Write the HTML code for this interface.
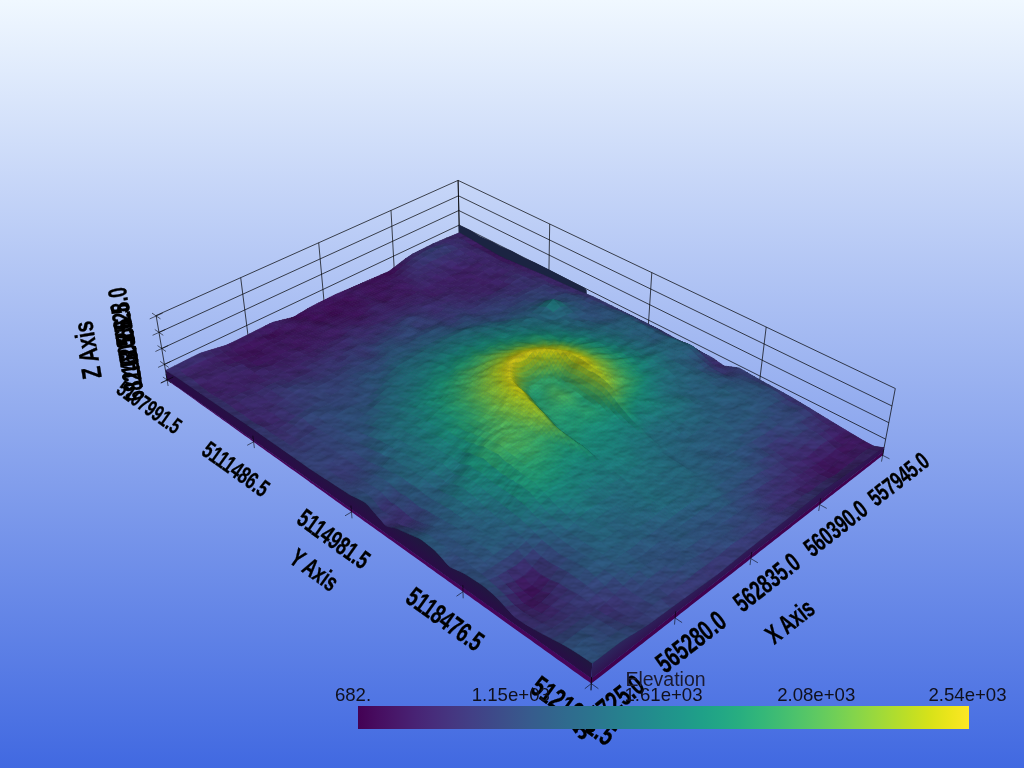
<!DOCTYPE html>
<html><head><meta charset="utf-8"><title>Elevation</title>
<style>
html,body{margin:0;padding:0;width:1024px;height:768px;overflow:hidden;background:#4169e1}
svg{display:block;position:absolute;left:0;top:0}
text{font-family:"Liberation Sans",sans-serif}
.al{font-weight:bold;text-anchor:middle;fill:#000;stroke:#000;stroke-width:.35px}
.cb{font-size:18.6px;text-anchor:middle;fill:#10101c}
.ct{font-size:19.5px;text-anchor:middle;fill:#1a1a30}
</style></head><body>
<svg width="1024" height="768" viewBox="0 0 1024 768">
<defs>
<linearGradient id="bg" x1="0" y1="0" x2="0" y2="1"><stop offset="0" stop-color="#f0f8ff"/><stop offset="1" stop-color="#4169e1"/></linearGradient>
<linearGradient id="vir" x1="0" y1="0" x2="1" y2="0"><stop offset="0.0000" stop-color="#440154"/><stop offset="0.0312" stop-color="#470d60"/><stop offset="0.0625" stop-color="#48186a"/><stop offset="0.0938" stop-color="#482374"/><stop offset="0.1250" stop-color="#472d7b"/><stop offset="0.1562" stop-color="#453781"/><stop offset="0.1875" stop-color="#424086"/><stop offset="0.2188" stop-color="#3e4989"/><stop offset="0.2500" stop-color="#3b528b"/><stop offset="0.2812" stop-color="#375b8d"/><stop offset="0.3125" stop-color="#33638d"/><stop offset="0.3438" stop-color="#2f6b8e"/><stop offset="0.3750" stop-color="#2c728e"/><stop offset="0.4062" stop-color="#297a8e"/><stop offset="0.4375" stop-color="#26828e"/><stop offset="0.4688" stop-color="#23898e"/><stop offset="0.5000" stop-color="#21918c"/><stop offset="0.5312" stop-color="#1f988b"/><stop offset="0.5625" stop-color="#1fa088"/><stop offset="0.5938" stop-color="#22a785"/><stop offset="0.6250" stop-color="#28ae80"/><stop offset="0.6562" stop-color="#32b67a"/><stop offset="0.6875" stop-color="#3fbc73"/><stop offset="0.7188" stop-color="#4ec36b"/><stop offset="0.7500" stop-color="#5ec962"/><stop offset="0.7812" stop-color="#70cf57"/><stop offset="0.8125" stop-color="#84d44b"/><stop offset="0.8438" stop-color="#98d83e"/><stop offset="0.8750" stop-color="#addc30"/><stop offset="0.9062" stop-color="#c2df23"/><stop offset="0.9375" stop-color="#d8e219"/><stop offset="0.9688" stop-color="#ece51b"/><stop offset="1.0000" stop-color="#fde725"/></linearGradient>
<linearGradient id="we" gradientUnits="userSpaceOnUse" x1="351.5" y1="512" x2="364.9" y2="493.3"><stop offset="0" stop-color="#2c0a48"/><stop offset="1" stop-color="#1b1c3d"/></linearGradient>
<linearGradient id="wn" gradientUnits="userSpaceOnUse" x1="750.8" y1="558.6" x2="737.2" y2="541.3"><stop offset="0" stop-color="#300e4e"/><stop offset="1" stop-color="#2b3063"/></linearGradient>
<filter id="tex" filterUnits="userSpaceOnUse" x="150" y="215" width="760" height="470" color-interpolation-filters="sRGB">
<feTurbulence type="fractalNoise" baseFrequency=".06 .11" numOctaves="3" seed="7" result="n"/>
<feDiffuseLighting in="n" surfaceScale="0.8" diffuseConstant="1" lighting-color="#fff" result="l"><feDistantLight azimuth="250" elevation="62"/></feDiffuseLighting>
<feComposite in="l" in2="SourceGraphic" operator="arithmetic" k1="1.13" k2="0" k3="0" k4="0" result="m"/>
<feComposite in="m" in2="SourceGraphic" operator="in"/>
</filter>
</defs>
<rect width="1024" height="768" fill="url(#bg)"/>
<path d="M167.1 380L459.5 239.4M459.5 239.4L882.6 455.3M164.4 364.4L459.2 225.1M459.2 225.1L885.7 439.2M161.8 348.5L458.8 210.5M458.8 210.5L888.8 422.7M159 332.4L458.5 195.8M458.5 195.8L892 406M156.1 315.5L458.1 180.4M458.1 180.4L895.3 388.5M459.5 239.4L458.1 180.4M394.3 270.8L391 210.4M324.3 304.5L318.7 242.7M248.7 340.8L240.7 277.7M167.1 380L156.1 315.5M459.5 239.4L458.1 180.4M548.7 284.9L549.7 224M647.7 335.5L651.8 272.6M758.3 391.9L766.2 327M882.6 455.3L895.3 388.5" stroke="#000" stroke-width=".9" fill="none" stroke-opacity=".78"/>
<polygon points="458.6,224.8 470,230 480,236.3 492,241.6 500,245.9 512,251 524,257.8 535,262.6 548,269 560,275.3 572,281.6 584,287.4 586.6,290 587,298 459,240" fill="#1b2442"/>
<polygon points="167.1,379.4 169.1,380.8 171.1,382.3 173.2,383.7 175.2,385.1 177.3,386.6 179.4,388 181.4,389.5 183.5,390.9 185.6,392.4 187.7,393.9 189.8,395.3 191.9,396.8 194,398.3 196.1,399.8 198.2,401.2 200.4,402.7 202.5,404.2 204.6,405.7 206.8,407.2 208.9,408.8 211.1,410.3 213.3,411.8 215.4,413.3 217.6,414.8 219.8,416.4 222,417.9 224.2,419.5 226.4,421 228.6,422.6 230.8,424.1 233.1,425.7 235.3,427.3 237.5,428.8 239.8,430.4 242,432 244.3,433.6 246.6,435.2 248.8,436.8 251.1,438.4 253.4,440 255.7,441.6 258,443.2 260.3,444.8 262.6,446.5 265,448.1 267.3,449.7 269.6,451.4 272,453 274.4,454.7 276.7,456.4 279.1,458 281.5,459.7 283.8,461.4 286.2,463 288.6,464.7 291,466.4 293.5,468.1 295.9,469.8 298.3,471.5 300.8,473.3 303.2,475 305.7,476.7 308.1,478.4 310.6,480.2 313.1,481.9 315.6,483.7 318.1,485.4 320.6,487.2 323.1,488.9 325.6,490.7 328.1,492.5 330.6,494.3 333.2,496.1 335.7,497.9 338.3,499.7 340.9,501.5 343.4,503.3 346,505.1 348.6,506.9 351.2,508.8 353.8,510.6 356.5,512.5 359.1,514.3 361.7,516.2 364.4,518 367,519.9 369.7,521.8 372.4,523.7 375,525.5 377.7,527.4 380.4,529.3 383.1,531.2 385.9,533.2 388.6,535.1 391.3,537 394.1,538.9 396.8,540.9 399.6,542.8 402.4,544.8 405.2,546.8 407.9,548.7 410.8,550.7 413.6,552.7 416.4,554.7 419.2,556.7 422.1,558.7 424.9,560.7 427.8,562.7 430.6,564.7 433.5,566.8 436.4,568.8 439.3,570.8 442.2,572.9 445.1,574.9 448.1,577 451,579.1 454,581.2 456.9,583.3 459.9,585.4 462.9,587.5 465.9,589.6 468.9,591.7 471.9,593.8 474.9,596 478,598.1 481,600.3 484.1,602.4 487.1,604.6 490.2,606.8 493.3,608.9 496.4,611.1 499.5,613.3 502.7,615.5 505.8,617.7 508.9,620 512.1,622.2 515.3,624.4 518.5,626.7 521.7,628.9 524.9,631.2 528.1,633.5 531.3,635.7 534.6,638 537.8,640.3 541.1,642.6 544.3,645 547.6,647.3 550.9,649.6 554.3,652 557.6,654.3 560.9,656.7 564.3,659 567.6,661.4 571,663.8 574.4,666.2 577.8,668.6 581.2,671 584.6,673.4 588.1,675.9 591.5,678.3 591.3,683.6 587.9,681.1 584.4,678.7 581,676.2 577.6,673.8 574.2,671.4 570.8,669 567.5,666.5 564.1,664.1 560.8,661.8 557.5,659.4 554.1,657 550.8,654.6 547.5,652.3 544.3,649.9 541,647.6 537.7,645.3 534.5,642.9 531.3,640.6 528,638.3 524.8,636 521.6,633.7 518.4,631.5 515.3,629.2 512.1,626.9 509,624.7 505.8,622.4 502.7,620.2 499.6,617.9 496.5,615.7 493.4,613.5 490.3,611.3 487.2,609.1 484.1,606.9 481.1,604.7 478.1,602.5 475,600.4 472,598.2 469,596.1 466,593.9 463,591.8 460,589.6 457.1,587.5 454.1,585.4 451.2,583.3 448.2,581.2 445.3,579.1 442.4,577 439.5,574.9 436.6,572.9 433.7,570.8 430.8,568.7 427.9,566.7 425.1,564.6 422.2,562.6 419.4,560.6 416.6,558.5 413.8,556.5 410.9,554.5 408.1,552.5 405.4,550.5 402.6,548.5 399.8,546.5 397,544.6 394.3,542.6 391.5,540.6 388.8,538.7 386.1,536.7 383.4,534.8 380.7,532.8 378,530.9 375.3,529 372.6,527.1 369.9,525.2 367.3,523.3 364.6,521.4 362,519.5 359.3,517.6 356.7,515.7 354.1,513.8 351.5,512 348.9,510.1 346.3,508.2 343.7,506.4 341.1,504.5 338.6,502.7 336,500.9 333.4,499 330.9,497.2 328.4,495.4 325.8,493.6 323.3,491.8 320.8,490 318.3,488.2 315.8,486.4 313.3,484.6 310.8,482.9 308.4,481.1 305.9,479.3 303.5,477.6 301,475.8 298.6,474.1 296.1,472.3 293.7,470.6 291.3,468.9 288.9,467.2 286.5,465.4 284.1,463.7 281.7,462 279.3,460.3 276.9,458.6 274.6,456.9 272.2,455.2 269.9,453.6 267.5,451.9 265.2,450.2 262.9,448.5 260.6,446.9 258.2,445.2 255.9,443.6 253.6,441.9 251.3,440.3 249.1,438.6 246.8,437 244.5,435.4 242.2,433.8 240,432.2 237.7,430.5 235.5,428.9 233.2,427.3 231,425.7 228.8,424.1 226.6,422.6 224.4,421 222.2,419.4 220,417.8 217.8,416.3 215.6,414.7 213.4,413.1 211.2,411.6 209.1,410 206.9,408.5 204.8,407 202.6,405.4 200.5,403.9 198.4,402.4 196.2,400.8 194.1,399.3 192,397.8 189.9,396.3 187.8,394.8 185.7,393.3 183.6,391.8 181.5,390.3 179.4,388.8 177.4,387.3 175.3,385.9 173.2,384.4 171.2,382.9 169.1,381.5 167.1,380" fill="#46065a"/>
<polygon points="883.3,451.4 881.3,453 879.3,454.5 877.3,456.1 875.3,457.7 873.2,459.2 871.2,460.8 869.2,462.4 867.1,464 865,465.6 863,467.2 860.9,468.8 858.8,470.4 856.8,472 854.7,473.7 852.6,475.3 850.5,476.9 848.4,478.6 846.3,480.2 844.1,481.8 842,483.5 839.9,485.1 837.7,486.8 835.6,488.5 833.4,490.1 831.3,491.8 829.1,493.5 826.9,495.2 824.8,496.9 822.6,498.6 820.4,500.3 818.2,502 816,503.7 813.8,505.4 811.6,507.1 809.3,508.9 807.1,510.6 804.9,512.3 802.6,514.1 800.4,515.8 798.1,517.6 795.8,519.4 793.6,521.1 791.3,522.9 789,524.7 786.7,526.5 784.4,528.2 782.1,530 779.8,531.8 777.5,533.6 775.1,535.5 772.8,537.3 770.4,539.1 768.1,540.9 765.7,542.8 763.4,544.6 761,546.5 758.6,548.3 756.2,550.2 753.8,552 751.4,553.9 749,555.8 746.6,557.7 744.1,559.5 741.7,561.4 739.3,563.3 736.8,565.2 734.4,567.2 731.9,569.1 729.4,571 726.9,572.9 724.4,574.9 721.9,576.8 719.4,578.8 716.9,580.7 714.4,582.7 711.9,584.7 709.3,586.6 706.8,588.6 704.2,590.6 701.6,592.6 699.1,594.6 696.5,596.6 693.9,598.6 691.3,600.7 688.7,602.7 686.1,604.7 683.4,606.8 680.8,608.8 678.1,610.9 675.5,613 672.8,615 670.2,617.1 667.5,619.2 664.8,621.3 662.1,623.4 659.4,625.5 656.7,627.6 653.9,629.7 651.2,631.9 648.5,634 645.7,636.1 642.9,638.3 640.2,640.4 637.4,642.6 634.6,644.8 631.8,647 629,649.2 626.2,651.4 623.3,653.6 620.5,655.8 617.6,658 614.8,660.2 611.9,662.5 609,664.7 606.1,666.9 603.2,669.2 600.3,671.5 597.4,673.7 594.5,676 591.5,678.3 591.3,683.6 594.2,681.3 597.2,679 600.1,676.7 603,674.5 605.9,672.2 608.8,669.9 611.6,667.7 614.5,665.4 617.3,663.2 620.2,661 623,658.8 625.8,656.5 628.7,654.3 631.5,652.1 634.3,649.9 637,647.8 639.8,645.6 642.6,643.4 645.3,641.3 648.1,639.1 650.8,637 653.6,634.8 656.3,632.7 659,630.6 661.7,628.5 664.4,626.3 667.1,624.2 669.7,622.2 672.4,620.1 675.1,618 677.7,615.9 680.3,613.8 683,611.8 685.6,609.7 688.2,607.7 690.8,605.6 693.4,603.6 696,601.6 698.6,599.6 701.1,597.5 703.7,595.5 706.3,593.5 708.8,591.5 711.3,589.6 713.9,587.6 716.4,585.6 718.9,583.6 721.4,581.7 723.9,579.7 726.4,577.8 728.9,575.8 731.3,573.9 733.8,572 736.3,570 738.7,568.1 741.2,566.2 743.6,564.3 746,562.4 748.4,560.5 750.8,558.6 753.2,556.7 755.6,554.9 758,553 760.4,551.1 762.8,549.3 765.1,547.4 767.5,545.6 769.8,543.7 772.2,541.9 774.5,540.1 776.9,538.2 779.2,536.4 781.5,534.6 783.8,532.8 786.1,531 788.4,529.2 790.7,527.4 792.9,525.6 795.2,523.8 797.5,522.1 799.7,520.3 802,518.5 804.2,516.8 806.5,515 808.7,513.3 810.9,511.5 813.1,509.8 815.3,508.1 817.5,506.4 819.7,504.6 821.9,502.9 824.1,501.2 826.3,499.5 828.5,497.8 830.6,496.1 832.8,494.4 834.9,492.7 837.1,491.1 839.2,489.4 841.3,487.7 843.5,486.1 845.6,484.4 847.7,482.7 849.8,481.1 851.9,479.4 854,477.8 856.1,476.2 858.2,474.5 860.2,472.9 862.3,471.3 864.4,469.7 866.4,468.1 868.5,466.5 870.5,464.9 872.5,463.3 874.6,461.7 876.6,460.1 878.6,458.5 880.6,456.9 882.6,455.3" fill="#40034f"/>
<polygon points="165.5,369.8 167.5,371.2 169.5,372.4 171.5,373.6 173.5,374.8 175.6,376 177.6,377.4 179.7,378.8 181.8,380.3 183.9,381.7 186,383.2 188.1,384.6 190.2,386.1 192.3,387.5 194.4,389 196.6,390.4 198.7,391.9 200.8,393.4 203,394.8 205.1,396.2 207.3,397.7 209.4,399.2 211.6,400.6 213.8,402.1 216,403.6 218.2,405 220.4,406.5 222.6,408 224.8,409.5 227,411 229.2,412.5 231.4,414 233.7,415.5 235.9,417 238.2,418.5 240.4,420 242.7,421.6 245,423.1 247.3,424.6 249.5,426.2 251.8,427.7 254.1,429.3 256.5,431 258.8,432.6 261.1,434.2 263.5,435.9 265.8,437.5 268.2,439.2 270.5,440.8 272.9,442.5 275.3,444.1 277.7,445.8 280,447.5 282.4,449.2 284.8,450.9 287.3,452.5 289.7,454.2 292.1,455.9 294.6,457.7 297,459.4 299.5,461.1 301.9,462.8 304.4,464.5 306.9,466.3 309.3,468 311.8,469.7 314.3,471.3 316.8,472.9 319.3,474.6 321.8,476.2 324.3,477.8 326.9,479.4 329.4,481.1 332,482.7 334.5,484.4 337.1,486.1 339.7,487.7 342.2,489.4 344.8,491.1 347.4,492.7 350,494.4 352.6,495.7 355.2,497 357.8,498.3 360.4,499.6 363.1,500.9 365.7,502.4 368.5,505.6 371.3,508.8 374.1,512 376.9,515.2 379.7,518.4 382.5,521.7 385.3,524.9 388,526.3 390.7,526.8 393.4,527.3 396,527.9 398.8,529 401.5,530.2 404.3,531.4 407.1,532.6 409.8,533.9 412.6,535.1 415.5,536.3 418.3,537.6 421.1,539.1 424,541.3 426.9,543.6 429.8,545.9 432.7,548.2 435.7,550.8 438.7,554.2 441.7,557.6 444.6,561 447.6,564.4 450.6,567 453.6,568.3 456.5,569.6 459.5,570.9 462.5,572.2 465.5,573.8 468.5,575.8 471.6,577.8 474.6,579.7 477.7,581.7 480.7,583.7 483.8,585.7 486.9,588.4 490,591.2 493.2,594 496.3,596.9 499.4,599.9 502.6,603.5 505.8,607.2 508.9,610.8 512.1,614.5 515.3,617.1 518.5,619.3 521.7,621.5 524.9,623.7 528.1,625.8 531.4,627.6 534.7,629.3 537.9,631.1 541.2,632.8 544.5,634.6 547.9,636.3 551.2,638.1 554.5,639.8 557.9,641.5 561.3,643.3 564.7,645.1 568.1,647.1 571.5,649.2 574.9,651.4 578.4,653.5 581.8,655.8 585.3,658.1 588.7,660.5 592.2,662.9 591.5,678.6 588.1,676.2 584.6,673.7 581.2,671.3 577.8,668.9 574.4,666.5 571,664.1 567.6,661.7 564.3,659.3 560.9,657 557.6,654.6 554.3,652.3 550.9,649.9 547.6,647.6 544.3,645.3 541.1,642.9 537.8,640.6 534.6,638.3 531.3,636 528.1,633.8 524.9,631.5 521.7,629.2 518.5,627 515.3,624.7 512.1,622.5 508.9,620.3 505.8,618 502.7,615.8 499.5,613.6 496.4,611.4 493.3,609.2 490.2,607.1 487.1,604.9 484.1,602.7 481,600.6 478,598.4 474.9,596.3 471.9,594.1 468.9,592 465.9,589.9 462.9,587.8 459.9,585.7 456.9,583.6 454,581.5 451,579.4 448.1,577.3 445.1,575.2 442.2,573.2 439.3,571.1 436.4,569.1 433.5,567.1 430.6,565 427.8,563 424.9,561 422.1,559 419.2,557 416.4,555 413.6,553 410.8,551 407.9,549 405.2,547.1 402.4,545.1 399.6,543.1 396.8,541.2 394.1,539.2 391.3,537.3 388.6,535.4 385.9,533.5 383.1,531.5 380.4,529.6 377.7,527.7 375,525.8 372.4,524 369.7,522.1 367,520.2 364.4,518.3 361.7,516.5 359.1,514.6 356.5,512.8 353.8,510.9 351.2,509.1 348.6,507.2 346,505.4 343.4,503.6 340.9,501.8 338.3,500 335.7,498.2 333.2,496.4 330.6,494.6 328.1,492.8 325.6,491 323.1,489.2 320.6,487.5 318.1,485.7 315.6,484 313.1,482.2 310.6,480.5 308.1,478.7 305.7,477 303.2,475.3 300.8,473.6 298.3,471.8 295.9,470.1 293.5,468.4 291,466.7 288.6,465 286.2,463.3 283.8,461.7 281.5,460 279.1,458.3 276.7,456.7 274.4,455 272,453.3 269.6,451.7 267.3,450 265,448.4 262.6,446.8 260.3,445.1 258,443.5 255.7,441.9 253.4,440.3 251.1,438.7 248.8,437.1 246.6,435.5 244.3,433.9 242,432.3 239.8,430.7 237.5,429.1 235.3,427.6 233.1,426 230.8,424.4 228.6,422.9 226.4,421.3 224.2,419.8 222,418.2 219.8,416.7 217.6,415.1 215.4,413.6 213.3,412.1 211.1,410.6 208.9,409.1 206.8,407.5 204.6,406 202.5,404.5 200.4,403 198.2,401.5 196.1,400.1 194,398.6 191.9,397.1 189.8,395.6 187.7,394.2 185.6,392.7 183.5,391.2 181.4,389.8 179.4,388.3 177.3,386.9 175.2,385.4 173.2,384 171.1,382.6 169.1,381.1 167.1,379.7" fill="url(#we)"/>
<polygon points="884.1,447.1 882.2,448.3 880.2,449.5 878.3,450.8 876.3,452 874.3,453.5 872.2,454.9 870.2,456.4 868.2,457.9 866.1,459.4 864.1,460.9 862,462.4 860,463.9 857.9,465.4 855.8,466.9 853.7,468.5 851.7,470 849.6,471.4 847.5,472.9 845.4,474.4 843.3,475.8 841.2,477.3 839.1,478.8 836.9,480.3 834.8,481.8 832.7,483.3 830.5,484.8 828.4,486.3 826.2,487.8 824.1,489.3 821.9,490.9 819.7,492.6 817.4,494.4 815.2,496.2 813,498 810.7,499.7 808.5,501.5 806.2,503.3 804,505.1 801.7,506.9 799.4,508.7 797.1,510.5 794.8,512.4 792.6,514.2 790.2,516 787.9,517.9 785.6,519.7 783.3,521.5 781,523.3 778.6,525.2 776.3,527 773.9,528.9 771.6,530.7 769.2,532.6 766.8,534.4 764.5,536.3 762.1,538.1 759.7,540 757.3,541.9 754.9,543.8 752.4,545.7 750,547.7 747.6,549.6 745.1,551.6 742.7,553.6 740.2,555.6 737.7,557.6 735.2,559.6 732.8,561.6 730.3,563.6 727.8,565.6 725.2,567.6 722.7,569.7 720.2,571.7 717.7,573.7 715.1,575.6 712.6,577.5 710.1,579.3 707.5,581.1 705,582.9 702.4,584.8 699.9,586.6 697.3,588.5 694.7,590.4 692.1,592.2 689.5,594.1 686.9,596 684.3,597.9 681.6,599.8 679,601.7 676.3,603.6 673.7,605.5 671,607.5 668.3,609.4 665.6,611.4 662.9,613.4 660.2,615.4 657.5,617.4 654.7,619.4 652,621.4 649.3,623.4 646.5,625.4 643.7,627.2 641,628.9 638.2,630.6 635.5,632.2 632.7,633.9 629.9,635.6 627.1,637.3 624.2,639 621.4,640.8 618.5,643 615.7,645.2 612.8,647.4 609.9,649.6 606.9,651.8 604,654 601.1,656.2 598.1,658.4 595.2,660.7 592.2,662.9 591.5,678.6 594.5,676.3 597.4,674 600.3,671.8 603.2,669.5 606.1,667.2 609,665 611.9,662.8 614.8,660.5 617.6,658.3 620.5,656.1 623.3,653.9 626.2,651.7 629,649.5 631.8,647.3 634.6,645.1 637.4,642.9 640.2,640.7 642.9,638.6 645.7,636.4 648.5,634.3 651.2,632.2 653.9,630 656.7,627.9 659.4,625.8 662.1,623.7 664.8,621.6 667.5,619.5 670.2,617.4 672.8,615.3 675.5,613.3 678.1,611.2 680.8,609.1 683.4,607.1 686.1,605 688.7,603 691.3,601 693.9,598.9 696.5,596.9 699.1,594.9 701.6,592.9 704.2,590.9 706.8,588.9 709.3,586.9 711.9,585 714.4,583 716.9,581 719.4,579.1 721.9,577.1 724.4,575.2 726.9,573.2 729.4,571.3 731.9,569.4 734.4,567.5 736.8,565.5 739.3,563.6 741.7,561.7 744.1,559.8 746.6,558 749,556.1 751.4,554.2 753.8,552.3 756.2,550.5 758.6,548.6 761,546.8 763.4,544.9 765.7,543.1 768.1,541.2 770.4,539.4 772.8,537.6 775.1,535.8 777.5,533.9 779.8,532.1 782.1,530.3 784.4,528.5 786.7,526.8 789,525 791.3,523.2 793.6,521.4 795.8,519.7 798.1,517.9 800.4,516.1 802.6,514.4 804.9,512.6 807.1,510.9 809.3,509.2 811.6,507.4 813.8,505.7 816,504 818.2,502.3 820.4,500.6 822.6,498.9 824.8,497.2 826.9,495.5 829.1,493.8 831.3,492.1 833.4,490.4 835.6,488.8 837.7,487.1 839.9,485.4 842,483.8 844.1,482.1 846.3,480.5 848.4,478.9 850.5,477.2 852.6,475.6 854.7,474 856.8,472.3 858.8,470.7 860.9,469.1 863,467.5 865,465.9 867.1,464.3 869.2,462.7 871.2,461.1 873.2,459.5 875.3,458 877.3,456.4 879.3,454.8 881.3,453.3 883.3,451.7" fill="url(#wn)"/>
<g filter="url(#tex)"><g id="terrain" transform="scale(.1)" fill="currentColor" stroke="currentColor" stroke-width="7" stroke-linejoin="round">
<path d="M4594 2325l-66 28 62 26 66-18z" color="#3b2364"/>
<path d="M4656 2361l-66 18 62 30 67-11z" color="#392261"/>
<path d="M4528 2353l-67 27 62 26 67-27z" color="#382563"/>
<path d="M4719 2398l-67 11 64 51 66-25z" color="#3c1f62"/>
<path d="M4461 2380l-67 29 62 25 67-28z" color="#392765"/>
<path d="M4590 2379l-67 27 63 25 66-22z" color="#372a65"/>
<path d="M4782 2435l-66 25 63 25 66-12z" color="#3a1b5c"/>
<path d="M4652 2409l-66 22 63 44 67-15z" color="#3b296a"/>
<path d="M4394 2409l-67 29 62 18 67-22z" color="#372965"/>
<path d="M4523 2406l-67 28 63 21 67-24z" color="#372a66"/>
<path d="M4845 2473l-66 12 64 35 66-10z" color="#391b5b"/>
<path d="M4716 2460l-67 15 64 32 66-22z" color="#372360"/>
<path d="M4586 2431l-67 24 63 36 67-16z" color="#382c69"/>
<path d="M4327 2438l-68 34 62 9 68-25z" color="#352862"/>
<path d="M4456 2434l-67 22 62 7 68-8z" color="#302c5f"/>
<path d="M4909 2510l-66 10 65 35 66-7z" color="#381857"/>
<path d="M4779 2485l-66 22 64 33 66-20z" color="#382764"/>
<path d="M4649 2475l-67 16 64 46 67-30z" color="#3a2969"/>
<path d="M4259 2472l-68 34 61 6 69-31z" color="#33275e"/>
<path d="M4519 2455l-68 8 63 54 68-26z" color="#37346e"/>
<path d="M4389 2456l-68 25 61 6 69-24z" color="#2c315e"/>
<path d="M4974 2548l-66 7 65 39 66-14z" color="#381757"/>
<path d="M4843 2520l-66 20 64 34 67-19z" color="#392664"/>
<path d="M4713 2507l-67 30 64 41 67-38z" color="#3c2769"/>
<path d="M4191 2506l-69 35 62 13 68-42z" color="#342860"/>
<path d="M4582 2491l-68 26 64 52 68-32z" color="#3b2e6f"/>
<path d="M4451 2463l-69 24 64 65 68-35z" color="#383a74"/>
<path d="M4321 2481l-69 31 62 15 68-40z" color="#2f3667"/>
<path d="M5039 2580l-66 14 65 31 66-17z" color="#391858"/>
<path d="M4908 2555l-67 19 65 40 67-20z" color="#3a2565"/>
<path d="M4777 2540l-67 38 64 38 67-42z" color="#3b2566"/>
<path d="M4646 2537l-68 32 64 34 68-25z" color="#3a2968"/>
<path d="M4122 2541l-67 44 61 12 68-43z" color="#372763"/>
<path d="M4514 2517l-68 35 64 46 68-29z" color="#3b2f6f"/>
<path d="M4252 2512l-68 42 61 16 69-43z" color="#33356a"/>
<path d="M4382 2487l-68 40 64 61 68-36z" color="#393874"/>
<path d="M5104 2608l-66 17 66 26 66-15z" color="#371957"/>
<path d="M4055 2585l-64 49 61 10 64-47z" color="#37205e"/>
<path d="M4973 2594l-67 20 66 31 66-20z" color="#382260"/>
<path d="M4710 2578l-68 25 65 53 67-40z" color="#3c2769"/>
<path d="M4841 2574l-67 42 65 34 67-36z" color="#3c2568"/>
<path d="M4578 2569l-68 29 65 45 67-40z" color="#3b2a6b"/>
<path d="M4446 2552l-68 36 64 53 68-43z" color="#3c2e6f"/>
<path d="M4184 2554l-68 43 61 15 68-42z" color="#353068"/>
<path d="M4314 2527l-69 43 64 46 69-28z" color="#383974"/>
<path d="M3991 2634l-56 44 60 14 57-48z" color="#381958"/>
<path d="M5170 2636l-66 15 67 32 65-19z" color="#381d5b"/>
<path d="M4774 2616l-67 40 65 36 67-42z" color="#3c2164"/>
<path d="M5038 2625l-66 20 66 33 66-27z" color="#382462"/>
<path d="M4642 2603l-67 40 65 50 67-37z" color="#3e266b"/>
<path d="M4906 2614l-67 36 66 29 67-34z" color="#3b2465"/>
<path d="M4510 2598l-68 43 64 41 69-39z" color="#3d296c"/>
<path d="M3935 2678l-50 36 61 18 49-40z" color="#391052"/>
<path d="M4116 2597l-64 47 62 17 63-49z" color="#362b66"/>
<path d="M4378 2588l-69 28 64 58 69-33z" color="#3c2e6e"/>
<path d="M4245 2570l-68 42 64 50 68-46z" color="#3a3573"/>
<path d="M3885 2714l-44 19 62 25 43-26z" color="#380d4e"/>
<path d="M4052 2644l-57 48 62 13 57-44z" color="#382361"/>
<path d="M4707 2656l-67 37 64 32 68-33z" color="#3c1f61"/>
<path d="M4575 2643l-69 39 65 52 69-41z" color="#3e2368"/>
<path d="M5236 2664l-65 19 66 35 66-25z" color="#3a1f5f"/>
<path d="M4839 2650l-67 42 65 21 68-34z" color="#392463"/>
<path d="M4972 2645l-67 34 66 46 67-47z" color="#3c2568"/>
<path d="M5104 2651l-66 27 66 33 67-28z" color="#3a2666"/>
<path d="M4442 2641l-69 33 64 36 69-28z" color="#3c2668"/>
<path d="M4309 2616l-68 46 64 43 68-31z" color="#3c2c6e"/>
<path d="M4177 2612l-63 49 63 33 64-32z" color="#3b3070"/>
<path d="M3841 2733l-38 17 62 25 38-17z" color="#390e4f"/>
<path d="M3995 2692l-49 40 61 10 50-37z" color="#381c5a"/>
<path d="M3803 2750l-33 14 61 26 34-15z" color="#391051"/>
<path d="M4640 2693l-69 41 65 31 68-40z" color="#3c1e61"/>
<path d="M3946 2732l-43 26 61 17 43-33z" color="#381756"/>
<path d="M4772 2692l-68 33 66 37 67-49z" color="#3b2162"/>
<path d="M4506 2682l-69 28 65 47 69-23z" color="#3c2366"/>
<path d="M4114 2661l-57 44 62 24 58-35z" color="#392967"/>
<path d="M4905 2679l-68 34 67 48 67-36z" color="#3d2569"/>
<path d="M5303 2693l-66 25 68 28 66-24z" color="#392160"/>
<path d="M5038 2678l-67 47 66 28 67-42z" color="#3b2364"/>
<path d="M5171 2683l-67 28 67 26 66-19z" color="#392563"/>
<path d="M4373 2674l-68 31 64 41 68-36z" color="#3b2869"/>
<path d="M4241 2662l-64 32 63 41 65-30z" color="#3b2c6c"/>
<path d="M3770 2764l-29 13 61 26 29-13z" color="#3a1053"/>
<path d="M3903 2758l-38 17 61 21 38-21z" color="#391455"/>
<path d="M4057 2705l-50 37 63 28 49-41z" color="#3a2363"/>
<path d="M3741 2777l-27 12 61 27 27-13z" color="#3a1153"/>
<path d="M4571 2734l-69 23 65 42 69-34z" color="#3b1d5f"/>
<path d="M4704 2725l-68 40 66 35 68-38z" color="#3d1f63"/>
<path d="M3865 2775l-34 15 62 23 33-17z" color="#391455"/>
<path d="M4837 2713l-67 49 66 37 68-38z" color="#3d2266"/>
<path d="M4971 2725l-67 36 66 29 67-37z" color="#3a1f60"/>
<path d="M4177 2694l-58 35 64 35 57-29z" color="#3b2c6c"/>
<path d="M4437 2710l-68 36 65 47 68-36z" color="#3d2669"/>
<path d="M3714 2789l-24 10 61 28 24-11z" color="#3a1053"/>
<path d="M4305 2705l-65 30 65 49 64-38z" color="#3d286b"/>
<path d="M5371 2722l-66 24 68 29 66-24z" color="#392362"/>
<path d="M4007 2742l-43 33 63 30 43-35z" color="#3b1d60"/>
<path d="M5104 2711l-67 42 67 14 67-30z" color="#372662"/>
<path d="M5237 2718l-66 19 68 30 66-21z" color="#372663"/>
<path d="M3690 2799l-23 10 61 28 23-10z" color="#3a1153"/>
<path d="M3831 2790l-29 13 62 28 29-18z" color="#3a1456"/>
<path d="M3964 2775l-38 21 63 30 38-21z" color="#3b1a5d"/>
<path d="M4119 2729l-49 41 63 28 50-34z" color="#3a2767"/>
<path d="M3667 2809l-22 10 61 28 22-10z" color="#3a1153"/>
<path d="M3802 2803l-27 13 62 32 27-17z" color="#3b1457"/>
<path d="M4636 2765l-69 34 66 36 69-35z" color="#3c1e61"/>
<path d="M4502 2757l-68 36 65 44 68-38z" color="#3e2065"/>
<path d="M4770 2762l-68 38 65 30 69-31z" color="#3c1e61"/>
<path d="M4369 2746l-64 38 64 42 65-33z" color="#3e2368"/>
<path d="M4240 2735l-57 29 64 39 58-19z" color="#3c2869"/>
<path d="M4904 2761l-68 38 66 27 68-36z" color="#3a1f60"/>
<path d="M3645 2819l-22 9 62 29 21-10z" color="#3a1154"/>
<path d="M3926 2796l-33 17 63 31 33-18z" color="#3b1a5d"/>
<path d="M3775 2816l-24 11 62 36 24-15z" color="#3c1458"/>
<path d="M5037 2753l-67 37 67 33 67-56z" color="#392462"/>
<path d="M5439 2751l-66 24 69 33 65-28z" color="#392564"/>
<path d="M4070 2770l-43 35 63 31 43-38z" color="#3b1f61"/>
<path d="M5305 2746l-66 21 68 29 66-21z" color="#362763"/>
<path d="M3623 2828l-21 10 61 30 22-11z" color="#3a1255"/>
<path d="M5171 2737l-67 30 68 23 67-23z" color="#362c66"/>
<path d="M3751 2827l-23 10 62 38 23-12z" color="#3c1459"/>
<path d="M3893 2813l-29 18 62 33 30-20z" color="#3c195d"/>
<path d="M3602 2838l-22 9 62 30 21-9z" color="#3a1255"/>
<path d="M4027 2805l-38 21 63 37 38-27z" color="#3c1b5f"/>
<path d="M3728 2837l-22 10 62 40 22-12z" color="#3d1459"/>
<path d="M4183 2764l-50 34 63 29 51-24z" color="#3b2868"/>
<path d="M3864 2831l-27 17 63 34 26-18z" color="#3c165a"/>
<path d="M4305 2784l-58 19 64 45 58-22z" color="#3b2365"/>
<path d="M4434 2793l-65 33 65 37 65-26z" color="#3c1e61"/>
<path d="M4567 2799l-68 38 65 27 69-29z" color="#3b1e60"/>
<path d="M3580 2847l-21 9 61 29 22-8z" color="#3a1355"/>
<path d="M4702 2800l-69 35 65 27 69-32z" color="#3a1e5f"/>
<path d="M4836 2799l-69 31 67 35 68-39z" color="#3b1e5f"/>
<path d="M4970 2790l-68 36 67 38 68-41z" color="#3c2366"/>
<path d="M3706 2847l-21 10 62 41 21-11z" color="#3d145a"/>
<path d="M3989 2826l-33 18 63 39 33-20z" color="#3d1a5f"/>
<path d="M3837 2848l-24 15 63 32 24-13z" color="#3c1358"/>
<path d="M5507 2780l-65 28 69 38 66-34z" color="#3a2565"/>
<path d="M3559 2856l-22 10 61 25 22-6z" color="#391454"/>
<path d="M5104 2767l-67 56 67 20 68-53z" color="#382966"/>
<path d="M4133 2798l-43 38 63 27 43-36z" color="#3a2363"/>
<path d="M3685 2857l-22 11 63 42 21-12z" color="#3d145a"/>
<path d="M5373 2775l-66 21 69 29 66-17z" color="#352c65"/>
<path d="M5239 2767l-67 23 68 38 67-32z" color="#372f6a"/>
<path d="M3813 2863l-23 12 63 29 23-9z" color="#3b1255"/>
<path d="M3956 2844l-30 20 64 34 29-15z" color="#3d185d"/>
<path d="M3537 2866l-21 9 60 23 22-7z" color="#381554"/>
<path d="M3663 2868l-21 9 62 44 22-11z" color="#3d1359"/>
<path d="M4247 2803l-51 24 65 49 50-28z" color="#3d276a"/>
<path d="M4090 2836l-38 27 64 31 37-31z" color="#3b1d5f"/>
<path d="M3790 2875l-22 12 63 26 22-9z" color="#3a1254"/>
<path d="M4369 2826l-58 22 65 40 58-25z" color="#3b2062"/>
<path d="M3926 2864l-26 18 63 28 27-12z" color="#3b175a"/>
<path d="M4499 2837l-65 26 66 32 64-31z" color="#391e5e"/>
<path d="M3516 2875l-22 9 60 23 22-9z" color="#381655"/>
<path d="M3642 2877l-22 8 63 45 21-9z" color="#3c1459"/>
<path d="M4633 2835l-69 29 66 36 68-38z" color="#3b1f61"/>
<path d="M4767 2830l-69 32 67 33 69-30z" color="#3b2162"/>
<path d="M4902 2826l-68 39 67 30 68-31z" color="#3b2162"/>
<path d="M3768 2887l-21 11 62 25 22-10z" color="#391254"/>
<path d="M4052 2863l-33 20 64 33 33-22z" color="#3c1a5e"/>
<path d="M5037 2823l-68 41 67 18 68-39z" color="#38215f"/>
<path d="M3494 2884l-22 10 61 25 21-12z" color="#391657"/>
<path d="M3900 2882l-24 13 62 24 25-9z" color="#391657"/>
<path d="M3620 2885l-22 6 63 46 22-7z" color="#3c1559"/>
<path d="M5577 2812l-66 34 70 25 65-28z" color="#382563"/>
<path d="M4196 2827l-43 36 65 40 43-27z" color="#3d2468"/>
<path d="M3747 2898l-21 12 62 25 21-12z" color="#391254"/>
<path d="M5172 2790l-68 53 68 29 68-44z" color="#392f6d"/>
<path d="M5442 2808l-66 17 69 21 66 0z" color="#342c63"/>
<path d="M5307 2796l-67 32 69 37 67-40z" color="#39306d"/>
<path d="M3472 2894l-22 9 61 30 22-14z" color="#3a1759"/>
<path d="M4019 2883l-29 15 63 36 30-18z" color="#3c195d"/>
<path d="M3876 2895l-23 9 62 25 23-10z" color="#381757"/>
<path d="M4311 2848l-50 28 65 49 50-37z" color="#3e2166"/>
<path d="M3598 2891l-22 7 63 45 22-6z" color="#3c165a"/>
<path d="M3726 2910l-22 11 62 25 22-11z" color="#391253"/>
<path d="M4153 2863l-37 31 64 30 38-21z" color="#3c1f63"/>
<path d="M3450 2903l-22 10 62 35 21-15z" color="#3c175a"/>
<path d="M4434 2863l-58 25 66 37 58-30z" color="#3c2164"/>
<path d="M3853 2904l-22 9 62 30 22-14z" color="#3a1859"/>
<path d="M3990 2898l-27 12 64 37 26-13z" color="#3c185d"/>
<path d="M3576 2898l-22 9 63 45 22-9z" color="#3d185d"/>
<path d="M3704 2921l-21 9 62 25 21-9z" color="#381252"/>
<path d="M4564 2864l-64 31 65 30 65-25z" color="#3b2162"/>
<path d="M4698 2862l-68 38 66 32 69-37z" color="#3b2062"/>
<path d="M4834 2865l-69 30 67 37 69-37z" color="#3c2264"/>
<path d="M3428 2913l-22 9 62 41 22-15z" color="#3d165b"/>
<path d="M4969 2864l-68 31 67 22 68-35z" color="#37215d"/>
<path d="M3831 2913l-22 10 63 36 21-16z" color="#3c185c"/>
<path d="M4261 2876l-43 27 65 43 43-21z" color="#3e1e64"/>
<path d="M4116 2894l-33 22 63 26 34-18z" color="#3b1b5d"/>
<path d="M3554 2907l-21 12 63 44 21-11z" color="#3e195f"/>
<path d="M3683 2930l-22 7 62 25 22-7z" color="#381352"/>
<path d="M3963 2910l-25 9 64 38 25-10z" color="#3c195c"/>
<path d="M5104 2843l-68 39 68 20 68-30z" color="#362a64"/>
<path d="M3406 2922l-22 10 63 44 21-13z" color="#3d165c"/>
<path d="M5646 2843l-65 28 70 26 65-22z" color="#362863"/>
<path d="M3809 2923l-21 12 63 41 21-17z" color="#3d175c"/>
<path d="M5240 2828l-68 44 69 25 68-32z" color="#382e6b"/>
<path d="M3533 2919l-22 14 63 43 22-13z" color="#3e175e"/>
<path d="M5511 2846l-66 0 70 32 66-7z" color="#302c60"/>
<path d="M4376 2888l-50 37 65 29 51-29z" color="#3c1f62"/>
<path d="M5376 2825l-67 40 69 17 67-36z" color="#342f66"/>
<path d="M4083 2916l-30 18 64 23 29-15z" color="#3a195a"/>
<path d="M3384 2932l-22 9 63 47 22-12z" color="#3d165c"/>
<path d="M3661 2937l-22 6 62 27 22-8z" color="#381453"/>
<path d="M3938 2919l-23 10 64 36 23-8z" color="#3c1a5d"/>
<path d="M3788 2935l-22 11 64 45 21-15z" color="#3e155c"/>
<path d="M3511 2933l-21 15 63 44 21-16z" color="#3e155b"/>
<path d="M4218 2903l-38 21 64 31 39-9z" color="#3b1e60"/>
<path d="M4500 2895l-58 30 65 23 58-23z" color="#392160"/>
<path d="M3362 2941l-22 10 63 49 22-12z" color="#3e165c"/>
<path d="M3639 2943l-22 9 62 27 22-9z" color="#391657"/>
<path d="M3915 2929l-22 14 64 31 22-9z" color="#3c1a5d"/>
<path d="M3766 2946l-21 9 63 46 22-10z" color="#3d155a"/>
<path d="M3490 2948l-22 15 63 44 22-15z" color="#3d1259"/>
<path d="M4053 2934l-26 13 63 23 27-13z" color="#391858"/>
<path d="M4630 2900l-65 25 67 35 64-28z" color="#3a2161"/>
<path d="M4765 2895l-69 37 67 20 69-20z" color="#392160"/>
<path d="M4901 2895l-69 37 67 22 69-37z" color="#382260"/>
<path d="M4326 2925l-43 21 65 27 43-19z" color="#3a1b5b"/>
<path d="M3340 2951l-22 11 63 49 22-11z" color="#3e155c"/>
<path d="M3893 2943l-21 16 63 26 22-11z" color="#3b185b"/>
<path d="M3468 2963l-21 13 62 44 22-13z" color="#3d1057"/>
<path d="M3617 2952l-21 11 62 28 21-12z" color="#3a1759"/>
<path d="M3745 2955l-22 7 63 45 22-6z" color="#3c1559"/>
<path d="M4180 2924l-34 18 65 22 33-9z" color="#381f5d"/>
<path d="M5036 2882l-68 35 68 17 68-32z" color="#352b65"/>
<path d="M4027 2947l-25 10 64 24 24-11z" color="#381958"/>
<path d="M5172 2872l-68 30 69 32 68-37z" color="#372c68"/>
<path d="M5716 2875l-65 22 71 33 65-22z" color="#372b67"/>
<path d="M3318 2962l-22 11 63 50 22-12z" color="#3e145c"/>
<path d="M3872 2959l-21 17 63 21 21-12z" color="#3a1657"/>
<path d="M3596 2963l-22 13 62 30 22-15z" color="#3b1659"/>
<path d="M3447 2976l-22 12 62 43 22-11z" color="#3d0f55"/>
<path d="M5581 2871l-66 7 70 40 66-21z" color="#333168"/>
<path d="M5309 2865l-68 32 69 13 68-28z" color="#312f63"/>
<path d="M3723 2962l-22 8 63 41 22-4z" color="#3b175a"/>
<path d="M4442 2925l-51 29 66 14 50-20z" color="#36205c"/>
<path d="M4002 2957l-23 8 64 27 23-11z" color="#381a59"/>
<path d="M5445 2846l-67 36 70 24 67-28z" color="#33386d"/>
<path d="M3851 2976l-21 15 63 18 21-12z" color="#391454"/>
<path d="M3574 2976l-21 16 62 29 21-15z" color="#3b1558"/>
<path d="M4146 2942l-29 15 64 21 30-14z" color="#38205e"/>
<path d="M3296 2973l-22 11 63 50 22-11z" color="#3e145b"/>
<path d="M3425 2988l-22 12 62 40 22-9z" color="#3c0f54"/>
<path d="M4283 2946l-39 9 65 29 39-11z" color="#361c59"/>
<path d="M4565 2925l-58 23 67 36 58-24z" color="#3a2565"/>
<path d="M3701 2970l-22 9 63 38 22-6z" color="#3c195c"/>
<path d="M3553 2992l-22 15 62 29 22-15z" color="#3b1256"/>
<path d="M3830 2991l-22 10 63 19 22-11z" color="#371251"/>
<path d="M3979 2965l-22 9 64 30 22-12z" color="#3a1b5c"/>
<path d="M3274 2984l-22 11 63 50 22-11z" color="#3e135a"/>
<path d="M4696 2932l-64 28 66 29 65-37z" color="#382461"/>
<path d="M3403 3000l-22 11 62 37 22-8z" color="#3b0f54"/>
<path d="M4117 2957l-27 13 64 23 27-15z" color="#38205e"/>
<path d="M4832 2932l-69 20 67 29 69-27z" color="#36245f"/>
<path d="M3531 3007l-22 13 62 30 22-14z" color="#3b1154"/>
<path d="M3679 2979l-21 12 63 36 21-10z" color="#3c1a5e"/>
<path d="M3957 2974l-22 11 64 32 22-13z" color="#3b1c5e"/>
<path d="M3808 3001l-22 6 63 20 22-7z" color="#35134f"/>
<path d="M4391 2954l-43 19 65 17 44-22z" color="#35215b"/>
<path d="M3252 2995l-22 11 62 49 23-10z" color="#3e135a"/>
<path d="M4968 2917l-69 37 68 10 69-30z" color="#342961"/>
<path d="M4244 2955l-33 9 65 32 33-12z" color="#38215f"/>
<path d="M3381 3011l-22 12 62 34 22-9z" color="#3b1054"/>
<path d="M5104 2902l-68 32 69 29 68-29z" color="#372e69"/>
<path d="M4090 2970l-24 11 64 25 24-13z" color="#39205f"/>
<path d="M3509 3020l-22 11 62 30 22-11z" color="#3a1053"/>
<path d="M5787 2908l-65 22 72 21 65-15z" color="#332b63"/>
<path d="M3658 2991l-22 15 63 33 22-12z" color="#3c195d"/>
<path d="M3935 2985l-21 12 64 33 21-13z" color="#3b1c5f"/>
<path d="M5241 2897l-68 37 69 9 68-33z" color="#303063"/>
<path d="M3230 3006l-22 11 62 47 22-9z" color="#3d145a"/>
<path d="M5651 2897l-66 21 71 17 66-5z" color="#313165"/>
<path d="M3786 3007l-22 4 63 22 22-6z" color="#341550"/>
<path d="M3359 3023l-22 11 61 33 23-10z" color="#3b1054"/>
<path d="M5515 2878l-67 28 70 40 67-28z" color="#353870"/>
<path d="M4507 2948l-50 20 66 37 51-21z" color="#3a2867"/>
<path d="M5378 2882l-68 28 70 22 68-26z" color="#303869"/>
<path d="M3487 3031l-22 9 62 32 22-11z" color="#3a0f52"/>
<path d="M3636 3006l-21 15 62 31 22-13z" color="#3c165a"/>
<path d="M4066 2981l-23 11 64 25 23-11z" color="#392060"/>
<path d="M3914 2997l-21 12 63 34 22-13z" color="#3b1c5f"/>
<path d="M4211 2964l-30 14 65 34 30-16z" color="#3b2465"/>
<path d="M3208 3017l-23 11 62 45 23-9z" color="#3d145a"/>
<path d="M4348 2973l-39 11 66 24 38-18z" color="#36235e"/>
<path d="M3337 3034l-22 11 61 35 22-13z" color="#3b1054"/>
<path d="M4632 2960l-58 24 66 26 58-21z" color="#382462"/>
<path d="M3764 3011l-22 6 63 21 22-5z" color="#351853"/>
<path d="M3615 3021l-22 15 63 30 21-14z" color="#3b1558"/>
<path d="M3465 3040l-22 8 62 33 22-9z" color="#3a1053"/>
<path d="M4043 2992l-22 12 64 25 22-12z" color="#3a2060"/>
<path d="M3893 3009l-22 11 64 33 21-10z" color="#3b1c5e"/>
<path d="M4763 2952l-65 37 68 24 64-32z" color="#382966"/>
<path d="M3185 3028l-22 11 62 42 22-8z" color="#3d145a"/>
<path d="M4181 2978l-27 15 66 35 26-16z" color="#3b2466"/>
<path d="M3315 3045l-23 10 63 40 21-15z" color="#3c1055"/>
<path d="M3593 3036l-22 14 63 28 22-12z" color="#3a1356"/>
<path d="M3742 3017l-21 10 62 18 22-7z" color="#361a57"/>
<path d="M4899 2954l-69 27 68 18 69-35z" color="#332a61"/>
<path d="M4021 3004l-22 13 64 24 22-12z" color="#3a1f5f"/>
<path d="M3443 3048l-22 9 62 32 22-8z" color="#3a1154"/>
<path d="M3871 3020l-22 7 64 35 22-9z" color="#3a1c5d"/>
<path d="M4457 2968l-44 22 66 33 44-18z" color="#3a2968"/>
<path d="M4309 2984l-33 12 65 27 34-15z" color="#382663"/>
<path d="M3292 3055l-22 9 63 46 22-15z" color="#3d0f55"/>
<path d="M3163 3039l-22 12 61 39 23-9z" color="#3d155a"/>
<path d="M5036 2934l-69 30 68 24 70-25z" color="#343067"/>
<path d="M4154 2993l-24 13 65 34 25-12z" color="#3b2365"/>
<path d="M3571 3050l-22 11 63 29 22-12z" color="#3a1355"/>
<path d="M5173 2934l-68 29 69 21 68-41z" color="#313265"/>
<path d="M5859 2936l-65 15 72 26 65-13z" color="#313063"/>
<path d="M3999 3017l-21 13 64 23 21-12z" color="#3a1d5e"/>
<path d="M3721 3027l-22 12 62 15 22-9z" color="#361b58"/>
<path d="M3421 3057l-23 10 63 33 22-11z" color="#3b1256"/>
<path d="M3849 3027l-22 6 64 36 22-7z" color="#391d5d"/>
<path d="M5722 2930l-66 5 72 20 66-4z" color="#2b315d"/>
<path d="M3270 3064l-23 9 63 50 23-13z" color="#3d0f55"/>
<path d="M5310 2910l-68 33 70 27 68-38z" color="#313c6d"/>
<path d="M4574 2984l-51 21 67 21 50-16z" color="#352660"/>
<path d="M5448 2906l-68 26 71 38 67-24z" color="#323c6f"/>
<path d="M3141 3051l-23 11 61 37 23-9z" color="#3c1559"/>
<path d="M5585 2918l-67 28 72 9 66-20z" color="#2c3461"/>
<path d="M3549 3061l-22 11 63 29 22-11z" color="#3a1355"/>
<path d="M4130 3006l-23 11 65 32 23-9z" color="#3a2363"/>
<path d="M4276 2996l-30 16 65 23 30-12z" color="#382764"/>
<path d="M3978 3030l-22 13 64 22 22-12z" color="#391c5c"/>
<path d="M3699 3039l-22 13 62 13 22-11z" color="#371b58"/>
<path d="M3398 3067l-22 13 63 32 22-12z" color="#3b1256"/>
<path d="M4413 2990l-38 18 66 29 38-14z" color="#392966"/>
<path d="M4698 2989l-58 21 68 30 58-27z" color="#362763"/>
<path d="M3247 3073l-22 8 63 51 22-9z" color="#3c1055"/>
<path d="M3827 3033l-22 5 64 37 22-6z" color="#391e5e"/>
<path d="M3118 3062l-22 12 61 36 22-11z" color="#3c1559"/>
<path d="M3527 3072l-22 9 63 32 22-12z" color="#3a1356"/>
<path d="M3677 3052l-21 14 61 13 22-14z" color="#371a58"/>
<path d="M4107 3017l-22 12 65 28 22-8z" color="#392362"/>
<path d="M3956 3043l-21 10 64 22 21-10z" color="#381b5a"/>
<path d="M3376 3080l-21 15 62 32 22-15z" color="#3b1054"/>
<path d="M4246 3012l-26 16 65 18 26-11z" color="#362661"/>
<path d="M4830 2981l-64 32 67 14 65-28z" color="#332c63"/>
<path d="M3096 3074l-23 13 61 36 23-13z" color="#3c1459"/>
<path d="M3225 3081l-23 9 63 49 23-7z" color="#3c1156"/>
<path d="M3505 3081l-22 8 63 36 22-12z" color="#3b1457"/>
<path d="M3805 3038l-22 7 64 36 22-6z" color="#392160"/>
<path d="M3656 3066l-22 12 62 17 21-16z" color="#381958"/>
<path d="M3355 3095l-22 15 62 33 22-16z" color="#3b0d52"/>
<path d="M3935 3053l-22 9 64 23 22-10z" color="#371b59"/>
<path d="M4085 3029l-22 12 65 24 22-8z" color="#382461"/>
<path d="M4523 3005l-44 18 67 25 44-22z" color="#362964"/>
<path d="M4967 2964l-69 35 69 22 68-33z" color="#333369"/>
<path d="M4375 3008l-34 15 66 29 34-15z" color="#382966"/>
<path d="M5105 2963l-70 25 70 34 69-38z" color="#34366c"/>
<path d="M3073 3087l-22 14 61 36 22-14z" color="#3c1358"/>
<path d="M5931 2964l-65 13 71 34 65-11z" color="#323368"/>
<path d="M4220 3028l-25 12 65 15 25-9z" color="#35255f"/>
<path d="M3634 3078l-22 12 62 23 22-18z" color="#391858"/>
<path d="M3483 3089l-22 11 63 37 22-12z" color="#3c1458"/>
<path d="M3202 3090l-23 9 63 47 23-7z" color="#3c1358"/>
<path d="M3333 3110l-23 13 62 33 23-13z" color="#3a0b50"/>
<path d="M3783 3045l-22 9 64 36 22-9z" color="#3a2363"/>
<path d="M5242 2943l-68 41 70 19 68-33z" color="#313a6d"/>
<path d="M4063 3041l-21 12 64 22 22-10z" color="#372461"/>
<path d="M3913 3062l-22 7 64 25 22-9z" color="#371c5a"/>
<path d="M3051 3101l-22 13 61 38 22-15z" color="#3c1157"/>
<path d="M5380 2932l-68 38 71 25 68-25z" color="#313f70"/>
<path d="M4640 3010l-50 16 67 36 51-22z" color="#372d68"/>
<path d="M5518 2946l-67 24 71 24 68-39z" color="#2e3b69"/>
<path d="M5794 2951l-66 4 73 29 65-7z" color="#2b3b65"/>
<path d="M3612 3090l-22 11 63 29 21-17z" color="#3a1759"/>
<path d="M3461 3100l-22 12 62 36 23-11z" color="#3c1459"/>
<path d="M4341 3023l-30 12 67 34 29-17z" color="#382a68"/>
<path d="M5656 2935l-66 20 71 29 67-29z" color="#2c406b"/>
<path d="M3310 3123l-22 9 62 33 22-9z" color="#390b4e"/>
<path d="M4195 3040l-23 9 65 16 23-10z" color="#34265e"/>
<path d="M3179 3099l-22 11 63 47 22-11z" color="#3d145a"/>
<path d="M3761 3054l-22 11 64 35 22-10z" color="#3b2465"/>
<path d="M4042 3053l-22 12 65 20 21-10z" color="#372461"/>
<path d="M4479 3023l-38 14 66 26 39-15z" color="#352b65"/>
<path d="M3029 3114l-23 14 61 38 23-14z" color="#3c1056"/>
<path d="M3891 3069l-22 6 64 29 22-10z" color="#381e5c"/>
<path d="M3590 3101l-22 12 63 34 22-17z" color="#3b1659"/>
<path d="M4766 3013l-58 27 68 22 57-35z" color="#342d65"/>
<path d="M3439 3112l-22 15 62 32 22-11z" color="#3c1357"/>
<path d="M3157 3110l-23 13 63 47 23-13z" color="#3e135a"/>
<path d="M3288 3132l-23 7 62 34 23-8z" color="#380c4d"/>
<path d="M4172 3049l-22 8 65 20 22-12z" color="#352761"/>
<path d="M3739 3065l-22 14 64 33 22-12z" color="#3b2465"/>
<path d="M4020 3065l-21 10 64 21 22-11z" color="#372460"/>
<path d="M4311 3035l-26 11 66 40 27-17z" color="#392c6a"/>
<path d="M3006 3128l-23 13 62 38 22-13z" color="#3c0e54"/>
<path d="M3568 3113l-22 12 63 36 22-14z" color="#3c1459"/>
<path d="M3869 3075l-22 6 65 33 21-10z" color="#39205f"/>
<path d="M4898 2999l-65 28 69 27 65-33z" color="#33346a"/>
<path d="M3417 3127l-22 16 62 26 22-10z" color="#3a1255"/>
<path d="M3134 3123l-22 14 63 47 22-14z" color="#3e1259"/>
<path d="M3717 3079l-21 16 63 31 22-14z" color="#3b2264"/>
<path d="M4590 3026l-44 22 67 34 44-20z" color="#392f6c"/>
<path d="M6002 3000l-65 11 67 22 64 0z" color="#303364"/>
<path d="M4150 3057l-22 8 65 25 22-13z" color="#372864"/>
<path d="M5035 2988l-68 33 69 31 69-30z" color="#34396f"/>
<path d="M2983 3141l-22 14 61 36 23-12z" color="#3b0d52"/>
<path d="M4441 3037l-34 15 67 24 33-13z" color="#352e67"/>
<path d="M3265 3139l-23 7 62 34 23-7z" color="#380e50"/>
<path d="M3999 3075l-22 10 64 21 22-10z" color="#372460"/>
<path d="M3546 3125l-22 12 63 36 22-12z" color="#3c1358"/>
<path d="M4285 3046l-25 9 66 43 25-12z" color="#392d6b"/>
<path d="M5174 2984l-69 38 70 15 69-34z" color="#2f3868"/>
<path d="M3847 3081l-22 9 65 35 22-11z" color="#3a2262"/>
<path d="M3395 3143l-23 13 62 23 23-10z" color="#391152"/>
<path d="M3112 3137l-22 15 62 44 23-12z" color="#3d1057"/>
<path d="M3696 3095l-22 18 64 28 21-15z" color="#3b1f61"/>
<path d="M5866 2977l-65 7 71 44 65-17z" color="#2f3f6e"/>
<path d="M5312 2970l-68 33 70 25 69-33z" color="#2f3d6c"/>
<path d="M4128 3065l-22 10 66 29 21-14z" color="#382966"/>
<path d="M2961 3155l-23 13 61 33 23-10z" color="#3a0b50"/>
<path d="M3977 3085l-22 9 65 22 21-10z" color="#372460"/>
<path d="M4708 3040l-51 22 68 26 51-26z" color="#352e67"/>
<path d="M3242 3146l-22 11 61 32 23-9z" color="#3a1053"/>
<path d="M3524 3137l-23 11 63 34 23-9z" color="#3b1357"/>
<path d="M5451 2970l-68 25 71 11 68-12z" color="#2a3c65"/>
<path d="M3674 3113l-21 17 63 24 22-13z" color="#3a1c5d"/>
<path d="M3825 3090l-22 10 65 36 22-11z" color="#3b2364"/>
<path d="M5590 2955l-68 39 72 15 67-25z" color="#2c436c"/>
<path d="M3090 3152l-23 14 62 39 23-9z" color="#3c0f55"/>
<path d="M4260 3055l-23 10 66 41 23-8z" color="#392e6b"/>
<path d="M4407 3052l-29 17 66 24 30-17z" color="#362e68"/>
<path d="M3372 3156l-22 9 62 24 22-10z" color="#381150"/>
<path d="M5728 2955l-67 29 73 27 67-27z" color="#2d456f"/>
<path d="M4106 3075l-21 10 65 32 22-13z" color="#392967"/>
<path d="M4546 3048l-39 15 68 31 38-12z" color="#362e68"/>
<path d="M2938 3168l-23 8 60 31 24-6z" color="#370b4b"/>
<path d="M3220 3157l-23 13 62 32 22-13z" color="#3b1054"/>
<path d="M3955 3094l-22 10 65 22 22-10z" color="#372561"/>
<path d="M3653 3130l-22 17 63 20 22-13z" color="#391a5a"/>
<path d="M3501 3148l-22 11 63 32 22-9z" color="#3a1356"/>
<path d="M3803 3100l-22 12 65 35 22-11z" color="#3b2365"/>
<path d="M4833 3027l-57 35 68 23 58-31z" color="#34356c"/>
<path d="M3067 3166l-22 13 61 30 23-4z" color="#3a0f52"/>
<path d="M3350 3165l-23 8 62 25 23-9z" color="#371151"/>
<path d="M4237 3065l-22 12 66 36 22-7z" color="#382f6b"/>
<path d="M4378 3069l-27 17 67 27 26-20z" color="#382c69"/>
<path d="M6068 3033l-64 0 59 31 64-2z" color="#303466"/>
<path d="M4085 3085l-22 11 66 32 21-11z" color="#392967"/>
<path d="M3197 3170l-22 14 61 31 23-13z" color="#3a0f52"/>
<path d="M3631 3147l-22 14 63 18 22-12z" color="#381857"/>
<path d="M3933 3104l-21 10 64 23 22-11z" color="#372561"/>
<path d="M2915 3176l-24 6 61 29 23-4z" color="#350e4c"/>
<path d="M3479 3159l-22 10 62 29 23-7z" color="#391455"/>
<path d="M3781 3112l-22 14 65 33 22-12z" color="#3b2264"/>
<path d="M4967 3021l-65 33 69 25 65-27z" color="#32396c"/>
<path d="M4657 3062l-44 20 68 22 44-16z" color="#332f65"/>
<path d="M3045 3179l-23 12 60 23 24-5z" color="#370f4f"/>
<path d="M3327 3173l-23 7 62 28 23-10z" color="#381353"/>
<path d="M4215 3077l-22 13 66 29 22-6z" color="#372f6a"/>
<path d="M5105 3022l-69 30 70 25 69-40z" color="#30386a"/>
<path d="M4351 3086l-25 12 67 31 25-16z" color="#382b68"/>
<path d="M4507 3063l-33 13 67 29 34-11z" color="#343068"/>
<path d="M4063 3096l-22 10 66 30 22-8z" color="#382966"/>
<path d="M3175 3184l-23 12 62 31 22-12z" color="#3a0e51"/>
<path d="M3609 3161l-22 12 62 18 23-12z" color="#371755"/>
<path d="M3912 3114l-22 11 64 22 22-10z" color="#372561"/>
<path d="M5937 3011l-65 17 66 26 66-21z" color="#2c3d67"/>
<path d="M3759 3126l-21 15 64 30 22-12z" color="#3b2163"/>
<path d="M3457 3169l-23 10 63 27 22-8z" color="#381555"/>
<path d="M2891 3182l-23 6 60 27 24-4z" color="#35114e"/>
<path d="M5244 3003l-69 34 70 18 69-27z" color="#2c406b"/>
<path d="M3022 3191l-23 10 60 20 23-7z" color="#36104e"/>
<path d="M4193 3090l-21 14 66 24 21-9z" color="#362e68"/>
<path d="M3304 3180l-23 9 63 30 22-11z" color="#3a1456"/>
<path d="M4326 3098l-23 8 67 35 23-12z" color="#382a67"/>
<path d="M3152 3196l-23 9 62 31 23-9z" color="#380e4f"/>
<path d="M4041 3106l-21 10 65 28 22-8z" color="#372965"/>
<path d="M3587 3173l-23 9 63 21 22-12z" color="#371755"/>
<path d="M4776 3062l-51 26 68 25 51-28z" color="#33346a"/>
<path d="M5801 2984l-67 27 71 32 67-15z" color="#2c4770"/>
<path d="M5383 2995l-69 33 72 8 68-30z" color="#283f65"/>
<path d="M3738 3141l-22 13 64 29 22-12z" color="#3a2161"/>
<path d="M3890 3125l-22 11 64 22 22-11z" color="#372561"/>
<path d="M4474 3076l-30 17 67 27 30-15z" color="#35336b"/>
<path d="M6127 3062l-64 2 51 26 64-2z" color="#303466"/>
<path d="M5661 2984l-67 25 73 20 67-18z" color="#284469"/>
<path d="M3434 3179l-22 10 62 26 23-9z" color="#381656"/>
<path d="M5522 2994l-68 12 73 7 67-4z" color="#243e5e"/>
<path d="M4613 3082l-38 12 67 24 39-14z" color="#313165"/>
<path d="M2868 3188l-24 5 60 28 24-6z" color="#361451"/>
<path d="M4172 3104l-22 13 66 20 22-9z" color="#352d66"/>
<path d="M3281 3189l-22 13 62 27 23-10z" color="#3a1456"/>
<path d="M2999 3201l-24 6 61 24 23-10z" color="#36124f"/>
<path d="M3564 3182l-22 9 63 24 22-12z" color="#381756"/>
<path d="M4020 3116l-22 10 65 26 22-8z" color="#372965"/>
<path d="M4303 3106l-22 7 67 36 22-8z" color="#362b66"/>
<path d="M3716 3154l-22 13 64 28 22-12z" color="#3a2060"/>
<path d="M3129 3205l-23 4 61 34 24-7z" color="#37104f"/>
<path d="M3868 3136l-22 11 64 22 22-11z" color="#372562"/>
<path d="M4902 3054l-58 31 69 26 58-32z" color="#323a6d"/>
<path d="M3412 3189l-23 9 62 27 23-10z" color="#391757"/>
<path d="M4444 3093l-26 20 67 24 26-17z" color="#35336b"/>
<path d="M4150 3117l-21 11 65 18 22-9z" color="#342b63"/>
<path d="M3259 3202l-23 13 62 24 23-10z" color="#391455"/>
<path d="M2844 3193l-25 6 60 30 25-8z" color="#371755"/>
<path d="M2975 3207l-23 4 61 32 23-12z" color="#381454"/>
<path d="M3694 3167l-22 12 63 28 23-12z" color="#3a2060"/>
<path d="M3542 3191l-23 7 63 28 23-11z" color="#391858"/>
<path d="M3998 3126l-22 11 65 24 22-9z" color="#362a65"/>
<path d="M3846 3147l-22 12 64 23 22-13z" color="#372562"/>
<path d="M5036 3052l-65 27 70 28 65-30z" color="#303c6c"/>
<path d="M4281 3113l-22 6 67 37 22-7z" color="#362d67"/>
<path d="M3106 3209l-24 5 62 35 23-6z" color="#381352"/>
<path d="M4725 3088l-44 16 68 33 44-24z" color="#34356c"/>
<path d="M6004 3033l-66 21 60 16 65-6z" color="#2a4169"/>
<path d="M3389 3198l-23 10 63 29 22-12z" color="#3a1759"/>
<path d="M4575 3094l-34 11 68 28 33-15z" color="#33356a"/>
<path d="M4418 3113l-25 16 67 23 25-15z" color="#35316a"/>
<path d="M6178 3088l-64 2 46 12 63 8z" color="#2d315f"/>
<path d="M3236 3215l-22 12 61 21 23-9z" color="#381353"/>
<path d="M4129 3128l-22 8 65 18 22-8z" color="#332b61"/>
<path d="M5175 3037l-69 40 70 17 69-39z" color="#2c3f6a"/>
<path d="M3672 3179l-23 12 64 28 22-12z" color="#3a1f60"/>
<path d="M2952 3211l-24 4 62 42 23-14z" color="#3a1658"/>
<path d="M3824 3159l-22 12 64 24 22-13z" color="#382462"/>
<path d="M3976 3137l-22 10 65 24 22-10z" color="#362a65"/>
<path d="M3519 3198l-22 8 63 31 22-11z" color="#391a5a"/>
<path d="M2819 3199l-27 7 61 35 26-12z" color="#391a5a"/>
<path d="M5872 3028l-67 15 66 42 67-31z" color="#2d4670"/>
<path d="M4259 3119l-21 9 66 34 22-6z" color="#352f68"/>
<path d="M3082 3214l-23 7 62 37 23-9z" color="#3a1658"/>
<path d="M3366 3208l-22 11 62 29 23-11z" color="#3a1859"/>
<path d="M4393 3129l-23 12 67 24 23-13z" color="#352f68"/>
<path d="M5314 3028l-69 27 71 14 70-33z" color="#284266"/>
<path d="M3214 3227l-23 9 61 22 23-10z" color="#371352"/>
<path d="M4107 3136l-22 8 65 17 22-7z" color="#312b60"/>
<path d="M4844 3085l-51 28 69 22 51-24z" color="#31396b"/>
<path d="M3649 3191l-22 12 64 28 22-12z" color="#3a1f60"/>
<path d="M3802 3171l-22 12 64 25 22-13z" color="#382462"/>
<path d="M4541 3105l-30 15 68 31 30-18z" color="#35376e"/>
<path d="M5734 3011l-67 18 71 36 67-22z" color="#294c6f"/>
<path d="M2928 3215l-24 6 62 48 24-12z" color="#3c185c"/>
<path d="M3954 3147l-22 11 65 24 22-11z" color="#362b65"/>
<path d="M3497 3206l-23 9 63 31 23-9z" color="#3a1b5c"/>
<path d="M2792 3206l-28 7 61 43 28-15z" color="#3b1c5e"/>
<path d="M4681 3104l-39 14 69 32 38-13z" color="#33366c"/>
<path d="M4238 3128l-22 9 67 32 21-7z" color="#35316a"/>
<path d="M3059 3221l-23 10 62 39 23-12z" color="#3c175c"/>
<path d="M3344 3219l-23 10 62 29 23-10z" color="#3a1859"/>
<path d="M6223 3110l-63-8 39 15 63 12z" color="#2c325f"/>
<path d="M4370 3141l-22 8 67 26 22-10z" color="#342f67"/>
<path d="M3191 3236l-24 7 62 24 23-9z" color="#371453"/>
<path d="M5454 3006l-68 30 72-20 69-3z" color="#1e4058"/>
<path d="M3627 3203l-22 12 64 28 22-12z" color="#3a1e5f"/>
<path d="M3780 3183l-22 12 64 25 22-12z" color="#392361"/>
<path d="M5594 3009l-67 4 73 5 67 11z" color="#1f415a"/>
<path d="M4085 3144l-22 8 65 14 22-5z" color="#302c5f"/>
<path d="M6063 3064l-65 6 52 23 64-3z" color="#2a4269"/>
<path d="M3932 3158l-22 11 65 25 22-12z" color="#362b66"/>
<path d="M4971 3079l-58 32 70 30 58-34z" color="#313e70"/>
<path d="M2904 3221l-25 8 63 51 24-11z" color="#3d195e"/>
<path d="M3474 3215l-23 10 63 29 23-8z" color="#3a1b5c"/>
<path d="M4511 3120l-26 17 68 31 26-17z" color="#36366e"/>
<path d="M3036 3231l-23 12 62 40 23-13z" color="#3d175c"/>
<path d="M3321 3229l-23 10 62 29 23-10z" color="#391859"/>
<path d="M4216 3137l-22 9 67 29 22-6z" color="#343269"/>
<path d="M2764 3213l-32 8 63 54 30-19z" color="#3d1d61"/>
<path d="M4348 3149l-22 7 67 28 22-9z" color="#343067"/>
<path d="M3758 3195l-23 12 65 24 22-11z" color="#382260"/>
<path d="M3605 3215l-23 11 64 27 23-10z" color="#391e5e"/>
<path d="M3167 3243l-23 6 62 29 23-11z" color="#381655"/>
<path d="M3910 3169l-22 13 65 24 22-12z" color="#372b66"/>
<path d="M5106 3077l-65 30 70 16 65-29z" color="#2b3f68"/>
<path d="M4793 3113l-44 24 69 19 44-21z" color="#303869"/>
<path d="M4063 3152l-22 9 65 12 22-7z" color="#2f2d5f"/>
<path d="M5938 3054l-67 31 60 26 67-41z" color="#2b476f"/>
<path d="M3451 3225l-22 12 63 25 22-8z" color="#391c5c"/>
<path d="M2879 3229l-26 12 63 51 26-12z" color="#3e1a60"/>
<path d="M4642 3118l-33 15 68 22 34-5z" color="#303768"/>
<path d="M6262 3129l-63-12 34 17 63 12z" color="#2d3461"/>
<path d="M3013 3243l-23 14 62 39 23-13z" color="#3d155b"/>
<path d="M4485 3137l-25 15 68 31 25-15z" color="#36346d"/>
<path d="M3298 3239l-23 9 62 28 23-8z" color="#381959"/>
<path d="M4194 3146l-22 8 67 28 22-7z" color="#323267"/>
<path d="M3735 3207l-22 12 64 22 23-10z" color="#37225f"/>
<path d="M3582 3226l-22 11 63 25 23-9z" color="#381d5c"/>
<path d="M4326 3156l-22 6 67 30 22-8z" color="#343168"/>
<path d="M3888 3182l-22 13 65 23 22-12z" color="#362a65"/>
<path d="M3144 3249l-23 9 62 33 23-13z" color="#3a1759"/>
<path d="M2732 3221l-35 15 64 65 34-26z" color="#3e1e64"/>
<path d="M5245 3055l-69 39 71 21 69-46z" color="#2a466c"/>
<path d="M5805 3043l-67 22 66 38 67-18z" color="#2b4d72"/>
<path d="M4041 3161l-22 10 65 9 22-7z" color="#2f2e60"/>
<path d="M2990 3257l-24 12 63 40 23-13z" color="#3c1459"/>
<path d="M3429 3237l-23 11 63 24 23-10z" color="#391c5b"/>
<path d="M4460 3152l-23 13 68 29 23-11z" color="#35336b"/>
<path d="M6114 3090l-64 3 45 17 65-8z" color="#263f63"/>
<path d="M2853 3241l-28 15 63 49 28-13z" color="#3e1a60"/>
<path d="M3275 3248l-23 10 62 28 23-10z" color="#381b5a"/>
<path d="M4913 3111l-51 24 70 24 51-18z" color="#2f3d6c"/>
<path d="M6296 3146l-63-12 30 14 63 13z" color="#2c3360"/>
<path d="M3713 3219l-22 12 64 20 22-10z" color="#37215e"/>
<path d="M4172 3154l-22 7 67 27 22-6z" color="#313367"/>
<path d="M3866 3195l-22 13 65 21 22-11z" color="#362a64"/>
<path d="M3560 3237l-23 9 64 23 22-7z" color="#371d5a"/>
<path d="M3121 3258l-23 12 62 33 23-12z" color="#3b175a"/>
<path d="M4609 3133l-30 18 68 14 30-10z" color="#2e3766"/>
<path d="M4304 3162l-21 7 67 29 21-6z" color="#333268"/>
<path d="M4749 3137l-38 13 69 20 38-14z" color="#2e3765"/>
<path d="M2966 3269l-24 11 62 40 25-11z" color="#3c1458"/>
<path d="M3406 3248l-23 10 63 26 23-12z" color="#391c5b"/>
<path d="M4019 3171l-22 11 65 7 22-9z" color="#2f3061"/>
<path d="M2697 3236l-40 20 65 73 39-28z" color="#3e1b62"/>
<path d="M4437 3165l-22 10 68 28 22-9z" color="#343369"/>
<path d="M5386 3036l-70 33 73 0 69-53z" color="#1f455c"/>
<path d="M5667 3029l-67-11 71 49 67-2z" color="#234f68"/>
<path d="M2825 3256l-30 19 62 47 31-17z" color="#3e185e"/>
<path d="M3252 3258l-23 9 62 30 23-11z" color="#391c5c"/>
<path d="M3691 3231l-22 12 63 18 23-10z" color="#36215d"/>
<path d="M3844 3208l-22 12 64 20 23-11z" color="#352962"/>
<path d="M3098 3270l-23 13 62 33 23-13z" color="#3b175a"/>
<path d="M5998 3070l-67 41 51 22 68-40z" color="#2b4c73"/>
<path d="M4150 3161l-22 5 67 30 22-8z" color="#313668"/>
<path d="M5041 3107l-58 34 70 20 58-38z" color="#2d406b"/>
<path d="M3537 3246l-23 8 64 21 23-6z" color="#351e59"/>
<path d="M6326 3161l-63-13 28 11 62 16z" color="#2b325e"/>
<path d="M4283 3169l-22 6 67 29 22-6z" color="#323467"/>
<path d="M3383 3258l-23 10 64 30 22-14z" color="#3a1c5d"/>
<path d="M4579 3151l-26 17 68 11 26-14z" color="#2e3867"/>
<path d="M3997 3182l-22 12 65 7 22-12z" color="#303063"/>
<path d="M2942 3280l-26 12 62 40 26-12z" color="#3c1458"/>
<path d="M6160 3102l-65 8 39 17 65-10z" color="#274567"/>
<path d="M4415 3175l-22 9 68 26 22-7z" color="#323368"/>
<path d="M3229 3267l-23 11 62 31 23-12z" color="#3a1c5d"/>
<path d="M2795 3275l-34 26 62 41 34-20z" color="#3d155a"/>
<path d="M3075 3283l-23 13 62 32 23-12z" color="#3b1759"/>
<path d="M3669 3243l-23 10 64 18 22-10z" color="#35225c"/>
<path d="M3822 3220l-22 11 64 18 22-9z" color="#342961"/>
<path d="M5871 3085l-67 18 59 37 68-29z" color="#2b4b71"/>
<path d="M5527 3013l-69 3 74-23 68 25z" color="#15434c"/>
<path d="M2657 3256l-46 23 65 72 46-22z" color="#3e1a60"/>
<path d="M4128 3166l-22 7 67 34 22-11z" color="#31396b"/>
<path d="M4862 3135l-44 21 70 22 44-19z" color="#2e3e6a"/>
<path d="M4711 3150l-34 5 69 27 34-12z" color="#2c3965"/>
<path d="M3514 3254l-22 8 63 21 23-8z" color="#35205a"/>
<path d="M5176 3094l-65 29 72 23 64-31z" color="#2a476d"/>
<path d="M3360 3268l-23 8 64 38 23-16z" color="#3b1d5f"/>
<path d="M3975 3194l-22 12 65 9 22-14z" color="#313064"/>
<path d="M6353 3175l-62-16 25 10 63 19z" color="#2a325d"/>
<path d="M4553 3168l-25 15 68 13 25-17z" color="#2f3868"/>
<path d="M4261 3175l-22 7 67 29 22-7z" color="#313568"/>
<path d="M2916 3292l-28 13 62 40 28-13z" color="#3c1559"/>
<path d="M3206 3278l-23 13 63 32 22-14z" color="#3b1c5e"/>
<path d="M4393 3184l-22 8 68 26 22-8z" color="#323468"/>
<path d="M3052 3296l-23 13 61 30 24-11z" color="#3a1759"/>
<path d="M3646 3253l-23 9 64 20 23-11z" color="#35225d"/>
<path d="M3800 3231l-23 10 65 18 22-10z" color="#342961"/>
<path d="M2761 3301l-39 28 61 35 40-22z" color="#3b1155"/>
<path d="M3953 3206l-22 12 65 11 22-14z" color="#323064"/>
<path d="M3337 3276l-23 10 65 44 22-16z" color="#3d1d61"/>
<path d="M4106 3173l-22 7 67 38 22-11z" color="#323b6e"/>
<path d="M6199 3117l-65 10 34 14 65-7z" color="#274769"/>
<path d="M6050 3093l-68 40 45 24 68-47z" color="#2c4f75"/>
<path d="M3492 3262l-23 10 63 20 23-9z" color="#35225c"/>
<path d="M5738 3065l-67 2 66 59 67-23z" color="#275473"/>
<path d="M4528 3183l-23 11 68 19 23-17z" color="#303769"/>
<path d="M5316 3069l-69 46 72 13 70-59z" color="#254d6b"/>
<path d="M6379 3188l-63-19 24 11 62 19z" color="#2a325d"/>
<path d="M3183 3291l-23 12 63 34 23-14z" color="#3b1b5e"/>
<path d="M4239 3182l-22 6 67 33 22-10z" color="#32396b"/>
<path d="M4983 3141l-51 18 70 27 51-25z" color="#2c406b"/>
<path d="M3029 3309l-25 11 62 31 24-12z" color="#3a1759"/>
<path d="M2888 3305l-31 17 62 37 31-14z" color="#3c155a"/>
<path d="M4371 3192l-21 6 67 28 22-8z" color="#313669"/>
<path d="M3623 3262l-22 7 64 25 22-12z" color="#36245f"/>
<path d="M3777 3241l-22 10 64 20 23-12z" color="#342a63"/>
<path d="M4677 3155l-30 10 69 28 30-11z" color="#2d3f6b"/>
<path d="M3931 3218l-22 11 65 14 22-14z" color="#322f64"/>
<path d="M3314 3286l-23 11 65 48 23-15z" color="#3e1d62"/>
<path d="M4818 3156l-38 14 70 25 38-17z" color="#2d3f6b"/>
<path d="M2611 3279l-53 26 63 57 55-11z" color="#3d1b60"/>
<path d="M4084 3180l-22 9 67 40 22-11z" color="#333d70"/>
<path d="M3469 3272l-23 12 63 19 23-11z" color="#36235f"/>
<path d="M4505 3194l-22 9 68 24 22-14z" color="#31376a"/>
<path d="M5931 3111l-68 29 52 28 67-35z" color="#2c4c74"/>
<path d="M3160 3303l-23 13 63 35 23-14z" color="#3c1a5d"/>
<path d="M6402 3199l-62-19 23 15 62 16z" color="#2c3460"/>
<path d="M4217 3188l-22 8 67 37 22-12z" color="#333b70"/>
<path d="M2722 3329l-46 22 61 36 46-23z" color="#3a0e51"/>
<path d="M6233 3134l-65 7 31 9 64-2z" color="#254565"/>
<path d="M3004 3320l-26 12 62 32 26-13z" color="#3a1759"/>
<path d="M3755 3251l-23 10 65 24 22-14z" color="#352b65"/>
<path d="M3601 3269l-23 6 64 31 23-12z" color="#372662"/>
<path d="M4350 3198l-22 6 68 31 21-9z" color="#31386a"/>
<path d="M3909 3229l-23 11 65 17 23-14z" color="#332f65"/>
<path d="M3291 3297l-23 12 65 49 23-13z" color="#3e1d62"/>
<path d="M2857 3322l-34 20 61 33 35-16z" color="#3b1558"/>
<path d="M5111 3123l-58 38 71 13 59-28z" color="#29476c"/>
<path d="M3446 3284l-22 14 62 20 23-15z" color="#382361"/>
<path d="M6095 3110l-68 47 39 18 68-48z" color="#2c5076"/>
<path d="M4062 3189l-22 12 67 37 22-9z" color="#333d71"/>
<path d="M4647 3165l-26 14 69 27 26-13z" color="#2e426f"/>
<path d="M3137 3316l-23 12 63 37 23-14z" color="#3c195d"/>
<path d="M4483 3203l-22 7 68 29 22-12z" color="#31386b"/>
<path d="M6425 3211l-62-16 22 16 63 11z" color="#2d3563"/>
<path d="M4195 3196l-22 11 67 40 22-14z" color="#353d73"/>
<path d="M5804 3103l-67 23 58 49 68-35z" color="#2b5377"/>
<path d="M5458 3016l-69 53 73 3 70-79z" color="#1a5760"/>
<path d="M5600 3018l-68-25 71 76 68-2z" color="#1c6069"/>
<path d="M3732 3261l-22 10 65 28 22-14z" color="#372c67"/>
<path d="M3268 3309l-22 14 64 45 23-10z" color="#3d1c61"/>
<path d="M3886 3240l-22 9 65 20 22-12z" color="#332f65"/>
<path d="M2978 3332l-28 13 62 33 28-14z" color="#3b175a"/>
<path d="M3578 3275l-23 8 64 36 23-13z" color="#392866"/>
<path d="M4932 3159l-44 19 70 27 44-19z" color="#2c446e"/>
<path d="M3424 3298l-23 16 63 21 22-17z" color="#392160"/>
<path d="M4780 3170l-34 12 70 26 34-13z" color="#2d416c"/>
<path d="M4328 3204l-22 7 68 32 22-8z" color="#313a6c"/>
<path d="M6263 3148l-64 2 27 7 65 2z" color="#234462"/>
<path d="M4040 3201l-22 14 66 30 23-7z" color="#323d6f"/>
<path d="M3114 3328l-24 11 64 39 23-13z" color="#3c185d"/>
<path d="M6448 3222l-63-11 22 14 63 8z" color="#2e3564"/>
<path d="M5247 3115l-64 31 71 17 65-35z" color="#264b6a"/>
<path d="M4461 3210l-22 8 69 31 21-10z" color="#31396c"/>
<path d="M4621 3179l-25 17 69 20 25-10z" color="#2e426e"/>
<path d="M4173 3207l-22 11 67 43 22-14z" color="#363d74"/>
<path d="M5982 3133l-67 35 45 20 67-31z" color="#2c4c73"/>
<path d="M2823 3342l-40 22 61 29 40-18z" color="#3a1556"/>
<path d="M3710 3271l-23 11 65 31 23-14z" color="#382c68"/>
<path d="M3401 3314l-22 16 63 23 22-18z" color="#391e5e"/>
<path d="M2558 3305l-62 32 61 46 64-21z" color="#3c1f62"/>
<path d="M3246 3323l-23 14 64 40 23-9z" color="#3d1c60"/>
<path d="M6134 3127l-68 48 34 15 68-49z" color="#2b4f74"/>
<path d="M3864 3249l-22 10 65 23 22-13z" color="#343067"/>
<path d="M2676 3351l-55 11 62 48 54-23z" color="#3a1154"/>
<path d="M3555 3283l-23 9 65 40 22-13z" color="#3a2969"/>
<path d="M4306 3211l-22 10 68 32 22-10z" color="#323c6f"/>
<path d="M6470 3233l-63-8 23 13 63 7z" color="#2e3564"/>
<path d="M2950 3345l-31 14 62 34 31-15z" color="#3b175a"/>
<path d="M3090 3339l-24 12 63 40 25-13z" color="#3c185c"/>
<path d="M4018 3215l-22 14 66 22 22-6z" color="#303c6d"/>
<path d="M4151 3218l-22 11 67 45 22-13z" color="#363c73"/>
<path d="M4439 3218l-22 8 69 30 22-7z" color="#303a6b"/>
<path d="M4596 3196l-23 17 69 13 23-10z" color="#2d3f6b"/>
<path d="M3379 3330l-23 15 63 24 23-16z" color="#391c5c"/>
<path d="M6291 3159l-65-2 26 8 64 4z" color="#234562"/>
<path d="M5671 3067l-68 2 65 82 69-25z" color="#255f77"/>
<path d="M3687 3282l-22 12 65 31 22-12z" color="#382c69"/>
<path d="M5053 3161l-51 25 71 15 51-27z" color="#29456a"/>
<path d="M4746 3182l-30 11 70 28 30-13z" color="#2c436d"/>
<path d="M5389 3069l-70 59 73 25 70-81z" color="#23576e"/>
<path d="M3223 3337l-23 14 63 35 24-9z" color="#3c1c5f"/>
<path d="M3842 3259l-23 12 66 24 22-13z" color="#353169"/>
<path d="M5863 3140l-68 35 52 25 68-32z" color="#2b4f75"/>
<path d="M3532 3292l-23 11 65 40 23-11z" color="#3b2a6a"/>
<path d="M4888 3178l-38 17 70 24 38-14z" color="#2b446c"/>
<path d="M4284 3221l-22 12 68 30 22-10z" color="#323c6f"/>
<path d="M6493 3245l-63-7 23 11 62 7z" color="#2e3463"/>
<path d="M3996 3229l-22 14 65 16 23-8z" color="#2f3a6a"/>
<path d="M3066 3351l-26 13 63 40 26-13z" color="#3c185c"/>
<path d="M2783 3364l-46 23 61 29 46-23z" color="#391456"/>
<path d="M3356 3345l-23 13 63 25 23-14z" color="#391a5b"/>
<path d="M4129 3229l-22 9 67 43 22-7z" color="#343a70"/>
<path d="M6027 3157l-67 31 39 17 67-30z" color="#2a4c71"/>
<path d="M4573 3213l-22 14 68 11 23-12z" color="#2c3d68"/>
<path d="M6168 3141l-68 49 31 10 68-50z" color="#294d70"/>
<path d="M2919 3359l-35 16 62 34 35-16z" color="#3b185a"/>
<path d="M3665 3294l-23 12 65 30 23-11z" color="#382b68"/>
<path d="M4417 3226l-21 9 68 26 22-5z" color="#2f3a69"/>
<path d="M6316 3169l-64-4 24 10 64 5z" color="#244966"/>
<path d="M3819 3271l-22 14 65 24 23-14z" color="#353169"/>
<path d="M3200 3351l-23 14 63 31 23-10z" color="#3b1b5d"/>
<path d="M3509 3303l-23 15 65 35 23-10z" color="#3a2969"/>
<path d="M4716 3193l-26 13 69 26 27-11z" color="#2c446d"/>
<path d="M4262 3233l-22 14 68 26 22-10z" color="#323b6e"/>
<path d="M6515 3256l-62-7 22 10 63 8z" color="#2e3362"/>
<path d="M3974 3243l-23 14 66 14 22-12z" color="#2f3968"/>
<path d="M5183 3146l-59 28 72 15 58-26z" color="#254c69"/>
<path d="M5532 2993l-70 79 71 57 70-60z" color="#1e6d74"/>
<path d="M3333 3358l-23 10 63 26 23-11z" color="#381a59"/>
<path d="M3040 3364l-28 14 63 40 28-14z" color="#3c185c"/>
<path d="M5737 3126l-69 25 59 43 68-19z" color="#295777"/>
<path d="M4551 3227l-22 12 69 11 21-12z" color="#2c3b66"/>
<path d="M2496 3337l-72 36 63 54 70-44z" color="#3e1e63"/>
<path d="M3642 3306l-23 13 65 29 23-12z" color="#382a67"/>
<path d="M2621 3362l-64 21 64 56 62-29z" color="#3d165b"/>
<path d="M4107 3238l-23 7 68 39 22-3z" color="#313a6b"/>
<path d="M3797 3285l-22 14 65 24 22-14z" color="#362f69"/>
<path d="M6340 3180l-64-5 23 12 64 8z" color="#254b69"/>
<path d="M3177 3365l-23 13 62 29 24-11z" color="#3a1b5c"/>
<path d="M4396 3235l-22 8 68 21 22-3z" color="#2c3a66"/>
<path d="M3486 3318l-22 17 64 27 23-9z" color="#392766"/>
<path d="M4850 3195l-34 13 70 14 34-3z" color="#284266"/>
<path d="M5002 3186l-44 19 71 11 44-15z" color="#274366"/>
<path d="M6199 3150l-68 50 28 6 67-49z" color="#274e6e"/>
<path d="M4240 3247l-22 14 68 20 22-8z" color="#30396a"/>
<path d="M3951 3257l-22 12 66 18 22-16z" color="#303969"/>
<path d="M6538 3267l-63-8 23 11 63 8z" color="#2d3261"/>
<path d="M5915 3168l-68 32 45 13 68-25z" color="#284c6f"/>
<path d="M2884 3375l-40 18 62 36 40-20z" color="#3b185b"/>
<path d="M6066 3175l-67 30 34 11 67-26z" color="#294b6e"/>
<path d="M4690 3206l-25 10 69 26 25-10z" color="#2b446c"/>
<path d="M3310 3368l-23 9 63 26 23-9z" color="#371a58"/>
<path d="M2737 3387l-54 23 61 32 54-26z" color="#3a1557"/>
<path d="M5319 3128l-65 35 73 14 65-24z" color="#24526c"/>
<path d="M4529 3239l-21 10 68 12 22-11z" color="#2b3b66"/>
<path d="M3619 3319l-22 13 65 28 22-12z" color="#382967"/>
<path d="M3775 3299l-23 14 65 22 23-12z" color="#352e67"/>
<path d="M3012 3378l-31 15 63 43 31-18z" color="#3d185d"/>
<path d="M6363 3195l-64-8 22 15 64 9z" color="#264b6b"/>
<path d="M3464 3335l-22 18 63 18 23-9z" color="#372562"/>
<path d="M3154 3378l-25 13 63 29 24-13z" color="#3a1a5b"/>
<path d="M4084 3245l-22 6 67 35 23-2z" color="#2e3b69"/>
<path d="M3929 3269l-22 13 66 23 22-18z" color="#31396b"/>
<path d="M4374 3243l-22 10 68 15 22-4z" color="#2a3a64"/>
<path d="M4218 3261l-22 13 67 16 23-9z" color="#2f3867"/>
<path d="M6561 3278l-63-8 23 10 62 10z" color="#2d325f"/>
<path d="M5603 3069l-70 60 66 54 69-32z" color="#256379"/>
<path d="M5462 3072l-70 81 71 35 70-59z" color="#245f75"/>
<path d="M3287 3377l-24 9 63 27 24-10z" color="#381b5a"/>
<path d="M3597 3332l-23 11 65 29 23-12z" color="#382966"/>
<path d="M6385 3211l-64-9 23 13 63 10z" color="#264969"/>
<path d="M6226 3157l-67 49 26 5 67-46z" color="#26506e"/>
<path d="M4508 3249l-22 7 68 16 22-11z" color="#2b3b64"/>
<path d="M3752 3313l-22 12 65 21 22-11z" color="#342d65"/>
<path d="M4665 3216l-23 10 69 24 23-8z" color="#29456a"/>
<path d="M3442 3353l-23 16 63 12 23-10z" color="#35245e"/>
<path d="M4816 3208l-30 13 70 12 30-11z" color="#264366"/>
<path d="M5795 3175l-68 19 52 16 68-10z" color="#264c6b"/>
<path d="M3907 3282l-22 13 66 27 22-17z" color="#32396d"/>
<path d="M3129 3391l-26 13 63 28 26-12z" color="#391a5a"/>
<path d="M6100 3190l-67 26 31 9 67-25z" color="#264a6a"/>
<path d="M2981 3393l-35 16 64 48 34-21z" color="#3d185d"/>
<path d="M2844 3393l-46 23 62 36 46-23z" color="#3c185c"/>
<path d="M4062 3251l-23 8 67 33 23-6z" color="#2e3f6c"/>
<path d="M4196 3274l-22 7 67 20 22-11z" color="#2e3765"/>
<path d="M5124 3174l-51 27 72-3 51-9z" color="#214861"/>
<path d="M4352 3253l-22 10 67 12 23-7z" color="#2a3c64"/>
<path d="M6583 3290l-62-10 23 10 62 12z" color="#2c315e"/>
<path d="M4958 3205l-38 14 71 7 38-10z" color="#22405e"/>
<path d="M5960 3188l-68 25 39 14 68-22z" color="#284d6f"/>
<path d="M2557 3383l-70 44 63 52 71-40z" color="#3e165c"/>
<path d="M2424 3373l-79 39 63 54 79-39z" color="#3e1b62"/>
<path d="M6407 3225l-63-10 23 10 63 13z" color="#254565"/>
<path d="M3574 3343l-23 10 65 29 23-10z" color="#372964"/>
<path d="M3730 3325l-23 11 65 21 23-11z" color="#332d64"/>
<path d="M3263 3386l-23 10 63 29 23-12z" color="#391d5d"/>
<path d="M3419 3369l-23 14 63 10 23-12z" color="#34225c"/>
<path d="M4486 3256l-22 5 68 19 22-8z" color="#293b63"/>
<path d="M3885 3295l-23 14 66 27 23-14z" color="#33386d"/>
<path d="M4642 3226l-23 12 70 22 22-10z" color="#2a476c"/>
<path d="M6252 3165l-67 46 24 5 67-41z" color="#25536f"/>
<path d="M2683 3410l-62 29 60 31 63-28z" color="#3a1657"/>
<path d="M3103 3404l-28 14 63 28 28-14z" color="#391a5b"/>
<path d="M4786 3221l-27 11 70 12 27-11z" color="#264566"/>
<path d="M4039 3259l-22 12 67 30 22-9z" color="#2f4270"/>
<path d="M6606 3302l-62-12 23 9 62 15z" color="#2c325e"/>
<path d="M4330 3263l-22 10 67 10 22-8z" color="#293c63"/>
<path d="M4174 3281l-22 3 67 27 22-10z" color="#2d3865"/>
<path d="M6430 3238l-63-13 23 9 63 15z" color="#23425f"/>
<path d="M6131 3200l-67 25 28 9 67-28z" color="#254a68"/>
<path d="M2946 3409l-40 20 64 48 40-20z" color="#3e175d"/>
<path d="M5668 3151l-69 32 60 19 68-8z" color="#245770"/>
<path d="M3707 3336l-23 12 65 21 23-12z" color="#342e65"/>
<path d="M3240 3396l-24 11 64 32 23-14z" color="#3a1d5e"/>
<path d="M3396 3383l-23 11 63 12 23-13z" color="#34225b"/>
<path d="M3551 3353l-23 9 65 29 23-9z" color="#362963"/>
<path d="M3862 3309l-22 14 66 24 22-11z" color="#33376c"/>
<path d="M4619 3238l-21 12 69 22 22-12z" color="#2a486e"/>
<path d="M5254 3163l-58 26 73 1 58-13z" color="#1e4a5f"/>
<path d="M4464 3261l-22 3 68 22 22-6z" color="#283d62"/>
<path d="M6276 3175l-67 41 23 7 67-36z" color="#265672"/>
<path d="M2798 3416l-54 26 62 37 54-27z" color="#3b185b"/>
<path d="M4017 3271l-22 16 67 28 22-14z" color="#304170"/>
<path d="M5999 3205l-68 22 35 10 67-21z" color="#254b69"/>
<path d="M3075 3418l-31 18 63 28 31-18z" color="#3a195b"/>
<path d="M6629 3314l-62-15 23 11 62 17z" color="#2b325e"/>
<path d="M5392 3153l-65 24 72 27 64-16z" color="#22566d"/>
<path d="M5847 3200l-68 10 46 14 67-11z" color="#20465e"/>
<path d="M4308 3273l-22 8 67 10 22-8z" color="#283c62"/>
<path d="M5533 3129l-70 59 67 20 69-25z" color="#245e75"/>
<path d="M4920 3219l-34 3 71 7 34-3z" color="#1f4059"/>
<path d="M3684 3348l-22 12 65 24 22-15z" color="#352e66"/>
<path d="M4152 3284l-23 2 68 35 22-10z" color="#2d3d69"/>
<path d="M4759 3232l-25 10 71 12 24-10z" color="#264565"/>
<path d="M3216 3407l-24 13 63 33 25-14z" color="#3b1d5f"/>
<path d="M6453 3249l-63-15 23 8 62 17z" color="#21415d"/>
<path d="M3373 3394l-23 9 63 17 23-14z" color="#35235d"/>
<path d="M3840 3323l-23 12 66 21 23-9z" color="#323569"/>
<path d="M3528 3362l-23 9 64 28 24-8z" color="#352b64"/>
<path d="M5073 3201l-44 15 72 0 44-18z" color="#1f475d"/>
<path d="M4598 3250l-22 11 69 21 22-10z" color="#2a476d"/>
<path d="M6159 3206l-67 28 26 7 67-30z" color="#244d69"/>
<path d="M3995 3287l-22 18 67 26 22-16z" color="#313f6f"/>
<path d="M6299 3187l-67 36 23 9 66-30z" color="#265975"/>
<path d="M4442 3264l-22 4 68 25 22-7z" color="#284165"/>
<path d="M6652 3327l-62-17 23 16 61 14z" color="#2d3361"/>
<path d="M2487 3427l-79 39 62 50 80-37z" color="#3d145a"/>
<path d="M2906 3429l-46 23 63 41 47-16z" color="#3c175b"/>
<path d="M3662 3360l-23 12 65 27 23-15z" color="#362e67"/>
<path d="M3044 3436l-34 21 62 29 35-22z" color="#3a1859"/>
<path d="M4286 3281l-23 9 68 10 22-9z" color="#283e63"/>
<path d="M3350 3403l-24 10 64 21 23-14z" color="#36245f"/>
<path d="M2621 3439l-71 40 61 37 70-46z" color="#3b1558"/>
<path d="M6475 3259l-62-17 22 14 63 14z" color="#234561"/>
<path d="M3192 3420l-26 12 63 34 26-13z" color="#3b1d5f"/>
<path d="M4129 3286l-23 6 68 40 23-11z" color="#2f4270"/>
<path d="M3817 3335l-22 11 65 19 23-9z" color="#313467"/>
<path d="M2345 3412l-83 39 62 49 84-34z" color="#3d1b60"/>
<path d="M3973 3305l-22 17 66 24 23-15z" color="#313d6e"/>
<path d="M4576 3261l-22 11 70 18 21-8z" color="#29456a"/>
<path d="M3505 3371l-23 10 64 29 23-11z" color="#362d67"/>
<path d="M4734 3242l-23 8 70 10 24-6z" color="#234361"/>
<path d="M6033 3216l-67 21 31 8 67-20z" color="#234b66"/>
<path d="M6321 3202l-66 30 23 10 66-27z" color="#265772"/>
<path d="M6674 3340l-61-14 23 15 61 11z" color="#2f3464"/>
<path d="M5727 3194l-68 8 52 29 68-21z" color="#215368"/>
<path d="M6185 3211l-67 30 23 14 68-39z" color="#25536f"/>
<path d="M4886 3222l-30 11 71 6 30-10z" color="#204860"/>
<path d="M4420 3268l-23 7 69 27 22-9z" color="#2a466c"/>
<path d="M3639 3372l-23 10 65 30 23-13z" color="#362e68"/>
<path d="M5892 3213l-67 11 38 24 68-21z" color="#24536d"/>
<path d="M2744 3442l-63 28 63 40 62-31z" color="#3c185c"/>
<path d="M3326 3413l-23 12 63 22 24-13z" color="#372461"/>
<path d="M4263 3290l-22 11 68 10 22-11z" color="#294066"/>
<path d="M6498 3270l-63-14 23 14 63 10z" color="#244764"/>
<path d="M3951 3322l-23 14 67 23 22-13z" color="#313a6c"/>
<path d="M3795 3346l-23 11 65 20 23-12z" color="#313568"/>
<path d="M4106 3292l-22 9 68 44 22-13z" color="#314574"/>
<path d="M5196 3189l-51 9 73 22 51-30z" color="#1e5163"/>
<path d="M3166 3432l-28 14 63 33 28-13z" color="#3a1e5f"/>
<path d="M3482 3381l-23 12 65 33 22-16z" color="#382e6a"/>
<path d="M5029 3216l-38 10 72 12 38-22z" color="#1f4c62"/>
<path d="M4554 3272l-22 8 70 17 22-7z" color="#274467"/>
<path d="M3010 3457l-40 20 62 27 40-18z" color="#391657"/>
<path d="M6697 3352l-61-11 23 14 61 10z" color="#2f3263"/>
<path d="M4711 3250l-22 10 70 4 22-4z" color="#224460"/>
<path d="M6344 3215l-66 27 23 9 66-26z" color="#255670"/>
<path d="M6209 3216l-68 39 23 12 68-44z" color="#275874"/>
<path d="M3616 3382l-23 9 65 30 23-9z" color="#352e68"/>
<path d="M4397 3275l-22 8 69 29 22-10z" color="#2a496e"/>
<path d="M3303 3425l-23 14 63 22 23-14z" color="#382461"/>
<path d="M5599 3183l-69 25 60 19 69-25z" color="#20576a"/>
<path d="M6064 3225l-67 20 28 4 67-15z" color="#214b63"/>
<path d="M4241 3301l-22 10 68 13 22-13z" color="#2a4169"/>
<path d="M6521 3280l-63-10 23 12 63 8z" color="#234663"/>
<path d="M2860 3452l-54 27 63 36 54-22z" color="#3b185b"/>
<path d="M3928 3336l-22 11 66 22 23-10z" color="#2f3868"/>
<path d="M3459 3393l-23 13 65 39 23-19z" color="#392d6b"/>
<path d="M3772 3357l-23 12 66 23 22-15z" color="#32366a"/>
<path d="M4084 3301l-22 14 68 41 22-11z" color="#314675"/>
<path d="M4856 3233l-27 11 71 9 27-14z" color="#214d65"/>
<path d="M5327 3177l-58 13 71 35 59-21z" color="#205d6d"/>
<path d="M5463 3188l-64 16 67 24 64-20z" color="#1f5568"/>
<path d="M6720 3365l-61-10 23 11 61 12z" color="#2e3060"/>
<path d="M3138 3446l-31 18 63 30 31-15z" color="#3a1e5f"/>
<path d="M4532 3280l-22 6 70 17 22-6z" color="#254364"/>
<path d="M6367 3225l-66 26 22 9 67-26z" color="#245670"/>
<path d="M4689 3260l-22 12 70 1 22-9z" color="#224662"/>
<path d="M5931 3227l-68 21 35 17 68-28z" color="#24546e"/>
<path d="M3280 3439l-25 14 63 21 25-13z" color="#382360"/>
<path d="M3436 3406l-23 14 65 43 23-18z" color="#3b2b6b"/>
<path d="M6232 3223l-68 44 23 9 68-44z" color="#265773"/>
<path d="M2550 3479l-80 37 62 43 79-43z" color="#3c1257"/>
<path d="M4375 3283l-22 8 69 32 22-11z" color="#2b4b70"/>
<path d="M3749 3369l-22 15 65 25 23-17z" color="#34356b"/>
<path d="M5779 3210l-68 21 44 23 70-30z" color="#235b72"/>
<path d="M3593 3391l-24 8 66 30 23-8z" color="#352f68"/>
<path d="M4219 3311l-22 10 67 15 23-12z" color="#2a4169"/>
<path d="M6544 3290l-63-8 23 10 63 7z" color="#234663"/>
<path d="M4062 3315l-22 16 67 35 23-10z" color="#304573"/>
<path d="M3906 3347l-23 9 66 21 23-8z" color="#2d3865"/>
<path d="M2408 3466l-84 34 63 52 83-36z" color="#3d165b"/>
<path d="M4991 3226l-34 3 72 18 34-9z" color="#1e4e61"/>
<path d="M6092 3234l-67 15 25 10 68-18z" color="#225168"/>
<path d="M6743 3378l-61-12 23 9 61 16z" color="#2d2f5d"/>
<path d="M2970 3477l-47 16 61 22 48-11z" color="#351753"/>
<path d="M4829 3244l-24 10 70 9 25-10z" color="#204c63"/>
<path d="M2681 3470l-70 46 61 31 72-37z" color="#3c175b"/>
<path d="M6390 3234l-67 26 23 13 67-31z" color="#255872"/>
<path d="M4510 3286l-22 7 70 19 22-9z" color="#264768"/>
<path d="M4667 3272l-22 10 70-1 22-8z" color="#21445e"/>
<path d="M5145 3198l-44 18 73 19 44-15z" color="#205b6c"/>
<path d="M3413 3420l-23 14 65 44 23-15z" color="#3c2a6b"/>
<path d="M3107 3464l-35 22 63 28 35-20z" color="#3a1d5d"/>
<path d="M3727 3384l-23 15 66 26 22-16z" color="#35346b"/>
<path d="M3255 3453l-26 13 63 23 26-15z" color="#37215f"/>
<path d="M2262 3451l-86 26 62 50 86-27z" color="#3b1f61"/>
<path d="M6255 3232l-68 44 23 8 68-42z" color="#255872"/>
<path d="M4197 3321l-23 11 68 14 22-10z" color="#2a4169"/>
<path d="M4353 3291l-22 9 69 34 22-11z" color="#2b4c71"/>
<path d="M4040 3331l-23 15 68 30 22-10z" color="#2f4371"/>
<path d="M3569 3399l-23 11 66 28 23-9z" color="#353069"/>
<path d="M6567 3299l-63-7 23 11 63 7z" color="#244865"/>
<path d="M3883 3356l-23 9 66 20 23-8z" color="#2d3966"/>
<path d="M5966 3237l-68 28 30 9 69-29z" color="#22546b"/>
<path d="M2806 3479l-62 31 62 41 63-36z" color="#3c195d"/>
<path d="M6766 3391l-61-16 24 8 61 21z" color="#2b2e5a"/>
<path d="M6118 3241l-68 18 24 15 67-19z" color="#245871"/>
<path d="M6413 3242l-67 31 23 17 66-34z" color="#275c78"/>
<path d="M3390 3434l-24 13 66 42 23-11z" color="#3b296a"/>
<path d="M3704 3399l-23 13 66 26 23-13z" color="#35326a"/>
<path d="M5659 3202l-69 25 52 27 69-23z" color="#226072"/>
<path d="M4488 3293l-22 9 70 20 22-10z" color="#27496a"/>
<path d="M4805 3254l-24 6 71 8 23-5z" color="#1d485c"/>
<path d="M4645 3282l-21 8 69-4 22-5z" color="#1f435b"/>
<path d="M5825 3224l-70 30 40 15 68-21z" color="#235b71"/>
<path d="M4017 3346l-22 13 67 28 23-11z" color="#2f426f"/>
<path d="M6590 3310l-63-7 23 16 63 7z" color="#264b6a"/>
<path d="M3546 3410l-22 16 64 24 24-12z" color="#353069"/>
<path d="M4174 3332l-22 13 68 11 22-10z" color="#2a4168"/>
<path d="M3229 3466l-28 13 63 24 28-14z" color="#37215e"/>
<path d="M4331 3300l-22 11 69 32 22-9z" color="#2a4c71"/>
<path d="M6278 3242l-68 42 23 7 68-40z" color="#255872"/>
<path d="M4957 3229l-30 10 72 17 30-9z" color="#1f5567"/>
<path d="M5269 3190l-51 30 71 24 51-19z" color="#206372"/>
<path d="M3072 3486l-40 18 63 30 40-20z" color="#391c5b"/>
<path d="M3860 3365l-23 12 66 18 23-10z" color="#2d3b68"/>
<path d="M6435 3256l-66 34 22 16 67-36z" color="#285c79"/>
<path d="M6790 3404l-61-21 24 8 60 25z" color="#2a2d59"/>
<path d="M6141 3255l-67 19 23 12 67-19z" color="#24566f"/>
<path d="M3366 3447l-23 14 65 36 24-8z" color="#3a2867"/>
<path d="M3681 3412l-23 9 66 26 23-9z" color="#333066"/>
<path d="M5530 3208l-64 20 59 19 65-20z" color="#1e5b69"/>
<path d="M2923 3493l-54 22 61 24 54-24z" color="#361b58"/>
<path d="M5399 3204l-59 21 67 24 59-21z" color="#1f5f6d"/>
<path d="M5101 3216l-38 22 72 12 39-15z" color="#1e5a69"/>
<path d="M6613 3326l-63-7 23 14 63 8z" color="#264969"/>
<path d="M4466 3302l-22 10 70 20 22-10z" color="#274a6b"/>
<path d="M3524 3426l-23 19 64 20 23-15z" color="#352f68"/>
<path d="M5997 3245l-69 29 28 6 69-31z" color="#205469"/>
<path d="M3995 3359l-23 10 68 30 22-12z" color="#2f416e"/>
<path d="M4152 3345l-22 11 67 13 23-13z" color="#2a4068"/>
<path d="M4624 3290l-22 7 69-6 22-5z" color="#1d4157"/>
<path d="M4309 3311l-22 13 69 30 22-11z" color="#2a4d71"/>
<path d="M4781 3260l-22 4 71 11 22-7z" color="#1d4c5e"/>
<path d="M6301 3251l-68 40 23 7 67-38z" color="#245972"/>
<path d="M3201 3479l-31 15 63 26 31-17z" color="#38215f"/>
<path d="M3837 3377l-22 15 66 15 22-12z" color="#2e3c6a"/>
<path d="M2470 3516l-83 36 61 39 84-32z" color="#3b1356"/>
<path d="M6458 3270l-67 36 23 14 67-38z" color="#285977"/>
<path d="M6813 3416l-60-25 23 9 60 29z" color="#292d58"/>
<path d="M2611 3516l-79 43 61 27 79-39z" color="#391354"/>
<path d="M6164 3267l-67 19 23 10 67-20z" color="#23546c"/>
<path d="M4927 3239l-27 14 72 18 27-15z" color="#205a6c"/>
<path d="M3501 3445l-23 18 64 16 23-14z" color="#352c65"/>
<path d="M5863 3248l-68 21 34 9 69-13z" color="#21586d"/>
<path d="M6636 3341l-63-8 23 12 63 10z" color="#244664"/>
<path d="M3343 3461l-25 13 65 31 25-8z" color="#382865"/>
<path d="M3658 3421l-23 8 65 26 24-8z" color="#313165"/>
<path d="M2324 3500l-86 27 64 58 85-33z" color="#3d1a5f"/>
<path d="M4444 3312l-22 11 69 19 23-10z" color="#274b6c"/>
<path d="M5711 3231l-69 23 45 20 68-20z" color="#215d70"/>
<path d="M4130 3356l-23 10 68 15 22-12z" color="#2a4067"/>
<path d="M3972 3369l-23 8 68 34 23-12z" color="#2f426f"/>
<path d="M4287 3324l-23 12 69 29 23-11z" color="#294c70"/>
<path d="M2744 3510l-72 37 63 40 71-36z" color="#3c185c"/>
<path d="M3815 3392l-23 17 66 12 23-14z" color="#2f3b6a"/>
<path d="M4602 3297l-22 6 69-4 22-8z" color="#1d455a"/>
<path d="M4759 3264l-22 9 71 15 22-13z" color="#205568"/>
<path d="M3032 3504l-48 11 64 36 47-17z" color="#381e5c"/>
<path d="M6323 3260l-67 38 23 11 67-36z" color="#255d76"/>
<path d="M6481 3282l-67 38 23 10 67-38z" color="#275774"/>
<path d="M6025 3249l-69 31 26 6 68-27z" color="#20586b"/>
<path d="M6836 3429l-60-29 24 11 59 31z" color="#292d58"/>
<path d="M3478 3463l-23 15 64 14 23-13z" color="#342962"/>
<path d="M5218 3220l-44 15 71 32 44-23z" color="#1f606e"/>
<path d="M3170 3494l-35 20 63 26 35-20z" color="#382260"/>
<path d="M6187 3276l-67 20 23 8 67-20z" color="#215369"/>
<path d="M5063 3238l-34 9 72 17 34-14z" color="#1d5765"/>
<path d="M2176 3477l-86 26 63 62 85-38z" color="#3c2467"/>
<path d="M6659 3355l-63-10 23 10 63 11z" color="#234461"/>
<path d="M3318 3474l-26 15 65 27 26-11z" color="#372864"/>
<path d="M3635 3429l-23 9 65 28 23-11z" color="#323368"/>
<path d="M4900 3253l-25 10 72 15 25-7z" color="#1f5667"/>
<path d="M4422 3323l-22 11 69 18 22-10z" color="#264a6a"/>
<path d="M4107 3366l-22 10 67 17 23-12z" color="#2a4168"/>
<path d="M3792 3409l-22 16 65 9 23-13z" color="#2e3967"/>
<path d="M4264 3336l-22 10 69 28 22-9z" color="#284b6e"/>
<path d="M3949 3377l-23 8 68 36 23-10z" color="#2f4370"/>
<path d="M2869 3515l-63 36 62 27 62-39z" color="#391b5c"/>
<path d="M6346 3273l-67 36 22 16 68-35z" color="#275f79"/>
<path d="M4737 3273l-22 8 71 18 22-11z" color="#205769"/>
<path d="M4580 3303l-22 9 69-1 22-12z" color="#204b61"/>
<path d="M5898 3265l-69 13 31 13 68-17z" color="#205568"/>
<path d="M6504 3292l-67 38 23 9 67-36z" color="#275774"/>
<path d="M3455 3478l-23 11 64 13 23-10z" color="#32285e"/>
<path d="M6859 3442l-59-31 24 9 59 35z" color="#292d57"/>
<path d="M5590 3227l-65 20 52 19 65-12z" color="#1e606c"/>
<path d="M6050 3259l-68 27 24 8 68-20z" color="#225f72"/>
<path d="M6210 3284l-67 20 23 10 67-23z" color="#21566b"/>
<path d="M6682 3366l-63-11 24 7 62 13z" color="#21425e"/>
<path d="M5340 3225l-51 19 67 20 51-15z" color="#1d5f6b"/>
<path d="M3612 3438l-24 12 66 31 23-15z" color="#34366c"/>
<path d="M5755 3254l-68 20 39 16 69-21z" color="#1f5a6a"/>
<path d="M3770 3425l-23 13 65 8 23-12z" color="#2d3663"/>
<path d="M6369 3290l-68 35 23 15 67-34z" color="#275c78"/>
<path d="M4400 3334l-22 9 69 18 22-9z" color="#254968"/>
<path d="M4085 3376l-23 11 68 19 22-13z" color="#2b426a"/>
<path d="M3292 3489l-28 14 64 26 29-13z" color="#362863"/>
<path d="M3135 3514l-40 20 64 31 39-25z" color="#392160"/>
<path d="M5466 3228l-59 21 60 22 58-24z" color="#1e616c"/>
<path d="M4242 3346l-22 10 68 27 23-9z" color="#284b6d"/>
<path d="M3926 3385l-23 10 68 36 23-10z" color="#2f4471"/>
<path d="M4875 3263l-23 5 72 13 23-3z" color="#1c5260"/>
<path d="M4558 3312l-22 10 69 1 22-12z" color="#204c62"/>
<path d="M6527 3303l-67 36 23 14 67-34z" color="#285a78"/>
<path d="M4715 3281l-22 5 71 23 22-10z" color="#20586a"/>
<path d="M5029 3247l-30 9 72 18 30-10z" color="#1c5a65"/>
<path d="M2984 3515l-54 24 64 39 54-27z" color="#3b2263"/>
<path d="M6883 3455l-59-35 24 8 58 39z" color="#282c55"/>
<path d="M3432 3489l-24 8 64 16 24-11z" color="#31285d"/>
<path d="M6074 3274l-68 20 23 15 68-23z" color="#235f73"/>
<path d="M3588 3450l-23 15 67 34 22-18z" color="#35366e"/>
<path d="M2532 3559l-84 32 62 39 83-44z" color="#3a1557"/>
<path d="M5928 3274l-68 17 28 13 68-24z" color="#1f5768"/>
<path d="M5174 3235l-39 15 72 21 38-4z" color="#1c6069"/>
<path d="M6391 3306l-67 34 23 12 67-32z" color="#275a76"/>
<path d="M6233 3291l-67 23 23 9 67-25z" color="#21586d"/>
<path d="M2387 3552l-85 33 61 39 85-33z" color="#3b1558"/>
<path d="M3747 3438l-23 9 65 10 23-11z" color="#2c3561"/>
<path d="M6705 3375l-62-13 24 7 62 14z" color="#20425c"/>
<path d="M4062 3387l-22 12 67 21 23-14z" color="#2b436c"/>
<path d="M4378 3343l-22 11 69 17 22-10z" color="#254b6a"/>
<path d="M2672 3547l-79 39 62 44 80-43z" color="#3c185d"/>
<path d="M6550 3319l-67 34 23 17 67-37z" color="#295979"/>
<path d="M4220 3356l-23 13 69 24 22-10z" color="#274c6d"/>
<path d="M3903 3395l-22 12 67 32 23-8z" color="#2e4570"/>
<path d="M3264 3503l-31 17 64 23 31-14z" color="#362863"/>
<path d="M4536 3322l-22 10 69 0 22-9z" color="#1f4c61"/>
<path d="M2238 3527l-85 38 62 50 87-30z" color="#3d1e62"/>
<path d="M4852 3268l-22 7 71 16 23-10z" color="#1d5865"/>
<path d="M4693 3286l-22 5 71 26 22-8z" color="#1f596a"/>
<path d="M6097 3286l-68 23 23 13 68-26z" color="#225e72"/>
<path d="M3565 3465l-23 14 67 36 23-16z" color="#36356e"/>
<path d="M6906 3467l-58-39 24 8 58 43z" color="#262c53"/>
<path d="M3408 3497l-25 8 64 23 25-15z" color="#332b62"/>
<path d="M2806 3551l-71 36 61 25 72-34z" color="#381959"/>
<path d="M4999 3256l-27 15 72 21 27-18z" color="#1e616d"/>
<path d="M5795 3269l-69 21 35 11 68-23z" color="#1d5966"/>
<path d="M6414 3320l-67 32 23 9 67-31z" color="#255772"/>
<path d="M3095 3534l-47 17 64 37 47-23z" color="#3a2161"/>
<path d="M5642 3254l-65 12 46 22 64-14z" color="#1e616d"/>
<path d="M4040 3399l-23 12 67 22 23-13z" color="#2b436c"/>
<path d="M6256 3298l-67 25 23 9 67-23z" color="#225c71"/>
<path d="M3724 3447l-24 8 66 15 23-13z" color="#2c3764"/>
<path d="M4356 3354l-23 11 69 19 23-13z" color="#264c6b"/>
<path d="M6573 3333l-67 37 23 16 67-41z" color="#295778"/>
<path d="M6729 3383l-62-14 24 9 62 13z" color="#20445e"/>
<path d="M5956 3280l-68 24 25 11 69-29z" color="#1f5b6b"/>
<path d="M4197 3369l-22 12 68 21 23-9z" color="#274d6e"/>
<path d="M3881 3407l-23 14 67 26 23-8z" color="#2d446e"/>
<path d="M5289 3244l-44 23 67 20 44-23z" color="#1c616a"/>
<path d="M4514 3332l-23 10 70 2 22-12z" color="#1f4d62"/>
<path d="M2090 3503l-88 27 64 65 87-30z" color="#3c296a"/>
<path d="M3542 3479l-23 13 66 35 24-12z" color="#36346d"/>
<path d="M4830 3275l-22 13 71 16 22-13z" color="#1f5e6c"/>
<path d="M6120 3296l-68 26 23 12 68-30z" color="#225d70"/>
<path d="M3233 3520l-35 20 64 21 35-18z" color="#362863"/>
<path d="M6930 3479l-58-43 23 10 58 45z" color="#262c53"/>
<path d="M3383 3505l-26 11 65 32 25-20z" color="#362d67"/>
<path d="M4671 3291l-22 8 71 26 22-8z" color="#205d6d"/>
<path d="M2930 3539l-62 39 64 40 62-40z" color="#3c2063"/>
<path d="M5135 3250l-34 14 72 25 34-18z" color="#1d646c"/>
<path d="M6279 3309l-67 23 22 16 67-23z" color="#256077"/>
<path d="M4017 3411l-23 10 68 23 22-11z" color="#2b436b"/>
<path d="M6437 3330l-67 31 24 9 66-31z" color="#245670"/>
<path d="M3700 3455l-23 11 66 21 23-17z" color="#2f3a69"/>
<path d="M6596 3345l-67 41 23 13 67-44z" color="#285575"/>
<path d="M5525 3247l-58 24 52 18 58-23z" color="#1c646b"/>
<path d="M4972 3271l-25 7 72 23 25-9z" color="#1c5c67"/>
<path d="M4333 3365l-22 9 69 22 22-12z" color="#264d6c"/>
<path d="M5407 3249l-51 15 60 24 51-17z" color="#1c646c"/>
<path d="M4175 3381l-23 12 69 22 22-13z" color="#284d6e"/>
<path d="M6753 3391l-62-13 23 9 62 13z" color="#214760"/>
<path d="M3858 3421l-23 13 67 23 23-10z" color="#2c436c"/>
<path d="M5982 3286l-69 29 24 11 69-32z" color="#206070"/>
<path d="M4491 3342l-22 10 70 4 22-12z" color="#1f4d62"/>
<path d="M5829 3278l-68 23 31 8 68-18z" color="#1c5c67"/>
<path d="M3519 3492l-23 10 66 33 23-8z" color="#34336a"/>
<path d="M4808 3288l-22 11 72 16 21-11z" color="#1e5c6a"/>
<path d="M6143 3304l-68 30 22 10 69-30z" color="#215e71"/>
<path d="M6953 3491l-58-45 24 13 58 43z" color="#272d54"/>
<path d="M3357 3516l-29 13 66 41 28-22z" color="#392e6b"/>
<path d="M6301 3325l-67 23 23 15 67-23z" color="#255d75"/>
<path d="M4649 3299l-22 12 71 27 22-13z" color="#216071"/>
<path d="M3677 3466l-23 15 67 28 22-22z" color="#313b6d"/>
<path d="M5687 3274l-64 14 39 17 64-15z" color="#1d606b"/>
<path d="M3994 3421l-23 10 68 23 23-10z" color="#2a436a"/>
<path d="M6460 3339l-66 31 23 9 66-26z" color="#255871"/>
<path d="M3048 3551l-54 27 64 33 54-23z" color="#3a2363"/>
<path d="M3198 3540l-39 25 63 21 40-25z" color="#372763"/>
<path d="M4311 3374l-23 9 70 25 22-12z" color="#274e6d"/>
<path d="M6619 3355l-67 44 24 7 67-44z" color="#26526f"/>
<path d="M4152 3393l-22 13 68 23 23-14z" color="#284d6f"/>
<path d="M3835 3434l-23 12 67 22 23-11z" color="#2b426b"/>
<path d="M6776 3400l-62-13 24 10 62 14z" color="#214760"/>
<path d="M2593 3586l-83 44 61 34 84-34z" color="#3b165a"/>
<path d="M4947 3278l-23 3 72 23 23-3z" color="#1a5b63"/>
<path d="M3654 3481l-22 18 66 33 23-23z" color="#33386e"/>
<path d="M4469 3352l-22 9 69 5 23-10z" color="#1e4d61"/>
<path d="M6006 3294l-69 32 23 12 69-29z" color="#206371"/>
<path d="M5101 3264l-30 10 72 19 30-4z" color="#1b6268"/>
<path d="M2448 3591l-85 33 59 20 88-14z" color="#371856"/>
<path d="M5245 3267l-38 4 67 22 38-6z" color="#1a5f66"/>
<path d="M4786 3299l-22 10 72 15 22-9z" color="#1d5b68"/>
<path d="M6977 3502l-58-43 24 16 58 39z" color="#272d55"/>
<path d="M2302 3585l-87 30 61 40 87-31z" color="#391859"/>
<path d="M3496 3502l-24 11 65 29 25-7z" color="#33346a"/>
<path d="M6324 3340l-67 23 23 13 67-24z" color="#245b73"/>
<path d="M2735 3587l-80 43 62 29 79-47z" color="#391859"/>
<path d="M4627 3311l-22 12 71 24 22-9z" color="#205d6e"/>
<path d="M6166 3314l-69 30 23 7 69-28z" color="#215d6f"/>
<path d="M3328 3529l-31 14 66 44 31-17z" color="#3a2e6c"/>
<path d="M6483 3353l-66 26 23 12 66-21z" color="#265b75"/>
<path d="M5860 3291l-68 18 27 7 69-12z" color="#1c5f69"/>
<path d="M3971 3431l-23 8 68 24 23-9z" color="#294369"/>
<path d="M4130 3406l-23 14 68 22 23-13z" color="#284c6e"/>
<path d="M4288 3383l-22 10 69 28 23-13z" color="#27506f"/>
<path d="M3632 3499l-23 16 67 38 22-21z" color="#36366e"/>
<path d="M2153 3565l-87 30 63 53 86-33z" color="#3c2063"/>
<path d="M3812 3446l-23 11 67 23 23-12z" color="#2c426c"/>
<path d="M6643 3362l-67 44 24 4 67-41z" color="#24506b"/>
<path d="M6800 3411l-62-14 24 9 62 14z" color="#20475f"/>
<path d="M2868 3578l-72 34 63 36 73-30z" color="#3b1f61"/>
<path d="M7001 3514l-58-39 23 22 59 29z" color="#2a2f5a"/>
<path d="M6029 3309l-69 29 23 7 69-23z" color="#1f616f"/>
<path d="M4447 3361l-22 10 69 4 22-9z" color="#1f4f63"/>
<path d="M5577 3266l-58 23 46 12 58-13z" color="#1b666b"/>
<path d="M6347 3352l-67 24 23 12 67-27z" color="#245971"/>
<path d="M4764 3309l-22 8 72 14 22-7z" color="#1c5965"/>
<path d="M3472 3513l-25 15 66 25 24-11z" color="#34356b"/>
<path d="M3159 3565l-47 23 64 26 46-28z" color="#372561"/>
<path d="M5726 3290l-64 15 34 12 65-16z" color="#1c5e67"/>
<path d="M5356 3264l-44 23 60 13 44-12z" color="#1a6669"/>
<path d="M4924 3281l-23 10 73 20 22-7z" color="#1b636a"/>
<path d="M6506 3370l-66 21 23 16 66-21z" color="#275a76"/>
<path d="M4605 3323l-22 9 71 22 22-7z" color="#1f5c6b"/>
<path d="M6189 3323l-69 28 24 8 68-27z" color="#205e6e"/>
<path d="M5071 3274l-27 18 72 19 27-18z" color="#1c676e"/>
<path d="M3609 3515l-24 12 67 41 24-15z" color="#37356f"/>
<path d="M4107 3420l-23 13 69 24 22-15z" color="#294b6e"/>
<path d="M5467 3271l-51 17 52 17 51-16z" color="#1b656a"/>
<path d="M2002 3530l-86 42 64 63 86-40z" color="#3c2d6e"/>
<path d="M4266 3393l-23 9 70 31 22-12z" color="#275070"/>
<path d="M3948 3439l-23 8 68 25 23-9z" color="#29456a"/>
<path d="M3789 3457l-23 13 67 26 23-16z" color="#2d446e"/>
<path d="M7025 3526l-59-29 23 24 60 17z" color="#2d3160"/>
<path d="M5888 3304l-69 12 26 7 68-8z" color="#1c626b"/>
<path d="M3297 3543l-35 18 65 37 36-11z" color="#382e6a"/>
<path d="M2994 3578l-62 40 63 29 63-36z" color="#392161"/>
<path d="M6824 3420l-62-14 24 11 62 11z" color="#1f475e"/>
<path d="M6667 3369l-67 41 24 3 67-35z" color="#23526a"/>
<path d="M5207 3271l-34 18 67 23 34-19z" color="#1b696d"/>
<path d="M4425 3371l-23 13 70 4 22-13z" color="#1f5165"/>
<path d="M6052 3322l-69 23 23 4 69-15z" color="#1e5e6b"/>
<path d="M3447 3528l-25 20 65 22 26-17z" color="#34336a"/>
<path d="M6529 3386l-66 21 23 14 66-22z" color="#265672"/>
<path d="M6370 3361l-67 27 23 10 68-28z" color="#23596f"/>
<path d="M4901 3291l-22 13 73 21 22-14z" color="#1c676e"/>
<path d="M4742 3317l-22 8 72 10 22-4z" color="#1b5761"/>
<path d="M4583 3332l-22 12 71 19 22-9z" color="#1f5c6b"/>
<path d="M6212 3332l-68 27 23 8 67-19z" color="#206070"/>
<path d="M4084 3433l-22 11 68 26 23-13z" color="#294b6f"/>
<path d="M3585 3527l-23 8 67 42 23-9z" color="#35346c"/>
<path d="M7049 3538l-60-17 23 23 60 6z" color="#303264"/>
<path d="M3766 3470l-23 17 67 28 23-19z" color="#2e4370"/>
<path d="M5044 3292l-25 9 72 21 25-11z" color="#1b6369"/>
<path d="M4243 3402l-22 13 69 29 23-11z" color="#27516f"/>
<path d="M3925 3447l-23 10 68 25 23-10z" color="#29476b"/>
<path d="M5761 3301l-65 16 31 10 65-18z" color="#1a5f65"/>
<path d="M4402 3384l-22 12 69 3 23-11z" color="#1f5164"/>
<path d="M5913 3315l-68 8 24 10 68-7z" color="#1d656e"/>
<path d="M6848 3428l-62-11 24 10 62 9z" color="#1f4a60"/>
<path d="M3422 3548l-28 22 65 22 28-22z" color="#353069"/>
<path d="M5623 3288l-58 13 39 10 58-6z" color="#1a6669"/>
<path d="M6552 3399l-66 22 24 12 66-27z" color="#25536e"/>
<path d="M3743 3487l-22 22 66 27 23-21z" color="#30406f"/>
<path d="M4879 3304l-21 11 72 24 22-14z" color="#1c666d"/>
<path d="M6691 3378l-67 35 24 6 66-32z" color="#23576e"/>
<path d="M6075 3334l-69 15 24 3 67-8z" color="#1d5c68"/>
<path d="M7072 3550l-60-6 23 22 61-4z" color="#323267"/>
<path d="M6394 3370l-68 28 24 8 67-27z" color="#22586d"/>
<path d="M3112 3588l-54 23 63 25 55-22z" color="#362560"/>
<path d="M6234 3348l-67 19 23 9 67-13z" color="#216172"/>
<path d="M4062 3444l-23 10 68 29 23-13z" color="#294b6f"/>
<path d="M4561 3344l-22 12 70 16 23-9z" color="#1e5c6a"/>
<path d="M4720 3325l-22 13 72 9 22-12z" color="#1c5e67"/>
<path d="M3262 3561l-40 25 65 28 40-16z" color="#372e69"/>
<path d="M5312 3287l-38 6 60 20 38-13z" color="#196265"/>
<path d="M4221 3415l-23 14 69 25 23-10z" color="#26506e"/>
<path d="M2655 3630l-84 34 60 16 86-21z" color="#341853"/>
<path d="M3562 3535l-25 7 68 42 24-7z" color="#33356a"/>
<path d="M5173 3289l-30 4 67 29 30-10z" color="#1a6568"/>
<path d="M2510 3630l-88 14 63 43 86-23z" color="#371957"/>
<path d="M3902 3457l-23 11 67 25 24-11z" color="#29486d"/>
<path d="M3721 3509l-23 23 67 24 22-20z" color="#313c6d"/>
<path d="M5019 3301l-23 3 72 25 23-7z" color="#196165"/>
<path d="M2215 3615l-86 33 60 32 87-25z" color="#381f5d"/>
<path d="M2363 3624l-87 31 59 20 87-31z" color="#341d56"/>
<path d="M4380 3396l-22 12 69 2 22-11z" color="#1f5164"/>
<path d="M2796 3612l-79 47 63 29 79-40z" color="#3a1f60"/>
<path d="M5937 3326l-68 7 23 14 68-9z" color="#1d646e"/>
<path d="M5519 3289l-51 16 46 17 51-21z" color="#1a6769"/>
<path d="M6872 3436l-62-9 23 13 62 6z" color="#204d64"/>
<path d="M3394 3570l-31 17 65 26 31-21z" color="#352d67"/>
<path d="M7096 3562l-61 4 23 20 62-12z" color="#35326a"/>
<path d="M2066 3595l-86 40 63 55 86-42z" color="#3d2266"/>
<path d="M4858 3315l-22 9 72 25 22-10z" color="#1c666d"/>
<path d="M5416 3288l-44 12 52 11 44-6z" color="#186564"/>
<path d="M6257 3363l-67 13 23 16 67-16z" color="#216072"/>
<path d="M6576 3406l-66 27 23 9 67-32z" color="#225069"/>
<path d="M6714 3387l-66 32 24 10 66-32z" color="#245a72"/>
<path d="M6097 3344l-67 8 22 11 68-12z" color="#1d5f6a"/>
<path d="M6417 3379l-67 27 23 6 67-21z" color="#21586c"/>
<path d="M4039 3454l-23 9 68 31 23-11z" color="#294c70"/>
<path d="M4698 3338l-22 9 72 14 22-14z" color="#1c5f69"/>
<path d="M4539 3356l-23 10 71 19 22-13z" color="#1e5c6a"/>
<path d="M3698 3532l-22 21 66 20 23-17z" color="#32386b"/>
<path d="M5792 3309l-65 18 28 10 64-21z" color="#1a6469"/>
<path d="M2932 3618l-73 30 64 35 72-36z" color="#39205f"/>
<path d="M4198 3429l-23 13 69 21 23-9z" color="#26506d"/>
<path d="M3879 3468l-23 12 67 26 23-13z" color="#2a4a6f"/>
<path d="M3537 3542l-24 11 67 39 25-8z" color="#33386d"/>
<path d="M7120 3574l-62 12 23 23 63-19z" color="#37326d"/>
<path d="M1916 3572l-86 43 62 56 88-36z" color="#3b2d6e"/>
<path d="M4358 3408l-23 13 69 2 23-13z" color="#1f5164"/>
<path d="M6895 3446l-62-6 24 15 62 4z" color="#225068"/>
<path d="M5960 3338l-68 9 23 16 68-18z" color="#1d646d"/>
<path d="M5662 3305l-58 6 35 11 57-5z" color="#186364"/>
<path d="M3222 3586l-46 28 64 28 47-28z" color="#362c67"/>
<path d="M4996 3304l-22 7 71 21 23-3z" color="#186465"/>
<path d="M6280 3376l-67 16 23 14 67-18z" color="#215d6f"/>
<path d="M5143 3293l-27 18 67 13 27-2z" color="#196a6a"/>
<path d="M3676 3553l-24 15 66 18 24-13z" color="#313568"/>
<path d="M4836 3324l-22 7 72 27 22-9z" color="#1b646a"/>
<path d="M6738 3397l-66 32 23 13 67-36z" color="#245c74"/>
<path d="M6440 3391l-67 21 23 15 67-20z" color="#245f75"/>
<path d="M6120 3351l-68 12 23 13 69-17z" color="#1d616c"/>
<path d="M4676 3347l-22 7 72 20 22-13z" color="#1c5f69"/>
<path d="M4516 3366l-22 9 71 22 22-12z" color="#1f5e6c"/>
<path d="M3363 3587l-36 11 66 32 35-17z" color="#342d65"/>
<path d="M5274 3293l-34 19 60 8 34-7z" color="#186866"/>
<path d="M4016 3463l-23 9 68 32 23-10z" color="#294d70"/>
<path d="M6600 3410l-67 32 24 6 67-35z" color="#215066"/>
<path d="M4175 3442l-22 15 69 18 22-12z" color="#254f6d"/>
<path d="M7144 3590l-63 19 24 20 63-22z" color="#39306d"/>
<path d="M3856 3480l-23 16 67 24 23-14z" color="#2a496f"/>
<path d="M3058 3611l-63 36 64 27 62-38z" color="#372763"/>
<path d="M5819 3316l-64 21 26 11 64-25z" color="#1a676a"/>
<path d="M6919 3459l-62-4 23 19 63 1z" color="#24536d"/>
<path d="M4335 3421l-22 12 69 4 22-14z" color="#1f5165"/>
<path d="M3513 3553l-26 17 66 34 27-12z" color="#343a70"/>
<path d="M5983 3345l-68 18 23 14 68-28z" color="#1c626b"/>
<path d="M6303 3388l-67 18 23 14 67-22z" color="#205c6d"/>
<path d="M6463 3407l-67 20 23 17 67-23z" color="#245e74"/>
<path d="M5565 3301l-51 21 39 14 51-25z" color="#196b69"/>
<path d="M3652 3568l-23 9 66 19 23-10z" color="#2f3363"/>
<path d="M6762 3406l-67 36 24 16 67-41z" color="#255e76"/>
<path d="M7168 3607l-63 22 23 18 64-23z" color="#392e6c"/>
<path d="M4974 3311l-22 14 72 12 21-5z" color="#196969"/>
<path d="M4494 3375l-22 13 70 19 23-10z" color="#1f5f6c"/>
<path d="M6144 3359l-69 17 23 12 69-21z" color="#1d616b"/>
<path d="M4654 3354l-22 9 71 23 23-12z" color="#1d626b"/>
<path d="M4814 3331l-22 4 72 30 22-7z" color="#1b666a"/>
<path d="M4153 3457l-23 13 69 19 23-14z" color="#264e6c"/>
<path d="M3833 3496l-23 19 67 20 23-15z" color="#2b486f"/>
<path d="M5372 3300l-38 13 52 19 38-21z" color="#186b69"/>
<path d="M3993 3472l-23 10 68 32 23-10z" color="#294e71"/>
<path d="M5116 3311l-25 11 67 12 25-10z" color="#186867"/>
<path d="M6943 3475l-63-1 24 21 62 2z" color="#26516f"/>
<path d="M5696 3317l-57 5 30 14 58-9z" color="#186665"/>
<path d="M6624 3413l-67 35 24 5 67-34z" color="#205569"/>
<path d="M4313 3433l-23 11 69 7 23-14z" color="#205266"/>
<path d="M5468 3305l-44 6 46 11 44 0z" color="#176864"/>
<path d="M3487 3570l-28 22 66 29 28-17z" color="#34386e"/>
<path d="M5845 3323l-64 25 24 8 64-23z" color="#1a696b"/>
<path d="M5240 3312l-30 10 60 15 30-17z" color="#186967"/>
<path d="M7192 3624l-64 23 24 15 63-21z" color="#392b69"/>
<path d="M6486 3421l-67 23 24 13 67-24z" color="#235b71"/>
<path d="M3327 3598l-40 16 65 36 41-20z" color="#353169"/>
<path d="M6966 3497l-62-2 23 22 62 4z" color="#284e70"/>
<path d="M3176 3614l-55 22 65 33 54-27z" color="#362c66"/>
<path d="M3810 3515l-23 21 67 17 23-18z" color="#2c456e"/>
<path d="M6326 3398l-67 22 23 8 68-22z" color="#1f5b6b"/>
<path d="M6006 3349l-68 28 23 9 69-34z" color="#1c636a"/>
<path d="M6786 3417l-67 41 23 15 68-46z" color="#265f78"/>
<path d="M2571 3664l-86 23 62 40 84-47z" color="#361f5b"/>
<path d="M2129 3648l-86 42 60 40 86-50z" color="#3b2162"/>
<path d="M4130 3470l-23 13 69 20 23-14z" color="#264e6c"/>
<path d="M4952 3325l-22 14 72 7 22-9z" color="#196969"/>
<path d="M3629 3577l-24 7 66 20 24-8z" color="#2d3362"/>
<path d="M4472 3388l-23 11 71 18 22-10z" color="#1e5d6b"/>
<path d="M2717 3659l-86 21 64 41 85-33z" color="#37205d"/>
<path d="M4632 3363l-23 9 72 25 22-11z" color="#1d646d"/>
<path d="M6167 3367l-69 21 23 11 69-23z" color="#1d636c"/>
<path d="M1980 3635l-88 36 64 61 87-42z" color="#3d2467"/>
<path d="M2276 3655l-87 25 61 41 85-46z" color="#382260"/>
<path d="M3970 3482l-24 11 69 33 23-12z" color="#294e71"/>
<path d="M2422 3644l-87 31 64 48 86-36z" color="#3a2566"/>
<path d="M4792 3335l-22 12 72 21 22-3z" color="#1a6769"/>
<path d="M2859 3648l-79 40 62 30 81-35z" color="#392261"/>
<path d="M6989 3521l-62-4 23 23 62 4z" color="#2a4a6f"/>
<path d="M5091 3322l-23 7 67 18 23-13z" color="#186967"/>
<path d="M4290 3444l-23 10 70 11 22-14z" color="#205267"/>
<path d="M6648 3419l-67 34 24 10 67-34z" color="#225d72"/>
<path d="M3787 3536l-22 20 66 15 23-18z" color="#2c426c"/>
<path d="M7215 3641l-63 21 25 13 62-18z" color="#372964"/>
<path d="M3459 3592l-31 21 66 25 31-17z" color="#34356b"/>
<path d="M5727 3327l-58 9 28 12 58-11z" color="#186967"/>
<path d="M5869 3333l-64 23 23 7 64-16z" color="#196a6a"/>
<path d="M6510 3433l-67 24 24 8 66-23z" color="#21576c"/>
<path d="M2995 3647l-72 36 65 43 71-52z" color="#3a2565"/>
<path d="M5604 3311l-51 25 34 10 52-24z" color="#186d69"/>
<path d="M6810 3427l-68 46 24 14 67-47z" color="#265f79"/>
<path d="M1830 3615l-87 44 61 53 88-41z" color="#3b2d6e"/>
<path d="M7012 3544l-62-4 23 23 62 3z" color="#2c466f"/>
<path d="M4930 3339l-22 10 72 14 22-17z" color="#196868"/>
<path d="M4107 3483l-23 11 69 21 23-12z" color="#254d6b"/>
<path d="M6030 3352l-69 34 23 8 68-31z" color="#1b6469"/>
<path d="M6350 3406l-68 22 24 8 67-24z" color="#1e5b6a"/>
<path d="M4449 3399l-22 11 70 19 23-12z" color="#1e5e6b"/>
<path d="M4609 3372l-22 13 72 23 22-11z" color="#1d656e"/>
<path d="M6190 3376l-69 23 24 8 68-15z" color="#1d666f"/>
<path d="M5334 3313l-34 7 52 15 34-3z" color="#176a64"/>
<path d="M3946 3493l-23 13 69 32 23-12z" color="#294f71"/>
<path d="M3605 3584l-25 8 66 23 25-11z" color="#2e3766"/>
<path d="M5210 3322l-27 2 60 23 27-10z" color="#176a66"/>
<path d="M3765 3556l-23 17 66 15 23-17z" color="#2d3f6b"/>
<path d="M4770 3347l-22 14 72 12 22-5z" color="#1a6869"/>
<path d="M4267 3454l-23 9 70 14 23-12z" color="#205367"/>
<path d="M3287 3614l-47 28 66 36 46-28z" color="#37326d"/>
<path d="M7035 3566l-62-3 23 21 62 2z" color="#2e436f"/>
<path d="M6672 3429l-67 34 24 13 66-34z" color="#246177"/>
<path d="M5068 3329l-23 3 67 25 23-10z" color="#186a67"/>
<path d="M5514 3322l-44 0 39 19 44-5z" color="#176a64"/>
<path d="M7239 3657l-62 18 25 7 62-20z" color="#302559"/>
<path d="M6833 3440l-67 47 24 13 67-45z" color="#275f79"/>
<path d="M5424 3311l-38 21 45 10 39-20z" color="#176f68"/>
<path d="M5892 3347l-64 16 23 5 64-5z" color="#1a6c6b"/>
<path d="M4908 3349l-22 9 72 19 22-14z" color="#1a6a6a"/>
<path d="M6533 3442l-66 23 24 6 66-23z" color="#1f5467"/>
<path d="M3428 3613l-35 17 65 26 36-18z" color="#333469"/>
<path d="M4084 3494l-23 10 69 22 23-11z" color="#254d6b"/>
<path d="M5755 3337l-58 11 26 10 58-10z" color="#186b68"/>
<path d="M6373 3412l-67 24 23 13 67-22z" color="#216574"/>
<path d="M4427 3410l-23 13 71 16 22-10z" color="#1e5c69"/>
<path d="M6052 3363l-68 31 23 3 68-21z" color="#1a676a"/>
<path d="M3923 3506l-23 14 69 31 23-13z" color="#294f72"/>
<path d="M6213 3392l-68 15 23 11 68-12z" color="#1e6972"/>
<path d="M4587 3385l-22 12 71 23 23-12z" color="#1d646d"/>
<path d="M3742 3573l-24 13 67 17 23-15z" color="#2c3d69"/>
<path d="M3121 3636l-62 38 64 32 63-37z" color="#372e69"/>
<path d="M7058 3586l-62-2 24 19 61 6z" color="#2f3f6e"/>
<path d="M3580 3592l-27 12 67 26 26-15z" color="#30396a"/>
<path d="M4748 3361l-22 13 72 12 22-13z" color="#1a686a"/>
<path d="M6695 3442l-66 34 23 15 67-33z" color="#256178"/>
<path d="M4244 3463l-22 12 69 11 23-9z" color="#205367"/>
<path d="M5639 3322l-52 24 31 5 51-15z" color="#176d66"/>
<path d="M6857 3455l-67 45 24 14 66-40z" color="#275e7a"/>
<path d="M5183 3324l-25 10 60 18 25-5z" color="#176d65"/>
<path d="M5045 3332l-21 5 66 30 22-10z" color="#19706b"/>
<path d="M7081 3609l-61-6 24 19 61 7z" color="#303b6b"/>
<path d="M5915 3363l-64 5 23 10 64-1z" color="#1a6c6c"/>
<path d="M6396 3427l-67 22 23 18 67-23z" color="#267"/>
<path d="M7264 3662l-62 20 24 10 64-27z" color="#30295d"/>
<path d="M5300 3320l-30 17 52 4 30-6z" color="#166d64"/>
<path d="M4886 3358l-22 7 72 21 22-9z" color="#196868"/>
<path d="M6236 3406l-68 12 23 20 68-18z" color="#1f6873"/>
<path d="M4061 3504l-23 10 69 23 23-11z" color="#254e6b"/>
<path d="M3900 3520l-23 15 69 29 23-13z" color="#2a4e72"/>
<path d="M4404 3423l-22 14 70 16 23-14z" color="#1e5e6b"/>
<path d="M3718 3586l-23 10 67 21 23-14z" color="#2c3d68"/>
<path d="M4565 3397l-23 10 72 23 22-10z" color="#1c646c"/>
<path d="M6557 3448l-66 23 23 8 67-26z" color="#1f5667"/>
<path d="M6075 3376l-68 21 23 4 68-13z" color="#1b6c6f"/>
<path d="M5781 3348l-58 10 24 11 58-13z" color="#186c67"/>
<path d="M4726 3374l-23 12 72 16 23-16z" color="#1a686a"/>
<path d="M2043 3690l-87 42 59 35 88-37z" color="#3b2162"/>
<path d="M6719 3458l-67 33 24 12 66-30z" color="#255f77"/>
<path d="M2485 3687l-86 36 64 56 84-52z" color="#3d2367"/>
<path d="M3553 3604l-28 17 66 27 29-18z" color="#313a6c"/>
<path d="M6880 3474l-66 40 24 15 66-34z" color="#285c79"/>
<path d="M5553 3336l-44 5 34 15 44-10z" color="#176b64"/>
<path d="M4222 3475l-23 14 69 6 23-9z" color="#1f5366"/>
<path d="M3393 3630l-41 20 66 31 40-25z" color="#34346b"/>
<path d="M3240 3642l-54 27 66 34 54-25z" color="#37316b"/>
<path d="M2189 3680l-86 50 61 38 86-47z" color="#3c2466"/>
<path d="M2631 3680l-84 47 65 49 83-55z" color="#3c2568"/>
<path d="M7105 3629l-61-7 23 21 61 4z" color="#31386a"/>
<path d="M2335 3675l-85 46 64 52 85-50z" color="#3d2669"/>
<path d="M1892 3671l-88 41 63 54 89-34z" color="#3d2467"/>
<path d="M5386 3332l-34 3 45 17 34-10z" color="#166b62"/>
<path d="M6419 3444l-67 23 23 14 68-24z" color="#216172"/>
<path d="M2780 3688l-85 33 63 34 84-37z" color="#382462"/>
<path d="M2923 3683l-81 35 66 44 80-36z" color="#3b2566"/>
<path d="M5938 3377l-64 1 23 15 64-7z" color="#1a6b6b"/>
<path d="M5024 3337l-22 9 67 31 21-10z" color="#19736c"/>
<path d="M3877 3535l-23 18 68 25 24-14z" color="#294d70"/>
<path d="M6259 3420l-68 18 23 12 68-22z" color="#1e636e"/>
<path d="M4382 3437l-23 14 71 15 22-13z" color="#1e5e6b"/>
<path d="M5158 3334l-23 13 60 10 23-5z" color="#166e64"/>
<path d="M4038 3514l-23 12 69 24 23-13z" color="#25506d"/>
<path d="M7290 3665l-64 27 25 11 64-35z" color="#322d62"/>
<path d="M5669 3336l-51 15 29 1 50-4z" color="#166d63"/>
<path d="M6904 3495l-66 34 23 17 66-29z" color="#295a78"/>
<path d="M5470 3322l-39 20 40 6 38-7z" color="#167164"/>
<path d="M3695 3596l-24 8 67 26 24-13z" color="#2c3e69"/>
<path d="M4864 3365l-22 3 72 27 22-9z" color="#186866"/>
<path d="M4542 3407l-22 10 71 21 23-8z" color="#1c636a"/>
<path d="M6742 3473l-66 30 24 17 66-33z" color="#255e76"/>
<path d="M4703 3386l-22 11 72 19 22-14z" color="#1a686b"/>
<path d="M6581 3453l-67 26 24 14 67-30z" color="#226072"/>
<path d="M6098 3388l-68 13 23 16 68-18z" color="#1c6d70"/>
<path d="M1743 3659l-88 44 58 37 91-28z" color="#392d6b"/>
<path d="M7128 3647l-61-4 24 20 61-1z" color="#323569"/>
<path d="M5805 3356l-58 13 23 9 58-15z" color="#176a65"/>
<path d="M5270 3337l-27 10 52 5 27-11z" color="#15675e"/>
<path d="M4199 3489l-23 14 69 4 23-12z" color="#205367"/>
<path d="M3525 3621l-31 17 66 26 31-16z" color="#31396b"/>
<path d="M3059 3674l-71 52 64 23 71-43z" color="#382764"/>
<path d="M3854 3553l-23 18 68 21 23-14z" color="#2a4b6f"/>
<path d="M6443 3457l-68 24 24 9 68-25z" color="#1f5b6b"/>
<path d="M6927 3517l-66 29 24 19 65-25z" color="#2a5778"/>
<path d="M5961 3386l-64 7 23 11 64-10z" color="#196868"/>
<path d="M5002 3346l-22 17 67 23 22-9z" color="#18746c"/>
<path d="M4359 3451l-22 14 70 15 23-14z" color="#1e5d6b"/>
<path d="M4015 3526l-23 12 69 25 23-13z" color="#26516e"/>
<path d="M6282 3428l-68 22 23 7 69-21z" color="#1b5d66"/>
<path d="M6766 3487l-66 33 23 16 67-36z" color="#255e77"/>
<path d="M7152 3662l-61 1 24 17 62-5z" color="#323367"/>
<path d="M3352 3650l-46 28 66 33 46-30z" color="#36336c"/>
<path d="M5587 3346l-44 10 31 10 44-15z" color="#166d63"/>
<path d="M5135 3347l-23 10 60 5 23-5z" color="#166d63"/>
<path d="M3671 3604l-25 11 67 28 25-13z" color="#2d416d"/>
<path d="M4681 3397l-22 11 72 19 22-11z" color="#1a686b"/>
<path d="M6605 3463l-67 30 24 13 67-30z" color="#226275"/>
<path d="M6121 3399l-68 18 23 13 69-23z" color="#1b6a6d"/>
<path d="M4520 3417l-23 12 72 18 22-9z" color="#1b6369"/>
<path d="M7315 3668l-64 35 25 11 65-43z" color="#322f64"/>
<path d="M4842 3368l-22 5 72 27 22-5z" color="#176a65"/>
<path d="M4176 3503l-23 12 69 6 23-14z" color="#205266"/>
<path d="M6950 3540l-65 25 23 19 65-21z" color="#2b5478"/>
<path d="M5697 3348l-50 4 25 12 51-6z" color="#177468"/>
<path d="M3831 3571l-23 17 68 20 23-16z" color="#2a496e"/>
<path d="M5828 3363l-58 15 23 4 58-14z" color="#166861"/>
<path d="M5352 3335l-30 6 46 7 29 4z" color="#156a5c"/>
<path d="M4337 3465l-23 12 70 17 23-14z" color="#1f5d6b"/>
<path d="M3186 3669l-63 37 66 33 63-36z" color="#37316b"/>
<path d="M5243 3347l-25 5 52 8 25-8z" color="#14665b"/>
<path d="M4980 3363l-22 14 67 14 22-5z" color="#176f67"/>
<path d="M3494 3638l-36 18 67 24 35-16z" color="#2f3969"/>
<path d="M6467 3465l-68 25 24 5 68-24z" color="#1d5866"/>
<path d="M3992 3538l-23 13 69 25 23-13z" color="#26506e"/>
<path d="M6790 3500l-67 36 24 15 67-37z" color="#265e77"/>
<path d="M5984 3394l-64 10 23 9 64-16z" color="#176463"/>
<path d="M7177 3675l-62 5 24 16 63-14z" color="#313266"/>
<path d="M5509 3341l-38 7 34 4 38 4z" color="#156e5f"/>
<path d="M5431 3342l-34 10 40 7 34-11z" color="#156b5e"/>
<path d="M6973 3563l-65 21 24 18 64-18z" color="#2c5176"/>
<path d="M6629 3476l-67 30 23 11 67-26z" color="#226174"/>
<path d="M6306 3436l-69 21 24 3 68-11z" color="#1b5f67"/>
<path d="M3646 3615l-26 15 67 31 26-18z" color="#2f426f"/>
<path d="M4659 3408l-23 12 72 19 23-12z" color="#1a686a"/>
<path d="M4497 3429l-22 10 71 22 23-14z" color="#1c666c"/>
<path d="M6145 3407l-69 23 24 8 68-20z" color="#196668"/>
<path d="M5112 3357l-22 10 60 2 22-7z" color="#166c61"/>
<path d="M3808 3588l-23 15 68 23 23-18z" color="#2b476e"/>
<path d="M4153 3515l-23 11 69 8 23-13z" color="#205267"/>
<path d="M7341 3671l-65 43 25 7 66-46z" color="#313266"/>
<path d="M4820 3373l-22 13 71 17 23-3z" color="#176c65"/>
<path d="M2547 3727l-84 52 63 38 86-41z" color="#3c1f62"/>
<path d="M5723 3358l-51 6 24 12 51-7z" color="#177367"/>
<path d="M2399 3723l-85 50 62 38 87-32z" color="#3c2265"/>
<path d="M2103 3730l-88 37 63 47 86-46z" color="#3b2264"/>
<path d="M2250 3721l-86 47 64 50 86-45z" color="#3d2367"/>
<path d="M4314 3477l-23 9 70 20 23-12z" color="#1e5c6a"/>
<path d="M5618 3351l-44 15 28 8 45-22z" color="#156c60"/>
<path d="M5851 3368l-58 14 24 1 57-5z" color="#15675d"/>
<path d="M6996 3584l-64 18 24 15 64-14z" color="#2b4d73"/>
<path d="M6814 3514l-67 37 24 16 67-38z" color="#265e77"/>
<path d="M1956 3732l-89 34 59 30 89-29z" color="#37205d"/>
<path d="M3969 3551l-23 13 68 24 24-12z" color="#26506e"/>
<path d="M2695 3721l-83 55 63 34 83-55z" color="#3a2464"/>
<path d="M4958 3377l-22 9 67 5 22 0z" color="#166b62"/>
<path d="M6491 3471l-68 24 24 13 67-29z" color="#1f6270"/>
<path d="M7202 3682l-63 14 24 13 63-17z" color="#333368"/>
<path d="M3306 3678l-54 25 66 33 54-25z" color="#343269"/>
<path d="M6329 3449l-68 11 24 14 67-7z" color="#1e6971"/>
<path d="M6652 3491l-67 26 25 8 66-22z" color="#205c6d"/>
<path d="M5218 3352l-23 5 52 12 23-9z" color="#156d5f"/>
<path d="M3785 3603l-23 14 68 27 23-18z" color="#2c466f"/>
<path d="M3620 3630l-29 18 68 34 28-21z" color="#304271"/>
<path d="M4475 3439l-23 14 72 24 22-16z" color="#1c686f"/>
<path d="M4636 3420l-22 10 72 20 22-11z" color="#1a686a"/>
<path d="M6007 3397l-64 16 23 5 64-17z" color="#16615e"/>
<path d="M2842 3718l-84 37 65 41 85-34z" color="#3a2767"/>
<path d="M4130 3526l-23 11 69 11 23-14z" color="#215368"/>
<path d="M6168 3418l-68 20 23 4 68-4z" color="#196868"/>
<path d="M5090 3367l-21 10 59 3 22-11z" color="#156c60"/>
<path d="M5322 3341l-27 11 46-1 27-3z" color="#156b59"/>
<path d="M3458 3656l-40 25 66 20 41-21z" color="#303a6a"/>
<path d="M1804 3712l-91 28 60 37 94-11z" color="#362964"/>
<path d="M2988 3726l-80 36 62 17 82-30z" color="#33245c"/>
<path d="M4798 3386l-23 16 72 7 22-6z" color="#176f67"/>
<path d="M7020 3603l-64 14 24 14 64-9z" color="#2b4a70"/>
<path d="M6838 3529l-67 38 23 16 67-37z" color="#275e79"/>
<path d="M5747 3369l-51 7 24 10 50-8z" color="#166f63"/>
<path d="M5543 3356l-38-4 31 13 38 1z" color="#166f5f"/>
<path d="M7367 3675l-66 46 26 6 65-48z" color="#313567"/>
<path d="M4291 3486l-23 9 70 21 23-10z" color="#1e5b69"/>
<path d="M3946 3564l-24 14 69 23 23-13z" color="#26506e"/>
<path d="M5874 3378l-57 5 22 12 58-2z" color="#177569"/>
<path d="M5397 3352l-29-4 39 14 30-3z" color="#156b59"/>
<path d="M6352 3467l-67 7 23 16 67-9z" color="#1e6670"/>
<path d="M6514 3479l-67 29 23 15 68-30z" color="#216877"/>
<path d="M3762 3617l-24 13 68 32 24-18z" color="#2d4771"/>
<path d="M7226 3692l-63 17 25 14 63-20z" color="#34346b"/>
<path d="M4452 3453l-22 13 71 27 23-16z" color="#1d6970"/>
<path d="M6676 3503l-66 22 23 17 67-22z" color="#236376"/>
<path d="M5471 3348l-34 11 34 11 34-18z" color="#177562"/>
<path d="M4936 3386l-22 9 66 5 23-9z" color="#166b61"/>
<path d="M5647 3352l-45 22 26 3 44-13z" color="#167160"/>
<path d="M4107 3537l-23 13 69 12 23-14z" color="#215369"/>
<path d="M4614 3430l-23 8 72 22 23-10z" color="#196869"/>
<path d="M3591 3648l-31 16 68 36 31-18z" color="#314171"/>
<path d="M6191 3438l-68 4 24 11 67-3z" color="#1a6a6c"/>
<path d="M3123 3706l-71 43 65 32 72-42z" color="#372d68"/>
<path d="M6030 3401l-64 17 24 3 63-4z" color="#176a64"/>
<path d="M5195 3357l-23 5 52 15 23-8z" color="#167262"/>
<path d="M5069 3377l-22 9 59 5 22-11z" color="#156b60"/>
<path d="M7044 3622l-64 9 24 17 63-5z" color="#2c4971"/>
<path d="M6861 3546l-67 37 24 17 67-35z" color="#285d7a"/>
<path d="M4775 3402l-22 14 72 10 22-17z" color="#186e68"/>
<path d="M3922 3578l-23 14 69 22 23-13z" color="#264f6d"/>
<path d="M5897 3393l-58 2 23 15 58-6z" color="#18756a"/>
<path d="M5295 3352l-25 8 46 2 25-11z" color="#166d59"/>
<path d="M4268 3495l-23 12 70 22 23-13z" color="#1e5f6c"/>
<path d="M5770 3378l-50 8 23 6 50-10z" color="#156a5c"/>
<path d="M6700 3520l-67 22 24 18 66-24z" color="#246277"/>
<path d="M3738 3630l-25 13 69 37 24-18z" color="#2f4673"/>
<path d="M6538 3493l-68 30 24 12 68-29z" color="#216473"/>
<path d="M4430 3466l-23 14 71 27 23-14z" color="#1e6971"/>
<path d="M7392 3679l-65 48 27 6 64-40z" color="#333a6e"/>
<path d="M6375 3481l-67 9 24 12 67-12z" color="#1c6069"/>
<path d="M7251 3703l-63 20 24 14 64-23z" color="#34336a"/>
<path d="M3418 3681l-46 30 66 20 46-30z" color="#31386a"/>
<path d="M5574 3366l-38-1 28 15 38-6z" color="#167462"/>
<path d="M7067 3643l-63 5 24 19 63-4z" color="#2d4771"/>
<path d="M4084 3550l-23 13 69 12 23-13z" color="#215369"/>
<path d="M6885 3565l-67 35 24 16 66-32z" color="#295b79"/>
<path d="M4914 3395l-22 5 66 15 22-15z" color="#166e63"/>
<path d="M6214 3450l-67 3 23 15 67-11z" color="#196769"/>
<path d="M6053 3417l-63 4 23 17 63-8z" color="#19746e"/>
<path d="M4591 3438l-22 9 72 18 22-5z" color="#186666"/>
<path d="M4753 3416l-22 11 71 16 23-17z" color="#186f69"/>
<path d="M5047 3386l-22 5 59 12 22-12z" color="#156b5e"/>
<path d="M3252 3703l-63 36 65 31 64-34z" color="#35346b"/>
<path d="M5672 3364l-44 13 25 2 43-3z" color="#177863"/>
<path d="M5172 3362l-22 7 52 15 22-7z" color="#167461"/>
<path d="M3899 3592l-23 16 68 19 24-13z" color="#264f6d"/>
<path d="M6723 3536l-66 24 23 19 67-28z" color="#256078"/>
<path d="M3560 3664l-35 16 67 37 36-17z" color="#314070"/>
<path d="M4245 3507l-23 14 71 25 22-17z" color="#1f616f"/>
<path d="M3713 3643l-26 18 69 36 26-17z" color="#2f4673"/>
<path d="M5920 3404l-58 6 23 9 58-6z" color="#166d62"/>
<path d="M4407 3480l-23 14 72 26 22-13z" color="#1e6770"/>
<path d="M5368 3348l-27 3 39 10 27 1z" color="#18735a"/>
<path d="M7091 3663l-63 4 24 19 63-6z" color="#2e4570"/>
<path d="M2463 3779l-87 32 64 49 86-43z" color="#3a1f60"/>
<path d="M5437 3359l-30 3 35 12 29-4z" color="#17755f"/>
<path d="M2164 3768l-86 46 63 47 87-43z" color="#3d2366"/>
<path d="M5505 3352l-34 18 31 2 34-7z" color="#17755e"/>
<path d="M2314 3773l-86 45 62 40 86-47z" color="#3b2162"/>
<path d="M6562 3506l-68 29 24 8 67-26z" color="#1e5e6c"/>
<path d="M6908 3584l-66 32 24 15 66-29z" color="#295877"/>
<path d="M6399 3490l-67 12 23 9 68-16z" color="#1a5b63"/>
<path d="M5270 3360l-23 9 45 3 24-10z" color="#16705b"/>
<path d="M7276 3714l-64 23 25 12 64-28z" color="#323266"/>
<path d="M2612 3776l-86 41 63 29 86-36z" color="#38205e"/>
<path d="M7418 3693l-64 40 28 7 64-31z" color="#323a6e"/>
<path d="M5793 3382l-50 10 23 4 51-13z" color="#146959"/>
<path d="M4061 3563l-23 13 69 11 23-12z" color="#215369"/>
<path d="M2015 3767l-89 29 63 56 89-38z" color="#3c2466"/>
<path d="M6076 3430l-63 8 23 15 64-15z" color="#186f69"/>
<path d="M4731 3427l-23 12 72 17 22-13z" color="#186f6a"/>
<path d="M4892 3400l-23 3 67 24 22-12z" color="#167165"/>
<path d="M6237 3457l-67 11 23 12 68-20z" color="#186262"/>
<path d="M4569 3447l-23 14 72 15 23-11z" color="#196a69"/>
<path d="M5602 3374l-38 6 26 11 38-14z" color="#16735f"/>
<path d="M6747 3551l-67 28 24 15 67-27z" color="#255e76"/>
<path d="M3876 3608l-23 18 68 15 23-14z" color="#264e6d"/>
<path d="M4222 3521l-23 13 71 26 23-14z" color="#206170"/>
<path d="M7115 3680l-63 6 24 19 63-9z" color="#2e436f"/>
<path d="M2758 3755l-83 55 62 21 86-35z" color="#382764"/>
<path d="M5696 3376l-43 3 23 14 44-7z" color="#187c66"/>
<path d="M5025 3391l-22 0 59 21 22-9z" color="#166f60"/>
<path d="M5150 3369l-22 11 53 13 21-9z" color="#177761"/>
<path d="M4384 3494l-23 12 72 22 23-8z" color="#1d646c"/>
<path d="M3687 3661l-28 21 68 30 29-15z" color="#2f4471"/>
<path d="M1867 3766l-94 11 61 42 92-23z" color="#332a61"/>
<path d="M6932 3602l-66 29 24 13 66-27z" color="#285474"/>
<path d="M2908 3762l-85 34 64 34 83-51z" color="#362762"/>
<path d="M3372 3711l-54 25 66 28 54-33z" color="#313769"/>
<path d="M5943 3413l-58 6 24 8 57-9z" color="#15695d"/>
<path d="M4038 3576l-24 12 69 13 24-14z" color="#215268"/>
<path d="M6585 3517l-67 26 24 5 68-23z" color="#1c5c68"/>
<path d="M6423 3495l-68 16 24 7 68-10z" color="#1c656c"/>
<path d="M7301 3721l-64 28 26 9 64-31z" color="#303263"/>
<path d="M5247 3369l-23 8 46 5 22-10z" color="#17725b"/>
<path d="M3525 3680l-41 21 68 34 40-18z" color="#304070"/>
<path d="M7446 3709l-64 31 31 10 62-24z" color="#313a6c"/>
<path d="M4546 3461l-22 16 72 17 22-18z" color="#1a6d6d"/>
<path d="M3853 3626l-23 18 68 14 23-17z" color="#274c6c"/>
<path d="M5817 3383l-51 13 23 8 50-9z" color="#187c67"/>
<path d="M4708 3439l-22 11 71 14 23-8z" color="#176b66"/>
<path d="M6771 3567l-67 27 24 14 66-25z" color="#255c75"/>
<path d="M5341 3351l-25 11 39 7 25-8z" color="#1b7b5d"/>
<path d="M6100 3438l-64 15 23 7 64-18z" color="#166963"/>
<path d="M5536 3365l-34 7 29 6 33 2z" color="#1a7a5f"/>
<path d="M3052 3749l-82 30 65 31 82-29z" color="#342e66"/>
<path d="M6261 3460l-68 20 24 7 68-13z" color="#186765"/>
<path d="M4869 3403l-22 6 67 27 22-9z" color="#177466"/>
<path d="M7139 3696l-63 9 24 13 63-9z" color="#2d3f6b"/>
<path d="M4199 3534l-23 14 71 25 23-13z" color="#20606f"/>
<path d="M5471 3370l-29 4 30 11 30-13z" color="#18745c"/>
<path d="M5407 3362l-27-1 35 16 27-3z" color="#1a795d"/>
<path d="M5720 3386l-44 7 23 11 44-12z" color="#177762"/>
<path d="M5128 3380l-22 11 53 7 22-5z" color="#17755e"/>
<path d="M6956 3617l-66 27 25 13 65-26z" color="#285373"/>
<path d="M5628 3377l-38 14 24 7 39-19z" color="#17755f"/>
<path d="M5003 3391l-23 9 60 19 22-7z" color="#177562"/>
<path d="M4361 3506l-23 10 71 19 24-7z" color="#1b6169"/>
<path d="M4014 3588l-23 13 69 13 23-13z" color="#215369"/>
<path d="M3659 3682l-31 18 67 23 32-11z" color="#2d406b"/>
<path d="M3830 3644l-24 18 68 17 24-21z" color="#284a6d"/>
<path d="M6447 3508l-68 10 24 20 67-15z" color="#1e6a72"/>
<path d="M3189 3739l-72 42 65 29 72-40z" color="#353169"/>
<path d="M4524 3477l-23 16 72 18 23-17z" color="#1b6c6d"/>
<path d="M6610 3525l-68 23 24 10 67-16z" color="#1f6672"/>
<path d="M6794 3583l-66 25 24 12 66-20z" color="#255a73"/>
<path d="M5966 3418l-57 9 23 2 58-8z" color="#146759"/>
<path d="M5839 3395l-50 9 23 17 50-11z" color="#19826d"/>
<path d="M5224 3377l-22 7 46 8 22-10z" color="#19775e"/>
<path d="M7327 3727l-64 31 26 7 65-32z" color="#2d3362"/>
<path d="M4176 3548l-23 14 71 27 23-16z" color="#206070"/>
<path d="M4686 3450l-23 10 72 11 22-7z" color="#166761"/>
<path d="M7163 3709l-63 9 25 10 63-5z" color="#2b3d67"/>
<path d="M6285 3474l-68 13 24 7 67-4z" color="#1a706d"/>
<path d="M4847 3409l-22 17 66 15 23-5z" color="#177666"/>
<path d="M7475 3726l-62 24 33 14 62-19z" color="#313a6c"/>
<path d="M5316 3362l-24 10 40 8 23-11z" color="#1c7e5f"/>
<path d="M6123 3442l-64 18 24 5 64-12z" color="#166961"/>
<path d="M5564 3380l-33-2 25 14 34-1z" color="#1a7e62"/>
<path d="M6980 3631l-65 26 24 14 65-23z" color="#295475"/>
<path d="M3806 3662l-24 18 68 19 24-20z" color="#29496d"/>
<path d="M5743 3392l-44 12 23 7 44-15z" color="#17725c"/>
<path d="M5106 3391l-22 12 53-1 22-4z" color="#18745c"/>
<path d="M4338 3516l-23 13 72 22 22-16z" color="#1c666d"/>
<path d="M6470 3523l-67 15 23 16 68-19z" color="#1d666f"/>
<path d="M4980 3400l-22 15 60 8 22-4z" color="#17745f"/>
<path d="M4501 3493l-23 14 72 18 23-14z" color="#1a696c"/>
<path d="M3484 3701l-46 30 67 32 47-28z" color="#304070"/>
<path d="M3991 3601l-23 13 69 14 23-14z" color="#22536a"/>
<path d="M6633 3542l-67 16 24 17 67-15z" color="#1f6572"/>
<path d="M5653 3379l-39 19 24 1 38-6z" color="#1a7c60"/>
<path d="M6818 3600l-66 20 24 13 66-17z" color="#255872"/>
<path d="M2228 3818l-87 43 62 43 87-46z" color="#3c2164"/>
<path d="M5862 3410l-50 11 23 10 50-12z" color="#187966"/>
<path d="M2376 3811l-86 47 64 49 86-47z" color="#3d2266"/>
<path d="M5502 3372l-30 13 28 8 31-15z" color="#1b7f61"/>
<path d="M3318 3736l-64 34 67 29 63-35z" color="#32386c"/>
<path d="M2078 3814l-89 38 62 46 90-37z" color="#3b1f61"/>
<path d="M5442 3374l-27 3 30 12 27-4z" color="#1b7a5d"/>
<path d="M5380 3361l-25 8 35 9 25-1z" color="#1e815e"/>
<path d="M4153 3562l-23 13 70 28 24-14z" color="#216071"/>
<path d="M5990 3421l-58 8 23 14 58-5z" color="#187c6a"/>
<path d="M2526 3817l-86 43 63 37 86-51z" color="#392362"/>
<path d="M5202 3384l-21 9 45 10 22-11z" color="#197a5f"/>
<path d="M6308 3490l-67 4 23 21 68-13z" color="#1b7271"/>
<path d="M7188 3723l-63 5 25 11 62-2z" color="#2b3e68"/>
<path d="M3628 3700l-36 17 67 19 36-13z" color="#2a3e67"/>
<path d="M4825 3426l-23 17 67 7 22-9z" color="#177667"/>
<path d="M7004 3648l-65 23 24 16 65-20z" color="#2a5376"/>
<path d="M4663 3460l-22 5 71 13 23-7z" color="#15655d"/>
<path d="M6147 3453l-64 12 24 8 63-5z" color="#18756a"/>
<path d="M5292 3372l-22 10 39 8 23-10z" color="#1c7f5e"/>
<path d="M3782 3680l-26 17 68 20 26-18z" color="#2a476d"/>
<path d="M7354 3733l-65 32 29 6 64-31z" color="#2c3561"/>
<path d="M6657 3560l-67 15 24 20 66-16z" color="#216674"/>
<path d="M4315 3529l-22 17 71 22 23-17z" color="#1e6770"/>
<path d="M5590 3391l-34 1 24 13 34-7z" color="#197a5f"/>
<path d="M7508 3745l-62 19 37 19 62-17z" color="#31396c"/>
<path d="M3968 3614l-24 13 69 15 24-14z" color="#22536b"/>
<path d="M4478 3507l-22 13 71 16 23-11z" color="#1a6669"/>
<path d="M2675 3810l-86 36 63 30 85-45z" color="#362560"/>
<path d="M5084 3403l-22 9 53 1 22-11z" color="#18745b"/>
<path d="M6494 3535l-68 19 25 3 67-14z" color="#1a5d65"/>
<path d="M6842 3616l-66 17 25 13 65-15z" color="#245670"/>
<path d="M4958 3415l-22 12 60-1 22-3z" color="#17735d"/>
<path d="M5766 3396l-44 15 23-1 44-6z" color="#18755b"/>
<path d="M6013 3438l-58 5 23 16 58-6z" color="#187d6c"/>
<path d="M1926 3796l-92 23 61 42 94-9z" color="#362d67"/>
<path d="M5676 3393l-38 6 22 11 39-6z" color="#1b8365"/>
<path d="M4130 3575l-23 12 70 29 23-13z" color="#216071"/>
<path d="M6332 3502l-68 13 23 19 68-23z" color="#1b6e6f"/>
<path d="M7028 3667l-65 20 24 16 65-17z" color="#2b5176"/>
<path d="M5885 3419l-50 12 23 4 51-8z" color="#166f5b"/>
<path d="M4802 3443l-22 13 67 14 22-20z" color="#177567"/>
<path d="M2823 3796l-86 35 64 28 86-29z" color="#352b64"/>
<path d="M7212 3737l-62 2 25 10 62 0z" color="#2a3c64"/>
<path d="M5181 3393l-22 5 45 12 22-7z" color="#1a7a5e"/>
<path d="M6680 3579l-66 16 24 16 66-17z" color="#216474"/>
<path d="M6170 3468l-63 5 23 19 63-12z" color="#19776e"/>
<path d="M4293 3546l-23 14 71 23 23-15z" color="#1e656f"/>
<path d="M5355 3369l-23 11 34 8 24-10z" color="#1f815d"/>
<path d="M5531 3378l-31 15 26 2 30-3z" color="#1d7d5c"/>
<path d="M4641 3465l-23 11 71 11 23-9z" color="#166e63"/>
<path d="M3756 3697l-29 15 68 22 29-17z" color="#2a456b"/>
<path d="M5270 3382l-22 10 39 7 22-9z" color="#1d7d5c"/>
<path d="M5472 3385l-27 4 28 11 27-7z" color="#1c7c5c"/>
<path d="M3438 3731l-54 33 67 34 54-35z" color="#313e6f"/>
<path d="M3944 3627l-23 14 69 15 23-14z" color="#23536b"/>
<path d="M2970 3779l-83 51 63 20 85-40z" color="#342f66"/>
<path d="M6866 3631l-65 15 24 16 65-18z" color="#245670"/>
<path d="M5415 3377l-25 1 31 11 24 0z" color="#1e7b58"/>
<path d="M4456 3520l-23 8 71 16 23-8z" color="#186163"/>
<path d="M5062 3412l-22 7 52 7 23-13z" color="#18765d"/>
<path d="M5614 3398l-34 7 24 7 34-13z" color="#197559"/>
<path d="M7052 3686l-65 17 25 15 64-13z" color="#2b4e74"/>
<path d="M4936 3427l-22 9 59 5 23-15z" color="#17745f"/>
<path d="M3592 3717l-40 18 67 24 40-23z" color="#2a4169"/>
<path d="M7382 3740l-64 31 31 7 64-28z" color="#2b3963"/>
<path d="M6036 3453l-58 6 24 11 57-10z" color="#177464"/>
<path d="M4107 3587l-24 14 71 31 23-16z" color="#216072"/>
<path d="M6518 3543l-67 14 24 8 67-17z" color="#195d62"/>
<path d="M5789 3404l-44 6 23 13 44-2z" color="#1c8567"/>
<path d="M5699 3404l-39 6 23 12 39-11z" color="#1a7e62"/>
<path d="M3117 3781l-82 29 65 30 82-30z" color="#323166"/>
<path d="M6355 3511l-68 23 24 9 68-25z" color="#196968"/>
<path d="M4780 3456l-23 8 67 18 23-12z" color="#167264"/>
<path d="M6704 3594l-66 17 23 19 67-22z" color="#216273"/>
<path d="M7545 3766l-62 17 43 21 61-13z" color="#30386a"/>
<path d="M6193 3480l-63 12 23 15 64-20z" color="#18746b"/>
<path d="M4270 3560l-23 13 71 24 23-14z" color="#1e646e"/>
<path d="M7237 3749l-62 0 26 10 62-1z" color="#283b62"/>
<path d="M4618 3476l-22 18 71 11 22-18z" color="#177369"/>
<path d="M5909 3427l-51 8 24 2 50-8z" color="#166b56"/>
<path d="M3921 3641l-23 17 68 14 24-16z" color="#23526c"/>
<path d="M5159 3398l-22 4 45 15 22-7z" color="#1b7a5c"/>
<path d="M5332 3380l-23 10 35 9 22-11z" color="#20825c"/>
<path d="M5248 3392l-22 11 39 5 22-9z" color="#1d7d5b"/>
<path d="M6890 3644l-65 18 24 14 66-19z" color="#255671"/>
<path d="M5556 3392l-30 3 25 5 29 5z" color="#1e7c5a"/>
<path d="M3254 3770l-72 40 66 24 73-35z" color="#313568"/>
<path d="M3727 3712l-32 11 69 27 31-16z" color="#29456a"/>
<path d="M7076 3705l-64 13 25 11 63-11z" color="#29486c"/>
<path d="M4083 3601l-23 13 71 32 23-14z" color="#226072"/>
<path d="M5040 3419l-22 4 52 15 22-12z" color="#19785d"/>
<path d="M4433 3528l-24 7 72 16 23-7z" color="#176262"/>
<path d="M5812 3421l-44 2 23 14 44-6z" color="#1a8064"/>
<path d="M4914 3436l-23 5 60 13 22-13z" color="#17755f"/>
<path d="M5500 3393l-27 7 26 5 27-10z" color="#1d7957"/>
<path d="M6728 3608l-67 22 24 17 67-27z" color="#226173"/>
<path d="M6059 3460l-57 10 24 5 57-10z" color="#156d5e"/>
<path d="M6379 3518l-68 25 24 6 68-11z" color="#1a706e"/>
<path d="M6542 3548l-67 17 24 9 67-16z" color="#1b666a"/>
<path d="M5638 3399l-34 13 23 0 33-2z" color="#1c7656"/>
<path d="M5390 3378l-24 10 31 6 24-5z" color="#228058"/>
<path d="M5445 3389l-24 0 28 11 24 0z" color="#207e59"/>
<path d="M4596 3494l-23 17 71 11 23-17z" color="#187269"/>
<path d="M4757 3464l-22 7 66 21 23-10z" color="#167364"/>
<path d="M4247 3573l-23 16 70 20 24-12z" color="#1e636e"/>
<path d="M3898 3658l-24 21 69 13 23-20z" color="#24516c"/>
<path d="M2141 3861l-90 37 64 50 88-44z" color="#3b1e60"/>
<path d="M5722 3411l-39 11 24 2 38-14z" color="#196f53"/>
<path d="M2290 3858l-87 46 62 36 89-33z" color="#3b2163"/>
<path d="M7413 3750l-64 28 34 10 63-24z" color="#2c3e68"/>
<path d="M6217 3487l-64 20 24 9 64-22z" color="#176f66"/>
<path d="M2440 3860l-86 47 61 25 88-35z" color="#391f5f"/>
<path d="M7263 3758l-62 1 26 10 62-4z" color="#283c61"/>
<path d="M5932 3429l-50 8 23 17 50-11z" color="#1b8669"/>
<path d="M3552 3735l-47 28 68 30 46-34z" color="#2d446f"/>
<path d="M6915 3657l-66 19 25 13 65-18z" color="#255570"/>
<path d="M5309 3390l-22 9 35 9 22-9z" color="#21825b"/>
<path d="M5226 3403l-22 7 39 6 22-8z" color="#1d7856"/>
<path d="M5137 3402l-22 11 45 7 22-3z" color="#1d7b59"/>
<path d="M3384 3764l-63 35 67 38 63-39z" color="#323d70"/>
<path d="M7100 3718l-63 11 25 11 63-12z" color="#274567"/>
<path d="M4060 3614l-23 14 70 30 24-12z" color="#216072"/>
<path d="M5580 3405l-29-5 23 12 30 0z" color="#1d7957"/>
<path d="M4409 3535l-22 16 71 19 23-19z" color="#1a6d6c"/>
<path d="M2589 3846l-86 51 64 33 85-54z" color="#392665"/>
<path d="M6752 3620l-67 27 24 16 67-30z" color="#226274"/>
<path d="M7587 3791l-61 13 50 21 60-7z" color="#2f3767"/>
<path d="M3874 3679l-24 20 68 13 25-20z" color="#254f6c"/>
<path d="M6403 3538l-68 11 24 16 67-11z" color="#1b7272"/>
<path d="M5835 3431l-44 6 23 7 44-9z" color="#187359"/>
<path d="M4573 3511l-23 14 71 12 23-15z" color="#187069"/>
<path d="M6566 3558l-67 16 24 21 67-20z" color="#1e7076"/>
<path d="M4891 3441l-22 9 60 10 22-6z" color="#17735c"/>
<path d="M5018 3423l-22 3 52 17 22-5z" color="#1a775a"/>
<path d="M4224 3589l-24 14 71 17 23-11z" color="#1d616c"/>
<path d="M1989 3852l-94 9 62 42 94-5z" color="#33285f"/>
<path d="M3695 3723l-36 13 69 30 36-16z" color="#29476c"/>
<path d="M5660 3410l-33 2 23 4 33 6z" color="#1e7c58"/>
<path d="M4735 3471l-23 7 67 22 22-8z" color="#177564"/>
<path d="M6083 3465l-57 10 23 4 58-6z" color="#156a59"/>
<path d="M5366 3388l-22 11 31 4 22-9z" color="#248459"/>
<path d="M5955 3443l-50 11 23 12 50-7z" color="#1a8369"/>
<path d="M6241 3494l-64 22 24 5 63-6z" color="#177166"/>
<path d="M5526 3395l-27 10 25 1 27-6z" color="#207752"/>
<path d="M6939 3671l-65 18 24 13 65-15z" color="#24546e"/>
<path d="M5473 3400l-24 0 26 8 24-3z" color="#207953"/>
<path d="M5745 3410l-38 14 23-1 38 0z" color="#1e7a57"/>
<path d="M2737 3831l-85 45 63 27 86-44z" color="#342e66"/>
<path d="M4387 3551l-23 17 71 17 23-15z" color="#1b6c6d"/>
<path d="M7289 3765l-62 4 28 15 63-13z" color="#283e64"/>
<path d="M5287 3399l-22 9 35 8 22-8z" color="#22825a"/>
<path d="M5421 3389l-24 5 28 5 24 1z" color="#248055"/>
<path d="M6590 3575l-67 20 23 21 68-21z" color="#1f6f77"/>
<path d="M3850 3699l-26 18 68 17 26-22z" color="#264d6c"/>
<path d="M6776 3633l-67 30 24 18 68-35z" color="#236376"/>
<path d="M4037 3628l-24 14 70 26 24-10z" color="#215d6f"/>
<path d="M7125 3728l-63 12 24 16 64-17z" color="#28496c"/>
<path d="M5115 3413l-23 13 46 0 22-6z" color="#1e7b57"/>
<path d="M5204 3410l-22 7 39 6 22-7z" color="#1e7a56"/>
<path d="M7446 3764l-63 24 38 14 62-19z" color="#2d416b"/>
<path d="M4550 3525l-23 11 71 14 23-13z" color="#176d67"/>
<path d="M6426 3554l-67 11 24 13 68-21z" color="#196767"/>
<path d="M5604 3412l-30 0 23 8 30-8z" color="#1d7451"/>
<path d="M2887 3830l-86 29 64 31 85-40z" color="#312e63"/>
<path d="M4869 3450l-22 20 59-6 23-4z" color="#177259"/>
<path d="M4200 3603l-23 13 71 16 23-12z" color="#1d606b"/>
<path d="M4996 3426l-23 15 53 3 22-1z" color="#1c7a59"/>
<path d="M3505 3763l-54 35 68 33 54-38z" color="#2f4270"/>
<path d="M6264 3515l-63 6 24 11 62 2z" color="#18766c"/>
<path d="M5858 3435l-44 9 24 0 44-7z" color="#196d51"/>
<path d="M6107 3473l-58 6 24 13 57 0z" color="#197e68"/>
<path d="M5978 3459l-50 7 24 10 50-6z" color="#197a61"/>
<path d="M6963 3687l-65 15 25 14 64-13z" color="#24546e"/>
<path d="M5344 3399l-22 9 31 3 22-8z" color="#248055"/>
<path d="M5683 3422l-33-6 23 14 34-6z" color="#1e7956"/>
<path d="M6614 3595l-68 21 24 19 68-24z" color="#1f6c76"/>
<path d="M4712 3478l-23 9 67 19 23-6z" color="#177663"/>
<path d="M4364 3568l-23 15 71 15 23-13z" color="#1a686a"/>
<path d="M3035 3810l-85 40 66 30 84-40z" color="#323569"/>
<path d="M5768 3423l-38 0 23 14 38 0z" color="#21855f"/>
<path d="M6801 3646l-68 35 24 18 68-37z" color="#246479"/>
<path d="M3824 3717l-29 17 69 24 28-24z" color="#274d6d"/>
<path d="M4013 3642l-23 14 70 23 23-11z" color="#205c6d"/>
<path d="M5551 3400l-27 6 23 0 27 6z" color="#247a50"/>
<path d="M7150 3739l-64 17 25 12 64-19z" color="#27486a"/>
<path d="M5265 3408l-22 8 35 8 22-8z" color="#238259"/>
<path d="M5092 3426l-22 12 45 2 23-14z" color="#1e7c58"/>
<path d="M3659 3736l-40 23 69 32 40-25z" color="#2a4b70"/>
<path d="M3182 3810l-82 30 67 34 81-40z" color="#31386a"/>
<path d="M5499 3405l-24 3 24 5 25-7z" color="#21744d"/>
<path d="M7318 3771l-63 13 30 17 64-23z" color="#2a4269"/>
<path d="M4527 3536l-23 8 71 17 23-11z" color="#166963"/>
<path d="M7636 3818l-60 7 58 27 60-3z" color="#2f3767"/>
<path d="M4177 3616l-23 16 70 16 24-16z" color="#1d606b"/>
<path d="M5397 3394l-22 9 28 3 22-7z" color="#267f52"/>
<path d="M4847 3470l-23 12 59-3 23-15z" color="#17725a"/>
<path d="M5182 3417l-22 3 39 8 22-5z" color="#1f7651"/>
<path d="M6451 3557l-68 21 24 12 68-25z" color="#196a69"/>
<path d="M5449 3400l-24-1 26 6 24 3z" color="#24764c"/>
<path d="M6130 3492l-57 0 23 18 57-3z" color="#197f6a"/>
<path d="M6287 3534l-62-2 23 19 63-8z" color="#18746b"/>
<path d="M6638 3611l-68 24 24 16 67-21z" color="#206a75"/>
<path d="M6987 3703l-64 13 24 16 65-14z" color="#24536d"/>
<path d="M5627 3412l-30 8 23 0 30-4z" color="#20714b"/>
<path d="M4973 3441l-22 13 52 0 23-10z" color="#1d7a59"/>
<path d="M3321 3799l-73 35 67 43 73-40z" color="#333d71"/>
<path d="M5882 3437l-44 7 23 14 44-4z" color="#208762"/>
<path d="M6825 3662l-68 37 24 17 68-40z" color="#256279"/>
<path d="M4341 3583l-23 14 71 13 23-12z" color="#1a6769"/>
<path d="M7483 3783l-62 19 43 18 62-16z" color="#2c406a"/>
<path d="M6002 3470l-50 6 23 5 51-6z" color="#176e56"/>
<path d="M5322 3408l-22 8 31 6 22-11z" color="#268256"/>
<path d="M4689 3487l-22 18 66 8 23-7z" color="#177864"/>
<path d="M5791 3437l-38 0 23 11 38-4z" color="#1f7c59"/>
<path d="M3990 3656l-24 16 70 22 24-15z" color="#205e6f"/>
<path d="M2203 3904l-88 44 61 33 89-41z" color="#381f5e"/>
<path d="M5707 3424l-34 6 23 4 34-11z" color="#1f734f"/>
<path d="M3795 3734l-31 16 69 31 31-23z" color="#284d6f"/>
<path d="M2354 3907l-89 33 63 41 87-49z" color="#37215e"/>
<path d="M7175 3749l-64 19 25 12 65-21z" color="#27496a"/>
<path d="M5070 3438l-22 5 45 8 22-11z" color="#1e7956"/>
<path d="M4154 3632l-23 14 70 18 23-16z" color="#1e606c"/>
<path d="M5574 3412l-27-6 23 9 27 5z" color="#257b4f"/>
<path d="M5243 3416l-22 7 35 7 22-6z" color="#237e54"/>
<path d="M4824 3482l-23 10 60 5 22-18z" color="#18755e"/>
<path d="M6661 3630l-67 21 24 15 67-19z" color="#206975"/>
<path d="M6153 3507l-57 3 24 15 57-9z" color="#177764"/>
<path d="M4504 3544l-23 7 71 16 23-6z" color="#166a62"/>
<path d="M5375 3403l-22 8 28 4 22-9z" color="#288051"/>
<path d="M7012 3718l-65 14 24 16 66-19z" color="#24546e"/>
<path d="M6475 3565l-68 25 24 10 68-26z" color="#196d6a"/>
<path d="M6311 3543l-63 8 24 15 63-17z" color="#177067"/>
<path d="M2503 3897l-88 35 63 30 89-32z" color="#35245f"/>
<path d="M7349 3778l-64 23 34 14 64-27z" color="#2a446b"/>
<path d="M5524 3406l-25 7 23 3 25-10z" color="#277c4e"/>
<path d="M6849 3676l-68 40 24 15 69-42z" color="#256179"/>
<path d="M5905 3454l-44 4 23 13 44-5z" color="#1f8662"/>
<path d="M4951 3454l-22 6 52 9 22-15z" color="#1d7a59"/>
<path d="M5160 3420l-22 6 39 1 22 1z" color="#23774e"/>
<path d="M3619 3759l-46 34 68 31 47-33z" color="#2c4971"/>
<path d="M2051 3898l-94 5 62 43 96 2z" color="#332960"/>
<path d="M4667 3505l-23 17 66 8 23-17z" color="#177865"/>
<path d="M4318 3597l-24 12 72 13 23-12z" color="#1a6568"/>
<path d="M3451 3798l-63 39 68 31 63-37z" color="#30406f"/>
<path d="M5475 3408l-24-3 25 8 23 0z" color="#277b4d"/>
<path d="M3966 3672l-23 20 69 18 24-16z" color="#215d6f"/>
<path d="M5650 3416l-30 4 24 5 29 5z" color="#278153"/>
<path d="M5425 3399l-22 7 26 0 22-1z" color="#29794a"/>
<path d="M5300 3416l-22 8 31 4 22-6z" color="#268053"/>
<path d="M2652 3876l-85 54 64 38 84-65z" color="#372d68"/>
<path d="M4131 3646l-24 12 71 21 23-15z" color="#1e606c"/>
<path d="M6026 3475l-51 6 24 3 50-5z" color="#186d52"/>
<path d="M5814 3444l-38 4 24 4 38-8z" color="#1e714e"/>
<path d="M7201 3759l-65 21 26 14 65-25z" color="#274b6c"/>
<path d="M6685 3647l-67 19 24 14 67-17z" color="#216775"/>
<path d="M4801 3492l-22 8 59 10 23-13z" color="#17745d"/>
<path d="M5730 3423l-34 11 24 0 33 3z" color="#268155"/>
<path d="M3764 3750l-36 16 70 38 35-23z" color="#294f72"/>
<path d="M5048 3443l-22 1 45 15 22-8z" color="#207b55"/>
<path d="M7037 3729l-66 19 25 18 66-26z" color="#265774"/>
<path d="M4481 3551l-23 19 71 12 23-15z" color="#177269"/>
<path d="M5597 3420l-27-5 23 11 27-6z" color="#277b4e"/>
<path d="M6499 3574l-68 26 25 9 67-14z" color="#1a7370"/>
<path d="M6177 3516l-57 9 24 9 57-13z" color="#16725f"/>
<path d="M6335 3549l-63 17 24 10 63-11z" color="#166e65"/>
<path d="M5221 3423l-22 5 35 5 22-3z" color="#257a4f"/>
<path d="M5353 3411l-22 11 28 2 22-9z" color="#2a8251"/>
<path d="M4644 3522l-23 15 67 8 22-15z" color="#177564"/>
<path d="M6874 3689l-69 42 25 14 68-43z" color="#255f77"/>
<path d="M3943 3692l-25 20 70 14 24-16z" color="#215a6d"/>
<path d="M2801 3859l-86 44 66 52 84-65z" color="#37346e"/>
<path d="M7694 3849l-60 3 67 33 59 1z" color="#2f3666"/>
<path d="M7526 3804l-62 16 50 20 62-15z" color="#2a3f67"/>
<path d="M5928 3466l-44 5 24 8 44-3z" color="#1d7d5b"/>
<path d="M4294 3609l-23 11 71 14 24-12z" color="#196466"/>
<path d="M4929 3460l-23 4 52 15 23-10z" color="#1e7d59"/>
<path d="M5138 3426l-23 14 40-2 22-11z" color="#278052"/>
<path d="M5547 3406l-25 10 24-1 24 0z" color="#2c7e4b"/>
<path d="M5673 3430l-29-5 23 10 29-1z" color="#267c4f"/>
<path d="M5499 3413l-23 0 23 8 23-5z" color="#2b7f4d"/>
<path d="M4107 3658l-24 10 71 25 24-14z" color="#1e606d"/>
<path d="M5403 3406l-22 9 26 0 22-9z" color="#2d7f4b"/>
<path d="M6709 3663l-67 17 24 15 67-14z" color="#216574"/>
<path d="M5278 3424l-22 6 31 4 22-6z" color="#277c4e"/>
<path d="M7383 3788l-64 27 37 17 65-30z" color="#2a476d"/>
<path d="M6049 3479l-50 5 24 16 50-8z" color="#1e8462"/>
<path d="M4458 3570l-23 15 71 18 23-21z" color="#18726b"/>
<path d="M7227 3769l-65 25 28 22 65-32z" color="#2b5075"/>
<path d="M2950 3850l-85 40 66 38 85-48z" color="#32396d"/>
<path d="M6523 3595l-67 14 23 24 67-17z" color="#1c7776"/>
<path d="M5451 3405l-22 1 24 5 23 2z" color="#2f814b"/>
<path d="M7062 3740l-66 26 24 15 66-25z" color="#275774"/>
<path d="M5753 3437l-33-3 23 14 33 0z" color="#278557"/>
<path d="M4779 3500l-23 6 59 12 23-8z" color="#18745c"/>
<path d="M5838 3444l-38 8 23 6 38 0z" color="#258358"/>
<path d="M3573 3793l-54 38 68 31 54-38z" color="#2d4570"/>
<path d="M3918 3712l-26 22 70 14 26-22z" color="#22576c"/>
<path d="M4621 3537l-23 13 67 10 23-15z" color="#177464"/>
<path d="M3100 3840l-84 40 67 45 84-51z" color="#343b70"/>
<path d="M6359 3565l-63 11 24 2 63 0z" color="#166c61"/>
<path d="M6898 3702l-68 43 25 11 68-40z" color="#255f77"/>
<path d="M5026 3444l-23 10 45 7 23-2z" color="#248055"/>
<path d="M6201 3521l-57 13 24 4 57-6z" color="#16715c"/>
<path d="M5331 3422l-22 6 28 2 22-6z" color="#29794a"/>
<path d="M4271 3620l-23 12 71 21 23-19z" color="#1a696b"/>
<path d="M5620 3420l-27 6 24 2 27-3z" color="#297949"/>
<path d="M3728 3766l-40 25 70 41 40-28z" color="#2b5176"/>
<path d="M5115 3440l-22 11 40 0 22-13z" color="#267e51"/>
<path d="M3248 3834l-81 40 67 39 81-36z" color="#323f71"/>
<path d="M6546 3616l-67 17 23 23 68-21z" color="#1d7477"/>
<path d="M5199 3428l-22-1 35 6 22 0z" color="#267347"/>
<path d="M5952 3476l-44 3 24 6 43-4z" color="#1c7352"/>
<path d="M6733 3681l-67 14 24 18 67-14z" color="#216373"/>
<path d="M4906 3464l-23 15 52 4 23-4z" color="#207c57"/>
<path d="M4083 3668l-23 11 71 29 23-15z" color="#1f6370"/>
<path d="M6073 3492l-50 8 23 17 50-7z" color="#1f8c6a"/>
<path d="M4435 3585l-23 13 71 20 23-15z" color="#18716b"/>
<path d="M5570 3415l-24 0 23 8 24 3z" color="#31854d"/>
<path d="M5381 3415l-22 9 26 1 22-10z" color="#2e804a"/>
<path d="M7086 3756l-66 25 25 13 66-26z" color="#275472"/>
<path d="M7255 3784l-65 32 30 18 65-33z" color="#2b4f74"/>
<path d="M5696 3434l-29 1 23 5 30-6z" color="#277749"/>
<path d="M3388 3837l-73 40 69 39 72-48z" color="#313e6f"/>
<path d="M3892 3734l-28 24 69 11 29-21z" color="#22556c"/>
<path d="M5522 3416l-23 5 23 5 24-11z" color="#2f804a"/>
<path d="M5861 3458l-38 0 24 15 37-2z" color="#268a5d"/>
<path d="M5256 3430l-22 3 31 5 22-4z" color="#287849"/>
<path d="M4598 3550l-23 11 67 12 23-13z" color="#167363"/>
<path d="M5776 3448l-33 0 23 9 34-5z" color="#257a4e"/>
<path d="M5476 3413l-23-2 24 11 22-1z" color="#33874d"/>
<path d="M6923 3716l-68 40 24 14 68-38z" color="#255e77"/>
<path d="M6383 3578l-63 0 24 23 63-11z" color="#197a6e"/>
<path d="M4756 3506l-23 7 60 13 22-8z" color="#19775b"/>
<path d="M4248 3632l-24 16 72 22 23-17z" color="#1c6b6f"/>
<path d="M6570 3635l-68 21 24 19 68-24z" color="#1d7176"/>
<path d="M2265 3940l-89 41 63 39 89-39z" color="#3a2363"/>
<path d="M5429 3406l-22 9 24 1 22-5z" color="#348348"/>
<path d="M6225 3532l-57 6 23 16 57-3z" color="#1a826a"/>
<path d="M5003 3454l-22 15 45 6 22-14z" color="#278759"/>
<path d="M6757 3699l-67 14 24 23 67-20z" color="#226273"/>
<path d="M7421 3802l-65 30 43 22 65-34z" color="#2b4a70"/>
<path d="M5093 3451l-22 8 39 3 23-11z" color="#277f51"/>
<path d="M2415 3932l-87 49 64 40 86-59z" color="#382966"/>
<path d="M7576 3825l-62 15 58 27 62-15z" color="#2a4269"/>
<path d="M5309 3428l-22 6 28 2 22-6z" color="#2c7c49"/>
<path d="M6096 3510l-50 7 24 15 50-7z" color="#1d8667"/>
<path d="M4883 3479l-22 18 52-4 22-10z" color="#207c56"/>
<path d="M5644 3425l-27 3 23 3 27 4z" color="#30814a"/>
<path d="M4060 3679l-24 15 71 30 24-16z" color="#206371"/>
<path d="M4412 3598l-23 12 71 22 23-14z" color="#18706a"/>
<path d="M2567 3930l-89 32 66 53 87-47z" color="#3a2a69"/>
<path d="M2115 3948l-96-2 63 42 94-7z" color="#31265b"/>
<path d="M5177 3427l-22 11 35 3 22-8z" color="#2f834c"/>
<path d="M5975 3481l-43 4 24 4 43-5z" color="#1e734f"/>
<path d="M7111 3768l-66 26 26 12 65-26z" color="#275472"/>
<path d="M7760 3886l-59-1 77 44 58-1z" color="#2f3565"/>
<path d="M3864 3758l-31 23 69 8 31-20z" color="#23516a"/>
<path d="M3688 3791l-47 33 70 40 47-32z" color="#2c4f75"/>
<path d="M5359 3424l-22 6 26 3 22-8z" color="#308049"/>
<path d="M5593 3426l-24-3 23 10 25-5z" color="#307f49"/>
<path d="M5884 3471l-37 2 23 12 38-6z" color="#258459"/>
<path d="M2715 3903l-84 65 66 51 84-64z" color="#3b2e6e"/>
<path d="M6407 3590l-63 11 23 20 64-21z" color="#18776e"/>
<path d="M6781 3716l-67 20 24 21 67-26z" color="#226174"/>
<path d="M4224 3648l-23 16 72 21 23-15z" color="#1c696e"/>
<path d="M6947 3732l-68 38 25 13 67-35z" color="#265e77"/>
<path d="M6248 3551l-57 3 24 20 57-8z" color="#19816c"/>
<path d="M6594 3651l-68 24 24 15 68-24z" color="#1e6e74"/>
<path d="M5720 3434l-30 6 23 5 30 3z" color="#30864f"/>
<path d="M3519 3831l-63 37 68 37 63-43z" color="#2f4471"/>
<path d="M4575 3561l-23 6 67 17 23-11z" color="#167160"/>
<path d="M7285 3801l-65 33 33 12 66-31z" color="#294c70"/>
<path d="M4981 3469l-23 10 45 10 23-14z" color="#268659"/>
<path d="M4733 3513l-23 17 60 3 23-7z" color="#1a785a"/>
<path d="M5499 3421l-22 1 23 9 22-5z" color="#34854a"/>
<path d="M5546 3415l-24 11 23-1 24-2z" color="#368649"/>
<path d="M5800 3452l-34 5 24 2 33-1z" color="#297b4c"/>
<path d="M5407 3415l-22 10 25 0 21-9z" color="#368548"/>
<path d="M5234 3433l-22 0 31 4 22 1z" color="#2d7744"/>
<path d="M4861 3497l-23 13 52 1 23-18z" color="#1f7d59"/>
<path d="M4036 3694l-24 16 71 29 24-15z" color="#206371"/>
<path d="M6120 3525l-50 7 23 10 51-8z" color="#1b7d60"/>
<path d="M5453 3411l-22 5 24 5 22 1z" color="#3a8a49"/>
<path d="M4389 3610l-23 12 71 21 23-11z" color="#186e68"/>
<path d="M5071 3459l-23 2 40 7 22-6z" color="#277a4c"/>
<path d="M5667 3435l-27-4 23 15 27-6z" color="#32884e"/>
<path d="M5287 3434l-22 4 28 3 22-5z" color="#2e7b46"/>
<path d="M5155 3438l-22 13 34 2 23-12z" color="#328950"/>
<path d="M2865 3890l-84 65 66 34 84-61z" color="#36366e"/>
<path d="M6805 3731l-67 26 24 20 68-32z" color="#236074"/>
<path d="M7136 3780l-65 26 25 19 66-31z" color="#285675"/>
<path d="M5999 3484l-43 5 23 17 44-6z" color="#278f61"/>
<path d="M4201 3664l-23 15 71 20 24-14z" color="#1c676c"/>
<path d="M6971 3748l-67 35 25 16 67-33z" color="#265c76"/>
<path d="M6272 3566l-57 8 24 13 57-11z" color="#177865"/>
<path d="M6431 3600l-64 21 25 12 64-24z" color="#18736a"/>
<path d="M6618 3666l-68 24 25 10 67-20z" color="#1c686e"/>
<path d="M3833 3781l-35 23 69 13 35-28z" color="#24506a"/>
<path d="M5337 3430l-22 6 26 3 22-6z" color="#338147"/>
<path d="M4552 3567l-23 15 67 13 23-11z" color="#177663"/>
<path d="M5743 3448l-30-3 24 14 29-2z" color="#318a51"/>
<path d="M5908 3479l-38 6 24 4 38-4z" color="#23794f"/>
<path d="M4710 3530l-22 15 59-2 23-10z" color="#1b795b"/>
<path d="M5617 3428l-25 5 23 2 25-4z" color="#348045"/>
<path d="M4958 3479l-23 4 46 16 22-10z" color="#268356"/>
<path d="M3016 3880l-85 48 67 48 85-51z" color="#363c74"/>
<path d="M7464 3820l-65 34 50 22 65-36z" color="#2a4b6f"/>
<path d="M4012 3710l-24 16 70 29 25-16z" color="#206271"/>
<path d="M4838 3510l-23 8 52 6 23-13z" color="#1e7b58"/>
<path d="M5823 3458l-33 1 23 13 34 1z" color="#308f57"/>
<path d="M5385 3425l-22 8 25 2 22-10z" color="#388647"/>
<path d="M5569 3423l-24 2 24 9 23-1z" color="#3b8d4a"/>
<path d="M5522 3426l-22 5 23 2 22-8z" color="#357f43"/>
<path d="M7319 3815l-66 31 38 15 65-29z" color="#284c6f"/>
<path d="M4366 3622l-24 12 71 17 24-8z" color="#176e67"/>
<path d="M3641 3824l-54 38 70 38 54-36z" color="#2d4c74"/>
<path d="M5477 3422l-22-1 23 10 22 0z" color="#3c8c49"/>
<path d="M6023 3500l-44 6 23 17 44-6z" color="#259064"/>
<path d="M3167 3874l-84 51 67 36 84-48z" color="#323e70"/>
<path d="M6144 3534l-51 8 25 5 50-9z" color="#1a775a"/>
<path d="M6830 3745l-68 32 24 17 69-38z" color="#236175"/>
<path d="M7162 3794l-66 31 28 20 66-29z" color="#2a5678"/>
<path d="M5212 3433l-22 8 31 3 22-7z" color="#378648"/>
<path d="M6996 3766l-67 33 24 17 67-35z" color="#265b75"/>
<path d="M5133 3451l-23 11 35 2 22-11z" color="#30864e"/>
<path d="M5431 3416l-21 9 23 3 22-7z" color="#3e8b46"/>
<path d="M5048 3461l-22 14 39 2 23-9z" color="#2d8550"/>
<path d="M4178 3679l-24 14 72 21 23-15z" color="#1c676c"/>
<path d="M3315 3877l-81 36 69 48 81-45z" color="#333e72"/>
<path d="M5690 3440l-27 6 23 4 27-5z" color="#348449"/>
<path d="M7634 3852l-62 15 67 40 62-22z" color="#2b456d"/>
<path d="M6642 3680l-67 20 24 20 67-25z" color="#1d6c71"/>
<path d="M6456 3609l-64 24 24 12 63-12z" color="#197b70"/>
<path d="M4529 3582l-23 21 66 2 24-10z" color="#177664"/>
<path d="M5265 3438l-22-1 28 5 22-1z" color="#327941"/>
<path d="M4688 3545l-23 15 59 0 23-17z" color="#1a795c"/>
<path d="M6296 3576l-57 11 24 0 57-9z" color="#146855"/>
<path d="M3988 3726l-26 22 70 29 26-22z" color="#216172"/>
<path d="M5766 3457l-29 2 23 7 30-7z" color="#2f7e49"/>
<path d="M3798 3804l-40 28 69 20 40-35z" color="#264e6d"/>
<path d="M5847 3473l-34-1 24 12 33 1z" color="#2e8954"/>
<path d="M5315 3436l-22 5 26 2 22-4z" color="#347d42"/>
<path d="M5932 3485l-38 4 24 6 38-6z" color="#277c4e"/>
<path d="M5640 3431l-25 4 23 6 25 5z" color="#3c8b48"/>
<path d="M4815 3518l-22 8 52 9 22-11z" color="#1f7b57"/>
<path d="M4935 3483l-22 10 45 8 23-2z" color="#298454"/>
<path d="M3456 3868l-72 48 68 36 72-47z" color="#314372"/>
<path d="M6046 3517l-44 6 24 13 44-4z" color="#228961"/>
<path d="M6479 3633l-63 12 23 27 63-16z" color="#1a7b74"/>
<path d="M6855 3756l-69 38 25 17 68-41z" color="#256278"/>
<path d="M7836 3928l-58 1 82 69 61-23z" color="#34356c"/>
<path d="M4342 3634l-23 19 71 11 23-13z" color="#18706a"/>
<path d="M5363 3433l-22 6 24 2 23-6z" color="#388243"/>
<path d="M6666 3695l-67 25 23 25 68-32z" color="#1f7078"/>
<path d="M7020 3781l-67 35 25 16 67-38z" color="#255a74"/>
<path d="M5592 3433l-23 1 23 10 23-9z" color="#3c8a47"/>
<path d="M7190 3816l-66 29 30 17 66-28z" color="#295173"/>
<path d="M2328 3981l-89 39 64 43 89-42z" color="#392463"/>
<path d="M4154 3693l-23 15 71 22 24-16z" color="#1c676e"/>
<path d="M5026 3475l-23 14 40 5 22-17z" color="#2e8b55"/>
<path d="M5190 3441l-23 12 31 4 23-13z" color="#3b8f4d"/>
<path d="M6168 3538l-50 9 23 15 50-8z" color="#1e8563"/>
<path d="M5500 3431l-22 0 23 9 22-7z" color="#3d8945"/>
<path d="M2478 3962l-86 59 66 51 86-57z" color="#3c2a6c"/>
<path d="M5410 3425l-22 10 23 2 22-9z" color="#3f8b45"/>
<path d="M5110 3462l-22 6 34 4 23-8z" color="#307f49"/>
<path d="M5545 3425l-22 8 23 1 23 0z" color="#3f8843"/>
<path d="M4506 3603l-23 15 66 5 23-18z" color="#167363"/>
<path d="M2631 3968l-87 47 65 44 88-40z" color="#3a2969"/>
<path d="M4665 3560l-23 13 59 5 23-18z" color="#1a795e"/>
<path d="M5713 3445l-27 5 24 7 27 2z" color="#3a8d4c"/>
<path d="M5455 3421l-22 7 23 3 22 0z" color="#438e44"/>
<path d="M3962 3748l-29 21 71 29 28-21z" color="#225f72"/>
<path d="M6502 3656l-63 16 24 23 63-20z" color="#1c7876"/>
<path d="M6320 3578l-57 9 24 18 57-4z" color="#1a836b"/>
<path d="M7356 3832l-65 29 43 23 65-30z" color="#294f72"/>
<path d="M6690 3713l-68 32 24 23 68-32z" color="#216e7a"/>
<path d="M2176 3981l-94 7 63 43 94-11z" color="#322b60"/>
<path d="M5243 3437l-22 7 28 4 22-6z" color="#3c8744"/>
<path d="M4319 3653l-23 17 71 14 23-20z" color="#186f6a"/>
<path d="M2781 3955l-84 64 65 30 85-60z" color="#372d68"/>
<path d="M5870 3485l-33-1 23 9 34-4z" color="#2c7f4d"/>
<path d="M5956 3489l-38 6 23 15 38-4z" color="#30955d"/>
<path d="M6879 3770l-68 41 24 16 69-44z" color="#266279"/>
<path d="M5790 3459l-30 7 24 2 29 4z" color="#35864a"/>
<path d="M5663 3446l-25-5 24 12 24-3z" color="#398445"/>
<path d="M7514 3840l-65 36 59 26 64-35z" color="#2a4e72"/>
<path d="M4131 3708l-24 16 72 23 23-17z" color="#1d676f"/>
<path d="M4913 3493l-23 18 45 1 23-11z" color="#2b8755"/>
<path d="M6191 3554l-50 8 24 19 50-7z" color="#1f8c6a"/>
<path d="M6070 3532l-44 4 24 7 43-1z" color="#207d58"/>
<path d="M7045 3794l-67 38 25 14 68-40z" color="#265b75"/>
<path d="M4793 3526l-23 7 52 9 23-7z" color="#207b55"/>
<path d="M3758 3832l-47 32 70 30 46-42z" color="#294d6f"/>
<path d="M5293 3441l-22 1 26 3 22-2z" color="#377b3e"/>
<path d="M4483 3618l-23 14 66 14 23-23z" color="#177567"/>
<path d="M5003 3489l-22 10 39 5 23-10z" color="#2c8351"/>
<path d="M3587 3862l-63 43 70 35 63-40z" color="#2e4873"/>
<path d="M5167 3453l-22 11 31 4 22-11z" color="#3a8c4b"/>
<path d="M5341 3439l-22 4 24 2 22-4z" color="#3b7f3e"/>
<path d="M6344 3601l-57 4 24 24 56-8z" color="#1a836f"/>
<path d="M6714 3736l-68 32 24 22 68-33z" color="#226a7a"/>
<path d="M4642 3573l-23 11 59 9 23-15z" color="#1a7b60"/>
<path d="M6526 3675l-63 20 24 16 63-21z" color="#1b7272"/>
<path d="M5615 3435l-23 9 23-1 23-2z" color="#3f8741"/>
<path d="M7220 3834l-66 28 33 15 66-31z" color="#274d6d"/>
<path d="M5388 3435l-23 6 24 3 22-7z" color="#3f8641"/>
<path d="M5088 3468l-23 9 35 1 22-6z" color="#348449"/>
<path d="M5569 3434l-23 0 23 11 23-1z" color="#449146"/>
<path d="M5737 3459l-27-2 23 12 27-3z" color="#398949"/>
<path d="M5523 3433l-22 7 23 2 22-8z" color="#418841"/>
<path d="M3933 3769l-31 20 70 29 32-20z" color="#225d70"/>
<path d="M5478 3431l-22 0 23 10 22-1z" color="#469044"/>
<path d="M4296 3670l-23 15 70 15 24-16z" color="#196e6b"/>
<path d="M5433 3428l-22 9 23 1 22-7z" color="#448a40"/>
<path d="M2931 3928l-84 61 66 40 85-53z" color="#373871"/>
<path d="M5979 3506l-38 4 24 15 37-2z" color="#2d925d"/>
<path d="M6904 3783l-69 44 25 17 69-45z" color="#26617a"/>
<path d="M4107 3724l-24 15 72 25 24-17z" color="#1d676f"/>
<path d="M6215 3574l-50 7 24 9 50-3z" color="#1a7b5e"/>
<path d="M4890 3511l-23 13 46 3 22-15z" color="#298555"/>
<path d="M7701 3885l-62 22 77 45 62-23z" color="#2d4771"/>
<path d="M5221 3444l-23 13 28 1 23-10z" color="#408e47"/>
<path d="M4460 3632l-23 11 66 22 23-19z" color="#177669"/>
<path d="M7071 3806l-68 40 26 15 67-36z" color="#275d78"/>
<path d="M5813 3472l-29-4 23 15 30 1z" color="#39904f"/>
<path d="M6738 3757l-68 33 24 17 68-30z" color="#236678"/>
<path d="M6367 3621l-56 8 24 17 57-13z" color="#187d6c"/>
<path d="M5894 3489l-34 4 24 6 34-4z" color="#2f804a"/>
<path d="M3083 3925l-85 51 68 45 84-60z" color="#353b71"/>
<path d="M5686 3450l-24 3 23 3 25 1z" color="#3d8441"/>
<path d="M4770 3533l-23 10 52 7 23-8z" color="#227d54"/>
<path d="M6093 3542l-43 1 24 6 44-2z" color="#1f7651"/>
<path d="M4619 3584l-23 11 59 14 23-16z" color="#1a7d62"/>
<path d="M5145 3464l-23 8 31 1 23-5z" color="#378144"/>
<path d="M6550 3690l-63 21 25 9 63-20z" color="#1a6c6c"/>
<path d="M4981 3499l-23 2 39 6 23-3z" color="#2b7a48"/>
<path d="M5271 3442l-22 6 26 2 22-5z" color="#40843e"/>
<path d="M5065 3477l-22 17 34 2 23-18z" color="#368c4e"/>
<path d="M7399 3854l-65 30 50 27 65-35z" color="#2a4f72"/>
<path d="M4273 3685l-24 14 71 19 23-18z" color="#196e6c"/>
<path d="M5638 3441l-23 2 24 9 23 1z" color="#479144"/>
<path d="M3234 3913l-84 48 68 41 85-41z" color="#334173"/>
<path d="M5319 3443l-22 2 24 3 22-3z" color="#3e7f3b"/>
<path d="M6929 3799l-69 45 24 17 69-45z" color="#275f7a"/>
<path d="M6002 3523l-37 2 23 11 38 0z" color="#2a8857"/>
<path d="M5592 3444l-23 1 24 5 22-7z" color="#40843e"/>
<path d="M5365 3441l-22 4 24 3 22-4z" color="#42843d"/>
<path d="M4083 3739l-25 16 72 29 25-20z" color="#1e6771"/>
<path d="M3711 3864l-54 36 70 38 54-44z" color="#2c4b72"/>
<path d="M5760 3466l-27 3 24 3 27-4z" color="#387e40"/>
<path d="M5501 3440l-22 1 23 10 22-9z" color="#468c41"/>
<path d="M3384 3916l-81 45 68 36 81-45z" color="#314070"/>
<path d="M3902 3789l-35 28 70 22 35-21z" color="#225c70"/>
<path d="M5411 3437l-22 7 23 2 22-8z" color="#44863c"/>
<path d="M5546 3434l-22 8 24 2 21 1z" color="#498e3f"/>
<path d="M4867 3524l-22 11 45 3 23-11z" color="#288253"/>
<path d="M4437 3643l-24 8 67 32 23-18z" color="#18786c"/>
<path d="M6762 3777l-68 30 25 11 67-24z" color="#226173"/>
<path d="M7096 3825l-67 36 28 17 67-33z" color="#275a77"/>
<path d="M7921 3975l-61 23 88 48 61-18z" color="#36306a"/>
<path d="M7253 3846l-66 31 39 13 65-29z" color="#254e6b"/>
<path d="M5456 3431l-22 7 23 3 22 0z" color="#4b8f3e"/>
<path d="M5198 3457l-22 11 28-1 22-9z" color="#3e8642"/>
<path d="M5837 3484l-30-1 24 11 29-1z" color="#378a4c"/>
<path d="M6392 3633l-57 13 24 9 57-10z" color="#177867"/>
<path d="M6239 3587l-50 3 25 3 49-6z" color="#18684d"/>
<path d="M5918 3495l-34 4 24 13 33-2z" color="#389454"/>
<path d="M4747 3543l-23 17 52-1 23-9z" color="#248055"/>
<path d="M6575 3700l-63 20 23 22 64-22z" color="#1c7575"/>
<path d="M6118 3547l-44 2 24 17 43-4z" color="#278c5e"/>
<path d="M4596 3595l-24 10 60 19 23-15z" color="#1a7f64"/>
<path d="M5710 3457l-25-1 24 11 24 2z" color="#438f45"/>
<path d="M7572 3867l-64 35 66 41 65-36z" color="#2c5076"/>
<path d="M4249 3699l-23 15 70 22 24-18z" color="#1a6f6e"/>
<path d="M5043 3494l-23 10 35 2 22-10z" color="#34864b"/>
<path d="M2392 4021l-89 42 65 49 90-40z" color="#3b2465"/>
<path d="M6953 3816l-69 45 25 17 69-46z" color="#275d79"/>
<path d="M5122 3472l-22 6 31 1 22-6z" color="#3a8141"/>
<path d="M4058 3755l-26 22 72 28 26-21z" color="#1f6672"/>
<path d="M2544 4015l-86 57 64 39 87-52z" color="#3a2969"/>
<path d="M5249 3448l-23 10 26 1 23-9z" color="#458b3f"/>
<path d="M4958 3501l-23 11 40 1 22-6z" color="#318149"/>
<path d="M3524 3905l-72 47 69 38 73-50z" color="#2f4471"/>
<path d="M5662 3453l-23-1 23 9 23-5z" color="#44893f"/>
<path d="M6026 3536l-38 0 24 8 38-1z" color="#287e4f"/>
<path d="M2697 4019l-88 40 67 46 86-56z" color="#392967"/>
<path d="M6786 3794l-67 24 25 12 67-19z" color="#215f71"/>
<path d="M6599 3720l-64 22 24 25 63-22z" color="#1e7478"/>
<path d="M4413 3651l-23 13 66 32 24-13z" color="#187c6f"/>
<path d="M6416 3645l-57 10 24 23 56-6z" color="#198070"/>
<path d="M7124 3845l-67 33 30 18 67-34z" color="#275875"/>
<path d="M5297 3445l-22 5 24 1 22-3z" color="#458339"/>
<path d="M5784 3468l-27 4 24 8 26 3z" color="#428f46"/>
<path d="M4845 3535l-23 7 45 5 23-9z" color="#287e4f"/>
<path d="M5615 3443l-22 7 23-1 23 3z" color="#478539"/>
<path d="M5343 3445l-22 3 24 3 22-3z" color="#458238"/>
<path d="M6141 3562l-43 4 24 20 43-5z" color="#259064"/>
<path d="M3867 3817l-40 35 70 18 40-31z" color="#22586e"/>
<path d="M5569 3445l-21-1 23 9 22-3z" color="#4a8b3c"/>
<path d="M5389 3444l-22 4 23 3 22-5z" color="#468238"/>
<path d="M5941 3510l-33 2 23 16 34-3z" color="#379657"/>
<path d="M5479 3441l-22 0 24 12 21-2z" color="#4f9540"/>
<path d="M4724 3560l-23 18 52-4 23-15z" color="#237f55"/>
<path d="M5524 3442l-22 9 24-2 22-5z" color="#488539"/>
<path d="M5176 3468l-23 5 28 0 23-6z" color="#3d7f3d"/>
<path d="M5860 3493l-29 1 24 6 29-1z" color="#358044"/>
<path d="M2239 4020l-94 11 64 43 94-11z" color="#322d63"/>
<path d="M4572 3605l-23 18 59 13 24-12z" color="#1a7f63"/>
<path d="M4226 3714l-24 16 71 25 23-19z" color="#1b6f6f"/>
<path d="M6263 3587l-49 6 24 14 49-2z" color="#208560"/>
<path d="M5434 3438l-22 8 23 0 22-5z" color="#4b8838"/>
<path d="M6978 3832l-69 46 25 15 69-47z" color="#275b78"/>
<path d="M6439 3672l-56 6 23 26 57-9z" color="#197e72"/>
<path d="M5733 3469l-24-2 23 9 25-4z" color="#3f833e"/>
<path d="M6622 3745l-63 22 24 22 63-21z" color="#1f7178"/>
<path d="M4032 3777l-28 21 71 28 29-21z" color="#1f6471"/>
<path d="M7778 3929l-62 23 83 62 61-16z" color="#314473"/>
<path d="M5100 3478l-23 18 31-1 23-16z" color="#408e48"/>
<path d="M7291 3861l-65 29 43 23 65-29z" color="#275472"/>
<path d="M2847 3989l-85 60 66 36 85-56z" color="#37326d"/>
<path d="M4935 3512l-22 15 39 1 23-15z" color="#34894e"/>
<path d="M7449 3876l-65 35 58 27 66-36z" color="#294f72"/>
<path d="M5020 3504l-23 3 35-1 23 0z" color="#2e723e"/>
<path d="M5226 3458l-22 9 26 1 22-9z" color="#47893d"/>
<path d="M6811 3811l-67 19 24 20 67-23z" color="#225f72"/>
<path d="M4390 3664l-23 20 66 27 23-15z" color="#197d6f"/>
<path d="M3657 3900l-63 40 70 38 63-40z" color="#2d4a73"/>
<path d="M5685 3456l-23 5 24 2 23 4z" color="#47873b"/>
<path d="M6287 3605l-49 2 23 26 50-4z" color="#1f8b6a"/>
<path d="M4701 3578l-23 15 52 1 23-20z" color="#228058"/>
<path d="M5807 3483l-26-3 23 15 27-1z" color="#439248"/>
<path d="M6165 3581l-43 5 24 11 43-7z" color="#20805a"/>
<path d="M6050 3543l-38 1 25 8 37-3z" color="#2a7e4d"/>
<path d="M4202 3730l-23 17 70 27 24-19z" color="#1b6e70"/>
<path d="M4549 3623l-23 23 59 4 23-14z" color="#1a7d62"/>
<path d="M5965 3525l-34 3 24 10 33-2z" color="#328a50"/>
<path d="M6646 3768l-63 21 24 21 63-20z" color="#206d78"/>
<path d="M6463 3695l-57 9 24 17 57-10z" color="#19766d"/>
<path d="M4822 3542l-23 8 45 5 23-8z" color="#2a804f"/>
<path d="M7154 3862l-67 34 33 20 67-39z" color="#275774"/>
<path d="M5275 3450l-23 9 25 1 22-9z" color="#4c8b3a"/>
<path d="M2998 3976l-85 53 67 39 86-47z" color="#353970"/>
<path d="M5639 3452l-23-3 24 11 22 1z" color="#4e8e3b"/>
<path d="M5884 3499l-29 1 23 10 30 2z" color="#3e8e49"/>
<path d="M5502 3451l-21 2 23 3 22-7z" color="#4a8537"/>
<path d="M5367 3448l-22 3 23 5 22-5z" color="#4d8836"/>
<path d="M5321 3448l-22 3 24 2 22-2z" color="#4a8234"/>
<path d="M7003 3846l-69 47 26 16 69-48z" color="#275a76"/>
<path d="M5593 3450l-22 3 24 1 21-5z" color="#488034"/>
<path d="M3827 3852l-46 42 69 9 47-33z" color="#23536c"/>
<path d="M5153 3473l-22 6 28-3 22-3z" color="#3f7c38"/>
<path d="M5548 3444l-22 5 23 3 22 1z" color="#518c37"/>
<path d="M5412 3446l-22 5 23 2 22-7z" color="#4e8836"/>
<path d="M5077 3496l-22 10 31-1 22-10z" color="#3a8242"/>
<path d="M6835 3827l-67 23 25 20 67-26z" color="#236074"/>
<path d="M4004 3798l-32 20 72 32 31-24z" color="#206271"/>
<path d="M5457 3441l-22 5 24 6 22 1z" color="#569439"/>
<path d="M4913 3527l-23 11 39 0 23-10z" color="#32844b"/>
<path d="M6311 3629l-50 4 24 19 50-6z" color="#1c8669"/>
<path d="M4367 3684l-24 16 66 23 24-12z" color="#187a6d"/>
<path d="M5757 3472l-25 4 24 3 25 1z" color="#46883c"/>
<path d="M4678 3593l-23 16 52 3 23-18z" color="#21815b"/>
<path d="M3150 3961l-84 60 67 29 85-48z" color="#323c6e"/>
<path d="M6670 3790l-63 20 24 20 63-23z" color="#206975"/>
<path d="M4179 3747l-24 17 71 28 23-18z" color="#1c6d71"/>
<path d="M4526 3646l-23 19 59 0 23-15z" color="#187861"/>
<path d="M5204 3467l-23 6 26 1 23-6z" color="#468439"/>
<path d="M7639 3907l-65 36 78 40 64-31z" color="#2c4c74"/>
<path d="M4997 3507l-22 6 34 0 23-7z" color="#387d3f"/>
<path d="M6074 3549l-37 3 23 18 38-4z" color="#33975c"/>
<path d="M5831 3494l-27 1 24 8 27-3z" color="#408943"/>
<path d="M5709 3467l-23-4 23 13 23 0z" color="#4e913e"/>
<path d="M3303 3961l-85 41 68 39 85-44z" color="#313f70"/>
<path d="M6487 3711l-57 10 25 11 57-12z" color="#177067"/>
<path d="M8009 4028l-61 18 91 40 58-5z" color="#322e64"/>
<path d="M6189 3590l-43 7 24 5 44-9z" color="#207650"/>
<path d="M5988 3536l-33 2 24 6 33 0z" color="#31814a"/>
<path d="M5908 3512l-30-2 24 17 29 1z" color="#40974f"/>
<path d="M5252 3459l-22 9 24 1 23-9z" color="#4e8b38"/>
<path d="M6860 3844l-67 26 24 20 67-29z" color="#246076"/>
<path d="M4799 3550l-23 9 45 4 23-8z" color="#2c7f4c"/>
<path d="M7334 3884l-65 29 49 30 66-32z" color="#285474"/>
<path d="M7029 3861l-69 48 28 14 69-45z" color="#275a77"/>
<path d="M3452 3952l-81 45 70 44 80-51z" color="#314473"/>
<path d="M5662 3461l-22-1 23 5 23-2z" color="#4a8334"/>
<path d="M5131 3479l-23 16 28-2 23-17z" color="#488b3e"/>
<path d="M6335 3646l-50 6 24 11 50-8z" color="#1a7c62"/>
<path d="M4343 3700l-23 18 66 17 23-12z" color="#18786c"/>
<path d="M4655 3609l-23 15 51 6 24-18z" color="#20815d"/>
<path d="M7187 3877l-67 39 38 17 68-43z" color="#265572"/>
<path d="M4503 3665l-23 18 59 4 23-22z" color="#177662"/>
<path d="M5299 3451l-22 9 23-1 23-6z" color="#518733"/>
<path d="M6694 3807l-63 23 24 20 64-32z" color="#1f6572"/>
<path d="M4890 3538l-23 9 39 0 23-9z" color="#318048"/>
<path d="M4155 3764l-25 20 71 26 25-18z" color="#1d6b71"/>
<path d="M5481 3453l-22-1 23 7 22-3z" color="#518934"/>
<path d="M5390 3451l-22 5 23 3 22-6z" color="#538b34"/>
<path d="M5345 3451l-22 2 23 5 22-2z" color="#518833"/>
<path d="M5616 3449l-21 5 23 3 22 3z" color="#558c34"/>
<path d="M5571 3453l-22-1 24 7 22-5z" color="#518733"/>
<path d="M6098 3566l-38 4 24 16 38 0z" color="#2f935d"/>
<path d="M5055 3506l-23 0 31 0 23-1z" color="#357036"/>
<path d="M5781 3480l-25-1 24 11 24 5z" color="#4c9340"/>
<path d="M3972 3818l-35 21 71 29 36-18z" color="#206171"/>
<path d="M5526 3449l-22 7 23-3 22-1z" color="#518430"/>
<path d="M2458 4072l-90 40 65 39 89-40z" color="#382361"/>
<path d="M5435 3446l-22 7 24 0 22-1z" color="#568b31"/>
<path d="M2609 4059l-87 52 67 52 87-58z" color="#3c296b"/>
<path d="M7508 3902l-66 36 67 41 65-36z" color="#2b5276"/>
<path d="M3781 3894l-54 44 69 11 54-46z" color="#244d69"/>
<path d="M4975 3513l-23 15 34 0 23-15z" color="#3f8d48"/>
<path d="M6512 3720l-57 12 24 19 56-9z" color="#197970"/>
<path d="M6884 3861l-67 29 25 20 67-32z" color="#256077"/>
<path d="M5181 3473l-22 3 26 0 22-2z" color="#477d32"/>
<path d="M5931 3528l-29-1 24 14 29-3z" color="#3d914d"/>
<path d="M7860 3998l-61 16 87 57 62-25z" color="#323a6d"/>
<path d="M5732 3476l-23 0 24 8 23-5z" color="#4b8939"/>
<path d="M5855 3500l-27 3 24 5 26 2z" color="#438940"/>
<path d="M3594 3940l-73 50 70 38 73-50z" color="#2e4873"/>
<path d="M6214 3593l-44 9 24 15 44-10z" color="#298f5f"/>
<path d="M4776 3559l-23 15 45 5 23-16z" color="#318a51"/>
<path d="M4480 3683l-24 13 60 12 23-21z" color="#177765"/>
<path d="M6012 3544l-33 0 24 7 34 1z" color="#35864a"/>
<path d="M5230 3468l-23 6 25 0 22-5z" color="#4c8333"/>
<path d="M5108 3495l-22 10 28-2 22-10z" color="#43843b"/>
<path d="M4320 3718l-24 18 66 12 24-13z" color="#18746a"/>
<path d="M6359 3655l-50 8 24 16 50-1z" color="#1b8468"/>
<path d="M4632 3624l-24 12 52 12 23-18z" color="#1f845f"/>
<path d="M2762 4049l-86 56 66 39 86-59z" color="#382d69"/>
<path d="M7057 3878l-69 45 31 15 68-42z" color="#275a77"/>
<path d="M4130 3784l-26 21 70 26 27-21z" color="#1d6970"/>
<path d="M6719 3818l-64 32 25 20 64-40z" color="#226a79"/>
<path d="M2303 4063l-94 11 64 43 95-5z" color="#332d63"/>
<path d="M6535 3742l-56 9 24 28 56-12z" color="#1b7974"/>
<path d="M5686 3463l-23 2 24 5 22 6z" color="#558e35"/>
<path d="M6122 3586l-38 0 24 9 38 2z" color="#288252"/>
<path d="M5277 3460l-23 9 24 1 22-11z" color="#558d33"/>
<path d="M5804 3495l-24-5 23 13 25 0z" color="#4a8e3e"/>
<path d="M4867 3547l-23 8 39 1 23-9z" color="#327f46"/>
<path d="M6909 3878l-67 32 25 18 67-35z" color="#265e78"/>
<path d="M5640 3460l-22-3 24 10 21-2z" color="#578e33"/>
<path d="M5368 3456l-22 2 23 6 22-5z" color="#578b30"/>
<path d="M4952 3528l-23 10 34-1 23-9z" color="#3b8443"/>
<path d="M6238 3607l-44 10 24 22 43-6z" color="#279567"/>
<path d="M5032 3506l-23 7 31 3 23-10z" color="#45883d"/>
<path d="M6383 3678l-50 1 24 27 49-2z" color="#1a846c"/>
<path d="M5323 3453l-23 6 23-1 23 0z" color="#58882d"/>
<path d="M5504 3456l-22 3 23 1 22-7z" color="#54832c"/>
<path d="M5413 3453l-22 6 23 2 23-8z" color="#598b2f"/>
<path d="M5595 3454l-22 5 23-1 22-1z" color="#56862d"/>
<path d="M4753 3574l-23 20 45 4 23-19z" color="#2f8c55"/>
<path d="M5549 3452l-22 1 24 8 22-2z" color="#5d9131"/>
<path d="M5459 3452l-22 1 23 7 22-1z" color="#5d9030"/>
<path d="M6559 3767l-56 12 24 23 56-13z" color="#1c7576"/>
<path d="M2913 4029l-85 56 67 42 85-59z" color="#36356e"/>
<path d="M3937 3839l-40 31 71 26 40-28z" color="#216070"/>
<path d="M4456 3696l-23 15 59 15 24-18z" color="#177868"/>
<path d="M7226 3890l-68 43 43 25 68-45z" color="#275a76"/>
<path d="M5878 3510l-26-2 23 15 27 4z" color="#4b9846"/>
<path d="M5955 3538l-29 3 24 10 29-7z" color="#3c8d49"/>
<path d="M5159 3476l-23 17 26-2 23-15z" color="#539038"/>
<path d="M4296 3736l-23 19 66 10 23-17z" color="#187069"/>
<path d="M7384 3911l-66 32 57 37 67-42z" color="#295575"/>
<path d="M6744 3830l-64 40 24 20 64-40z" color="#236a7b"/>
<path d="M4608 3636l-23 14 52 14 23-16z" color="#1f8662"/>
<path d="M6037 3552l-34-1 24 18 33 1z" color="#3c9753"/>
<path d="M4104 3805l-29 21 71 28 28-23z" color="#1e6871"/>
<path d="M5756 3479l-23 5 24 4 23 2z" color="#538f37"/>
<path d="M7716 3952l-64 31 84 56 63-25z" color="#2d4b74"/>
<path d="M5086 3505l-23 1 28 0 23-3z" color="#417934"/>
<path d="M6406 3704l-49 2 24 22 49-7z" color="#19806d"/>
<path d="M7087 3896l-68 42 33 19 68-41z" color="#275975"/>
<path d="M6261 3633l-43 6 24 18 43-5z" color="#238e65"/>
<path d="M5709 3476l-22-6 24 15 22-1z" color="#589236"/>
<path d="M5207 3474l-22 2 24 0 23-2z" color="#4e7f2d"/>
<path d="M3727 3938l-63 40 70 30 62-59z" color="#284b6d"/>
<path d="M6934 3893l-67 35 25 18 68-37z" color="#265c77"/>
<path d="M6583 3789l-56 13 24 22 56-14z" color="#1d7275"/>
<path d="M3066 4021l-86 47 68 38 85-56z" color="#33396d"/>
<path d="M4730 3594l-23 18 45 7 23-21z" color="#2c8b58"/>
<path d="M6146 3597l-38-2 25 8 37-1z" color="#287b4c"/>
<path d="M5254 3469l-22 5 23 3 23-7z" color="#578a30"/>
<path d="M4844 3555l-23 8 39 3 23-10z" color="#368246"/>
<path d="M5828 3503l-25 0 24 8 25-3z" color="#4b8b3b"/>
<path d="M4273 3755l-24 19 66 11 24-20z" color="#186f6a"/>
<path d="M5009 3513l-23 15 31 0 23-12z" color="#499142"/>
<path d="M6768 3850l-64 40 25 18 64-38z" color="#24677a"/>
<path d="M4929 3538l-23 9 34-3 23-7z" color="#3b7f3e"/>
<path d="M4433 3711l-24 12 60 19 23-16z" color="#177968"/>
<path d="M5663 3465l-21 2 23 3 22 0z" color="#59892e"/>
<path d="M5902 3527l-27-4 24 15 27 3z" color="#479446"/>
<path d="M8097 4081l-58 5 88 67 59-18z" color="#362e68"/>
<path d="M6060 3570l-33-1 24 18 33-1z" color="#399554"/>
<path d="M5136 3493l-22 10 25 0 23-12z" color="#4f8a37"/>
<path d="M5300 3459l-22 11 23 1 22-13z" color="#61922f"/>
<path d="M4585 3650l-23 15 52 14 23-15z" color="#1e8461"/>
<path d="M5391 3459l-22 5 23 5 22-8z" color="#5f902e"/>
<path d="M5346 3458l-23 0 23 8 23-2z" color="#64942e"/>
<path d="M5618 3457l-22 1 24 8 22 1z" color="#64942e"/>
<path d="M5482 3459l-22 1 23 6 22-6z" color="#5d8a2b"/>
<path d="M5573 3459l-22 2 23 4 22-7z" color="#5c8a2b"/>
<path d="M4075 3826l-31 24 71 27 31-23z" color="#1f6671"/>
<path d="M5437 3453l-23 8 24 0 22-1z" color="#63902b"/>
<path d="M5979 3544l-29 7 24 4 29-4z" color="#3d8844"/>
<path d="M5527 3453l-22 7 24 1 22 0z" color="#628f2b"/>
<path d="M3218 4002l-85 48 68 36 85-45z" color="#304070"/>
<path d="M5780 3490l-23-2 23 14 23 1z" color="#5a9a3b"/>
<path d="M6607 3810l-56 14 24 21 56-15z" color="#1e7076"/>
<path d="M7574 3943l-65 36 76 48 67-44z" color="#2c5076"/>
<path d="M6430 3721l-49 7 24 15 50-11z" color="#187a68"/>
<path d="M6285 3652l-43 5 24 15 43-9z" color="#208761"/>
<path d="M4707 3612l-24 18 45 6 24-17z" color="#2a8b5a"/>
<path d="M3371 3997l-85 44 70 40 85-40z" color="#304272"/>
<path d="M3897 3870l-47 33 71 30 47-37z" color="#225d71"/>
<path d="M6960 3909l-68 37 28 16 68-39z" color="#265b76"/>
<path d="M4249 3774l-23 18 65 10 24-17z" color="#186c68"/>
<path d="M6793 3870l-64 38 24 16 64-34z" color="#246579"/>
<path d="M5733 3484l-22 1 23 5 23-2z" color="#578c32"/>
<path d="M5063 3506l-23 10 28 1 23-11z" color="#4f8d39"/>
<path d="M5185 3476l-23 15 25 0 22-15z" color="#5e9332"/>
<path d="M6170 3602l-37 1 23 18 38-4z" color="#319259"/>
<path d="M4821 3563l-23 16 39 6 23-19z" color="#3d934e"/>
<path d="M7269 3913l-68 45 49 29 68-44z" color="#285b78"/>
<path d="M7120 3916l-68 41 37 25 69-49z" color="#275a77"/>
<path d="M5852 3508l-25 3 24 7 24 5z" color="#51913b"/>
<path d="M4409 3723l-23 12 59 21 24-14z" color="#187a69"/>
<path d="M3521 3990l-80 51 69 26 81-39z" color="#2e436f"/>
<path d="M4986 3528l-23 9 31-1 23-8z" color="#45863c"/>
<path d="M4562 3665l-23 22 51 5 24-13z" color="#1e8260"/>
<path d="M5926 3541l-27-3 24 11 27 2z" color="#448d43"/>
<path d="M6631 3830l-56 15 24 24 56-19z" color="#1f6f78"/>
<path d="M6084 3586l-33 1 24 8 33 0z" color="#32834a"/>
<path d="M5232 3474l-23 2 24 4 22-3z" color="#5a892c"/>
<path d="M2522 4111l-89 40 67 52 89-40z" color="#3b2667"/>
<path d="M2676 4105l-87 58 68 52 85-71z" color="#3b2869"/>
<path d="M5687 3470l-22 0 24 13 22 2z" color="#679b32"/>
<path d="M4906 3547l-23 9 34-3 23-9z" color="#3e813e"/>
<path d="M5278 3470l-23 7 23 3 23-9z" color="#61912e"/>
<path d="M4683 3630l-23 18 45 7 23-19z" color="#27895b"/>
<path d="M5114 3503l-23 3 26 0 22-3z" color="#4c8030"/>
<path d="M6455 3732l-50 11 25 15 49-7z" color="#19806e"/>
<path d="M7948 4046l-62 25 91 41 62-26z" color="#303a6a"/>
<path d="M6003 3551l-29 4 24 13 29 1z" color="#46994b"/>
<path d="M5642 3467l-22-1 23 10 22-6z" color="#65922c"/>
<path d="M5803 3503l-23-1 24 10 23-1z" color="#559137"/>
<path d="M6309 3663l-43 9 24 13 43-6z" color="#218962"/>
<path d="M5369 3464l-23 2 24 7 22-4z" color="#66922b"/>
<path d="M7442 3938l-67 42 68 36 66-37z" color="#295576"/>
<path d="M5323 3458l-22 13 23 0 22-5z" color="#6c9a2c"/>
<path d="M6194 3617l-38 4 24 24 38-6z" color="#2f9962"/>
<path d="M4798 3579l-23 19 39 9 23-22z" color="#3a9653"/>
<path d="M4044 3850l-36 18 71 31 36-22z" color="#1f6470"/>
<path d="M5414 3461l-22 8 23 1 23-9z" color="#648e29"/>
<path d="M4226 3792l-25 18 65 12 25-20z" color="#196d6a"/>
<path d="M6817 3890l-64 34 25 13 64-27z" color="#246176"/>
<path d="M5551 3461l-22 0 23 9 22-5z" color="#679129"/>
<path d="M5460 3460l-22 1 23 7 22-2z" color="#689329"/>
<path d="M5596 3458l-22 7 24 1 22 0z" color="#689127"/>
<path d="M5505 3460l-22 6 24-1 22-4z" color="#618725"/>
<path d="M6655 3850l-56 19 24 23 57-22z" color="#216d78"/>
<path d="M5162 3491l-23 12 25-1 23-11z" color="#5a9133"/>
<path d="M5040 3516l-23 12 28 3 23-14z" color="#53943c"/>
<path d="M6988 3923l-68 39 31 18 68-42z" color="#275b77"/>
<path d="M4539 3687l-23 21 51-4 23-12z" color="#1b7a5c"/>
<path d="M2828 4085l-86 59 67 49 86-66z" color="#39316e"/>
<path d="M2368 4112l-95 5 65 44 95-10z" color="#312c60"/>
<path d="M5875 3523l-24-5 24 16 24 4z" color="#52943d"/>
<path d="M3664 3978l-73 50 70 31 73-51z" color="#2c4971"/>
<path d="M4386 3735l-24 13 59 22 24-14z" color="#187a6a"/>
<path d="M5757 3488l-23 2 24 8 22 4z" color="#609532"/>
<path d="M6479 3751l-49 7 23 28 50-7z" color="#197e71"/>
<path d="M4660 3648l-23 16 45 8 23-17z" color="#26895c"/>
<path d="M6333 3679l-43 6 24 26 43-5z" color="#208e6a"/>
<path d="M4883 3556l-23 10 34 7 23-20z" color="#469145"/>
<path d="M3850 3903l-54 46 71 26 54-42z" color="#235b71"/>
<path d="M4963 3537l-23 7 31-1 23-7z" color="#458238"/>
<path d="M5950 3551l-27-2 24 7 27-1z" color="#41833c"/>
<path d="M6108 3595l-33 0 25 10 33-2z" color="#378a4c"/>
<path d="M6218 3639l-38 6 24 20 38-8z" color="#2b9663"/>
<path d="M7799 4014l-63 25 87 65 63-33z" color="#314474"/>
<path d="M5711 3485l-22-2 24 9 21-2z" color="#5f8f2d"/>
<path d="M4775 3598l-23 21 39 7 23-19z" color="#369456"/>
<path d="M6027 3569l-29-1 24 18 29 1z" color="#449a4e"/>
<path d="M5209 3476l-22 15 23-1 23-10z" color="#66962d"/>
<path d="M4201 3810l-27 21 66 12 26-21z" color="#1a6c6b"/>
<path d="M7158 3933l-69 49 43 23 69-47z" color="#285a78"/>
<path d="M6680 3870l-57 22 24 20 57-22z" color="#216a77"/>
<path d="M5255 3477l-22 3 23 4 22-4z" color="#608b29"/>
<path d="M5091 3506l-23 11 26 2 23-13z" color="#5a9134"/>
<path d="M6503 3779l-50 7 24 26 50-10z" color="#1a7c74"/>
<path d="M6842 3910l-64 27 26 13 63-22z" color="#235e74"/>
<path d="M5665 3470l-22 6 24 5 22 2z" color="#6e9a2b"/>
<path d="M5827 3511l-23 1 24 6 23 0z" color="#568d33"/>
<path d="M5301 3471l-23 9 24 1 22-10z" color="#699329"/>
<path d="M4516 3708l-24 18 51-2 24-20z" color="#19775b"/>
<path d="M7318 3943l-68 44 58 39 67-46z" color="#295979"/>
<path d="M2980 4068l-85 59 67 36 86-57z" color="#35366e"/>
<path d="M6357 3706l-43 5 24 22 43-5z" color="#1d896b"/>
<path d="M5392 3469l-22 4 23 3 22-6z" color="#658b25"/>
<path d="M5346 3466l-22 5 23 3 23-1z" color="#6b9126"/>
<path d="M5620 3466l-22 0 24 13 21-3z" color="#759f2a"/>
<path d="M5899 3538l-24-4 24 13 24 2z" color="#51943d"/>
<path d="M5017 3528l-23 8 28 1 23-6z" color="#4f8936"/>
<path d="M4362 3748l-23 17 59 18 23-13z" color="#187a69"/>
<path d="M8186 4135l-59 18 88 66 61-29z" color="#3a2968"/>
<path d="M5574 3465l-22 5 24 2 22-6z" color="#6b9024"/>
<path d="M5139 3503l-22 3 24-1 23-3z" color="#537f2a"/>
<path d="M5483 3466l-22 2 24 3 22-6z" color="#678a23"/>
<path d="M5438 3461l-23 9 24-1 22-1z" color="#6c8f23"/>
<path d="M4860 3566l-23 19 34 9 23-21z" color="#489c4c"/>
<path d="M5529 3461l-22 4 23 6 22-1z" color="#729725"/>
<path d="M5780 3502l-22-4 24 14 22 0z" color="#619732"/>
<path d="M4637 3664l-23 15 45 7 23-14z" color="#24865c"/>
<path d="M4752 3619l-24 17 40 8 23-18z" color="#329157"/>
<path d="M7019 3938l-68 42 33 20 68-43z" color="#275b78"/>
<path d="M6242 3657l-38 8 24 15 38-8z" color="#289061"/>
<path d="M4008 3868l-40 28 70 25 41-22z" color="#1f6470"/>
<path d="M6527 3802l-50 10 24 26 50-14z" color="#1b7a76"/>
<path d="M6133 3603l-33 2 24 16 32 0z" color="#3c9854"/>
<path d="M7652 3983l-67 44 85 57 66-45z" color="#2d5078"/>
<path d="M6704 3890l-57 22 25 17 57-21z" color="#216776"/>
<path d="M6051 3587l-29-1 24 10 29-1z" color="#3d8a47"/>
<path d="M4174 3831l-28 23 66 16 28-27z" color="#1a6a6c"/>
<path d="M4940 3544l-23 9 31 6 23-16z" color="#4f913c"/>
<path d="M5187 3491l-23 11 23-1 23-11z" color="#62902c"/>
<path d="M5974 3555l-27 1 24 11 27 1z" color="#4d9441"/>
<path d="M5734 3490l-21 2 23 7 22-1z" color="#68942b"/>
<path d="M4492 3726l-23 16 51 5 23-23z" color="#197960"/>
<path d="M6867 3928l-63 22 26 16 62-20z" color="#235c72"/>
<path d="M5068 3517l-23 14 26 0 23-12z" color="#5b9536"/>
<path d="M6381 3728l-43 5 24 17 43-7z" color="#1b856a"/>
<path d="M3133 4050l-85 56 66 26 87-46z" color="#303e6e"/>
<path d="M5689 3483l-22-2 24 14 22-3z" color="#729f2c"/>
<path d="M5851 3518l-23 0 24 12 23 4z" color="#619b36"/>
<path d="M6551 3824l-50 14 24 24 50-17z" color="#1c7877"/>
<path d="M5233 3480l-23 10 23 0 23-6z" color="#6b9327"/>
<path d="M4837 3585l-23 22 34 6 23-19z" color="#43994f"/>
<path d="M4339 3765l-24 20 59 10 24-12z" color="#177767"/>
<path d="M5278 3480l-22 4 23 4 23-7z" color="#678d25"/>
<path d="M4728 3636l-23 19 39 7 24-18z" color="#2f8f58"/>
<path d="M6156 3621l-32 0 23 24 33 0z" color="#389a59"/>
<path d="M5643 3476l-21 3 23 7 22-5z" color="#709726"/>
<path d="M4614 3679l-24 13 45 7 24-13z" color="#23855b"/>
<path d="M5923 3549l-24-2 24 9 24 0z" color="#4e8a38"/>
<path d="M3286 4041l-85 45 69 38 86-43z" color="#2f4371"/>
<path d="M6266 3672l-38 8 25 12 37-7z" color="#278b5d"/>
<path d="M5324 3471l-22 10 23 0 22-7z" color="#6e9123"/>
<path d="M3796 3949l-62 59 69 8 64-41z" color="#24536d"/>
<path d="M7509 3979l-66 37 77 45 65-34z" color="#2a5275"/>
<path d="M5117 3506l-23 13 24-1 23-13z" color="#62922e"/>
<path d="M5804 3512l-22 0 24 10 22-4z" color="#629430"/>
<path d="M4994 3536l-23 7 28 2 23-8z" color="#518732"/>
<path d="M6729 3908l-57 21 25 15 56-20z" color="#216474"/>
<path d="M5370 3473l-23 1 24 5 22-3z" color="#6c8d21"/>
<path d="M4917 3553l-23 20 31 7 23-21z" color="#549f45"/>
<path d="M7201 3958l-69 47 50 29 68-47z" color="#295a79"/>
<path d="M5598 3466l-22 6 24 6 22 1z" color="#7a9c23"/>
<path d="M4469 3742l-24 14 52 12 23-21z" color="#197c65"/>
<path d="M5415 3470l-22 6 24-1 22-6z" color="#6b8a1f"/>
<path d="M5552 3470l-22 1 24 7 22-6z" color="#729322"/>
<path d="M4146 3854l-31 23 65 18 32-25z" color="#1b696d"/>
<path d="M5998 3568l-27-1 24 17 27 2z" color="#509c46"/>
<path d="M5461 3468l-22 1 23 5 23-3z" color="#6f8d1f"/>
<path d="M3441 4041l-85 40 69 32 85-46z" color="#2c416b"/>
<path d="M5507 3465l-22 6 23 2 22-2z" color="#749320"/>
<path d="M6075 3595l-29 1 24 11 30-2z" color="#418f47"/>
<path d="M6575 3845l-50 17 25 18 49-11z" color="#1d7476"/>
<path d="M7052 3957l-68 43 38 18 67-36z" color="#275875"/>
<path d="M2589 4163l-89 40 65 41 92-29z" color="#3a2363"/>
<path d="M6405 3743l-43 7 25 15 43-7z" color="#1a8268"/>
<path d="M8039 4086l-62 26 87 72 63-31z" color="#353b72"/>
<path d="M6892 3946l-62 20 28 13 62-17z" color="#22596f"/>
<path d="M4814 3607l-23 19 34 2 23-15z" color="#3c924e"/>
<path d="M5164 3502l-23 3 24 0 22-4z" color="#5b8225"/>
<path d="M3968 3896l-47 37 71 35 46-47z" color="#206372"/>
<path d="M5758 3498l-22 1 24 12 22 1z" color="#71a12e"/>
<path d="M6180 3645l-33 0 24 20 33 0z" color="#33965b"/>
<path d="M2742 4144l-85 71 66 37 86-59z" color="#3a2767"/>
<path d="M5045 3531l-23 6 26 0 23-6z" color="#54862f"/>
<path d="M5875 3534l-23-4 24 17 23 0z" color="#609d39"/>
<path d="M4315 3785l-24 17 59 11 24-18z" color="#177667"/>
<path d="M4705 3655l-23 17 39 4 23-14z" color="#2c8b57"/>
<path d="M5713 3492l-22 3 24 9 21-5z" color="#709b2a"/>
<path d="M5210 3490l-23 11 24 0 22-11z" color="#6a9026"/>
<path d="M6290 3685l-37 7 24 20 37-1z" color="#279264"/>
<path d="M3591 4028l-81 39 70 38 81-46z" color="#2b476e"/>
<path d="M4894 3573l-23 21 31 2 23-16z" color="#4e9b46"/>
<path d="M7375 3980l-67 46 67 40 68-50z" color="#2a5678"/>
<path d="M4590 3692l-23 12 45 8 23-13z" color="#228159"/>
<path d="M6599 3869l-49 11 24 24 49-12z" color="#1e7176"/>
<path d="M6753 3924l-56 20 25 14 56-21z" color="#206070"/>
<path d="M4445 3756l-24 14 52 16 24-18z" color="#197e67"/>
<path d="M5094 3519l-23 12 24 1 23-14z" color="#63952f"/>
<path d="M4971 3543l-23 16 28 5 23-19z" color="#609f3b"/>
<path d="M5256 3484l-23 6 23 0 23-2z" color="#6c8c20"/>
<path d="M5667 3481l-22 5 24 7 22 2z" color="#799d24"/>
<path d="M5947 3556l-24 0 24 11 24 0z" color="#57973b"/>
<path d="M6430 3758l-43 7 24 18 42 3z" color="#1a836a"/>
<path d="M5302 3481l-23 7 23 1 23-8z" color="#6f8f20"/>
<path d="M6022 3586l-27-2 24 10 27 2z" color="#499041"/>
<path d="M5828 3518l-22 4 24 7 22 1z" color="#67982f"/>
<path d="M4791 3626l-23 18 34 1 23-17z" color="#398d4d"/>
<path d="M5622 3479l-22-1 23 11 22-3z" color="#7a9b22"/>
<path d="M2433 4151l-95 10 66 44 96-2z" color="#322e64"/>
<path d="M6100 3605l-30 2 24 13 30 1z" color="#45964a"/>
<path d="M6204 3665l-33 0 24 18 33-3z" color="#2f915a"/>
<path d="M7886 4071l-63 33 90 43 64-35z" color="#2f416f"/>
<path d="M5347 3474l-22 7 23 0 23-2z" color="#74901d"/>
<path d="M4291 3802l-25 20 59 13 25-22z" color="#17766a"/>
<path d="M4115 3877l-36 22 65 17 36-21z" color="#1c666c"/>
<path d="M2895 4127l-86 66 67 36 86-66z" color="#372f6b"/>
<path d="M5393 3476l-22 3 23 3 23-7z" color="#718c1d"/>
<path d="M6314 3711l-37 1 24 23 37-2z" color="#238f66"/>
<path d="M5576 3472l-22 6 24 2 22-2z" color="#78931d"/>
<path d="M5782 3512l-22-1 24 12 22-1z" color="#6e9c2d"/>
<path d="M5530 3471l-22 2 24 7 22-2z" color="#7c981e"/>
<path d="M6920 3962l-62 17 31 15 62-14z" color="#22596f"/>
<path d="M5485 3471l-23 3 24 5 22-6z" color="#77921c"/>
<path d="M4682 3672l-23 14 39 2 23-12z" color="#2a8554"/>
<path d="M5439 3469l-22 6 23 2 22-3z" color="#7a931b"/>
<path d="M5899 3547l-23 0 24 10 23-1z" color="#5c9636"/>
<path d="M5141 3505l-23 13 24-1 23-12z" color="#6a9227"/>
<path d="M6453 3786l-42-3 24 31 42-2z" color="#197e6d"/>
<path d="M6623 3892l-49 12 24 20 49-12z" color="#1f6e75"/>
<path d="M4871 3594l-23 19 31-1 23-16z" color="#479345"/>
<path d="M5022 3537l-23 8 26 5 23-13z" color="#609330"/>
<path d="M8276 4190l-61 29 91 56 61-30z" color="#3a2464"/>
<path d="M4948 3559l-23 21 28 1 23-17z" color="#5a9c3d"/>
<path d="M4567 3704l-24 20 45-1 24-11z" color="#228159"/>
<path d="M7089 3982l-67 36 43 21 67-34z" color="#255671"/>
<path d="M5736 3499l-21 5 24 6 21 1z" color="#739a26"/>
<path d="M7736 4039l-66 45 87 64 66-44z" color="#314978"/>
<path d="M5187 3501l-22 4 23 1 23-5z" color="#668721"/>
<path d="M4421 3770l-23 13 51 19 24-16z" color="#197f69"/>
<path d="M5971 3567l-24 0 24 18 24-1z" color="#5ca241"/>
<path d="M6778 3937l-56 21 25 12 57-20z" color="#205f6e"/>
<path d="M3921 3933l-54 42 70 33 55-40z" color="#226073"/>
<path d="M7250 3987l-68 47 58 34 68-42z" color="#2a5879"/>
<path d="M6477 3812l-42 2 23 31 43-7z" color="#197e71"/>
<path d="M6124 3621l-30-1 24 23 29 2z" color="#449c50"/>
<path d="M4768 3644l-24 18 35-2 23-15z" color="#368a4d"/>
<path d="M5691 3495l-22-2 24 13 22-2z" color="#799d24"/>
<path d="M5071 3531l-23 6 24 1 23-6z" color="#5d8a2a"/>
<path d="M6338 3733l-37 2 24 20 37-5z" color="#208b66"/>
<path d="M3734 4008l-73 51 70 19 72-62z" color="#254b69"/>
<path d="M5852 3530l-22-1 24 16 22 2z" color="#6da233"/>
<path d="M4266 3822l-26 21 59 15 26-23z" color="#18756b"/>
<path d="M6046 3596l-27-2 25 14 26-1z" color="#4d9542"/>
<path d="M5233 3490l-22 11 23 0 22-11z" color="#749320"/>
<path d="M6228 3680l-33 3 25 13 33-4z" color="#2d8d58"/>
<path d="M6647 3912l-49 12 24 21 50-16z" color="#1f6b75"/>
<path d="M5645 3486l-22 3 24 5 22-1z" color="#7a961e"/>
<path d="M5279 3488l-23 2 24 1 22-2z" color="#6e871b"/>
<path d="M4848 3613l-23 15 31-2 23-14z" color="#428b43"/>
<path d="M6501 3838l-43 7 24 28 43-11z" color="#1a7b74"/>
<path d="M4659 3686l-24 13 39 3 24-14z" color="#298352"/>
<path d="M5118 3518l-23 14 24-1 23-14z" color="#6a9428"/>
<path d="M4543 3724l-23 23 45 1 23-25z" color="#1f7e5a"/>
<path d="M5806 3522l-22 1 24 8 22-2z" color="#6c9629"/>
<path d="M5325 3481l-23 8 24 0 22-8z" color="#778f1b"/>
<path d="M4999 3545l-23 19 26 3 23-17z" color="#68a237"/>
<path d="M4925 3580l-23 16 28 0 23-15z" color="#53943c"/>
<path d="M3048 4106l-86 57 65 18 87-49z" color="#2e3968"/>
<path d="M5923 3556l-23 1 24 11 23-1z" color="#629c37"/>
<path d="M5600 3478l-22 2 23 9 22 0z" color="#849e1d"/>
<path d="M6951 3980l-62 14 33 24 62-18z" color="#235a70"/>
<path d="M6147 3645l-29-2 24 21 29 1z" color="#3e9a53"/>
<path d="M5554 3478l-22 2 23 9 23-9z" color="#81991b"/>
<path d="M5371 3479l-23 2 24 1 22 0z" color="#738918"/>
<path d="M7585 4027l-65 34 84 57 66-34z" color="#2c5177"/>
<path d="M5417 3475l-23 7 24 1 22-6z" color="#7c9119"/>
<path d="M5462 3474l-22 3 24 6 22-4z" color="#809619"/>
<path d="M5508 3473l-22 6 24 2 22-1z" color="#809418"/>
<path d="M4079 3899l-41 22 66 24 40-29z" color="#1b656b"/>
<path d="M4398 3783l-24 12 51 18 24-11z" color="#187d67"/>
<path d="M5760 3511l-21-1 23 15 22-2z" color="#7ba328"/>
<path d="M8127 4153l-63 31 89 67 62-32z" color="#39326f"/>
<path d="M5995 3584l-24 1 24 11 24-2z" color="#56973d"/>
<path d="M4744 3662l-23 14 34-1 24-15z" color="#32844b"/>
<path d="M6362 3750l-37 5 24 16 38-6z" color="#1e8866"/>
<path d="M4240 3843l-28 27 58 10 29-22z" color="#18716b"/>
<path d="M6804 3950l-57 20 27 11 56-15z" color="#1f5e6d"/>
<path d="M5165 3505l-23 12 23-2 23-9z" color="#729220"/>
<path d="M5876 3547l-22-2 24 13 22-1z" color="#689b31"/>
<path d="M6253 3692l-33 4 24 17 33-1z" color="#2f945d"/>
<path d="M6525 3862l-43 11 24 20 44-13z" color="#1b7773"/>
<path d="M6672 3929l-50 16 25 19 50-20z" color="#206a75"/>
<path d="M4520 3747l-23 21 44 3 24-23z" color="#1d7f5e"/>
<path d="M5048 3537l-23 13 24 3 23-15z" color="#6b9a2d"/>
<path d="M6070 3607l-26 1 24 10 26 2z" color="#4d9542"/>
<path d="M5715 3504l-22 2 24 6 22-2z" color="#769520"/>
<path d="M3201 4086l-87 46 69 42 87-50z" color="#2f4370"/>
<path d="M5211 3501l-23 5 23 1 23-6z" color="#708c1d"/>
<path d="M4825 3628l-23 17 30-4 24-15z" color="#408842"/>
<path d="M6171 3665l-29-1 24 20 29-1z" color="#3a9755"/>
<path d="M4976 3564l-23 17 26 0 23-14z" color="#5e9836"/>
<path d="M7443 4016l-68 50 77 43 68-48z" color="#2a5678"/>
<path d="M4635 3699l-23 13 38 1 24-11z" color="#298051"/>
<path d="M4902 3596l-23 16 28-2 23-14z" color="#4f903c"/>
<path d="M5669 3493l-22 1 24 12 22 0z" color="#85a21f"/>
<path d="M7132 4005l-67 34 49 35 68-40z" color="#265975"/>
<path d="M3356 4081l-86 43 70 45 85-56z" color="#2e4571"/>
<path d="M5947 3567l-23 1 24 16 23 1z" color="#65a33a"/>
<path d="M5095 3532l-23 6 24-1 23-6z" color="#648924"/>
<path d="M5256 3490l-22 11 23 0 23-10z" color="#7d951a"/>
<path d="M5830 3529l-22 2 24 12 22 2z" color="#76a22b"/>
<path d="M5623 3489l-22 0 24 10 22-5z" color="#839a1a"/>
<path d="M6277 3712l-33 1 24 25 33-3z" color="#2b9562"/>
<path d="M5302 3489l-22 2 23 2 23-4z" color="#768917"/>
<path d="M4374 3795l-24 18 51 16 24-16z" color="#197e68"/>
<path d="M6387 3765l-38 6 25 14 37-2z" color="#1e8765"/>
<path d="M2657 4215l-92 29 66 32 92-24z" color="#34225b"/>
<path d="M6550 3880l-44 13 25 18 43-7z" color="#1b7573"/>
<path d="M4497 3768l-24 18 45 6 23-21z" color="#1c8061"/>
<path d="M6984 4000l-62 18 36 33 64-33z" color="#245c73"/>
<path d="M4721 3676l-23 12 34 0 23-13z" color="#32844b"/>
<path d="M6019 3594l-24 2 24 14 25-2z" color="#5a9f3f"/>
<path d="M5784 3523l-22 2 24 8 22-2z" color="#749825"/>
<path d="M5578 3480l-23 9 24 2 22-2z" color="#889b18"/>
<path d="M4212 3870l-32 25 58 7 32-22z" color="#186d69"/>
<path d="M3510 4067l-85 46 71 44 84-52z" color="#2d4b73"/>
<path d="M5348 3481l-22 8 23-1 23-6z" color="#7e8e15"/>
<path d="M5532 3480l-22 1 23 10 22-2z" color="#8c9f18"/>
<path d="M6094 3620l-26-2 24 23 26 2z" color="#509f48"/>
<path d="M6697 3944l-50 20 25 16 50-22z" color="#1f6873"/>
<path d="M5394 3482l-22 0 23 5 23-4z" color="#7b8b15"/>
<path d="M5142 3517l-23 14 23-3 23-13z" color="#729321"/>
<path d="M5025 3550l-23 17 24 2 23-16z" color="#6ca031"/>
<path d="M3867 3975l-64 41 70 29 64-37z" color="#225b6f"/>
<path d="M5900 3557l-22 1 24 11 22-1z" color="#689b30"/>
<path d="M5486 3479l-22 4 23 3 23-5z" color="#819015"/>
<path d="M6830 3966l-56 15 28 15 56-17z" color="#1f5e6c"/>
<path d="M5440 3477l-22 6 23 1 23-1z" color="#819115"/>
<path d="M2809 4193l-86 59 66 33 87-56z" color="#372965"/>
<path d="M7308 4026l-68 42 66 44 69-46z" color="#2a5577"/>
<path d="M4038 3921l-46 47 65 23 47-46z" color="#1e6670"/>
<path d="M7977 4112l-64 35 88 74 63-37z" color="#344175"/>
<path d="M4802 3645l-23 15 30-4 23-15z" color="#3d8542"/>
<path d="M6195 3683l-29 1 25 14 29-2z" color="#369154"/>
<path d="M5739 3510l-22 2 24 11 21 2z" color="#80a021"/>
<path d="M4953 3581l-23 15 26-2 23-13z" color="#5a9234"/>
<path d="M6411 3783l-37 2 24 31 37-2z" color="#1c8769"/>
<path d="M6301 3735l-33 3 24 21 33-4z" color="#289364"/>
<path d="M4879 3612l-23 14 28-5 23-11z" color="#498638"/>
<path d="M4612 3712l-24 11 39 6 23-16z" color="#2b8452"/>
<path d="M5971 3585l-23-1 24 12 23 0z" color="#5c9636"/>
<path d="M5188 3506l-23 9 23 0 23-8z" color="#7a921a"/>
<path d="M6574 3904l-43 7 24 25 43-12z" color="#1c7476"/>
<path d="M5854 3545l-22-2 24 15 22 0z" color="#75a22c"/>
<path d="M4350 3813l-25 22 51 17 25-23z" color="#197f6a"/>
<path d="M5693 3506l-22 0 24 8 22-2z" color="#7d961b"/>
<path d="M2500 4203l-96 2 66 45 95-6z" color="#2f2c5e"/>
<path d="M3661 4059l-81 46 71 39 80-66z" color="#2a4c70"/>
<path d="M5072 3538l-23 15 24 1 23-17z" color="#729a27"/>
<path d="M8367 4245l-61 30 90 69 62-44z" color="#3c2164"/>
<path d="M6118 3643l-26-2 24 24 26-1z" color="#4ba04e"/>
<path d="M4473 3786l-24 16 45 6 24-16z" color="#1a7d61"/>
<path d="M6435 3814l-37 2 23 34 37-5z" color="#19826d"/>
<path d="M5234 3501l-23 6 23 3 23-9z" color="#7d9419"/>
<path d="M7823 4104l-66 44 90 46 66-47z" color="#304573"/>
<path d="M4698 3688l-24 14 34-2 24-12z" color="#32824a"/>
<path d="M6044 3608l-25 2 25 11 24-3z" color="#57983c"/>
<path d="M5647 3494l-22 5 24 5 22 2z" color="#889c18"/>
<path d="M5002 3567l-23 14 24-1 23-11z" color="#65962f"/>
<path d="M6722 3958l-50 22 25 13 50-23z" color="#1f6672"/>
<path d="M5280 3491l-23 10 23-2 23-6z" color="#829215"/>
<path d="M6458 3845l-37 5 24 31 37-8z" color="#198071"/>
<path d="M5808 3531l-22 2 25 7 21 3z" color="#792"/>
<path d="M5924 3568l-22 1 24 12 22 3z" color="#6a9c30"/>
<path d="M5601 3489l-22 2 24 9 22-1z" color="#8fa016"/>
<path d="M5119 3531l-23 6 23-1 23-8z" color="#6d891d"/>
<path d="M4779 3660l-24 15 31-6 23-13z" color="#3b8140"/>
<path d="M4180 3895l-36 21 59 9 35-23z" color="#186866"/>
<path d="M6598 3924l-43 12 25 21 42-12z" color="#1e7276"/>
<path d="M6220 3696l-29 2 24 17 29-2z" color="#389556"/>
<path d="M5326 3489l-23 4 23 4 23-9z" color="#829114"/>
<path d="M4588 3723l-23 25 38 5 24-24z" color="#2b8b59"/>
<path d="M5555 3489l-22 2 24 5 22-5z" color="#849214"/>
<path d="M6325 3755l-33 4 25 16 32-4z" color="#248d62"/>
<path d="M6858 3979l-56 17 30 18 57-20z" color="#206270"/>
<path d="M7022 4018l-64 33 43 31 64-43z" color="#275e79"/>
<path d="M4930 3596l-23 14 26-4 23-12z" color="#548931"/>
<path d="M4325 3835l-26 23 51 17 26-23z" color="#187d6c"/>
<path d="M6142 3664l-26 1 24 20 26-1z" color="#459e51"/>
<path d="M2962 4163l-86 66 67 28 84-76z" color="#323669"/>
<path d="M5762 3525l-21-2 24 10 21 0z" color="#7b981e"/>
<path d="M5510 3481l-23 5 24 3 22 2z" color="#8b9613"/>
<path d="M4856 3626l-24 15 28-5 24-15z" color="#4a8839"/>
<path d="M5372 3482l-23 6 24 1 22-2z" color="#889212"/>
<path d="M5464 3483l-23 1 24 6 22-4z" color="#869112"/>
<path d="M7182 4034l-68 40 58 32 68-38z" color="#285977"/>
<path d="M5418 3483l-23 4 24 1 22-4z" color="#828c11"/>
<path d="M7670 4084l-66 34 88 61 65-31z" color="#2e4b76"/>
<path d="M5995 3596l-23 0 24 15 23-1z" color="#63a039"/>
<path d="M5049 3553l-23 16 24 0 23-15z" color="#709a29"/>
<path d="M5165 3515l-23 13 23 0 23-13z" color="#829b1c"/>
<path d="M5878 3558l-22 0 24 10 22 1z" color="#709a29"/>
<path d="M6482 3873l-37 8 24 25 37-13z" color="#1a7d74"/>
<path d="M4449 3802l-24 11 45 7 24-12z" color="#19785d"/>
<path d="M8215 4219l-62 32 91 61 62-37z" color="#3a2c6b"/>
<path d="M3992 3968l-55 40 66 22 54-39z" color="#20606f"/>
<path d="M5717 3512l-22 2 24 7 22 2z" color="#849a19"/>
<path d="M6068 3618l-24 3 23 21 25-1z" color="#5ea743"/>
<path d="M4565 3748l-24 23 39 7 23-25z" color="#26885c"/>
<path d="M4674 3702l-24 11 35 5 23-18z" color="#34884c"/>
<path d="M6244 3713l-29 2 24 24 29-1z" color="#359a5d"/>
<path d="M5211 3507l-23 8 23 1 23-6z" color="#859817"/>
<path d="M6622 3945l-42 12 24 20 43-13z" color="#1e6f75"/>
<path d="M4979 3581l-23 13 24-3 23-11z" color="#618e2b"/>
<path d="M5671 3506l-22-2 24 11 22-1z" color="#8a9c17"/>
<path d="M5948 3584l-22-3 24 14 22 1z" color="#6a9d30"/>
<path d="M5832 3543l-21-3 24 15 21 3z" color="#7c9f24"/>
<path d="M6747 3970l-50 23 27 13 50-25z" color="#1f6671"/>
<path d="M4755 3675l-23 13 30-3 24-16z" color="#3b8442"/>
<path d="M6349 3771l-32 4 24 16 33-6z" color="#238c62"/>
<path d="M5096 3537l-23 17 23-1 23-17z" color="#7b9a20"/>
<path d="M5257 3501l-23 9 24 0 22-11z" color="#859314"/>
<path d="M6166 3684l-26 1 24 14 27-1z" color="#3f964f"/>
<path d="M4299 3858l-29 22 51 14 29-19z" color="#18796b"/>
<path d="M3114 4132l-87 49 72 68 84-75z" color="#324475"/>
<path d="M7520 4061l-68 48 85 53 67-44z" color="#2c5479"/>
<path d="M4907 3610l-23 11 25 0 24-15z" color="#578c31"/>
<path d="M4832 3641l-23 15 28-2 23-18z" color="#49893a"/>
<path d="M5625 3499l-22 1 24 7 22-3z" color="#899614"/>
<path d="M6889 3994l-57 20 33 31 57-27z" color="#236778"/>
<path d="M6506 3893l-37 13 25 16 37-11z" color="#1a7972"/>
<path d="M3803 4016l-72 62 70 31 72-64z" color="#245a71"/>
<path d="M6092 3641l-25 1 24 22 25 1z" color="#57a648"/>
<path d="M4144 3916l-40 29 58 24 41-44z" color="#1a6d6d"/>
<path d="M4541 3771l-23 21 38 6 24-20z" color="#22875f"/>
<path d="M5303 3493l-23 6 24 1 22-3z" color="#899312"/>
<path d="M6019 3610l-23 1 25 12 23-2z" color="#609c38"/>
<path d="M5026 3569l-23 11 24 0 23-11z" color="#6a9327"/>
<path d="M5579 3491l-22 5 24 3 22 1z" color="#8c9511"/>
<path d="M6268 3738l-29 1 24 22 29-2z" color="#2e955f"/>
<path d="M5786 3533l-21 0 24 7 22 0z" color="#7c951b"/>
<path d="M4425 3813l-24 16 45 13 24-22z" color="#1a7f62"/>
<path d="M5142 3528l-23 8 23 2 23-10z" color="#80981a"/>
<path d="M5902 3569l-22-1 24 12 22 1z" color="#739c29"/>
<path d="M5349 3488l-23 9 24 1 23-9z" color="#8d9411"/>
<path d="M5533 3491l-22-2 24 7 22 0z" color="#8b9211"/>
<path d="M4650 3713l-23 16 34 13 24-24z" color="#379556"/>
<path d="M8064 4184l-63 37 89 66 63-36z" color="#383570"/>
<path d="M3270 4124l-87 50 71 52 86-57z" color="#314676"/>
<path d="M5487 3486l-22 4 24 4 22-5z" color="#8b9110"/>
<path d="M6647 3964l-43 13 25 16 43-13z" color="#1e6c73"/>
<path d="M5395 3487l-22 2 23 4 23-5z" color="#8c9010"/>
<path d="M7375 4066l-69 46 79 38 67-41z" color="#295274"/>
<path d="M6374 3785l-33 6 24 27 33-2z" color="#228e67"/>
<path d="M5441 3484l-22 4 24 2 22 0z" color="#8c9010"/>
<path d="M5741 3523l-22-2 24 13 22-1z" color="#8ba11a"/>
<path d="M7065 4039l-64 43 50 27 63-35z" color="#275a76"/>
<path d="M4956 3594l-23 12 24 1 23-16z" color="#63922c"/>
<path d="M5188 3515l-23 13 23 2 23-14z" color="#8c9e17"/>
<path d="M4732 3688l-24 12 31 7 23-22z" color="#408f48"/>
<path d="M5972 3596l-22-1 24 16 22 0z" color="#6ea433"/>
<path d="M5073 3554l-23 15 23-1 23-15z" color="#792"/>
<path d="M6531 3911l-37 11 24 24 37-10z" color="#1b7a76"/>
<path d="M5856 3558l-21-3 24 13 21 0z" color="#799c23"/>
<path d="M6191 3698l-27 1 25 17 26-1z" color="#419951"/>
<path d="M6116 3665l-25-1 25 21 24 0z" color="#4fa04a"/>
<path d="M6398 3816l-33 2 23 36 33-4z" color="#1c8669"/>
<path d="M4809 3656l-23 13 28 4 23-19z" color="#4e933f"/>
<path d="M3425 4113l-85 56 70 37 86-49z" color="#2d4973"/>
<path d="M4884 3621l-24 15 26 5 23-20z" color="#609c38"/>
<path d="M5695 3514l-22 1 24 6 22 0z" color="#859314"/>
<path d="M6774 3981l-50 25 28 15 50-25z" color="#1f6873"/>
<path d="M4518 3792l-24 16 39 6 23-16z" color="#20835e"/>
<path d="M4401 3829l-25 23 45 17 25-27z" color="#1a8369"/>
<path d="M6292 3759l-29 2 24 19 30-5z" color="#2b9360"/>
<path d="M6922 4018l-57 27 37 33 56-27z" color="#246479"/>
<path d="M5234 3510l-23 6 24 0 23-6z" color="#869112"/>
<path d="M4627 3729l-24 24 35 12 23-23z" color="#33965b"/>
<path d="M6044 3621l-23 2 24 20 22-1z" color="#68aa3e"/>
<path d="M4270 3880l-32 22 51 9 32-17z" color="#177367"/>
<path d="M6421 3850l-33 4 24 31 33-4z" color="#19836e"/>
<path d="M5649 3504l-22 3 24 5 22 3z" color="#8e9612"/>
<path d="M5003 3580l-23 11 23 1 24-12z" color="#6d9426"/>
<path d="M8458 4300l-62 44 92 58 63-47z" color="#3d1c61"/>
<path d="M2723 4252l-92 24 68 48 90-39z" color="#362964"/>
<path d="M3580 4105l-84 52 71 40 84-53z" color="#2c4a73"/>
<path d="M5811 3540l-22 0 24 13 22 2z" color="#89a31c"/>
<path d="M5926 3581l-22-1 25 14 21 1z" color="#77a22a"/>
<path d="M5119 3536l-23 17 23 0 23-15z" color="#879f1b"/>
<path d="M5280 3499l-22 11 23 1 23-11z" color="#919711"/>
<path d="M6555 3936l-37 10 24 23 38-12z" color="#1c7877"/>
<path d="M6672 3980l-43 13 25 18 43-18z" color="#1e6a72"/>
<path d="M7240 4068l-68 38 68 41 66-35z" color="#295676"/>
<path d="M4104 3945l-47 46 59 16 46-38z" color="#1c6b70"/>
<path d="M5603 3500l-22-1 24 8 22 0z" color="#919711"/>
<path d="M6445 3881l-33 4 24 29 33-8z" color="#198072"/>
<path d="M4708 3700l-23 18 30 12 24-23z" color="#439c52"/>
<path d="M6215 3715l-26 1 23 26 27-3z" color="#3e9f58"/>
<path d="M3937 4008l-64 37 66 33 64-48z" color="#205f6f"/>
<path d="M5326 3497l-22 3 23 2 23-4z" color="#8c8f10"/>
<path d="M4933 3606l-24 15 25 6 23-20z" color="#6ca233"/>
<path d="M5557 3496l-22 0 24 8 22-5z" color="#909210"/>
<path d="M6140 3685l-24 0 24 14 24 0z" color="#499848"/>
<path d="M5765 3533l-22 1 24 9 22-3z" color="#879a18"/>
<path d="M7913 4147l-66 47 91 52 63-25z" color="#324475"/>
<path d="M5996 3611l-22 0 25 14 22-2z" color="#6aa033"/>
<path d="M4603 3753l-23 25 34 7 24-20z" color="#2d915c"/>
<path d="M4860 3636l-23 18 26 6 23-19z" color="#60a23d"/>
<path d="M4786 3669l-24 16 28 9 24-21z" color="#519d46"/>
<path d="M4376 3852l-26 23 45 15 26-21z" color="#19806b"/>
<path d="M5050 3569l-23 11 23-1 23-11z" color="#729321"/>
<path d="M2876 4229l-87 56 67 38 87-66z" color="#363069"/>
<path d="M5511 3489l-22 5 23 7 23-5z" color="#9b9b11"/>
<path d="M5373 3489l-23 9 24 1 22-6z" color="#989810"/>
<path d="M6067 3642l-22 1 24 22 22-1z" color="#61a842"/>
<path d="M5165 3528l-23 10 23-1 23-7z" color="#849415"/>
<path d="M5465 3490l-22 0 23 11 23-7z" color="#9d9c11"/>
<path d="M5419 3488l-23 5 24 5 23-8z" color="#969610"/>
<path d="M5880 3568l-21 0 24 10 21 2z" color="#7b9c22"/>
<path d="M6317 3775l-30 5 25 16 29-5z" color="#2a9160"/>
<path d="M4494 3808l-24 12 39 6 24-12z" color="#1e7c59"/>
<path d="M2565 4244l-95 6 67 45 94-19z" color="#2f3061"/>
<path d="M8306 4275l-62 37 88 79 64-47z" color="#3d2468"/>
<path d="M6802 3996l-50 25 31 18 49-25z" color="#206a76"/>
<path d="M5719 3521l-22 0 24 10 22 3z" color="#919d14"/>
<path d="M7757 4148l-65 31 88 65 67-50z" color="#304675"/>
<path d="M6580 3957l-38 12 25 19 37-11z" color="#1c7375"/>
<path d="M6239 3739l-27 3 25 21 26-2z" color="#389c5b"/>
<path d="M4685 3718l-24 24 31 12 23-24z" color="#3d9b56"/>
<path d="M5211 3516l-23 14 24 0 23-14z" color="#919b13"/>
<path d="M6469 3906l-33 8 25 18 33-10z" color="#197c71"/>
<path d="M4980 3591l-23 16 23 4 23-19z" color="#77a32b"/>
<path d="M6958 4051l-56 27 42 30 57-26z" color="#255f77"/>
<path d="M5096 3553l-23 15 23-1 23-14z" color="#80991c"/>
<path d="M5950 3595l-21-1 24 16 21 1z" color="#76a42c"/>
<path d="M4238 3902l-35 23 51 22 35-36z" color="#177469"/>
<path d="M5835 3555l-22-2 24 14 22 1z" color="#87a21d"/>
<path d="M3731 4078l-80 66 70 28 80-63z" color="#275271"/>
<path d="M4909 3621l-23 20 24 5 24-19z" color="#6aa537"/>
<path d="M6697 3993l-43 18 27 15 43-20z" color="#1e6a72"/>
<path d="M4580 3778l-24 20 35 4 23-17z" color="#288a5b"/>
<path d="M4762 3685l-23 22 28 11 23-24z" color="#4da04c"/>
<path d="M5673 3515l-22-3 24 9 22 0z" color="#909611"/>
<path d="M6091 3664l-22 1 24 19 23 1z" color="#58a344"/>
<path d="M4837 3654l-23 19 25 7 24-20z" color="#5da441"/>
<path d="M5258 3510l-23 6 23 2 23-7z" color="#919610"/>
<path d="M6164 3699l-24 0 24 20 25-3z" color="#4a9d4c"/>
<path d="M7114 4074l-63 35 57 42 64-45z" color="#265875"/>
<path d="M6021 3623l-22 2 24 20 22-2z" color="#70ab38"/>
<path d="M6341 3791l-29 5 24 25 29-3z" color="#289263"/>
<path d="M5627 3507l-22 0 24 12 22-7z" color="#9b9c11"/>
<path d="M3027 4181l-84 76 70 56 86-64z" color="#373c74"/>
<path d="M5581 3499l-22 5 23 23 23-20z" color="#afae13"/>
<path d="M4350 3875l-29 19 45 12 29-16z" color="#187b68"/>
<path d="M5535 3496l-23 5 24 31 23-28z" color="#b5b414"/>
<path d="M5027 3580l-24 12 23 2 24-15z" color="#799921"/>
<path d="M4470 3820l-24 22 39 12 24-28z" color="#1f8662"/>
<path d="M5489 3494l-23 7 23 32 23-32z" color="#b7b614"/>
<path d="M5304 3500l-23 11 23-1 23-8z" color="#989711"/>
<path d="M4661 3742l-23 23 30 8 24-19z" color="#379758"/>
<path d="M5142 3538l-23 15 23-1 23-15z" color="#8c9b15"/>
<path d="M5789 3540l-22 3 24 8 22 2z" color="#8c9d16"/>
<path d="M6263 3761l-26 2 24 19 26-2z" color="#33975c"/>
<path d="M5904 3580l-21-2 24 14 22 2z" color="#80a122"/>
<path d="M5443 3490l-23 8 23 28 23-25z" color="#bab515"/>
<path d="M7604 4118l-67 44 89 58 66-41z" color="#2d4f77"/>
<path d="M6494 3922l-33 10 24 26 33-12z" color="#1a7f76"/>
<path d="M6604 3977l-37 11 25 18 37-13z" color="#1d7073"/>
<path d="M6365 3818l-29 3 24 35 28-2z" color="#218b66"/>
<path d="M5350 3498l-23 4 24 7 23-10z" color="#9e9c11"/>
<path d="M5396 3493l-22 6 23 18 23-19z" color="#b2ad14"/>
<path d="M4957 3607l-23 20 23 2 23-18z" color="#74a42e"/>
<path d="M6832 4014l-49 25 32 29 50-23z" color="#226c7a"/>
<path d="M4739 3707l-24 23 28 8 24-20z" color="#479e50"/>
<path d="M4057 3991l-54 39 58 12 55-35z" color="#1c636b"/>
<path d="M5743 3534l-22-3 24 12 22 0z" color="#919d14"/>
<path d="M4886 3641l-23 19 24 4 23-18z" color="#64a139"/>
<path d="M6388 3854l-28 2 23 32 29-3z" color="#1c876b"/>
<path d="M5974 3611l-21-1 24 14 22 1z" color="#73a02c"/>
<path d="M6189 3716l-25 3 24 25 24-2z" color="#47a354"/>
<path d="M4814 3673l-24 21 26 7 23-21z" color="#58a345"/>
<path d="M5188 3530l-23 7 24 1 23-8z" color="#8d9511"/>
<path d="M5512 3501l-23 32 24 38 23-39z" color="#a3ad15"/>
<path d="M8153 4251l-63 36 91 56 63-31z" color="#38306d"/>
<path d="M5073 3568l-23 11 23-2 23-10z" color="#79911a"/>
<path d="M6045 3643l-22 2 24 22 22-2z" color="#6bad3d"/>
<path d="M4556 3798l-23 16 34 1 24-13z" color="#248055"/>
<path d="M4203 3925l-41 44 52 19 40-41z" color="#19746f"/>
<path d="M3183 4174l-84 75 69 36 86-59z" color="#324072"/>
<path d="M5559 3504l-23 28 23 35 23-40z" color="#a7af14"/>
<path d="M5466 3501l-23 25 23 41 23-34z" color="#a8b015"/>
<path d="M6116 3685l-23-1 24 13 23 2z" color="#509741"/>
<path d="M4446 3842l-25 27 39 9 25-24z" color="#1c8364"/>
<path d="M5859 3568l-22-1 24 8 22 3z" color="#80981b"/>
<path d="M5489 3533l-23 34 24 39 23-35z" color="#91aa1d"/>
<path d="M5536 3532l-23 39 23 34 23-38z" color="#8fa81d"/>
<path d="M6724 4006l-43 20 28 17 43-22z" color="#1e6b74"/>
<path d="M5605 3507l-23 20 24 30 23-38z" color="#afb214"/>
<path d="M6518 3946l-33 12 24 23 33-12z" color="#1b7c77"/>
<path d="M5513 3571l-23 35 23 39 23-40z" color="#7ea628"/>
<path d="M7452 4109l-67 41 86 47 66-35z" color="#295374"/>
<path d="M6412 3885l-29 3 24 29 29-3z" color="#1a846e"/>
<path d="M4638 3765l-24 20 31 5 23-17z" color="#319157"/>
<path d="M5697 3521l-22 0 24 11 22-1z" color="#9ea111"/>
<path d="M5420 3498l-23 19 23 41 23-32z" color="#b1b314"/>
<path d="M5235 3516l-23 14 23 0 23-12z" color="#999b11"/>
<path d="M5003 3592l-23 19 23 3 23-20z" color="#7ea326"/>
<path d="M5490 3606l-23 35 23 42 23-38z" color="#6ba133"/>
<path d="M5466 3567l-23 34 24 40 23-35z" color="#81a727"/>
<path d="M5651 3512l-22 7 23 24 23-22z" color="#b1b213"/>
<path d="M5443 3526l-23 32 23 43 23-34z" color="#95aa1a"/>
<path d="M5536 3605l-23 40 23 37 23-41z" color="#6a9f33"/>
<path d="M5513 3645l-23 38 23 40 23-41z" color="#579b3f"/>
<path d="M5559 3567l-23 38 23 36 23-41z" color="#7fa426"/>
<path d="M5582 3527l-23 40 23 33 24-43z" color="#92a619"/>
<path d="M6287 3780l-26 2 25 15 26-1z" color="#2f9059"/>
<path d="M5490 3683l-23 36 23 41 23-37z" color="#489849"/>
<path d="M4715 3730l-23 24 28 5 23-21z" color="#409951"/>
<path d="M3873 4045l-72 64 66 28 72-59z" color="#235d73"/>
<path d="M5119 3553l-23 14 23-2 23-13z" color="#8a9a16"/>
<path d="M5536 3682l-23 41 23 38 23-44z" color="#479447"/>
<path d="M5467 3641l-23 35 23 43 23-36z" color="#5a9c3d"/>
<path d="M5929 3594l-22-2 24 17 22 1z" color="#82a625"/>
<path d="M5513 3723l-23 37 23 36 23-35z" color="#389252"/>
<path d="M4934 3627l-24 19 24 2 23-19z" color="#6d9f30"/>
<path d="M6629 3993l-37 13 25 16 37-11z" color="#1d6f73"/>
<path d="M6212 3742l-24 2 24 20 25-1z" color="#3f9c55"/>
<path d="M5559 3641l-23 41 23 35 24-43z" color="#5a9a3c"/>
<path d="M5813 3553l-22-2 24 15 22 1z" color="#94a517"/>
<path d="M4321 3894l-32 17 45 20 32-25z" color="#177966"/>
<path d="M5443 3601l-23 30 24 45 23-35z" color="#70a331"/>
<path d="M5374 3499l-23 10 23 34 23-26z" color="#bdb915"/>
<path d="M4790 3694l-23 24 25 5 24-22z" color="#509f48"/>
<path d="M3340 4169l-86 57 71 46 85-66z" color="#304573"/>
<path d="M7001 4082l-57 26 50 26 57-25z" color="#245a71"/>
<path d="M4863 3660l-24 20 25 4 23-20z" color="#5fa03c"/>
<path d="M5582 3600l-23 41 24 33 23-43z" color="#6e9f2f"/>
<path d="M5281 3511l-23 7 24 3 22-11z" color="#9c9a11"/>
<path d="M5467 3719l-23 32 23 41 23-32z" color="#3b9551"/>
<path d="M5420 3558l-23 30 23 43 23-30z" color="#87a722"/>
<path d="M5559 3717l-23 44 24 31 23-40z" color="#3a904e"/>
<path d="M6865 4045l-50 23 37 33 50-23z" color="#236779"/>
<path d="M7306 4112l-66 35 76 51 69-48z" color="#295375"/>
<path d="M5999 3625l-22-1 24 22 22-1z" color="#79ad32"/>
<path d="M5444 3676l-23 31 23 44 23-32z" color="#4d9a46"/>
<path d="M6069 3665l-22 2 24 15 22 2z" color="#61a33d"/>
<path d="M5606 3557l-24 43 24 31 23-46z" color="#82a020"/>
<path d="M5327 3502l-23 8 24 15 23-16z" color="#b3ad15"/>
<path d="M5583 3674l-24 43 24 35 23-44z" color="#4b9544"/>
<path d="M5397 3517l-23 26 23 45 23-30z" color="#9fab16"/>
<path d="M6436 3914l-29 3 24 25 30-10z" color="#198171"/>
<path d="M5629 3519l-23 38 23 28 23-42z" color="#9da815"/>
<path d="M4421 3869l-26 21 38 8 27-20z" color="#1a8066"/>
<path d="M6140 3699l-23-2 24 26 23-4z" color="#56a549"/>
<path d="M5490 3760l-23 32 24 21 22-17z" color="#329a5f"/>
<path d="M5536 3761l-23 35 24 17 23-21z" color="#32985e"/>
<path d="M4533 3814l-24 12 34 15 24-26z" color="#26875a"/>
<path d="M5420 3631l-23 31 24 45 23-31z" color="#619e39"/>
<path d="M5606 3631l-23 43 23 34 23-45z" color="#5f9937"/>
<path d="M6542 3969l-33 12 25 17 33-10z" color="#1b7775"/>
<path d="M5050 3579l-24 15 24-1 23-16z" color="#81991b"/>
<path d="M5767 3543l-22 0 24 8 22 0z" color="#919912"/>
<path d="M5165 3537l-23 15 24-2 23-12z" color="#949c12"/>
<path d="M5397 3588l-23 30 23 44 23-31z" color="#79a52b"/>
<path d="M8001 4221l-63 25 88 74 64-33z" color="#343c72"/>
<path d="M5583 3752l-23 40 23 24 23-35z" color="#329056"/>
<path d="M5444 3751l-23 29 23 33 23-21z" color="#349559"/>
<path d="M5606 3708l-23 44 23 29 24-45z" color="#3f8f49"/>
<path d="M5629 3585l-23 46 23 32 24-48z" color="#739b27"/>
<path d="M4614 3785l-23 17 30 2 24-14z" color="#2d8955"/>
<path d="M4980 3611l-23 18 23 2 23-17z" color="#79a228"/>
<path d="M5421 3707l-23 27 23 46 23-29z" color="#43964c"/>
<path d="M5883 3578l-22-3 25 14 21 3z" color="#89a01b"/>
<path d="M6312 3796l-26 1 24 29 26-5z" color="#2f9760"/>
<path d="M8551 4355l-63 47 94 47 62-38z" color="#3c195d"/>
<path d="M3496 4157l-86 49 71 47 86-56z" color="#2d4a74"/>
<path d="M4692 3754l-24 19 28 3 24-17z" color="#399251"/>
<path d="M5374 3543l-23 28 23 47 23-30z" color="#8fa61b"/>
<path d="M5675 3521l-23 22 24 25 23-36z" color="#adb013"/>
<path d="M4162 3969l-46 38 51 16 47-35z" color="#1b6f6f"/>
<path d="M5629 3663l-23 45 24 28 23-46z" color="#51933d"/>
<path d="M5721 3531l-22 1 24 17 22-6z" color="#a9ad13"/>
<path d="M5397 3662l-23 27 24 45 23-27z" color="#579c40"/>
<path d="M6752 4021l-43 22 30 17 44-21z" color="#1f6b74"/>
<path d="M4910 3646l-23 18 23 2 24-18z" color="#699f33"/>
<path d="M4767 3718l-24 20 26 2 23-17z" color="#489748"/>
<path d="M5351 3509l-23 16 23 46 23-28z" color="#afb014"/>
<path d="M5652 3543l-23 42 24 30 23-47z" color="#8b9f19"/>
<path d="M6237 3763l-25 1 25 16 24 2z" color="#399553"/>
<path d="M8396 4344l-64 47 90 67 66-56z" color="#3e1a60"/>
<path d="M4839 3680l-23 21 24 2 24-19z" color="#599c3e"/>
<path d="M5212 3530l-23 8 23 2 23-10z" color="#999b11"/>
<path d="M5953 3610l-22-1 25 14 21 1z" color="#7fa426"/>
<path d="M6023 3645l-22 1 24 20 22 1z" color="#71ab36"/>
<path d="M6461 3932l-30 10 25 26 29-10z" color="#1a8275"/>
<path d="M6164 3719l-23 4 24 23 23-2z" color="#4fa64f"/>
<path d="M6654 4011l-37 11 27 16 37-12z" color="#1c6b70"/>
<path d="M5374 3618l-23 24 23 47 23-27z" color="#6da131"/>
<path d="M6336 3821l-26 5 23 34 27-4z" color="#269064"/>
<path d="M5096 3567l-23 10 23-3 23-9z" color="#818f14"/>
<path d="M4509 3826l-24 28 34 12 24-25z" color="#238c63"/>
<path d="M7172 4106l-64 45 68 36 64-40z" color="#285a78"/>
<path d="M5653 3615l-24 48 24 27 23-49z" color="#65942d"/>
<path d="M5513 3796l-22 17 23 13 23-13z" color="#309c63"/>
<path d="M5560 3792l-23 21 24 15 22-12z" color="#309d64"/>
<path d="M5467 3792l-23 21 24 14 23-14z" color="#319d64"/>
<path d="M4289 3911l-35 36 45 22 35-38z" color="#187d6e"/>
<path d="M5630 3736l-24 45 24 26 23-47z" color="#36894c"/>
<path d="M5837 3567l-22-1 25 7 21 2z" color="#869514"/>
<path d="M6093 3684l-22-2 24 15 22 0z" color="#5b9b3b"/>
<path d="M5606 3781l-23 35 24 19 23-28z" color="#2d935d"/>
<path d="M2789 4285l-90 39 68 45 89-46z" color="#372c68"/>
<path d="M5398 3734l-23 22 23 47 23-23z" color="#3b9250"/>
<path d="M5351 3571l-23 25 23 46 23-24z" color="#85a522"/>
<path d="M5304 3510l-22 11 23 27 23-23z" color="#bdb616"/>
<path d="M5258 3518l-23 12 24 3 23-12z" color="#a8a413"/>
<path d="M4003 4030l-64 48 59 24 63-60z" color="#1e646e"/>
<path d="M3651 4144l-84 53 70 39 84-64z" color="#294d71"/>
<path d="M5421 3780l-23 23 23 25 23-15z" color="#319a60"/>
<path d="M6360 3856l-27 4 24 29 26-1z" color="#1f8c69"/>
<path d="M5026 3594l-23 20 23-2 24-19z" color="#809d1e"/>
<path d="M6567 3988l-33 10 25 15 33-7z" color="#1b7271"/>
<path d="M4395 3890l-29 16 39 14 28-22z" color="#197c64"/>
<path d="M5653 3690l-23 46 23 24 24-49z" color="#488d40"/>
<path d="M7847 4194l-67 50 90 61 68-59z" color="#324576"/>
<path d="M5676 3568l-23 47 23 26 24-50z" color="#7e991d"/>
<path d="M5374 3689l-22 22 23 45 23-22z" color="#509a45"/>
<path d="M6902 4078l-50 23 42 34 50-27z" color="#246378"/>
<path d="M5328 3525l-23 23 23 48 23-25z" color="#9fa815"/>
<path d="M4957 3629l-23 19 23-1 23-16z" color="#729c29"/>
<path d="M5699 3532l-23 36 24 23 23-42z" color="#a1a914"/>
<path d="M4591 3802l-24 13 30 12 24-23z" color="#2e8b56"/>
<path d="M5142 3552l-23 13 23-2 24-13z" color="#8d9511"/>
<path d="M5907 3592l-21-3 24 18 21 2z" color="#8da81e"/>
<path d="M6485 3958l-29 10 24 22 29-9z" color="#1a7e76"/>
<path d="M4668 3773l-23 17 27 2 24-16z" color="#358b4f"/>
<path d="M5791 3551l-22 0 24 15 22 0z" color="#a2ab13"/>
<path d="M5351 3642l-23 23 24 46 22-22z" color="#659f37"/>
<path d="M4743 3738l-23 21 25-1 24-18z" color="#429047"/>
<path d="M4887 3664l-23 20 23-1 23-17z" color="#629833"/>
<path d="M2943 4257l-87 66 68 40 89-50z" color="#37356f"/>
<path d="M4816 3701l-24 22 25-1 23-19z" color="#51953e"/>
<path d="M5676 3641l-23 49 24 21 23-48z" color="#5d9131"/>
<path d="M6188 3744l-23 2 25 19 22-1z" color="#479f50"/>
<path d="M6261 3782l-24-2 24 20 25-3z" color="#379354"/>
<path d="M4485 3854l-25 24 34 6 25-18z" color="#1f8763"/>
<path d="M6383 3888l-26 1 24 27 26 1z" color="#1b856a"/>
<path d="M5977 3624l-21-1 24 23 21 0z" color="#84b02b"/>
<path d="M2631 4276l-94 19 68 48 94-19z" color="#323468"/>
<path d="M6047 3667l-22-1 25 14 21 2z" color="#669d34"/>
<path d="M7692 4179l-66 41 86 79 68-55z" color="#304b78"/>
<path d="M5745 3543l-22 6 24 14 22-12z" color="#a8aa12"/>
<path d="M5328 3596l-23 22 23 47 23-23z" color="#7ea427"/>
<path d="M6783 4039l-44 21 33 30 43-22z" color="#216e79"/>
<path d="M5653 3760l-23 47 24 15 23-47z" color="#31834b"/>
<path d="M5583 3816l-22 12 24 16 22-9z" color="#2e9a64"/>
<path d="M5375 3756l-23 22 23 43 23-18z" color="#379354"/>
<path d="M6117 3697l-22 0 24 27 22-1z" color="#5fa944"/>
<path d="M7051 4109l-57 25 57 47 57-30z" color="#275c78"/>
<path d="M5630 3807l-23 28 24 13 23-26z" color="#2b915f"/>
<path d="M5444 3813l-23 15 24 12 23-13z" color="#2f9962"/>
<path d="M5700 3591l-24 50 24 22 24-51z" color="#759521"/>
<path d="M5189 3538l-23 12 23-1 23-9z" color="#991"/>
<path d="M6681 4026l-37 12 28 16 37-11z" color="#1d6c71"/>
<path d="M5073 3577l-23 16 23-1 23-18z" color="#8a9915"/>
<path d="M5537 3813l-23 13 24 12 23-10z" color="#2f9961"/>
<path d="M5491 3813l-23 14 24 11 22-12z" color="#2f9861"/>
<path d="M5282 3521l-23 12 23 38 23-23z" color="#bab615"/>
<path d="M5305 3548l-23 23 23 47 23-22z" color="#97a818"/>
<path d="M5352 3711l-23 20 23 47 23-22z" color="#4a9847"/>
<path d="M5003 3614l-23 17 23-1 23-18z" color="#7b9a20"/>
<path d="M6407 3917l-26-1 24 37 26-11z" color="#1a846e"/>
<path d="M4254 3947l-40 41 44 13 41-32z" color="#19786f"/>
<path d="M5677 3711l-24 49 24 15 24-46z" color="#438940"/>
<path d="M5398 3803l-23 18 24 19 22-12z" color="#319c63"/>
<path d="M8244 4312l-63 31 91 67 60-19z" color="#3b296a"/>
<path d="M4567 3815l-24 26 31 12 23-26z" color="#2c925e"/>
<path d="M5861 3575l-21-2 24 15 22 1z" color="#96a215"/>
<path d="M6592 4006l-33 7 26 16 32-7z" color="#1b706f"/>
<path d="M3099 4249l-86 64 68 31 87-59z" color="#33346a"/>
<path d="M5235 3530l-23 10 24 7 23-14z" color="#ada813"/>
<path d="M5723 3549l-23 42 24 21 23-49z" color="#939e14"/>
<path d="M4366 3906l-32 25 39 25 32-36z" color="#1a836c"/>
<path d="M5328 3665l-23 19 24 47 23-20z" color="#619f3a"/>
<path d="M6286 3797l-25 3 24 33 25-7z" color="#369c5e"/>
<path d="M4934 3648l-24 18 23-3 24-16z" color="#6b9529"/>
<path d="M6509 3981l-29 9 25 16 29-8z" color="#1a7771"/>
<path d="M4645 3790l-24 14 28 11 23-23z" color="#368f52"/>
<path d="M5931 3609l-21-2 24 17 22-1z" color="#8ba81f"/>
<path d="M4864 3684l-24 19 23-3 24-17z" color="#5a9133"/>
<path d="M4720 3759l-24 17 26-2 23-16z" color="#3c8745"/>
<path d="M4792 3723l-23 17 24-2 24-16z" color="#4a8c3d"/>
<path d="M5700 3663l-23 48 24 18 23-51z" color="#588e33"/>
<path d="M6001 3646l-21 0 24 19 21 1z" color="#79a82e"/>
<path d="M3801 4109l-80 63 64 17 82-52z" color="#24556e"/>
<path d="M6141 3723l-22 1 25 23 21-1z" color="#56a549"/>
<path d="M6212 3764l-22 1 24 15 23 0z" color="#42974e"/>
<path d="M5305 3618l-23 19 23 47 23-19z" color="#78a32a"/>
<path d="M4116 4007l-55 35 51 19 55-38z" color="#1a696b"/>
<path d="M6431 3942l-26 11 24 26 27-11z" color="#1a8575"/>
<path d="M4460 3878l-27 20 34 4 27-18z" color="#1c7d5d"/>
<path d="M5119 3565l-23 9 23-2 23-9z" color="#8b9110"/>
<path d="M6310 3826l-25 7 24 30 24-3z" color="#2c9663"/>
<path d="M7537 4162l-66 35 86 74 69-51z" color="#2d5279"/>
<path d="M5815 3566l-22 0 25 4 22 3z" color="#8e9411"/>
<path d="M6071 3682l-21-2 24 20 21-3z" color="#69a336"/>
<path d="M5352 3778l-23 18 23 39 23-14z" color="#369658"/>
<path d="M6815 4068l-43 22 37 33 43-22z" color="#226b7a"/>
<path d="M5282 3571l-23 18 23 48 23-19z" color="#92a71b"/>
<path d="M4543 3841l-24 25 31 6 24-19z" color="#268c5f"/>
<path d="M5769 3551l-22 12 24 15 22-12z" color="#b2b413"/>
<path d="M5724 3612l-24 51 24 15 24-51z" color="#6e9122"/>
<path d="M5607 3835l-22 9 23 13 23-9z" color="#2a9360"/>
<path d="M5050 3593l-24 19 23-2 24-18z" color="#8a9d18"/>
<path d="M5329 3731l-23 17 23 48 23-18z" color="#46964a"/>
<path d="M5259 3533l-23 14 23 42 23-18z" color="#b3b314"/>
<path d="M4980 3631l-23 16 23-2 23-15z" color="#789921"/>
<path d="M5421 3828l-22 12 23 14 23-14z" color="#2f9a62"/>
<path d="M5677 3775l-23 47 24 4 23-47z" color="#317d46"/>
<path d="M5561 3828l-23 10 24 12 23-6z" color="#2e945f"/>
<path d="M6709 4043l-37 11 29 28 38-22z" color="#1e6f75"/>
<path d="M6333 3860l-24 3 24 25 24 1z" color="#248f65"/>
<path d="M5166 3550l-24 13 24 0 23-14z" color="#9d9c11"/>
<path d="M5468 3827l-23 13 24 10 23-12z" color="#2e955f"/>
<path d="M3254 4226l-86 59 70 39 87-52z" color="#314373"/>
<path d="M5886 3589l-22-1 24 19 22 0z" color="#9daf19"/>
<path d="M5375 3821l-23 14 24 21 23-16z" color="#32a066"/>
<path d="M5654 3822l-23 26 24 10 23-32z" color="#2a8a58"/>
<path d="M6944 4108l-50 27 51 24 49-25z" color="#235d72"/>
<path d="M5514 3826l-22 12 24 10 22-10z" color="#2f955e"/>
<path d="M4621 3804l-24 23 28 12 24-24z" color="#35985a"/>
<path d="M5305 3684l-23 16 24 48 23-17z" color="#5d9d3c"/>
<path d="M5747 3563l-23 49 24 15 23-49z" color="#8c9914"/>
<path d="M6617 4022l-32 7 26 17 33-8z" color="#1b6e6e"/>
<path d="M6456 3968l-27 11 25 19 26-8z" color="#1a8074"/>
<path d="M5956 3623l-22 1 24 22 22 0z" color="#8fb225"/>
<path d="M4910 3666l-23 17 23-7 23-13z" color="#628b28"/>
<path d="M6165 3746l-21 1 24 17 22 1z" color="#4d9d49"/>
<path d="M4334 3931l-35 38 39 14 35-27z" color="#197f6e"/>
<path d="M7385 4150l-69 48 86 52 69-53z" color="#2a5577"/>
<path d="M4696 3776l-24 16 26 8 24-26z" color="#3f914b"/>
<path d="M5701 3729l-24 46 24 4 24-45z" color="#41843d"/>
<path d="M4840 3703l-23 19 23-5 23-17z" color="#558c33"/>
<path d="M4769 3740l-24 18 24 1 24-21z" color="#498e3f"/>
<path d="M6534 3998l-29 8 25 14 29-7z" color="#19736e"/>
<path d="M8090 4287l-64 33 90 68 65-45z" color="#383671"/>
<path d="M6237 3780l-23 0 24 26 23-6z" color="#439f54"/>
<path d="M6025 3666l-21-1 24 15 22 0z" color="#71a12d"/>
<path d="M5212 3540l-23 9 23 8 24-10z" color="#b0a915"/>
<path d="M6095 3697l-21 3 24 25 21-1z" color="#6aae3f"/>
<path d="M3939 4078l-72 59 58 21 73-56z" color="#215f70"/>
<path d="M5282 3637l-23 13 23 50 23-16z" color="#75a22c"/>
<path d="M4433 3898l-28 22 34 17 28-35z" color="#1c8364"/>
<path d="M6357 3889l-24-1 24 32 24-4z" color="#1f8966"/>
<path d="M5724 3678l-23 51 24 5 23-50z" color="#53852f"/>
<path d="M5096 3574l-23 18 23-2 23-18z" color="#969c11"/>
<path d="M4214 3988l-47 35 44 6 47-28z" color="#186e68"/>
<path d="M4519 3866l-25 18 30 5 26-17z" color="#22855c"/>
<path d="M5026 3612l-23 18 23-2 23-18z" color="#859b19"/>
<path d="M5329 3796l-23 12 23 42 23-15z" color="#359659"/>
<path d="M7240 4147l-64 40 78 43 62-32z" color="#285676"/>
<path d="M3410 4206l-85 66 71 41 85-60z" color="#2f4774"/>
<path d="M6381 3916l-24 4 23 42 25-9z" color="#1a8269"/>
<path d="M5259 3589l-23 12 23 49 23-13z" color="#8fa61b"/>
<path d="M5840 3573l-22-3 24 18 22 0z" color="#a6ab13"/>
<path d="M4597 3827l-23 26 27 5 24-19z" color="#2e925b"/>
<path d="M6261 3800l-23 6 24 30 23-3z" color="#3b9f5b"/>
<path d="M5306 3748l-23 12 23 48 23-12z" color="#45964a"/>
<path d="M5631 3848l-23 9 25 12 22-11z" color="#2b925f"/>
<path d="M4672 3792l-23 23 25 10 24-25z" color="#3e9b55"/>
<path d="M5910 3607l-22 0 24 19 22-2z" color="#9bb01a"/>
<path d="M4957 3647l-24 16 23-3 24-15z" color="#739421"/>
<path d="M5748 3627l-24 51 24 6 24-51z" color="#698920"/>
<path d="M5236 3547l-24 10 24 44 23-12z" color="#b0b014"/>
<path d="M5793 3566l-22 12 25 7 22-15z" color="#a3a412"/>
<path d="M5399 3840l-23 16 23 17 23-19z" color="#309e66"/>
<path d="M6852 4101l-43 22 42 34 43-22z" color="#236578"/>
<path d="M5980 3646l-22 0 24 17 22 2z" color="#82a827"/>
<path d="M6739 4060l-38 22 33 31 38-23z" color="#20707a"/>
<path d="M6405 3953l-25 9 25 27 24-10z" color="#1a8674"/>
<path d="M6119 3724l-21 1 24 19 22 3z" color="#5da441"/>
<path d="M4745 3758l-23 16 24 11 23-26z" color="#4c9b48"/>
<path d="M5352 3835l-23 15 24 22 23-16z" color="#31a167"/>
<path d="M8488 4402l-66 56 96 46 64-55z" color="#3c185b"/>
<path d="M8644 4411l-62 38 96 46 61-35z" color="#3a1657"/>
<path d="M5585 3844l-23 6 24 12 22-5z" color="#2d905b"/>
<path d="M4817 3722l-24 16 23 3 24-24z" color="#569137"/>
<path d="M5445 3840l-23 14 24 12 23-16z" color="#2f9760"/>
<path d="M6190 3765l-22-1 24 20 22-4z" color="#4b9c4a"/>
<path d="M6480 3990l-26 8 25 13 26-5z" color="#18766d"/>
<path d="M4887 3683l-24 17 23-3 24-21z" color="#638e2a"/>
<path d="M5282 3700l-23 12 24 48 23-12z" color="#5c9c3c"/>
<path d="M6644 4038l-33 8 27 28 34-20z" color="#1c7274"/>
<path d="M5142 3563l-23 9 24 0 23-9z" color="#999711"/>
<path d="M6050 3680l-22 0 24 24 22-4z" color="#7ab134"/>
<path d="M4405 3920l-32 36 34 10 32-29z" color="#1a8269"/>
<path d="M5492 3838l-23 12 24 9 23-11z" color="#2f925b"/>
<path d="M6285 3833l-23 3 25 27 22 0z" color="#31995f"/>
<path d="M7938 4246l-68 59 90 64 66-49z" color="#354277"/>
<path d="M7108 4151l-57 30 69 33 56-27z" color="#255570"/>
<path d="M6559 4013l-29 7 26 17 29-8z" color="#19716c"/>
<path d="M5538 3838l-22 10 24 9 22-7z" color="#2e9059"/>
<path d="M5701 3779l-23 47 24 10 24-46z" color="#358246"/>
<path d="M5771 3578l-23 49 24 6 24-48z" color="#859213"/>
<path d="M5678 3826l-23 32 24 11 23-33z" color="#2c8b58"/>
<path d="M3567 4197l-86 56 70 38 86-55z" color="#2c4c73"/>
<path d="M5073 3592l-24 18 24-1 23-19z" color="#949e13"/>
<path d="M7780 4244l-68 55 89 70 69-64z" color="#354277"/>
<path d="M5189 3549l-23 14 23 8 23-14z" color="#bbb316"/>
<path d="M5259 3650l-23 13 23 49 23-12z" color="#74a12c"/>
<path d="M4061 4042l-63 60 51 16 63-57z" color="#1d6a71"/>
<path d="M4494 3884l-27 18 31 17 26-30z" color="#228a61"/>
<path d="M5725 3734l-24 45 25 11 23-46z" color="#47873b"/>
<path d="M4299 3969l-41 32 39 6 41-24z" color="#177569"/>
<path d="M5003 3630l-23 15 23 0 23-17z" color="#839b1b"/>
<path d="M4574 3853l-24 19 27 3 24-17z" color="#298858"/>
<path d="M4649 3815l-24 24 26 5 23-19z" color="#379657"/>
<path d="M8332 4391l-60 19 88 83 62-35z" color="#3c1e62"/>
<path d="M5864 3588l-22 0 24 17 22 2z" color="#a5ad14"/>
<path d="M4722 3774l-24 26 24 9 24-24z" color="#489f4f"/>
<path d="M5934 3624l-22 2 24 21 22-1z" color="#99b41f"/>
<path d="M6309 3863l-22 0 24 27 22-2z" color="#2a9361"/>
<path d="M6429 3979l-24 10 25 16 24-7z" color="#197f71"/>
<path d="M6214 3780l-22 4 25 28 21-6z" color="#4ca754"/>
<path d="M4793 3738l-24 21 24 9 23-27z" color="#59a041"/>
<path d="M5748 3684l-23 50 24 10 24-51z" color="#59892d"/>
<path d="M5236 3601l-23 10 23 52 23-13z" color="#8ea41a"/>
<path d="M5306 3808l-23 8 23 45 23-11z" color="#369457"/>
<path d="M5376 3856l-23 16 23 21 23-20z" color="#2e9f69"/>
<path d="M6144 3747l-22-3 25 19 21 1z" color="#559c41"/>
<path d="M6004 3665l-22-2 24 22 22-5z" color="#83ac29"/>
<path d="M4933 3663l-23 13 23 5 23-21z" color="#789c24"/>
<path d="M6074 3700l-22 4 25 20 21 1z" color="#71ae39"/>
<path d="M4863 3700l-23 17 23 6 23-26z" color="#689c31"/>
<path d="M2856 4323l-89 46 68 43 89-49z" color="#372f69"/>
<path d="M6672 4054l-34 20 30 31 33-23z" color="#1f7479"/>
<path d="M5422 3854l-23 19 24 13 23-20z" color="#2e9862"/>
<path d="M6772 4090l-38 23 37 32 38-22z" color="#226d7a"/>
<path d="M6994 4134l-49 25 57 49 49-27z" color="#266078"/>
<path d="M5283 3760l-23 7 23 49 23-8z" color="#479648"/>
<path d="M5212 3557l-23 14 24 40 23-10z" color="#b3b214"/>
<path d="M5655 3858l-22 11 24 11 22-11z" color="#2c925e"/>
<path d="M5329 3850l-23 11 24 27 23-16z" color="#309f66"/>
<path d="M6505 4006l-26 5 25 19 26-10z" color="#18756c"/>
<path d="M5818 3570l-22 15 24 14 22-11z" color="#b9b614"/>
<path d="M6333 3888l-22 2 23 39 23-9z" color="#238e65"/>
<path d="M5608 3857l-22 5 24 16 23-9z" color="#2d935e"/>
<path d="M6585 4029l-29 8 25 26 30-17z" color="#1b7975"/>
<path d="M5119 3572l-23 18 23 0 24-18z" color="#a3a112"/>
<path d="M5772 3633l-24 51 25 9 23-50z" color="#708c1d"/>
<path d="M6357 3920l-23 9 24 39 22-6z" color="#1b8367"/>
<path d="M7626 4220l-69 51 88 75 67-47z" color="#324979"/>
<path d="M4467 3902l-28 35 31 9 28-27z" color="#1e8866"/>
<path d="M3721 4172l-84 64 65 23 83-70z" color="#26506d"/>
<path d="M5049 3610l-23 18 23-1 24-18z" color="#919e14"/>
<path d="M5469 3850l-23 16 24 8 23-15z" color="#2f935c"/>
<path d="M2699 4324l-94 19 68 48 94-22z" color="#313467"/>
<path d="M6238 3806l-21 6 24 27 21-3z" color="#41a258"/>
<path d="M5259 3712l-23 6 24 49 23-7z" color="#5e9c3a"/>
<path d="M4373 3956l-35 27 33 3 36-20z" color="#177965"/>
<path d="M4698 3800l-24 25 25 4 23-20z" color="#3f9851"/>
<path d="M3013 4313l-89 50 69 36 88-55z" color="#333469"/>
<path d="M4550 3872l-26 17 28 14 25-28z" color="#288c5c"/>
<path d="M5562 3850l-22 7 24 12 22-7z" color="#309159"/>
<path d="M4769 3759l-23 26 23 7 24-24z" color="#52a148"/>
<path d="M4167 4023l-55 38 44 20 55-52z" color="#19706c"/>
<path d="M5726 3790l-24 46 24 12 24-46z" color="#378447"/>
<path d="M6380 3962l-22 6 24 31 23-10z" color="#1a8471"/>
<path d="M4625 3839l-24 19 26 0 24-14z" color="#308951"/>
<path d="M5516 3848l-23 11 24 8 23-10z" color="#308e57"/>
<path d="M5702 3836l-23 33 24 12 23-33z" color="#2d8d57"/>
<path d="M5888 3607l-22-2 24 21 22 0z" color="#a5b115"/>
<path d="M4980 3645l-24 15 23 3 24-18z" color="#85a01d"/>
<path d="M5796 3585l-24 48 24 10 24-44z" color="#909812"/>
<path d="M4840 3717l-24 24 23 6 24-24z" color="#68a53a"/>
<path d="M5166 3563l-23 9 23 7 23-8z" color="#b2a915"/>
<path d="M5958 3646l-22 1 25 14 21 2z" color="#8aa61f"/>
<path d="M6028 3680l-22 5 25 22 21-3z" color="#83b631"/>
<path d="M6168 3764l-21-1 24 26 21-5z" color="#58a849"/>
<path d="M5749 3744l-23 46 24 12 23-46z" color="#48893c"/>
<path d="M5236 3663l-23 7 23 48 23-6z" color="#76a12a"/>
<path d="M6098 3725l-21-1 24 17 21 3z" color="#639f38"/>
<path d="M4910 3676l-24 21 23 7 24-23z" color="#7da92b"/>
<path d="M6454 3998l-24 7 24 18 25-12z" color="#187b6d"/>
<path d="M5353 3872l-23 16 23 23 23-18z" color="#2c9e6a"/>
<path d="M6894 4135l-43 22 51 26 43-24z" color="#225f72"/>
<path d="M5399 3873l-23 20 24 16 23-23z" color="#2b9a66"/>
<path d="M6701 4082l-33 23 32 31 34-23z" color="#20717b"/>
<path d="M6262 3836l-21 3 24 24 22 0z" color="#379b5b"/>
<path d="M6611 4046l-30 17 28 29 29-18z" color="#1d7979"/>
<path d="M6530 4020l-26 10 25 27 27-20z" color="#1a7e75"/>
<path d="M5773 3693l-24 51 24 12 24-49z" color="#5d8d2e"/>
<path d="M5213 3611l-24 8 24 51 23-7z" color="#90a319"/>
<path d="M5096 3590l-23 19 23-1 23-18z" color="#a2a312"/>
<path d="M5842 3588l-22 11 24 15 22-9z" color="#b8b914"/>
<path d="M4746 3785l-24 24 23 1 24-18z" color="#499a49"/>
<path d="M4524 3889l-26 30 28 12 26-28z" color="#248e63"/>
<path d="M6405 3989l-23 10 24 18 24-12z" color="#19806f"/>
<path d="M5283 3816l-23 2 23 48 23-5z" color="#389051"/>
<path d="M5026 3628l-23 17 23 0 23-18z" color="#8d9d16"/>
<path d="M4674 3825l-23 19 24-1 24-14z" color="#378b4d"/>
<path d="M5446 3866l-23 20 24 9 23-21z" color="#2e945e"/>
<path d="M4439 3937l-32 29 31 0 32-20z" color="#1a7d61"/>
<path d="M3867 4137l-82 52 59 24 81-55z" color="#215b6f"/>
<path d="M4816 3741l-23 27 23 3 23-24z" color="#5da03e"/>
<path d="M5679 3869l-22 11 24 12 22-11z" color="#2e955f"/>
<path d="M5306 3861l-23 5 24 35 23-13z" color="#2f9a62"/>
<path d="M4258 4001l-47 28 39 18 47-40z" color="#177367"/>
<path d="M5189 3571l-23 8 23 40 24-8z" color="#b7b415"/>
<path d="M3168 4285l-87 59 70 43 87-63z" color="#323d70"/>
<path d="M5633 3869l-23 9 24 13 23-11z" color="#2e935e"/>
<path d="M8181 4343l-65 45 92 64 64-42z" color="#39326f"/>
<path d="M6192 3784l-21 5 24 24 22-1z" color="#51a74f"/>
<path d="M6809 4123l-38 22 43 30 37-18z" color="#236879"/>
<path d="M7471 4197l-69 53 89 61 66-40z" color="#2d5379"/>
<path d="M4601 3858l-24 17 26 10 24-27z" color="#2f8c55"/>
<path d="M5912 3626l-22 0 25 19 21 2z" color="#9eaf18"/>
<path d="M6287 3863l-22 0 24 35 22-8z" color="#31985f"/>
<path d="M5796 3643l-23 50 24 14 24-48z" color="#77941f"/>
<path d="M4886 3697l-23 26 23 4 23-23z" color="#75a730"/>
<path d="M4956 3660l-23 21 23 4 23-22z" color="#89a922"/>
<path d="M5982 3663l-21-2 24 25 21-1z" color="#90b224"/>
<path d="M5260 3767l-24 4 24 47 23-2z" color="#4b9644"/>
<path d="M6052 3704l-21 3 24 14 22 3z" color="#73a630"/>
<path d="M6122 3744l-21-3 24 25 22-3z" color="#64a63e"/>
<path d="M5586 3862l-22 7 24 15 22-6z" color="#31965c"/>
<path d="M5750 3802l-24 46 25 14 23-46z" color="#378647"/>
<path d="M6479 4011l-25 12 25 27 25-20z" color="#1a8276"/>
<path d="M6311 3890l-22 8 23 37 22-6z" color="#269063"/>
<path d="M5726 3848l-23 33 25 14 23-33z" color="#2f8f58"/>
<path d="M5376 3893l-23 18 24 19 23-21z" color="#299b6a"/>
<path d="M5493 3859l-23 15 24 8 23-15z" color="#319259"/>
<path d="M5820 3599l-24 44 25 16 23-45z" color="#959f13"/>
<path d="M6638 4074l-29 18 29 29 30-16z" color="#1f747a"/>
<path d="M6556 4037l-27 20 25 25 27-19z" color="#1c7d79"/>
<path d="M6334 3929l-22 6 24 34 22-1z" color="#1e8867"/>
<path d="M3998 4102l-73 56 51 19 73-59z" color="#1f6370"/>
<path d="M5143 3572l-24 18 24 1 23-12z" color="#b9ae17"/>
<path d="M5540 3857l-23 10 24 10 23-8z" color="#339357"/>
<path d="M5236 3718l-23 5 23 48 24-4z" color="#629c36"/>
<path d="M5330 3888l-23 13 23 25 23-15z" color="#2b9c6a"/>
<path d="M5773 3756l-23 46 24 14 24-46z" color="#4a8b3c"/>
<path d="M7316 4198l-62 32 85 54 63-34z" color="#295375"/>
<path d="M4793 3768l-24 24 23 0 24-21z" color="#529840"/>
<path d="M6734 4113l-34 23 38 30 33-21z" color="#226d7b"/>
<path d="M4338 3983l-41 24 34 12 40-33z" color="#177462"/>
<path d="M6217 3812l-22 1 25 24 21 2z" color="#469e51"/>
<path d="M3325 4272l-87 52 71 47 87-58z" color="#314373"/>
<path d="M5423 3886l-23 23 24 11 23-25z" color="#2a9361"/>
<path d="M4722 3809l-23 20 23-3 23-16z" color="#408b45"/>
<path d="M4577 3875l-25 28 26 11 25-29z" color="#2c915e"/>
<path d="M4498 3919l-28 27 27 4 29-19z" color="#1f8662"/>
<path d="M5866 3605l-22 9 24 19 22-7z" color="#b9bd14"/>
<path d="M5073 3609l-24 18 24-3 23-16z" color="#999d11"/>
<path d="M6358 3968l-22 1 24 31 22-1z" color="#19816a"/>
<path d="M8026 4320l-66 49 89 75 67-56z" color="#393773"/>
<path d="M6430 4005l-24 12 25 27 23-21z" color="#1a8475"/>
<path d="M4863 3723l-24 24 23 3 24-23z" color="#6ba235"/>
<path d="M5797 3707l-24 49 25 14 23-47z" color="#5f912f"/>
<path d="M5213 3670l-23 5 23 48 23-5z" color="#7ca226"/>
<path d="M5003 3645l-24 18 23 4 24-22z" color="#93a719"/>
<path d="M4651 3844l-24 14 24 9 24-24z" color="#378e4f"/>
<path d="M7176 4187l-56 27 76 59 58-43z" color="#285a77"/>
<path d="M4933 3681l-24 23 23 2 24-21z" color="#80a626"/>
<path d="M6006 3685l-21 1 24 20 22 1z" color="#83ac29"/>
<path d="M6147 3763l-22 3 25 24 21-1z" color="#5faa45"/>
<path d="M5936 3647l-21-2 24 19 22-3z" color="#99ac19"/>
<path d="M6504 4030l-25 20 25 23 25-16z" color="#1b8078"/>
<path d="M7051 4181l-49 27 67 41 51-35z" color="#255b75"/>
<path d="M5703 3881l-22 11 24 15 23-12z" color="#309a62"/>
<path d="M6077 3724l-22-3 25 23 21-3z" color="#71a632"/>
<path d="M4112 4061l-63 57 44 22 63-59z" color="#1c6e72"/>
<path d="M5821 3659l-24 48 24 16 24-49z" color="#759520"/>
<path d="M6581 4063l-27 19 28 24 27-14z" color="#1d7979"/>
<path d="M5189 3619l-23 5 24 51 23-5z" color="#95a416"/>
<path d="M5657 3880l-23 11 24 10 23-9z" color="#2f945d"/>
<path d="M6241 3839l-21-2 24 31 21-5z" color="#3e9b55"/>
<path d="M6382 3999l-22 1 24 36 22-19z" color="#1a8472"/>
<path d="M6668 4105l-30 16 33 30 29-15z" color="#20707a"/>
<path d="M7870 4305l-69 64 91 59 68-59z" color="#373d75"/>
<path d="M5353 3911l-23 15 24 22 23-18z" color="#279b6c"/>
<path d="M4407 3966l-36 20 31 9 36-29z" color="#18765d"/>
<path d="M5470 3874l-23 21 24 7 23-20z" color="#31945b"/>
<path d="M5166 3579l-23 12 23 33 23-5z" color="#bdb616"/>
<path d="M5610 3878l-22 6 24 15 22-8z" color="#30945c"/>
<path d="M5844 3614l-23 45 24 15 23-41z" color="#96a114"/>
<path d="M3481 4253l-85 60 70 41 85-63z" color="#2d4873"/>
<path d="M5774 3816l-23 46 24 16 23-46z" color="#388748"/>
<path d="M5751 3862l-23 33 24 17 23-34z" color="#2e8f59"/>
<path d="M5400 3909l-23 21 24 13 23-23z" color="#279467"/>
<path d="M4552 3903l-26 28 25 4 27-21z" color="#268c60"/>
<path d="M5119 3590l-23 18 23 2 24-19z" color="#afa914"/>
<path d="M4769 3792l-24 18 23-1 24-17z" color="#4a8e3f"/>
<path d="M5283 3866l-23-5 24 43 23-3z" color="#308e57"/>
<path d="M6454 4023l-23 21 24 23 24-17z" color="#1b8378"/>
<path d="M8422 4458l-62 35 93 60 65-49z" color="#3c1659"/>
<path d="M6945 4159l-43 24 56 51 44-26z" color="#25637a"/>
<path d="M4839 3747l-23 24 22-1 24-20z" color="#609a36"/>
<path d="M5260 3818l-23-1 23 44 23 5z" color="#3e904a"/>
<path d="M6265 3863l-21 5 23 37 22-7z" color="#34995c"/>
<path d="M5798 3770l-24 46 24 16 24-46z" color="#4a8d3d"/>
<path d="M4627 3858l-24 27 24 10 24-28z" color="#359659"/>
<path d="M5890 3626l-22 7 25 16 22-4z" color="#adb615"/>
<path d="M4909 3704l-23 23 23 1 23-22z" color="#77a12a"/>
<path d="M4699 3829l-24 14 23 6 24-23z" color="#3e8c47"/>
<path d="M4979 3663l-23 22 23 3 23-21z" color="#90aa1d"/>
<path d="M7712 4299l-67 47 88 75 68-52z" color="#363e76"/>
<path d="M5049 3627l-23 18 23 1 24-22z" color="#979e12"/>
<path d="M5564 3869l-23 8 24 13 23-6z" color="#35975a"/>
<path d="M6171 3789l-21 1 24 21 21 2z" color="#55a246"/>
<path d="M5517 3867l-23 15 24 7 23-12z" color="#359558"/>
<path d="M4211 4029l-55 52 39 18 55-52z" color="#1a7871"/>
<path d="M5307 3901l-23 3 23 31 23-9z" color="#2b9966"/>
<path d="M6529 4057l-25 16 26 21 24-12z" color="#1c7c78"/>
<path d="M5236 3771l-23 0 24 46 23 1z" color="#53973f"/>
<path d="M6289 3898l-22 7 24 31 21-1z" color="#299362"/>
<path d="M8582 4449l-64 55 99 28 61-37z" color="#391a5a"/>
<path d="M5961 3661l-22 3 24 21 22 1z" color="#9cb51e"/>
<path d="M6406 4017l-22 19 24 26 23-18z" color="#1a8476"/>
<path d="M5821 3723l-23 47 24 16 24-47z" color="#5e9230"/>
<path d="M6031 3707l-22-1 25 17 21-2z" color="#7aa228"/>
<path d="M6101 3741l-21 3 24 24 21-2z" color="#72b13b"/>
<path d="M6851 4157l-37 18 50 32 38-24z" color="#226375"/>
<path d="M4470 3946l-32 20 27 6 32-22z" color="#1c7b5b"/>
<path d="M3637 4236l-86 55 67 46 84-78z" color="#2b4e74"/>
<path d="M5447 3895l-23 25 24 6 23-24z" color="#2a8e5c"/>
<path d="M6609 4092l-27 14 30 24 26-9z" color="#1e7578"/>
<path d="M5213 3723l-23 2 23 46 23 0z" color="#6b9f32"/>
<path d="M6771 4145l-33 21 43 28 33-19z" color="#226978"/>
<path d="M6312 3935l-21 1 24 32 21 1z" color="#218a64"/>
<path d="M5728 3895l-23 12 24 15 23-10z" color="#2f9b64"/>
<path d="M5845 3674l-24 49 25 16 23-49z" color="#749421"/>
<path d="M4297 4007l-47 40 34 18 47-46z" color="#197f6f"/>
<path d="M8739 4460l-61 35 102 19 61-38z" color="#321a52"/>
<path d="M4603 3885l-25 29 24 3 25-22z" color="#2d8f5a"/>
<path d="M6479 4050l-24 17 26 18 23-12z" color="#1b7f78"/>
<path d="M5377 3930l-23 18 24 12 23-17z" color="#249469"/>
<path d="M4816 3771l-24 21 23-2 23-20z" color="#569137"/>
<path d="M6195 3813l-21-2 24 29 22-3z" color="#4fa14b"/>
<path d="M5190 3675l-24 3 24 47 23-2z" color="#83a322"/>
<path d="M5868 3633l-23 41 24 16 24-41z" color="#96a415"/>
<path d="M6336 3969l-21-1 24 42 21-10z" color="#1c8568"/>
<path d="M5681 3892l-23 9 25 14 22-8z" color="#31985f"/>
<path d="M4886 3727l-24 23 23 0 24-22z" color="#6d9c2d"/>
<path d="M4745 3810l-23 16 22 6 24-23z" color="#4b9443"/>
<path d="M5798 3832l-23 46 24 16 24-46z" color="#368649"/>
<path d="M4675 3843l-24 24 23 9 24-27z" color="#3f9952"/>
<path d="M5775 3878l-23 34 24 18 23-36z" color="#2c8d59"/>
<path d="M5026 3645l-24 22 24 3 23-24z" color="#9ba815"/>
<path d="M6700 4136l-29 15 37 27 30-12z" color="#216b78"/>
<path d="M5096 3608l-23 16 23 1 23-15z" color="#a8a413"/>
<path d="M5330 3926l-23 9 24 24 23-11z" color="#27996b"/>
<path d="M4956 3685l-24 21 23 2 24-20z" color="#87a620"/>
<path d="M4526 3931l-29 19 25 5 29-20z" color="#21815a"/>
<path d="M5634 3891l-22 8 24 12 22-10z" color="#30925a"/>
<path d="M6360 4000l-21 10 23 37 22-11z" color="#19816e"/>
<path d="M5915 3645l-22 4 24 21 22-6z" color="#adba17"/>
<path d="M5143 3591l-24 19 24 19 23-5z" color="#c4bb17"/>
<path d="M6431 4044l-23 18 25 17 22-12z" color="#1b8278"/>
<path d="M5822 3786l-24 46 25 16 23-45z" color="#498d3f"/>
<path d="M6125 3766l-21 2 24 18 22 4z" color="#64a53c"/>
<path d="M5985 3686l-22-1 25 19 21 2z" color="#8ba81f"/>
<path d="M8272 4410l-64 42 87 93 65-52z" color="#3d2569"/>
<path d="M6554 4082l-24 12 28 20 24-8z" color="#1c7776"/>
<path d="M5166 3624l-23 5 23 49 24-3z" color="#9ca614"/>
<path d="M4371 3986l-40 33 30 17 41-41z" color="#1a836b"/>
<path d="M2924 4363l-89 49 69 46 89-59z" color="#36316b"/>
<path d="M5424 3920l-23 23 24 7 23-24z" color="#268c60"/>
<path d="M5494 3882l-23 20 24 4 23-17z" color="#339358"/>
<path d="M6055 3721l-21 2 24 25 22-4z" color="#83b430"/>
<path d="M5588 3884l-23 6 24 14 23-5z" color="#349559"/>
<path d="M6220 3837l-22 3 24 34 22-6z" color="#47a253"/>
<path d="M5846 3739l-24 47 24 17 24-48z" color="#5c9132"/>
<path d="M7557 4271l-66 40 88 70 66-35z" color="#2f4b77"/>
<path d="M6384 4036l-22 11 25 27 21-12z" color="#1a8276"/>
<path d="M2767 4369l-94 22 69 48 93-27z" color="#323569"/>
<path d="M5541 3877l-23 12 24 12 23-11z" color="#399b5a"/>
<path d="M4651 3867l-24 28 23 4 24-23z" color="#369355"/>
<path d="M6638 4121l-26 9 33 28 26-7z" color="#1f6f76"/>
<path d="M3785 4189l-83 70 57 19 85-65z" color="#235970"/>
<path d="M6244 3868l-22 6 24 32 21-1z" color="#389b5a"/>
<path d="M4578 3914l-27 21 24 3 27-21z" color="#278557"/>
<path d="M5752 3912l-23 10 24 20 23-12z" color="#2e9b65"/>
<path d="M4792 3792l-24 17 23 7 24-26z" color="#57983c"/>
<path d="M4722 3826l-24 23 23 11 23-28z" color="#4b9e4c"/>
<path d="M4438 3966l-36 29 28 17 35-40z" color="#1d8767"/>
<path d="M6504 4073l-23 12 26 17 23-8z" color="#1b7a75"/>
<path d="M5002 3667l-23 21 23 2 24-20z" color="#94a819"/>
<path d="M5869 3690l-23 49 24 16 24-50z" color="#729322"/>
<path d="M4862 3750l-24 20 23-2 24-18z" color="#65952e"/>
<path d="M4932 3706l-23 22 23-1 23-19z" color="#7d9f23"/>
<path d="M5073 3624l-24 22 24 3 23-24z" color="#abaa13"/>
<path d="M5893 3649l-24 41 25 15 23-35z" color="#98a716"/>
<path d="M5260 3861l-23-7 24 43 23 7z" color="#368a4c"/>
<path d="M5354 3948l-23 11 24 16 23-15z" color="#249369"/>
<path d="M3925 4158l-81 55 51 28 81-64z" color="#216172"/>
<path d="M5799 3894l-23 36 24 19 23-39z" color="#2a8958"/>
<path d="M5284 3904l-23-7 23 41 23-3z" color="#2b8d5a"/>
<path d="M3081 4344l-88 55 70 41 88-53z" color="#343b71"/>
<path d="M6150 3790l-22-4 25 25 21 0z" color="#5da03e"/>
<path d="M5939 3664l-22 6 24 17 22-2z" color="#a5b719"/>
<path d="M5823 3848l-24 46 24 16 24-46z" color="#35864a"/>
<path d="M6267 3905l-21 1 24 30 21 0z" color="#2e945e"/>
<path d="M5705 3907l-22 8 24 16 22-9z" color="#309860"/>
<path d="M5237 3817l-23-5 23 42 23 7z" color="#489244"/>
<path d="M4049 4118l-73 59 44 17 73-54z" color="#1e6871"/>
<path d="M6080 3744l-22 4 24 19 22 1z" color="#76ad34"/>
<path d="M6455 4067l-22 12 26 15 22-9z" color="#1a7c74"/>
<path d="M6009 3706l-21-2 24 23 22-4z" color="#8fb224"/>
<path d="M5471 3902l-23 24 24 4 23-24z" color="#2e8e58"/>
<path d="M5401 3943l-23 17 24 10 23-20z" color="#248d63"/>
<path d="M4156 4081l-63 59 39 19 63-60z" color="#1c7172"/>
<path d="M5213 3771l-23-4 24 45 23 5z" color="#5c9838"/>
<path d="M4497 3950l-32 22 26 18 31-35z" color="#238c64"/>
<path d="M5846 3803l-23 45 24 16 24-47z" color="#468b40"/>
<path d="M5658 3901l-22 10 24 12 23-8z" color="#32975c"/>
<path d="M6582 4106l-24 8 30 25 24-9z" color="#1c7475"/>
<path d="M8116 4388l-67 56 90 72 69-64z" color="#3b3070"/>
<path d="M6291 3936l-21 0 24 41 21-9z" color="#268f62"/>
<path d="M6408 4062l-21 12 25 16 21-11z" color="#1a7d73"/>
<path d="M7002 4208l-44 26 68 44 43-29z" color="#265e78"/>
<path d="M5190 3725l-23-2 23 44 23 4z" color="#74a02b"/>
<path d="M5307 3935l-23 3 24 31 23-10z" color="#289768"/>
<path d="M6902 4183l-38 24 56 54 38-27z" color="#25647b"/>
<path d="M5119 3610l-23 15 23 9 24-5z" color="#c2b817"/>
<path d="M6315 3968l-21 9 23 42 22-9z" color="#1d8566"/>
<path d="M4698 3849l-24 27 23 5 24-21z" color="#439b51"/>
<path d="M4250 4047l-55 52 34 18 55-52z" color="#197971"/>
<path d="M6814 4175l-33 19 49 42 34-29z" color="#226778"/>
<path d="M4627 3895l-25 22 23-1 25-17z" color="#2f8851"/>
<path d="M4768 3809l-24 23 23 9 24-25z" color="#57a346"/>
<path d="M7120 4214l-51 35 77 60 50-36z" color="#295c7b"/>
<path d="M5612 3899l-23 5 24 13 23-6z" color="#339358"/>
<path d="M6339 4010l-22 9 24 31 21-3z" color="#19836d"/>
<path d="M7402 4250l-63 34 89 62 63-35z" color="#2b5276"/>
<path d="M5870 3755l-24 48 25 14 23-49z" color="#598e31"/>
<path d="M6738 4166l-30 12 43 30 30-14z" color="#206573"/>
<path d="M6174 3811l-21 0 24 34 21-5z" color="#59a748"/>
<path d="M5166 3678l-23-2 24 47 23 2z" color="#8aa21c"/>
<path d="M4838 3770l-23 20 23 6 23-28z" color="#659c34"/>
<path d="M5049 3646l-23 24 23 1 24-22z" color="#a2a813"/>
<path d="M5776 3930l-23 12 25 21 22-14z" color="#2b9c68"/>
<path d="M3238 4324l-87 63 71 44 87-60z" color="#334073"/>
<path d="M4331 4019l-47 46 30 16 47-45z" color="#19816f"/>
<path d="M4979 3688l-24 20 24 0 23-18z" color="#8da31a"/>
<path d="M7254 4230l-58 43 86 54 57-43z" color="#2a5979"/>
<path d="M4909 3728l-24 22 23-1 24-22z" color="#759a25"/>
<path d="M4551 3935l-29 20 25 14 28-31z" color="#278c5e"/>
<path d="M5518 3889l-23 17 24 8 23-13z" color="#389959"/>
<path d="M5565 3890l-23 11 24 12 23-9z" color="#389959"/>
<path d="M6530 4094l-23 8 28 23 23-11z" color="#1b7874"/>
<path d="M5448 3926l-23 24 24 4 23-24z" color="#298b5b"/>
<path d="M5143 3629l-24 5 24 42 23 2z" color="#a7aa14"/>
<path d="M6671 4151l-26 7 37 30 26-10z" color="#1e6973"/>
<path d="M5894 3705l-24 50 24 13 24-49z" color="#709222"/>
<path d="M5963 3685l-22 2 25 21 22-4z" color="#a0b51b"/>
<path d="M4402 3995l-41 41 28 14 41-38z" color="#1b876d"/>
<path d="M6104 3768l-22-1 25 21 21-2z" color="#6ea534"/>
<path d="M6198 3840l-21 5 24 30 21-1z" color="#4ba350"/>
<path d="M7960 4369l-68 59 90 71 67-55z" color="#3a3673"/>
<path d="M5917 3670l-23 35 24 14 23-32z" color="#9aab18"/>
<path d="M6034 3723l-22 4 24 20 22 1z" color="#88b22a"/>
<path d="M6362 4047l-21 3 25 27 21-3z" color="#197e6f"/>
<path d="M5823 3910l-23 39 24 19 24-42z" color="#288657"/>
<path d="M5729 3922l-22 9 24 18 22-7z" color="#2f9a63"/>
<path d="M5847 3864l-24 46 25 16 24-47z" color="#34854a"/>
<path d="M6481 4085l-22 9 26 22 22-14z" color="#1a7a73"/>
<path d="M5378 3960l-23 15 23 12 24-17z" color="#239066"/>
<path d="M4744 3832l-23 28 23 3 23-22z" color="#4d9c49"/>
<path d="M5331 3959l-23 10 23 16 24-10z" color="#249368"/>
<path d="M7801 4369l-68 52 89 74 70-67z" color="#393774"/>
<path d="M4674 3876l-24 23 23-3 24-15z" color="#388b4b"/>
<path d="M4465 3972l-35 40 25 13 36-35z" color="#1e8b69"/>
<path d="M4815 3790l-24 26 23 7 24-27z" color="#62a33d"/>
<path d="M3396 4313l-87 58 70 46 87-63z" color="#304574"/>
<path d="M6612 4130l-24 9 32 34 25-15z" color="#1d7376"/>
<path d="M6222 3874l-21 1 24 29 21 2z" color="#3f9a54"/>
<path d="M5871 3817l-24 47 25 15 23-49z" color="#44893f"/>
<path d="M4602 3917l-27 21 23 8 27-30z" color="#2e8b56"/>
<path d="M6433 4079l-21 11 25 20 22-16z" color="#1a7c74"/>
<path d="M5096 3625l-23 24 23 3 23-18z" color="#bab315"/>
<path d="M5026 3670l-24 20 23 1 24-20z" color="#98a314"/>
<path d="M5683 3915l-23 8 24 13 23-5z" color="#31945b"/>
<path d="M4885 3750l-24 18 23 9 24-28z" color="#76a22b"/>
<path d="M5800 3949l-22 14 24 22 22-17z" color="#28996a"/>
<path d="M4955 3708l-23 19 23 4 24-23z" color="#89a31d"/>
<path d="M5425 3950l-23 20 24 8 23-24z" color="#268c5f"/>
<path d="M4522 3955l-31 35 24 13 32-34z" color="#238e66"/>
<path d="M5495 3906l-23 24 24 6 23-22z" color="#349458"/>
<path d="M6128 3786l-21 2 24 29 22-6z" color="#6fb03d"/>
<path d="M6387 4074l-21 3 24 27 22-14z" color="#197e73"/>
<path d="M5894 3768l-23 49 24 13 24-47z" color="#5a8e31"/>
<path d="M6246 3906l-21-2 24 39 21-7z" color="#359659"/>
<path d="M6558 4114l-23 11 29 35 24-21z" color="#1d7878"/>
<path d="M5636 3911l-23 6 24 12 23-6z" color="#339056"/>
<path d="M6058 3748l-22-1 25 21 21-1z" color="#7ba72b"/>
<path d="M5988 3704l-22 4 24 18 22 1z" color="#9ab51f"/>
<path d="M3551 4291l-85 63 65 42 87-59z" color="#2e4c76"/>
<path d="M6270 3936l-21 7 23 42 22-8z" color="#288d5f"/>
<path d="M6294 3977l-22 8 24 35 21-1z" color="#1e8866"/>
<path d="M4791 3816l-24 25 23 5 24-23z" color="#59a142"/>
<path d="M5753 3942l-22 7 24 21 23-7z" color="#2c9a65"/>
<path d="M5848 3926l-24 42 25 19 23-45z" color="#258155"/>
<path d="M4721 3860l-24 21 23 0 24-18z" color="#439248"/>
<path d="M5589 3904l-23 9 25 11 22-7z" color="#389656"/>
<path d="M5941 3687l-23 32 25 14 23-25z" color="#9cb01a"/>
<path d="M5542 3901l-23 13 24 11 23-12z" color="#3a9c59"/>
<path d="M6507 4102l-22 14 27 32 23-23z" color="#1b7b77"/>
<path d="M5261 3897l-24-12 24 40 23 13z" color="#31834b"/>
<path d="M5918 3719l-24 49 25 15 24-50z" color="#719322"/>
<path d="M5237 3854l-23-10 23 41 24 12z" color="#428c43"/>
<path d="M5214 3812l-24-8 24 40 23 10z" color="#54943b"/>
<path d="M4861 3768l-23 28 23 8 23-27z" color="#71a834"/>
<path d="M6781 4194l-30 14 49 52 30-24z" color="#236779"/>
<path d="M4650 3899l-25 17 23 8 25-28z" color="#378b4d"/>
<path d="M5872 3879l-24 47 24 16 24-47z" color="#33844a"/>
<path d="M6317 4019l-21 1 24 28 21 2z" color="#1a8269"/>
<path d="M4575 3938l-28 31 23 10 28-33z" color="#2a915f"/>
<path d="M5190 3767l-23-7 23 44 24 8z" color="#67992f"/>
<path d="M8360 4493l-65 52 95 49 63-41z" color="#3c1a5e"/>
<path d="M6153 3811l-22 6 24 26 22 2z" color="#60a943"/>
<path d="M5284 3938l-23-13 24 36 23 8z" color="#278354"/>
<path d="M4284 4065l-55 52 31 16 54-52z" color="#197a71"/>
<path d="M6708 4178l-26 10 42 44 27-24z" color="#216b78"/>
<path d="M8518 4504l-65 49 98 39 66-60z" color="#381858"/>
<path d="M6864 4207l-34 29 57 47 33-22z" color="#26637a"/>
<path d="M5073 3649l-24 22 23 2 24-21z" color="#aaa913"/>
<path d="M4195 4099l-63 60 34 18 63-60z" color="#1b7373"/>
<path d="M6459 4094l-22 16 26 28 22-22z" color="#1b7e77"/>
<path d="M7645 4346l-66 35 88 81 66-41z" color="#344176"/>
<path d="M4361 4036l-47 45 28 13 47-44z" color="#19806e"/>
<path d="M4932 3727l-24 22 23 10 24-28z" color="#89ab23"/>
<path d="M5355 3975l-24 10 24 15 23-13z" color="#238f66"/>
<path d="M5167 3723l-24-7 24 44 23 7z" color="#7e9e21"/>
<path d="M5002 3690l-23 18 23 3 23-20z" color="#96a416"/>
<path d="M5472 3930l-23 24 24 7 23-25z" color="#2e915b"/>
<path d="M6645 4158l-25 15 37 40 25-25z" color="#207079"/>
<path d="M5824 3968l-22 17 24 21 23-19z" color="#24966b"/>
<path d="M5119 3634l-23 18 24 20 23 4z" color="#bbb516"/>
<path d="M4430 4012l-41 38 25 10 41-35z" color="#1a846a"/>
<path d="M3702 4259l-84 78 58 26 83-85z" color="#274e6e"/>
<path d="M5895 3830l-23 49 24 16 24-48z" color="#44893f"/>
<path d="M5402 3970l-24 17 24 11 24-20z" color="#248e64"/>
<path d="M6412 4090l-22 14 25 26 22-20z" color="#1b8178"/>
<path d="M5143 3676l-23-4 23 44 24 7z" color="#94a015"/>
<path d="M5707 3931l-23 5 25 17 22-4z" color="#32985e"/>
<path d="M6588 4139l-24 21 33 37 23-24z" color="#1e7277"/>
<path d="M6082 3767l-21 1 24 26 22-6z" color="#7fb433"/>
<path d="M4093 4140l-73 54 39 21 73-56z" color="#1e6d74"/>
<path d="M6341 4050l-21-2 24 33 22-4z" color="#19806c"/>
<path d="M6958 4234l-38 27 68 41 38-24z" color="#265e77"/>
<path d="M6177 3845l-22-2 24 30 22 2z" color="#519f47"/>
<path d="M4491 3990l-36 35 24 6 36-28z" color="#1e8766"/>
<path d="M6012 3727l-22-1 25 20 21 1z" color="#8ca920"/>
<path d="M4767 3841l-23 22 22 1 24-18z" color="#509a43"/>
<path d="M4838 3796l-24 27 23 3 24-22z" color="#66a339"/>
<path d="M6535 4125l-23 23 30 33 22-21z" color="#1d7677"/>
<path d="M5778 3963l-23 7 24 21 23-6z" color="#299867"/>
<path d="M5919 3783l-24 47 25 17 24-49z" color="#5a9033"/>
<path d="M5308 3969l-23-8 23 27 23-3z" color="#24875c"/>
<path d="M4697 3881l-24 15 22 9 25-24z" color="#42944a"/>
<path d="M4625 3916l-27 30 23 10 27-32z" color="#339458"/>
<path d="M4908 3749l-24 28 24 9 23-27z" color="#80ab2b"/>
<path d="M3976 4177l-81 64 44 19 81-66z" color="#206371"/>
<path d="M5660 3923l-23 6 25 12 22-5z" color="#339055"/>
<path d="M5966 3708l-23 25 25 15 22-22z" color="#99b01c"/>
<path d="M6485 4116l-22 22 27 29 22-19z" color="#1c7978"/>
<path d="M8208 4452l-69 64 89 82 67-53z" color="#3d2266"/>
<path d="M5872 3942l-23 45 24 16 24-45z" color="#237e54"/>
<path d="M4547 3969l-32 34 23 4 32-28z" color="#238b61"/>
<path d="M5519 3914l-23 22 24 7 23-18z" color="#389a59"/>
<path d="M6201 3875l-22-2 24 37 22-6z" color="#48a050"/>
<path d="M6366 4077l-22 4 24 36 22-13z" color="#198072"/>
<path d="M5449 3954l-23 24 24 8 23-25z" color="#29905f"/>
<path d="M7069 4249l-43 29 76 58 44-27z" color="#295a79"/>
<path d="M4979 3708l-24 23 23 8 24-28z" color="#97ac1a"/>
<path d="M5049 3671l-24 20 24 0 23-18z" color="#a2a512"/>
<path d="M5943 3733l-24 50 25 15 24-50z" color="#709323"/>
<path d="M8678 4495l-61 37 101 26 62-44z" color="#34215a"/>
<path d="M3844 4213l-85 65 51 21 85-58z" color="#235e74"/>
<path d="M5613 3917l-22 7 24 11 22-6z" color="#389454"/>
<path d="M5896 3895l-24 47 25 16 24-46z" color="#31844b"/>
<path d="M6437 4110l-22 20 26 24 22-16z" color="#1c7e79"/>
<path d="M6225 3904l-22 6 24 40 22-7z" color="#399857"/>
<path d="M6107 3788l-22 6 25 22 21 1z" color="#73ae38"/>
<path d="M5566 3913l-23 12 25 10 23-11z" color="#3b9957"/>
<path d="M6249 3943l-22 7 24 35 21 0z" color="#2c925e"/>
<path d="M5849 3987l-23 19 24 17 23-20z" color="#229069"/>
<path d="M6620 4173l-23 24 36 35 24-19z" color="#216f7a"/>
<path d="M5731 3949l-22 4 24 20 22-3z" color="#2f9760"/>
<path d="M6036 3747l-21-1 24 26 22-4z" color="#8fb426"/>
<path d="M6564 4160l-22 21 32 34 23-18z" color="#1f727a"/>
<path d="M4814 3823l-24 23 23 0 24-20z" color="#5a9a3b"/>
<path d="M5920 3847l-24 48 25 17 23-48z" color="#438a41"/>
<path d="M5378 3987l-23 13 24 14 23-16z" color="#249268"/>
<path d="M6682 4188l-25 25 42 39 25-20z" color="#226c7b"/>
<path d="M4884 3777l-23 27 23 5 24-23z" color="#75a831"/>
<path d="M6272 3985l-21 0 24 31 21 4z" color="#228961"/>
<path d="M2835 4412l-93 27 70 49 92-30z" color="#32366b"/>
<path d="M6390 4104l-22 13 25 28 22-15z" color="#1b7f78"/>
<path d="M4598 3946l-28 33 22 5 29-28z" color="#2c915d"/>
<path d="M4744 3863l-24 18 23 6 23-23z" color="#4b9544"/>
<path d="M6751 4208l-27 24 49 46 27-18z" color="#24677a"/>
<path d="M5802 3985l-23 6 25 22 22-7z" color="#259569"/>
<path d="M4673 3896l-25 28 23 12 24-31z" color="#409a53"/>
<path d="M7491 4311l-63 35 88 77 63-42z" color="#2f4e78"/>
<path d="M2993 4399l-89 59 70 38 89-56z" color="#34356b"/>
<path d="M7196 4273l-50 36 86 51 50-33z" color="#2a5678"/>
<path d="M5096 3652l-24 21 24 5 24-6z" color="#bdb616"/>
<path d="M6512 4148l-22 19 30 29 22-15z" color="#1e767a"/>
<path d="M5331 3985l-23 3 24 20 23-8z" color="#248e63"/>
<path d="M4955 3731l-24 28 24 8 23-28z" color="#8fae21"/>
<path d="M8049 4444l-67 55 90 75 67-58z" color="#3d2b6d"/>
<path d="M5944 3798l-24 49 24 17 24-49z" color="#588f34"/>
<path d="M5496 3936l-23 25 24 6 23-24z" color="#329359"/>
<path d="M5426 3978l-24 20 24 9 24-21z" color="#269063"/>
<path d="M4389 4050l-47 44 25 8 47-42z" color="#197f6b"/>
<path d="M6296 4020l-21-4 24 37 21-5z" color="#1d8766"/>
<path d="M6830 4236l-30 24 58 39 29-16z" color="#266179"/>
<path d="M6131 3817l-21-1 24 26 21 1z" color="#66a53b"/>
<path d="M5025 3691l-23 20 23 9 24-29z" color="#a3ab13"/>
<path d="M5990 3726l-22 22 24 18 23-20z" color="#99b21d"/>
<path d="M4314 4081l-54 52 27 9 55-48z" color="#197a6f"/>
<path d="M6463 4138l-22 16 27 26 22-13z" color="#1d7a79"/>
<path d="M4455 4025l-41 35 24 3 41-32z" color="#1b8164"/>
<path d="M5897 3958l-24 45 25 17 23-44z" color="#238056"/>
<path d="M5684 3936l-22 5 24 18 23-6z" color="#36995b"/>
<path d="M4229 4117l-63 60 30 12 64-56z" color="#1a7371"/>
<path d="M7339 4284l-57 43 89 57 57-38z" color="#2b5679"/>
<path d="M5968 3748l-24 50 24 17 24-49z" color="#6f9424"/>
<path d="M6061 3768l-22 4 25 21 21 1z" color="#83b02c"/>
<path d="M6320 4048l-21 5 24 37 21-9z" color="#1a856d"/>
<path d="M4515 4003l-36 28 23 2 36-26z" color="#1e805d"/>
<path d="M5921 3912l-24 46 24 18 24-47z" color="#30844d"/>
<path d="M3151 4387l-88 53 70 41 89-50z" color="#333c70"/>
<path d="M4648 3924l-27 32 23 6 27-26z" color="#369658"/>
<path d="M5190 3804l-23-11 24 40 23 11z" color="#619430"/>
<path d="M5214 3844l-23-11 23 40 23 12z" color="#50903b"/>
<path d="M5167 3760l-24-9 24 42 23 11z" color="#749824"/>
<path d="M4861 3804l-24 22 23 3 24-20z" color="#6ba234"/>
<path d="M5755 3970l-22 3 24 23 22-5z" color="#2c9763"/>
<path d="M6415 4130l-22 15 26 22 22-13z" color="#1c7d79"/>
<path d="M4931 3759l-23 27 23 5 24-24z" color="#84aa27"/>
<path d="M4720 3881l-25 24 23 12 25-30z" color="#4a9d4c"/>
<path d="M4790 3846l-24 18 23 3 24-21z" color="#55963c"/>
<path d="M5237 3885l-23-12 24 36 23 16z" color="#3f8742"/>
<path d="M5120 3672l-24 6 24 31 23 7z" color="#acac14"/>
<path d="M5143 3716l-23-7 23 42 24 9z" color="#8b9e18"/>
<path d="M5543 3925l-23 18 25 10 23-18z" color="#3b9c58"/>
<path d="M6155 3843l-21-1 24 35 21-4z" color="#5ea642"/>
<path d="M5873 4003l-23 20 25 15 23-18z" color="#219069"/>
<path d="M5637 3929l-22 6 24 13 23-7z" color="#399554"/>
<path d="M6597 4197l-23 18 37 32 22-15z" color="#226f7b"/>
<path d="M6344 4081l-21 9 24 32 21-5z" color="#198071"/>
<path d="M5473 3961l-23 25 24 9 23-28z" color="#2c915d"/>
<path d="M7892 4428l-70 67 92 54 68-50z" color="#3b3170"/>
<path d="M5826 4006l-22 7 24 20 22-10z" color="#23926a"/>
<path d="M5944 3864l-23 48 24 17 24-49z" color="#428942"/>
<path d="M5002 3711l-24 28 24 8 23-27z" color="#9eb018"/>
<path d="M5591 3924l-23 11 24 12 23-12z" color="#3d9c57"/>
<path d="M5261 3925l-23-16 24 32 23 20z" color="#307c45"/>
<path d="M6542 4181l-22 15 33 31 21-12z" color="#20727a"/>
<path d="M4570 3979l-32 28 22 1 32-24z" color="#25865a"/>
<path d="M6920 4261l-33 22 67 43 34-24z" color="#255d76"/>
<path d="M4132 4159l-73 56 34 20 73-58z" color="#1e6f75"/>
<path d="M6657 4213l-24 19 43 33 23-13z" color="#236b7b"/>
<path d="M3309 4371l-87 60 70 45 87-59z" color="#324173"/>
<path d="M6179 3873l-21 4 24 35 21-2z" color="#4fa24c"/>
<path d="M5072 3673l-23 18 23 7 24-20z" color="#b4b014"/>
<path d="M5355 4000l-23 8 24 14 23-8z" color="#238d63"/>
<path d="M5402 3998l-23 16 24 10 23-17z" color="#248f64"/>
<path d="M6015 3746l-23 20 25 20 22-14z" color="#95b623"/>
<path d="M6490 4167l-22 13 30 26 22-10z" color="#1e7679"/>
<path d="M5968 3815l-24 49 25 16 24-49z" color="#568f35"/>
<path d="M6203 3910l-21 2 24 36 21 2z" color="#3d9752"/>
<path d="M4695 3905l-24 31 22 8 25-27z" color="#409b52"/>
<path d="M6368 4117l-21 5 25 27 21-4z" color="#1a7c73"/>
<path d="M6085 3794l-21-1 24 22 22 1z" color="#77a72e"/>
<path d="M6724 4232l-25 20 50 34 24-8z" color="#236578"/>
<path d="M5285 3961l-23-20 23 28 23 19z" color="#287648"/>
<path d="M5921 3976l-23 44 24 17 24-42z" color="#228059"/>
<path d="M5709 3953l-23 6 24 18 23-4z" color="#359a5d"/>
<path d="M4908 3786l-24 23 23 2 24-20z" color="#78a52c"/>
<path d="M6227 3950l-21-2 24 34 21 3z" color="#319158"/>
<path d="M4621 3956l-29 28 23 2 29-24z" color="#2f8f58"/>
<path d="M5779 3991l-22 5 24 23 23-6z" color="#299767"/>
<path d="M4766 3864l-23 23 23 9 23-29z" color="#569f43"/>
<path d="M4978 3739l-23 28 23 5 24-25z" color="#92ad1e"/>
<path d="M4837 3826l-24 20 23 4 24-21z" color="#649d35"/>
<path d="M3466 4354l-87 63 66 40 86-61z" color="#304674"/>
<path d="M7733 4421l-66 41 90 66 65-33z" color="#383671"/>
<path d="M5992 3766l-24 49 25 16 24-45z" color="#6f9728"/>
<path d="M6441 4154l-22 13 28 25 21-12z" color="#1d7979"/>
<path d="M5450 3986l-24 21 25 11 23-23z" color="#299262"/>
<path d="M5520 3943l-23 24 24 12 24-26z" color="#37995a"/>
<path d="M5945 3929l-24 47 25 19 24-48z" color="#2e834e"/>
<path d="M3618 4337l-87 59 59 38 86-71z" color="#2e4b75"/>
<path d="M6251 3985l-21-3 24 39 21-5z" color="#288f5f"/>
<path d="M7026 4278l-38 24 77 58 37-24z" color="#285a78"/>
<path d="M5049 3691l-24 29 24 4 23-26z" color="#a9ad13"/>
<path d="M6800 4260l-27 18 58 35 27-14z" color="#245d73"/>
<path d="M5898 4020l-23 18 25 14 22-15z" color="#218f6a"/>
<path d="M4020 4194l-81 66 39 17 81-62z" color="#1f6873"/>
<path d="M5969 3880l-24 49 25 18 24-48z" color="#3f8943"/>
<path d="M6275 4016l-21 5 23 38 22-6z" color="#218c66"/>
<path d="M5850 4023l-22 10 25 16 22-11z" color="#229069"/>
<path d="M5662 3941l-23 7 24 17 23-6z" color="#3c9e5a"/>
<path d="M4414 4060l-47 42 24 2 47-41z" color="#187963"/>
<path d="M6110 3816l-22-1 24 32 22-5z" color="#75ae36"/>
<path d="M6393 4145l-21 4 26 27 21-9z" color="#1b7a75"/>
<path d="M6039 3772l-22 14 24 17 23-10z" color="#8db226"/>
<path d="M4342 4094l-55 48 25 7 55-47z" color="#18786a"/>
<path d="M5568 3935l-23 18 24 12 23-18z" color="#3e9f59"/>
<path d="M4671 3936l-27 26 23 5 26-23z" color="#399655"/>
<path d="M4479 4031l-41 32 23 7 41-37z" color="#1d8261"/>
<path d="M6574 4215l-21 12 37 30 21-10z" color="#216c79"/>
<path d="M6299 4053l-22 6 24 34 22-3z" color="#1b866b"/>
<path d="M4743 3887l-25 30 23 7 25-28z" color="#4c9e4a"/>
<path d="M5308 3988l-23-19 24 20 23 19z" color="#237148"/>
<path d="M5615 3935l-23 12 24 14 23-13z" color="#3f9f58"/>
<path d="M4955 3767l-24 24 23 4 24-23z" color="#88a923"/>
<path d="M5497 3967l-23 28 24 11 23-27z" color="#2f955d"/>
<path d="M6520 4196l-22 10 33 30 22-9z" color="#1f7279"/>
<path d="M5993 3831l-24 49 25 19 23-49z" color="#548f37"/>
<path d="M5733 3973l-23 4 24 25 23-6z" color="#329c62"/>
<path d="M4538 4007l-36 26 23 5 35-30z" color="#22835a"/>
<path d="M4884 3809l-24 20 23 5 24-23z" color="#73a32f"/>
<path d="M6633 4232l-22 15 43 29 22-11z" color="#226978"/>
<path d="M5096 3678l-24 20 24 10 24 1z" color="#c1bb16"/>
<path d="M5804 4013l-23 6 25 22 22-8z" color="#259569"/>
<path d="M4813 3846l-24 21 24 11 23-28z" color="#63a43c"/>
<path d="M5379 4014l-23 8 24 18 23-16z" color="#248f64"/>
<path d="M4260 4133l-64 56 27 9 64-56z" color="#19726e"/>
<path d="M8295 4545l-67 53 94 62 68-66z" color="#3d185d"/>
<path d="M5946 3995l-24 42 25 17 23-38z" color="#21835d"/>
<path d="M5025 3720l-23 27 23 3 24-26z" color="#9ca915"/>
<path d="M6323 4090l-22 3 25 30 21-1z" color="#19816e"/>
<path d="M6134 3842l-22 5 24 32 22-2z" color="#66aa3f"/>
<path d="M5426 4007l-23 17 24 13 24-19z" color="#279366"/>
<path d="M3759 4278l-83 85 50 15 84-79z" color="#24546d"/>
<path d="M8453 4553l-63 41 95 53 66-55z" color="#3c195c"/>
<path d="M3895 4241l-85 58 44 23 85-62z" color="#225f72"/>
<path d="M6468 4180l-21 12 30 25 21-11z" color="#1e7678"/>
<path d="M5970 3947l-24 48 24 21 24-49z" color="#2b814f"/>
<path d="M6017 3786l-24 45 24 19 24-47z" color="#6e9829"/>
<path d="M4592 3984l-32 24 23 4 32-26z" color="#298656"/>
<path d="M6887 4283l-29 16 67 51 29-24z" color="#255e76"/>
<path d="M7146 4309l-44 27 87 49 43-25z" color="#285676"/>
<path d="M4718 3917l-25 27 23 4 25-24z" color="#43984e"/>
<path d="M6158 3877l-22 2 25 30 21 3z" color="#56a246"/>
<path d="M6699 4252l-23 13 50 31 23-10z" color="#226374"/>
<path d="M5120 3709l-24-1 24 31 23 12z" color="#a1a513"/>
<path d="M5994 3899l-24 48 24 20 24-49z" color="#3d8845"/>
<path d="M5545 3953l-24 26 25 11 23-25z" color="#389a5a"/>
<path d="M6419 4167l-21 9 27 25 22-9z" color="#1c7977"/>
<path d="M7579 4381l-63 42 89 67 62-28z" color="#334375"/>
<path d="M5474 3995l-23 23 24 11 23-23z" color="#2a9462"/>
<path d="M5143 3751l-23-12 23 40 24 14z" color="#859918"/>
<path d="M5686 3959l-23 6 25 21 22-9z" color="#3aa05d"/>
<path d="M6064 3793l-23 10 25 22 22-10z" color="#8ab52b"/>
<path d="M5167 3793l-24-14 24 40 24 14z" color="#709424"/>
<path d="M4789 3867l-23 29 23 8 24-26z" color="#5aa343"/>
<path d="M4931 3791l-24 20 24 10 23-26z" color="#82aa28"/>
<path d="M6347 4122l-21 1 25 27 21-1z" color="#197e70"/>
<path d="M4166 4177l-73 58 30 10 73-56z" color="#1c6a6f"/>
<path d="M5191 3833l-24-14 24 38 23 16z" color="#5e8f2e"/>
<path d="M5922 4037l-22 15 24 14 23-12z" color="#218f6a"/>
<path d="M5757 3996l-23 6 25 24 22-7z" color="#2d9b66"/>
<path d="M4860 3829l-24 21 24 10 23-26z" color="#71a835"/>
<path d="M4644 3962l-29 24 23 5 29-24z" color="#339156"/>
<path d="M5002 3747l-24 25 23 4 24-26z" color="#93a819"/>
<path d="M6182 3912l-21-3 23 37 22 2z" color="#47994b"/>
<path d="M5875 4038l-22 11 24 13 23-10z" color="#218d68"/>
<path d="M8139 4516l-67 58 91 69 65-45z" color="#3e2066"/>
<path d="M5332 4008l-23-19 24 17 23 16z" color="#206d47"/>
<path d="M5214 3873l-23-16 24 34 23 18z" color="#4e8937"/>
<path d="M6017 3850l-23 49 24 19 24-49z" color="#518f39"/>
<path d="M6206 3948l-22-2 24 42 22-6z" color="#3a9754"/>
<path d="M5592 3947l-23 18 24 15 23-19z" color="#40a35b"/>
<path d="M5970 4016l-23 38 24 18 24-30z" color="#208863"/>
<path d="M5828 4033l-22 8 24 17 23-9z" color="#239067"/>
<path d="M5639 3948l-23 13 25 16 22-12z" color="#41a45b"/>
<path d="M5994 3967l-24 49 25 26 24-49z" color="#288152"/>
<path d="M6230 3982l-22 6 24 38 22-5z" color="#2e935d"/>
<path d="M5072 3698l-23 26 23 2 24-18z" color="#b3b014"/>
<path d="M6773 4278l-24 8 57 48 25-21z" color="#235e73"/>
<path d="M6553 4227l-22 9 37 34 22-13z" color="#206d78"/>
<path d="M5238 3909l-23-18 23 32 24 18z" color="#41823c"/>
<path d="M6041 3803l-24 47 25 19 24-44z" color="#6b992c"/>
<path d="M6254 4021l-22 5 24 35 21-2z" color="#238e64"/>
<path d="M5521 3979l-23 27 24 11 24-27z" color="#31965d"/>
<path d="M5403 4024l-23 16 24 13 23-16z" color="#269468"/>
<path d="M6611 4247l-21 10 43 36 21-17z" color="#216876"/>
<path d="M4766 3896l-25 28 24 5 24-25z" color="#4f9e48"/>
<path d="M6498 4206l-21 11 33 30 21-11z" color="#1f7378"/>
<path d="M4502 4033l-41 37 23 13 41-45z" color="#218b65"/>
<path d="M4438 4063l-47 41 23 13 47-47z" color="#1b8468"/>
<path d="M6088 3815l-22 10 24 24 22-2z" color="#80b532"/>
<path d="M4693 3944l-26 23 23 4 26-23z" color="#3d9550"/>
<path d="M7282 4327l-50 33 89 55 50-31z" color="#2a5477"/>
<path d="M8617 4532l-66 60 103 12 64-46z" color="#35225c"/>
<path d="M6372 4149l-21 1 26 27 21-1z" color="#197970"/>
<path d="M6018 3918l-24 49 25 26 24-49z" color="#388748"/>
<path d="M4907 3811l-24 23 24 14 24-27z" color="#7fb02f"/>
<path d="M4978 3772l-24 23 24 11 23-30z" color="#90ac1f"/>
<path d="M4836 3850l-23 28 23 8 24-26z" color="#68a83c"/>
<path d="M5710 3977l-22 9 24 24 22-8z" color="#36a162"/>
<path d="M5451 4018l-24 19 24 13 24-21z" color="#289566"/>
<path d="M6277 4059l-21 2 24 32 21 0z" color="#1d8768"/>
<path d="M4560 4008l-35 30 23 15 35-41z" color="#289060"/>
<path d="M7428 4346l-57 38 89 66 56-27z" color="#2e4f78"/>
<path d="M4367 4102l-55 47 24 5 55-50z" color="#177867"/>
<path d="M5781 4019l-22 7 24 23 23-8z" color="#299868"/>
<path d="M6988 4302l-34 24 78 53 33-19z" color="#285b79"/>
<path d="M6447 4192l-22 9 30 24 22-8z" color="#1c7576"/>
<path d="M6019 3993l-24 49 24 28 24-48z" color="#237f56"/>
<path d="M5262 3941l-24-18 24 25 23 21z" color="#367b3e"/>
<path d="M6042 3869l-24 49 25 26 24-51z" color="#4d8e3c"/>
<path d="M5049 3724l-24 26 24 4 23-28z" color="#a2a712"/>
<path d="M5995 4042l-24 30 25 19 23-21z" color="#1f8d6a"/>
<path d="M5947 4054l-23 12 25 16 22-10z" color="#21916c"/>
<path d="M5356 4022l-23-16 24 30 23 4z" color="#237d54"/>
<path d="M5569 3965l-23 25 24 16 23-26z" color="#3a9e5b"/>
<path d="M4059 4215l-81 62 33 12 82-54z" color="#1e6771"/>
<path d="M6676 4265l-22 11 50 41 22-21z" color="#226778"/>
<path d="M2904 4458l-92 30 70 49 92-41z" color="#32376b"/>
<path d="M4615 3986l-32 26 23 15 32-36z" color="#31945b"/>
<path d="M6112 3847l-22 2 25 29 21 1z" color="#70ab38"/>
<path d="M4287 4142l-64 56 26 5 63-54z" color="#18726a"/>
<path d="M7982 4499l-68 50 92 61 66-36z" color="#3b2b6c"/>
<path d="M5498 4006l-23 23 24 14 23-26z" color="#2b9562"/>
<path d="M6301 4093l-21 0 25 29 21 1z" color="#1a826a"/>
<path d="M5663 3965l-22 12 24 23 23-14z" color="#3ea55e"/>
<path d="M6043 3944l-24 49 24 29 24-49z" color="#32854c"/>
<path d="M5900 4052l-23 10 25 13 22-9z" color="#218c66"/>
<path d="M6066 3825l-24 44 25 24 23-44z" color="#699c31"/>
<path d="M4741 3924l-25 24 23 5 26-24z" color="#489b4b"/>
<path d="M6858 4299l-27 14 67 56 27-19z" color="#27617a"/>
<path d="M4954 3795l-23 26 23 12 24-27z" color="#89af27"/>
<path d="M5616 3961l-23 19 24 17 24-20z" color="#40a65d"/>
<path d="M4813 3878l-24 26 23 5 24-23z" color="#5ea340"/>
<path d="M4883 3834l-23 26 23 10 24-22z" color="#76ae35"/>
<path d="M3063 4440l-89 56 70 40 89-55z" color="#33396e"/>
<path d="M5734 4002l-22 8 24 26 23-10z" color="#319e65"/>
<path d="M5853 4049l-23 9 25 12 22-8z" color="#218a63"/>
<path d="M6398 4176l-21 1 27 25 21-1z" color="#1a7470"/>
<path d="M6043 4022l-24 48 24 24 24-42z" color="#1f7f5c"/>
<path d="M6136 3879l-21-1 24 35 22-4z" color="#61a53f"/>
<path d="M5096 3708l-24 18 24 11 24 2z" color="#bdb915"/>
<path d="M4667 3967l-29 24 23 9 29-29z" color="#399453"/>
<path d="M5025 3750l-24 26 24 8 24-30z" color="#9cab16"/>
<path d="M6067 3893l-24 51 24 29 24-51z" color="#458c41"/>
<path d="M6531 4236l-21 11 37 39 21-16z" color="#21707a"/>
<path d="M5806 4041l-23 8 24 20 23-11z" color="#259468"/>
<path d="M6590 4257l-22 13 43 41 22-18z" color="#226c7b"/>
<path d="M5546 3990l-24 27 25 14 23-25z" color="#32995e"/>
<path d="M6067 3973l-24 49 24 30 24-49z" color="#2b8351"/>
<path d="M6326 4123l-21-1 24 28 22 0z" color="#187e6c"/>
<path d="M5427 4037l-23 16 24 13 23-16z" color="#269567"/>
<path d="M6161 3909l-22 4 24 41 21-8z" color="#51a048"/>
<path d="M6749 4286l-23 10 57 55 23-17z" color="#24657a"/>
<path d="M5285 3969l-23-21 24 18 23 23z" color="#2f703b"/>
<path d="M3222 4431l-89 50 70 46 89-51z" color="#333f72"/>
<path d="M6184 3946l-21 8 23 37 22-3z" color="#409b53"/>
<path d="M7822 4495l-65 33 91 67 66-46z" color="#392f6c"/>
<path d="M6019 4070l-23 21 25 19 22-16z" color="#1e8f6f"/>
<path d="M4525 4038l-41 45 23 11 41-41z" color="#228f67"/>
<path d="M6477 4217l-22 8 33 37 22-15z" color="#1e7479"/>
<path d="M4461 4070l-47 47 23 13 47-47z" color="#1c8a6c"/>
<path d="M6090 3849l-23 44 24 29 24-44z" color="#609b37"/>
<path d="M5380 4040l-23-4 24 26 23-9z" color="#248b60"/>
<path d="M4196 4189l-73 56 27 7 73-54z" color="#1a696a"/>
<path d="M6208 3988l-22 3 25 35 21 0z" color="#32955a"/>
<path d="M4931 3821l-24 27 23 8 24-23z" color="#7eae2e"/>
<path d="M3379 4417l-87 59 65 42 88-61z" color="#324273"/>
<path d="M5475 4029l-24 21 25 13 23-20z" color="#299666"/>
<path d="M5688 3986l-23 14 24 24 23-14z" color="#39a462"/>
<path d="M4583 4012l-35 41 23 14 35-40z" color="#299262"/>
<path d="M3531 4396l-86 61 58 39 87-62z" color="#304775"/>
<path d="M5120 3739l-24-2 24 31 23 11z" color="#a0a613"/>
<path d="M6067 4052l-24 42 25 21 23-30z" color="#1d8465"/>
<path d="M5971 4072l-22 10 25 17 22-8z" color="#1f8f6c"/>
<path d="M3939 4260l-85 62 39 19 85-64z" color="#216172"/>
<path d="M4789 3904l-24 25 23 4 24-24z" color="#549d43"/>
<path d="M3676 4363l-86 71 51 29 85-85z" color="#2a4a6f"/>
<path d="M4860 3860l-24 26 23 6 24-22z" color="#6ba839"/>
<path d="M6091 3922l-24 51 24 30 24-51z" color="#3c8946"/>
<path d="M7102 4336l-37 24 86 48 38-23z" color="#285776"/>
<path d="M6091 4003l-24 49 24 33 24-49z" color="#248056"/>
<path d="M5001 3776l-23 30 23 6 24-28z" color="#92ab1c"/>
<path d="M5593 3980l-23 26 24 15 23-24z" color="#399f5d"/>
<path d="M5759 4026l-23 10 24 23 23-10z" color="#2c9c68"/>
<path d="M4716 3948l-26 23 23 6 26-24z" color="#42984e"/>
<path d="M6232 4026l-21 0 24 35 21 0z" color="#288f60"/>
<path d="M6654 4276l-21 17 49 42 22-18z" color="#24697b"/>
<path d="M4391 4104l-55 50 23 16 55-53z" color="#1a8570"/>
<path d="M5143 3779l-23-11 24 37 23 14z" color="#869b19"/>
<path d="M5641 3977l-24 20 25 22 23-19z" color="#3da761"/>
<path d="M6115 3878l-24 44 24 30 24-39z" color="#569a3e"/>
<path d="M6425 4201l-21 1 30 34 21-11z" color="#1b7574"/>
<path d="M5167 3819l-23-14 23 35 24 17z" color="#719222"/>
<path d="M5522 4017l-23 26 24 11 24-23z" color="#2c9561"/>
<path d="M5924 4066l-22 9 25 15 22-8z" color="#218d67"/>
<path d="M6351 4150l-22 0 26 26 22 1z" color="#187a6d"/>
<path d="M4638 3991l-32 36 23 12 32-39z" color="#33965b"/>
<path d="M6115 3952l-24 51 24 33 24-51z" color="#34874c"/>
<path d="M5072 3726l-23 28 23 8 24-25z" color="#b2b213"/>
<path d="M6256 4061l-21 0 24 29 21 3z" color="#218a64"/>
<path d="M6115 4036l-24 49 24 30 24-47z" color="#1e7c5a"/>
<path d="M6139 3913l-24 39 24 33 24-31z" color="#4b9a48"/>
<path d="M3810 4299l-84 79 43 17 85-73z" color="#245b72"/>
<path d="M6954 4326l-29 24 78 45 29-16z" color="#275b78"/>
<path d="M5191 3857l-24-17 24 33 24 18z" color="#5f8b2a"/>
<path d="M5877 4062l-22 8 25 14 22-9z" color="#228a63"/>
<path d="M6831 4313l-25 21 67 50 25-15z" color="#27607b"/>
<path d="M5712 4010l-23 14 24 26 23-14z" color="#33a065"/>
<path d="M6091 4085l-23 30 25 20 22-20z" color="#1c8a6e"/>
<path d="M4978 3806l-24 27 23 4 24-25z" color="#86a823"/>
<path d="M4907 3848l-24 22 23 6 24-20z" color="#77ab32"/>
<path d="M5309 3989l-23-23 24 18 23 22z" color="#2c6e3c"/>
<path d="M6043 4094l-22 16 25 17 22-12z" color="#1d8f70"/>
<path d="M5830 4058l-23 11 25 12 23-11z" color="#238e64"/>
<path d="M4312 4149l-63 54 23 12 64-61z" color="#18786c"/>
<path d="M6510 4247l-22 15 37 38 22-14z" color="#21707a"/>
<path d="M6568 4270l-21 16 42 39 22-14z" color="#236b7b"/>
<path d="M6163 3954l-24 31 24 34 23-28z" color="#3f9851"/>
<path d="M5570 4006l-23 25 24 13 23-23z" color="#329a60"/>
<path d="M4765 3929l-26 24 23 2 26-22z" color="#4d9a46"/>
<path d="M6139 3985l-24 51 24 32 24-49z" color="#2b8452"/>
<path d="M4836 3886l-24 23 23 3 24-20z" color="#62a13b"/>
<path d="M5404 4053l-23 9 24 16 23-12z" color="#258f64"/>
<path d="M5451 4050l-23 16 24 13 24-16z" color="#269467"/>
<path d="M6726 4296l-22 21 57 48 22-14z" color="#25667c"/>
<path d="M4690 3971l-29 29 23 13 29-36z" color="#3e9953"/>
<path d="M6139 4068l-24 47 25 26 24-40z" color="#1a7c60"/>
<path d="M4093 4235l-82 54 31 20 81-64z" color="#1d686f"/>
<path d="M5783 4049l-23 10 25 21 22-11z" color="#289869"/>
<path d="M7667 4462l-62 28 92 62 60-24z" color="#333b6f"/>
<path d="M6280 4093l-21-3 25 29 21 3z" color="#1c8465"/>
<path d="M5215 3891l-24-18 24 29 23 21z" color="#52842f"/>
<path d="M5665 4000l-23 19 24 24 23-19z" color="#38a464"/>
<path d="M5996 4091l-22 8 25 20 22-9z" color="#1e8e6d"/>
<path d="M4548 4053l-41 41 23 11 41-38z" color="#239068"/>
<path d="M6186 3991l-23 28 25 33 23-26z" color="#349457"/>
<path d="M5049 3754l-24 30 24 6 23-28z" color="#a3ad14"/>
<path d="M8228 4598l-65 45 92 73 67-56z" color="#3e165d"/>
<path d="M5617 3997l-23 24 24 21 24-23z" color="#38a362"/>
<path d="M4484 4083l-47 47 23 12 47-48z" color="#1d896a"/>
<path d="M6455 4225l-21 11 32 39 22-13z" color="#1e7478"/>
<path d="M6377 4177l-22-1 28 30 21-4z" color="#19796f"/>
<path d="M6633 4293l-22 18 49 40 22-16z" color="#25677b"/>
<path d="M6163 4019l-24 49 25 33 24-49z" color="#238057"/>
<path d="M5499 4043l-23 20 24 10 23-19z" color="#289263"/>
<path d="M4606 4027l-35 40 22 11 36-39z" color="#2a9261"/>
<path d="M8390 4594l-68 66 98 38 65-51z" color="#3b175a"/>
<path d="M5736 4036l-23 14 24 24 23-15z" color="#2d9e69"/>
<path d="M4954 3833l-24 23 24 4 23-23z" color="#7da528"/>
<path d="M4414 4117l-55 53 23 14 55-54z" color="#1a846f"/>
<path d="M6211 4026l-23 26 24 30 23-21z" color="#2b905e"/>
<path d="M7232 4360l-43 25 90 54 42-24z" color="#295576"/>
<path d="M6115 4115l-22 20 25 21 22-15z" color="#1b8c72"/>
<path d="M5949 4082l-22 8 25 17 22-8z" color="#208e68"/>
<path d="M5333 4006l-23-22 24 31 23 21z" color="#2c7543"/>
<path d="M6164 4101l-24 40 25 25 23-34z" color="#197e68"/>
<path d="M6305 4122l-21-3 24 33 21-2z" color="#1a8269"/>
<path d="M4883 3870l-24 22 23 4 24-20z" color="#6da434"/>
<path d="M5238 3923l-23-21 24 25 23 21z" color="#457a32"/>
<path d="M6188 4052l-24 49 24 31 24-50z" color="#1d7a59"/>
<path d="M5547 4031l-24 23 25 12 23-22z" color="#2d9762"/>
<path d="M4223 4198l-73 54 25 14 74-63z" color="#1a706d"/>
<path d="M5025 3784l-24 28 24 2 24-24z" color="#96a918"/>
<path d="M5096 3737l-24 25 24 5 24 1z" color="#b7b614"/>
<path d="M4812 3909l-24 24 23 2 24-23z" color="#599b3d"/>
<path d="M4661 4000l-32 39 23 11 32-37z" color="#33965b"/>
<path d="M4739 3953l-26 24 23 9 26-31z" color="#489849"/>
<path d="M6068 4115l-22 12 25 19 22-11z" color="#1c8d71"/>
<path d="M5689 4024l-23 19 24 27 23-20z" color="#31a066"/>
<path d="M5902 4075l-22 9 24 15 23-9z" color="#238e65"/>
<path d="M6404 4202l-21 4 29 36 22-6z" color="#1b7975"/>
<path d="M5594 4021l-23 23 24 20 23-22z" color="#33a064"/>
<path d="M6235 4061l-23 21 25 28 22-20z" color="#259165"/>
<path d="M7516 4423l-56 27 91 61 54-21z" color="#2f4672"/>
<path d="M5642 4019l-24 23 25 22 23-21z" color="#34a165"/>
<path d="M6547 4286l-22 14 42 38 22-13z" color="#236b7a"/>
<path d="M6806 4334l-23 17 68 45 22-12z" color="#265d78"/>
<path d="M6488 4262l-22 13 37 38 22-13z" color="#20707a"/>
<path d="M5855 4070l-23 11 25 14 23-11z" color="#259166"/>
<path d="M5357 4036l-23-21 24 29 23 18z" color="#267549"/>
<path d="M5807 4069l-22 11 24 15 23-14z" color="#269467"/>
<path d="M6021 4110l-22 9 24 16 23-8z" color="#1d8b6c"/>
<path d="M6704 4317l-22 18 58 41 21-11z" color="#25647b"/>
<path d="M5428 4066l-23 12 24 13 23-12z" color="#269265"/>
<path d="M6329 4150l-21 2 26 31 21-7z" color="#198470"/>
<path d="M4336 4154l-64 61 24 16 63-61z" color="#1a8175"/>
<path d="M7371 4384l-50 31 90 61 49-26z" color="#2b5177"/>
<path d="M6212 4082l-24 50 24 26 25-48z" color="#1a775b"/>
<path d="M6188 4132l-23 34 24 23 23-31z" color="#187e6b"/>
<path d="M7065 4360l-33 19 86 52 33-23z" color="#285775"/>
<path d="M6140 4141l-22 15 24 23 23-13z" color="#1b8a75"/>
<path d="M5760 4059l-23 15 25 21 23-15z" color="#2a9c6b"/>
<path d="M5476 4063l-24 16 25 11 23-17z" color="#279163"/>
<path d="M6925 4350l-27 19 78 39 27-13z" color="#265974"/>
<path d="M4930 3856l-24 20 24 5 24-21z" color="#79a72d"/>
<path d="M3978 4277l-85 64 34 23 84-75z" color="#206473"/>
<path d="M8072 4574l-66 36 92 70 65-37z" color="#3c2366"/>
<path d="M5001 3812l-24 25 24 2 24-25z" color="#8aa31d"/>
<path d="M6611 4311l-22 14 50 38 21-12z" color="#246579"/>
<path d="M4713 3977l-29 36 23 10 29-37z" color="#3f9851"/>
<path d="M4571 4067l-41 38 23 11 40-38z" color="#238f66"/>
<path d="M5120 3768l-24-1 24 24 24 14z" color="#9ea313"/>
<path d="M4507 4094l-47 48 23 10 47-47z" color="#1d8969"/>
<path d="M4859 3892l-24 20 23 6 24-22z" color="#69a437"/>
<path d="M5713 4050l-23 20 24 23 23-19z" color="#2c9e6a"/>
<path d="M6259 4090l-22 20 24 28 23-19z" color="#208d68"/>
<path d="M5262 3948l-23-21 24 19 23 20z" color="#3f7632"/>
<path d="M5974 4099l-22 8 24 19 23-7z" color="#208f6b"/>
<path d="M4788 3933l-26 22 24 7 25-27z" color="#539b42"/>
<path d="M5523 4054l-23 19 24 13 24-20z" color="#2a9664"/>
<path d="M8551 4592l-66 55 105 4 64-47z" color="#311e54"/>
<path d="M6434 4236l-22 6 33 38 21-5z" color="#1d7376"/>
<path d="M4629 4039l-36 39 23 9 36-37z" color="#2b9461"/>
<path d="M6093 4135l-22 11 24 22 23-12z" color="#1b8b72"/>
<path d="M5072 3762l-23 28 23 1 24-24z" color="#a4a812"/>
<path d="M5666 4043l-23 21 24 26 23-20z" color="#2d9d68"/>
<path d="M4437 4130l-55 54 23 13 55-55z" color="#19836e"/>
<path d="M4123 4245l-81 64 28 21 80-78z" color="#1d6c73"/>
<path d="M5381 4062l-23-18 24 27 23 7z" color="#237a50"/>
<path d="M5571 4044l-23 22 24 17 23-19z" color="#2f9f67"/>
<path d="M6355 4176l-21 7 27 31 22-8z" color="#1a8275"/>
<path d="M5618 4042l-23 22 25 21 23-21z" color="#2f9f67"/>
<path d="M6237 4110l-25 48 25 26 24-46z" color="#18765f"/>
<path d="M5144 3805l-24-14 24 31 23 18z" color="#849516"/>
<path d="M5927 4090l-23 9 25 16 23-8z" color="#238f67"/>
<path d="M6212 4158l-23 31 25 22 23-27z" color="#197e6f"/>
<path d="M4684 4013l-32 37 23 12 32-39z" color="#359659"/>
<path d="M6165 4166l-23 13 25 24 22-14z" color="#1a8876"/>
<path d="M6284 4119l-23 19 25 28 22-14z" color="#1c8a6c"/>
<path d="M4977 3837l-23 23 23 8 24-29z" color="#86a823"/>
<path d="M6046 4127l-23 8 25 23 23-12z" color="#1d8e70"/>
<path d="M3590 4434l-87 62 52 35 86-68z" color="#2f4874"/>
<path d="M4906 3876l-24 20 24 8 24-23z" color="#77a930"/>
<path d="M4249 4203l-74 63 25 16 72-67z" color="#1b7976"/>
<path d="M4762 3955l-26 31 23 11 27-35z" color="#4e9e49"/>
<path d="M3726 4378l-85 85 44 21 84-89z" color="#284e6f"/>
<path d="M5880 4084l-23 11 25 14 22-10z" color="#259266"/>
<path d="M5785 4080l-23 15 25 18 22-18z" color="#27996b"/>
<path d="M6525 4300l-22 13 43 38 21-13z" color="#226b7a"/>
<path d="M5167 3840l-23-18 24 30 23 21z" color="#708a1c"/>
<path d="M3854 4322l-85 73 39 16 85-70z" color="#235e73"/>
<path d="M5832 4081l-23 14 25 14 23-14z" color="#269567"/>
<path d="M5049 3790l-24 24 24 8 23-31z" color="#9faa15"/>
<path d="M4835 3912l-24 23 23 9 24-26z" color="#65a53c"/>
<path d="M5737 4074l-23 19 25 22 23-20z" color="#289c6d"/>
<path d="M6682 4335l-22 16 58 37 22-12z" color="#246278"/>
<path d="M7914 4549l-66 46 91 66 67-51z" color="#3c2c6d"/>
<path d="M6783 4351l-22 14 68 42 22-11z" color="#255c76"/>
<path d="M4359 4170l-63 61 22 13 64-60z" color="#197d72"/>
<path d="M2974 4496l-92 41 71 50 91-51z" color="#333b6f"/>
<path d="M6466 4275l-21 5 37 42 21-9z" color="#1f6f78"/>
<path d="M5452 4079l-23 12 25 12 23-13z" color="#269063"/>
<path d="M5690 4070l-23 20 24 23 23-20z" color="#299c6c"/>
<path d="M6383 4206l-22 8 30 34 21-6z" color="#1b7d76"/>
<path d="M6261 4138l-24 46 25 27 24-45z" color="#177461"/>
<path d="M6118 4156l-23 12 25 24 22-13z" color="#1b8a74"/>
<path d="M5999 4119l-23 7 25 21 22-12z" color="#1f8e6c"/>
<path d="M5286 3966l-23-20 24 16 23 22z" color="#3d7432"/>
<path d="M3445 4457l-88 61 59 39 87-61z" color="#324475"/>
<path d="M5500 4073l-23 17 24 12 23-16z" color="#299565"/>
<path d="M6308 4152l-22 14 26 29 22-12z" color="#1a8670"/>
<path d="M5643 4064l-23 21 24 24 23-19z" color="#2b9d6a"/>
<path d="M6589 4325l-22 13 50 37 22-12z" color="#246679"/>
<path d="M3292 4476l-89 51 66 48 88-57z" color="#333e72"/>
<path d="M5405 4078l-23-7 24 25 23-5z" color="#24865b"/>
<path d="M5191 3873l-23-21 23 28 24 22z" color="#638421"/>
<path d="M4954 3860l-24 21 23 14 24-27z" color="#83af2b"/>
<path d="M6237 4184l-23 27 25 21 23-21z" color="#1a7f73"/>
<path d="M4593 4078l-40 38 23 12 40-41z" color="#248f65"/>
<path d="M5548 4066l-24 20 25 14 23-17z" color="#2c9b67"/>
<path d="M5595 4064l-23 19 24 19 24-17z" color="#2d9f6a"/>
<path d="M4736 3986l-29 37 23 9 29-35z" color="#419950"/>
<path d="M3133 4481l-89 55 69 36 90-45z" color="#313d6e"/>
<path d="M4530 4105l-47 47 23 13 47-49z" color="#1e8a69"/>
<path d="M6898 4369l-25 15 79 36 24-12z" color="#255771"/>
<path d="M6189 4189l-22 14 25 22 22-14z" color="#1a8577"/>
<path d="M4652 4050l-36 37 24 13 35-38z" color="#2c9561"/>
<path d="M5025 3814l-24 25 24 11 24-28z" color="#9ab01b"/>
<path d="M6071 4146l-23 12 25 23 22-13z" color="#1c8d72"/>
<path d="M4882 3896l-24 22 24 13 24-27z" color="#72ab36"/>
<path d="M7189 4385l-38 23 90 56 38-25z" color="#295676"/>
<path d="M5952 4107l-23 8 25 22 22-11z" color="#22936b"/>
<path d="M4460 4142l-55 55 23 11 55-56z" color="#19836d"/>
<path d="M4811 3935l-25 27 23 11 25-29z" color="#5da441"/>
<path d="M5096 3767l-24 24 24 10 24-10z" color="#b8b814"/>
<path d="M7032 4379l-29 16 85 60 30-24z" color="#285a78"/>
<path d="M4011 4289l-84 75 30 20 85-75z" color="#226977"/>
<path d="M6286 4166l-24 45 26 25 24-41z" color="#167264"/>
<path d="M6412 4242l-21 6 33 38 21-6z" color="#1c7776"/>
<path d="M6334 4183l-22 12 27 29 22-10z" color="#1a8474"/>
<path d="M5714 4093l-23 20 25 23 23-21z" color="#25996e"/>
<path d="M5762 4095l-23 20 24 18 24-20z" color="#25996d"/>
<path d="M6142 4179l-22 13 25 24 22-13z" color="#1a8776"/>
<path d="M5310 3984l-23-22 24 31 23 22z" color="#3c7a39"/>
<path d="M5904 4099l-22 10 25 19 22-13z" color="#259569"/>
<path d="M4150 4252l-80 78 25 12 80-76z" color="#1d6e73"/>
<path d="M7757 4528l-60 24 90 70 61-27z" color="#373770"/>
<path d="M5215 3902l-24-22 24 24 24 23z" color="#587e24"/>
<path d="M5667 4090l-23 19 24 21 23-17z" color="#279b6d"/>
<path d="M5809 4095l-22 18 24 14 23-18z" color="#269569"/>
<path d="M4707 4023l-32 39 23 8 32-38z" color="#369557"/>
<path d="M6023 4135l-22 12 25 23 22-12z" color="#1e9171"/>
<path d="M4272 4215l-72 67 23 14 73-65z" color="#1b7875"/>
<path d="M4930 3881l-24 23 23 16 24-25z" color="#80b332"/>
<path d="M5857 4095l-23 14 25 14 23-14z" color="#269568"/>
<path d="M5001 3839l-24 29 24 11 24-29z" color="#8dad22"/>
<path d="M6262 4211l-23 21 27 24 22-20z" color="#1a7e75"/>
<path d="M6503 4313l-21 9 42 40 22-11z" color="#226b79"/>
<path d="M6660 4351l-21 12 58 36 21-11z" color="#246176"/>
<path d="M4786 3962l-27 35 23 10 27-34z" color="#509e47"/>
<path d="M4382 4184l-64 60 23 13 64-60z" color="#197c70"/>
<path d="M4858 3918l-24 26 24 16 24-29z" color="#6aaa3d"/>
<path d="M5620 4085l-24 17 25 22 23-15z" color="#299c6b"/>
<path d="M6761 4365l-21 11 68 41 21-10z" color="#245b73"/>
<path d="M5477 4090l-23 13 24 14 23-15z" color="#289465"/>
<path d="M6095 4168l-22 13 25 25 22-14z" color="#1b8b74"/>
<path d="M6214 4211l-22 14 25 21 22-14z" color="#1b8378"/>
<path d="M5334 4015l-23-22 24 30 23 21z" color="#34783e"/>
<path d="M5429 4091l-23 5 24 19 24-12z" color="#268e61"/>
<path d="M5072 3791l-23 31 23 7 24-28z" color="#a6ae14"/>
<path d="M5524 4086l-23 16 25 14 23-16z" color="#2a9866"/>
<path d="M5572 4083l-23 17 24 17 23-15z" color="#2b9d6a"/>
<path d="M5976 4126l-22 11 24 24 23-14z" color="#21946f"/>
<path d="M6567 4338l-21 13 49 35 22-11z" color="#236577"/>
<path d="M6312 4195l-24 41 28 23 23-35z" color="#18756a"/>
<path d="M6361 4214l-22 10 30 27 22-3z" color="#1a7f75"/>
<path d="M6445 4280l-21 6 36 38 22-2z" color="#1d6f74"/>
<path d="M5120 3791l-24 10 24 9 24 12z" color="#a9ac13"/>
<path d="M4977 3868l-24 27 24 12 24-28z" color="#83ae2a"/>
<path d="M4616 4087l-40 41 23 12 41-40z" color="#269165"/>
<path d="M6167 4203l-22 13 25 21 22-12z" color="#1a8577"/>
<path d="M4553 4116l-47 49 22 11 48-48z" color="#1f8b69"/>
<path d="M8322 4660l-67 56 98 36 67-54z" color="#381151"/>
<path d="M7321 4415l-42 24 89 65 43-28z" color="#2a5477"/>
<path d="M4759 3997l-29 35 24 11 28-36z" color="#449c50"/>
<path d="M5739 4115l-23 21 24 18 23-21z" color="#23966e"/>
<path d="M4906 3904l-24 27 23 15 24-26z" color="#76b037"/>
<path d="M6048 4158l-22 12 24 25 23-14z" color="#1c8e73"/>
<path d="M5691 4113l-23 17 25 22 23-16z" color="#24986f"/>
<path d="M4675 4062l-35 38 23 11 35-41z" color="#2d925e"/>
<path d="M6873 4384l-22 12 78 41 23-17z" color="#245971"/>
<path d="M5239 3927l-24-23 24 18 24 24z" color="#517926"/>
<path d="M5929 4115l-22 13 24 25 23-16z" color="#24976e"/>
<path d="M4834 3944l-25 29 23 16 26-29z" color="#60a943"/>
<path d="M7605 4490l-54 21 90 73 56-32z" color="#314373"/>
<path d="M4483 4152l-55 56 23 13 55-56z" color="#1a846d"/>
<path d="M5358 4044l-23-21 24 26 23 22z" color="#2d7441"/>
<path d="M5049 3822l-24 28 23 6 24-27z" color="#9aad19"/>
<path d="M5787 4113l-24 20 25 15 23-21z" color="#24946a"/>
<path d="M3893 4341l-85 70 34 22 85-69z" color="#246378"/>
<path d="M5644 4109l-23 15 24 21 23-15z" color="#26996d"/>
<path d="M6120 4192l-22 14 24 23 23-13z" color="#1a8876"/>
<path d="M6288 4236l-22 20 28 22 22-19z" color="#1b7c76"/>
<path d="M7460 4450l-49 26 90 69 50-34z" color="#2e4c77"/>
<path d="M5882 4109l-23 14 25 19 23-14z" color="#27996b"/>
<path d="M8163 4643l-65 37 93 65 64-29z" color="#3c1a5e"/>
<path d="M5834 4109l-23 18 25 14 23-18z" color="#269669"/>
<path d="M4296 4231l-73 65 22 13 73-65z" color="#1b7774"/>
<path d="M6239 4232l-22 14 26 22 23-12z" color="#1b8077"/>
<path d="M6001 4147l-23 14 25 23 23-14z" color="#1e9271"/>
<path d="M4953 3895l-24 25 24 12 24-25z" color="#7caf31"/>
<path d="M4042 4309l-85 75 28 13 85-67z" color="#216775"/>
<path d="M7003 4395l-27 13 86 64 26-17z" color="#285b79"/>
<path d="M4175 4266l-80 76 24 11 81-71z" color="#1d6f74"/>
<path d="M5144 3822l-24-12 24 23 24 19z" color="#8e9712"/>
<path d="M4882 3931l-24 29 23 14 24-28z" color="#69aa3d"/>
<path d="M5596 4102l-23 15 25 18 23-11z" color="#299b6a"/>
<path d="M4730 4032l-32 38 24 10 32-37z" color="#3a9856"/>
<path d="M6391 4248l-22 3 34 32 21 3z" color="#1a7470"/>
<path d="M4809 3973l-27 34 24 13 26-31z" color="#53a349"/>
<path d="M5454 4103l-24 12 24 19 24-17z" color="#289768"/>
<path d="M5501 4102l-23 15 24 17 24-18z" color="#299a68"/>
<path d="M4405 4197l-64 60 23 10 64-59z" color="#197d6f"/>
<path d="M6339 4224l-23 35 30 25 23-33z" color="#18756d"/>
<path d="M6639 4363l-22 12 59 34 21-10z" color="#236074"/>
<path d="M3641 4463l-86 68 44 31 86-78z" color="#2f4975"/>
<path d="M3769 4395l-84 89 38 19 85-92z" color="#275170"/>
<path d="M5025 3850l-24 29 24 5 23-28z" color="#8ea91e"/>
<path d="M5549 4100l-23 16 24 17 23-16z" color="#2a9b69"/>
<path d="M7151 4408l-33 23 89 61 34-28z" color="#2a597a"/>
<path d="M6073 4181l-23 14 25 23 23-12z" color="#1b8b74"/>
<path d="M6192 4225l-22 12 25 22 22-13z" color="#1a8377"/>
<path d="M5382 4071l-23-22 24 28 23 19z" color="#287345"/>
<path d="M5954 4137l-23 16 25 23 22-15z" color="#219570"/>
<path d="M6740 4376l-22 12 69 37 21-8z" color="#235c72"/>
<path d="M6482 4322l-22 2 43 43 21-5z" color="#206975"/>
<path d="M5716 4136l-23 16 24 20 23-18z" color="#219570"/>
<path d="M6546 4351l-22 11 50 36 21-12z" color="#236677"/>
<path d="M5763 4133l-23 21 25 16 23-22z" color="#21936d"/>
<path d="M5096 3801l-24 28 24 5 24-24z" color="#abae13"/>
<path d="M5263 3946l-24-24 25 17 23 23z" color="#4e7625"/>
<path d="M6145 4216l-23 13 25 21 23-13z" color="#1a8576"/>
<path d="M4640 4100l-41 40 23 11 41-40z" color="#269164"/>
<path d="M5668 4130l-23 15 25 19 23-12z" color="#23966e"/>
<path d="M4929 3920l-24 26 24 11 24-25z" color="#74ad36"/>
<path d="M5907 4128l-23 14 24 27 23-16z" color="#23976e"/>
<path d="M4576 4128l-48 48 23 11 48-47z" color="#1f8c68"/>
<path d="M4858 3960l-26 29 24 12 25-27z" color="#5ea844"/>
<path d="M6026 4170l-23 14 25 23 22-12z" color="#1c8e72"/>
<path d="M5168 3852l-24-19 24 26 23 21z" color="#7c8b15"/>
<path d="M4782 4007l-28 36 23 11 29-34z" color="#479d4f"/>
<path d="M3503 4496l-87 61 52 43 87-69z" color="#334476"/>
<path d="M5001 3879l-24 28 24 3 24-26z" color="#81a524"/>
<path d="M5811 4127l-23 21 25 16 23-23z" color="#24946a"/>
<path d="M6851 4396l-22 11 78 47 22-17z" color="#255b74"/>
<path d="M6316 4259l-22 19 30 25 22-19z" color="#1c7a77"/>
<path d="M8485 4647l-65 51 105 0 65-47z" color="#2f1e51"/>
<path d="M6266 4256l-23 12 28 22 23-12z" color="#1b7d77"/>
<path d="M4698 4070l-35 41 23 9 36-40z" color="#2f935b"/>
<path d="M4506 4165l-55 56 22 6 55-51z" color="#1a836b"/>
<path d="M5859 4123l-23 18 25 19 23-18z" color="#26996d"/>
<path d="M5621 4124l-23 11 24 21 23-11z" color="#26976b"/>
<path d="M6098 4206l-23 12 25 23 22-12z" color="#1a8875"/>
<path d="M6424 4286l-21-3 36 42 21-1z" color="#1b6f70"/>
<path d="M8006 4610l-67 51 94 61 65-42z" color="#3c2769"/>
<path d="M5406 4096l-23-19 24 24 23 14z" color="#25764a"/>
<path d="M5978 4161l-22 15 25 22 22-14z" color="#1e9272"/>
<path d="M5072 3829l-24 27 24 7 24-29z" color="#a0ad15"/>
<path d="M6217 4246l-22 13 26 22 22-13z" color="#1b8178"/>
<path d="M4318 4244l-73 65 23 12 73-64z" color="#1a7672"/>
<path d="M5478 4117l-24 17 25 17 23-17z" color="#28996a"/>
<path d="M6369 4251l-23 33 34 28 23-29z" color="#19736d"/>
<path d="M5573 4117l-23 16 24 16 24-14z" color="#299a6a"/>
<path d="M5526 4116l-24 18 25 16 23-17z" color="#299a6a"/>
<path d="M4905 3946l-24 28 24 11 24-28z" color="#69a93c"/>
<path d="M5287 3962l-23-23 24 32 23 22z" color="#50802d"/>
<path d="M4832 3989l-26 31 23 13 27-32z" color="#53a449"/>
<path d="M4200 4282l-81 71 23 10 81-67z" color="#1d7074"/>
<path d="M3357 4518l-88 57 59 43 88-61z" color="#333f73"/>
<path d="M5191 3880l-23-21 24 23 23 22z" color="#6e8318"/>
<path d="M5931 4153l-23 16 25 23 23-16z" color="#209571"/>
<path d="M4977 3907l-24 25 24 6 24-28z" color="#79a62b"/>
<path d="M4754 4043l-32 37 23 11 32-37z" color="#3d9b56"/>
<path d="M6050 4195l-22 12 25 25 22-14z" color="#1b8c74"/>
<path d="M5740 4154l-23 18 25 15 23-17z" color="#20916e"/>
<path d="M6170 4237l-23 13 26 22 22-13z" color="#1a8377"/>
<path d="M3927 4364l-85 69 30 15 85-64z" color="#236075"/>
<path d="M6617 4375l-22 11 59 35 22-12z" color="#236275"/>
<path d="M4428 4208l-64 59 23 8 64-54z" color="#197d6f"/>
<path d="M4070 4330l-85 67 25 10 85-65z" color="#1f6471"/>
<path d="M6976 4408l-24 12 85 66 25-14z" color="#285c79"/>
<path d="M5693 4152l-23 12 24 20 23-12z" color="#21936e"/>
<path d="M5788 4148l-23 22 25 13 23-19z" color="#21926d"/>
<path d="M6718 4388l-21 11 68 38 22-12z" color="#235e72"/>
<path d="M5048 3856l-23 28 23 8 24-29z" color="#97ad1b"/>
<path d="M5120 3810l-24 24 24 13 24-14z" color="#b7b914"/>
<path d="M5311 3993l-23-22 24 31 23 21z" color="#467e33"/>
<path d="M5884 4142l-23 18 24 24 23-15z" color="#23976e"/>
<path d="M7279 4439l-38 25 90 65 37-25z" color="#2b5679"/>
<path d="M6122 4229l-22 12 25 23 22-14z" color="#1a8676"/>
<path d="M7118 4431l-30 24 90 61 29-24z" color="#2b587a"/>
<path d="M7848 4595l-61 27 92 70 60-31z" color="#392e6c"/>
<path d="M5430 4115l-23-14 24 23 23 10z" color="#247b50"/>
<path d="M6003 4184l-22 14 24 24 23-15z" color="#1d8f73"/>
<path d="M5836 4141l-23 23 25 15 23-19z" color="#24956c"/>
<path d="M6524 4362l-21 5 49 42 22-11z" color="#226676"/>
<path d="M5645 4145l-23 11 25 19 23-11z" color="#23946b"/>
<path d="M3044 4536l-91 51 70 49 90-64z" color="#333d71"/>
<path d="M4881 3974l-25 27 24 13 25-29z" color="#5fa743"/>
<path d="M6346 4284l-22 19 33 27 23-18z" color="#1c7777"/>
<path d="M6294 4278l-23 12 31 24 22-11z" color="#1c7a77"/>
<path d="M4806 4020l-29 34 23 12 29-33z" color="#49a050"/>
<path d="M4663 4111l-41 40 23 10 41-41z" color="#289162"/>
<path d="M3203 4527l-90 45 65 45 91-42z" color="#324072"/>
<path d="M4599 4140l-48 47 24 8 47-44z" color="#208b66"/>
<path d="M4953 3932l-24 25 24 7 24-26z" color="#73a832"/>
<path d="M6829 4407l-21 10 77 52 22-15z" color="#265e77"/>
<path d="M6460 4324l-21 1 43 42 21 0z" color="#1d6a71"/>
<path d="M6243 4268l-22 13 28 22 22-13z" color="#1b7e78"/>
<path d="M5956 4176l-23 16 25 24 23-18z" color="#1e9373"/>
<path d="M6075 4218l-22 14 24 24 23-15z" color="#1a8975"/>
<path d="M5598 4135l-24 14 25 20 23-13z" color="#27996b"/>
<path d="M5215 3904l-23-22 24 18 23 22z" color="#647c19"/>
<path d="M4722 4080l-36 40 23 9 36-38z" color="#32955b"/>
<path d="M5502 4134l-23 17 24 18 24-19z" color="#27996b"/>
<path d="M5025 3884l-24 26 23 9 24-27z" color="#8ead21"/>
<path d="M5335 4023l-23-21 24 28 23 19z" color="#3f7c38"/>
<path d="M6403 4283l-23 29 37 31 22-18z" color="#1c7574"/>
<path d="M4528 4176l-55 51 23 8 55-48z" color="#1a8369"/>
<path d="M5550 4133l-23 17 24 16 23-17z" color="#28996a"/>
<path d="M6195 4259l-22 13 26 21 22-12z" color="#1a8077"/>
<path d="M3808 4411l-85 92 34 15 85-85z" color="#265471"/>
<path d="M4341 4257l-73 64 23 11 73-65z" color="#1a7570"/>
<path d="M5096 3834l-24 29 24 13 24-29z" color="#a8b315"/>
<path d="M5908 4169l-23 15 25 24 23-16z" color="#209471"/>
<path d="M3685 4484l-86 78 39 29 85-88z" color="#2e4873"/>
<path d="M4856 4001l-27 32 24 11 27-30z" color="#55a448"/>
<path d="M5717 4172l-23 12 25 17 23-14z" color="#1f8f6c"/>
<path d="M5765 4170l-23 17 25 13 23-17z" color="#1f8f6c"/>
<path d="M6028 4207l-23 15 25 24 23-14z" color="#1b8c74"/>
<path d="M7411 4476l-43 28 90 71 43-30z" color="#2f4e79"/>
<path d="M4929 3957l-24 28 23 8 25-29z" color="#69a538"/>
<path d="M6147 4250l-22 14 25 20 23-12z" color="#1a8376"/>
<path d="M4777 4054l-32 37 23 11 32-36z" color="#3e9c55"/>
<path d="M4223 4296l-81 67 22 7 81-61z" color="#1c6f73"/>
<path d="M7697 4552l-56 32 90 75 56-37z" color="#373c74"/>
<path d="M5144 3833l-24 14 24 10 24 2z" color="#acaf13"/>
<path d="M5454 4134l-23-10 25 24 23 3z" color="#238157"/>
<path d="M5861 4160l-23 19 25 22 22-17z" color="#229770"/>
<path d="M6595 4386l-21 12 59 33 21-10z" color="#226375"/>
<path d="M5813 4164l-23 19 25 13 23-17z" color="#21926c"/>
<path d="M5670 4164l-23 11 24 19 23-10z" color="#21926b"/>
<path d="M5359 4049l-23-19 24 27 23 20z" color="#387b3d"/>
<path d="M5001 3910l-24 28 23 7 24-26z" color="#83aa28"/>
<path d="M4451 4221l-64 54 22 9 64-57z" color="#187c6c"/>
<path d="M6952 4420l-23 17 86 63 22-14z" color="#285d7a"/>
<path d="M4095 4342l-85 65 24 18 85-72z" color="#1f6571"/>
<path d="M6697 4399l-21 10 68 40 21-12z" color="#235f73"/>
<path d="M5981 4198l-23 18 24 23 23-17z" color="#1d9074"/>
<path d="M5072 3863l-24 29 24 13 24-29z" color="#9cb21b"/>
<path d="M6100 4241l-23 15 25 20 23-12z" color="#1a8676"/>
<path d="M7551 4511l-50 34 91 66 49-27z" color="#314877"/>
<path d="M6324 4303l-22 11 33 28 22-12z" color="#1c7877"/>
<path d="M5622 4156l-23 13 24 19 24-13z" color="#24966b"/>
<path d="M3957 4384l-85 64 27 12 86-63z" color="#215d70"/>
<path d="M6271 4290l-22 13 30 25 23-14z" color="#1c7c78"/>
<path d="M3555 4531l-87 69 44 34 87-72z" color="#334275"/>
<path d="M6380 4312l-23 18 38 31 22-18z" color="#1e7578"/>
<path d="M4829 4033l-29 33 24 12 29-34z" color="#4aa04e"/>
<path d="M4905 3985l-25 29 23 10 25-31z" color="#5fa33f"/>
<path d="M5933 4192l-23 16 25 26 23-18z" color="#1e9173"/>
<path d="M5239 3922l-23-22 24 19 24 20z" color="#667f1a"/>
<path d="M7088 4455l-26 17 89 62 27-18z" color="#2b5779"/>
<path d="M6808 4417l-21 8 77 58 21-14z" color="#265f77"/>
<path d="M5527 4150l-24 19 25 16 23-19z" color="#26986b"/>
<path d="M4686 4120l-41 41 23 9 41-41z" color="#299161"/>
<path d="M6221 4281l-22 12 28 22 22-12z" color="#1b7e77"/>
<path d="M5574 4149l-23 17 25 18 23-15z" color="#279a6c"/>
<path d="M4622 4151l-47 44 23 8 47-42z" color="#228d65"/>
<path d="M6053 4232l-23 14 25 22 22-12z" color="#1a8975"/>
<path d="M6503 4367l-21 0 49 44 21-2z" color="#1e626e"/>
<path d="M4977 3938l-24 26 23 7 24-26z" color="#79a82e"/>
<path d="M6439 4325l-22 18 43 37 22-13z" color="#1e7377"/>
<path d="M5383 4077l-23-20 24 24 23 20z" color="#32763f"/>
<path d="M5885 4184l-22 17 24 24 23-17z" color="#1f9471"/>
<path d="M5048 3892l-24 27 24 14 24-28z" color="#94b322"/>
<path d="M4745 4091l-36 38 24 11 35-38z" color="#35995c"/>
<path d="M6173 4272l-23 12 27 21 22-12z" color="#1a8176"/>
<path d="M5479 4151l-23-3 24 24 23-3z" color="#24895f"/>
<path d="M8255 4716l-64 29 98 42 64-35z" color="#361451"/>
<path d="M5168 3859l-24-2 24 14 24 11z" color="#989e12"/>
<path d="M4551 4187l-55 48 23 8 56-48z" color="#1b8568"/>
<path d="M5742 4187l-23 14 25 13 23-14z" color="#1f8e6b"/>
<path d="M6005 4222l-23 17 25 22 23-15z" color="#1b8d75"/>
<path d="M5120 3847l-24 29 24 8 24-27z" color="#aab214"/>
<path d="M7241 4464l-34 28 91 57 33-20z" color="#2b567a"/>
<path d="M5790 4183l-23 17 25 14 23-18z" color="#1f8f6c"/>
<path d="M5838 4179l-23 17 25 20 23-15z" color="#219570"/>
<path d="M4880 4014l-27 30 23 10 27-30z" color="#56a346"/>
<path d="M4364 4267l-73 65 22 7 74-64z" color="#19756e"/>
<path d="M5694 4184l-23 10 25 17 23-10z" color="#208f6b"/>
<path d="M6125 4264l-23 12 26 21 22-13z" color="#1a8376"/>
<path d="M5264 3939l-24-20 24 32 24 20z" color="#688921"/>
<path d="M4800 4066l-32 36 24 10 32-34z" color="#409c54"/>
<path d="M5958 4216l-23 18 25 23 22-18z" color="#1c8f75"/>
<path d="M4245 4309l-81 61 22 11 82-60z" color="#1c7073"/>
<path d="M6929 4437l-22 17 86 61 22-15z" color="#285d7a"/>
<path d="M5647 4175l-24 13 25 19 23-13z" color="#23966d"/>
<path d="M4953 3964l-25 29 24 5 24-27z" color="#6ea434"/>
<path d="M6574 4398l-22 11 59 30 22-8z" color="#216070"/>
<path d="M3416 4557l-88 61 51 43 89-61z" color="#364076"/>
<path d="M5024 3919l-24 26 24 13 24-25z" color="#8bb328"/>
<path d="M4119 4353l-85 72 23 15 85-77z" color="#1f6772"/>
<path d="M6676 4409l-22 12 68 44 22-16z" color="#236276"/>
<path d="M6077 4256l-22 12 25 21 22-13z" color="#1a8675"/>
<path d="M5910 4208l-23 17 25 24 23-15z" color="#1d9073"/>
<path d="M5407 4101l-23-20 24 24 23 19z" color="#2e7541"/>
<path d="M6302 4314l-23 14 34 28 22-14z" color="#1d7b7a"/>
<path d="M3842 4433l-85 85 29 11 86-81z" color="#24556f"/>
<path d="M5096 3876l-24 29 24 6 24-27z" color="#9cae18"/>
<path d="M4473 4227l-64 57 23 9 64-58z" color="#187f6c"/>
<path d="M5599 4169l-23 15 24 19 23-15z" color="#25996d"/>
<path d="M6357 4330l-22 12 38 30 22-11z" color="#1d7678"/>
<path d="M8098 4680l-65 42 93 65 65-42z" color="#3d1f63"/>
<path d="M5288 3971l-24-20 24 30 24 21z" color="#5b8528"/>
<path d="M6249 4303l-22 12 30 27 22-14z" color="#1c7d78"/>
<path d="M5551 4166l-23 19 24 16 24-17z" color="#26986c"/>
<path d="M4853 4044l-29 34 23 8 29-32z" color="#4b9f4c"/>
<path d="M5503 4169l-23 3 24 22 24-9z" color="#228b63"/>
<path d="M6030 4246l-23 15 25 22 23-15z" color="#1b8a76"/>
<path d="M3723 4503l-85 88 34 22 85-95z" color="#2c4770"/>
<path d="M6199 4293l-22 12 28 23 22-13z" color="#1b7f77"/>
<path d="M6787 4425l-22 12 78 58 21-12z" color="#266179"/>
<path d="M6417 4343l-22 18 43 33 22-14z" color="#1f7379"/>
<path d="M5863 4201l-23 15 24 25 23-16z" color="#1f9372"/>
<path d="M3985 4397l-86 63 26 22 85-75z" color="#236376"/>
<path d="M4709 4129l-41 41 24 10 41-40z" color="#2b9360"/>
<path d="M4928 3993l-25 31 24 5 25-31z" color="#619f3a"/>
<path d="M5192 3882l-24-11 24 15 24 14z" color="#8d9411"/>
<path d="M4645 4161l-47 42 23 10 47-43z" color="#248f65"/>
<path d="M7062 4472l-25 14 90 63 24-15z" color="#2a5678"/>
<path d="M5982 4239l-22 18 24 21 23-17z" color="#1b8c76"/>
<path d="M5000 3945l-24 26 24 16 24-29z" color="#81b02e"/>
<path d="M6150 4284l-22 13 26 21 23-13z" color="#1a8176"/>
<path d="M8420 4698l-67 54 107-8 65-46z" color="#2d1e4f"/>
<path d="M4768 4102l-35 38 23 11 36-39z" color="#36985a"/>
<path d="M5072 3905l-24 28 24 7 24-29z" color="#90ab1e"/>
<path d="M5312 4002l-24-21 24 29 24 20z" color="#53832d"/>
<path d="M5815 4196l-23 18 25 17 23-15z" color="#20936f"/>
<path d="M5767 4200l-23 14 25 13 23-13z" color="#1f8d6a"/>
<path d="M5719 4201l-23 10 25 17 23-14z" color="#1f8e6b"/>
<path d="M6482 4367l-22 13 49 41 22-10z" color="#1f6d76"/>
<path d="M5144 3857l-24 27 24 15 24-28z" color="#b0b614"/>
<path d="M5935 4234l-23 15 25 22 23-14z" color="#1c8e75"/>
<path d="M7368 4504l-37 25 91 61 36-15z" color="#2d4d76"/>
<path d="M5431 4124l-23-19 25 23 23 20z" color="#2a7243"/>
<path d="M5671 4194l-23 13 25 17 23-13z" color="#21936d"/>
<path d="M7939 4661l-60 31 92 68 62-38z" color="#3b2969"/>
<path d="M4575 4195l-56 48 23 8 56-48z" color="#1d8667"/>
<path d="M6102 4276l-22 13 25 20 23-12z" color="#1a8476"/>
<path d="M3269 4575l-91 42 59 48 91-47z" color="#344074"/>
<path d="M4903 4024l-27 30 24 8 27-33z" color="#58a042"/>
<path d="M4387 4275l-74 64 23 9 73-64z" color="#19776e"/>
<path d="M5623 4188l-23 15 25 19 23-15z" color="#24976e"/>
<path d="M4268 4321l-82 60 23 15 82-64z" color="#1b6f70"/>
<path d="M6907 4454l-22 15 86 59 22-13z" color="#285c79"/>
<path d="M4824 4078l-32 34 23 10 32-36z" color="#429c52"/>
<path d="M3599 4562l-87 72 39 24 87-67z" color="#334174"/>
<path d="M5887 4225l-23 16 25 25 23-17z" color="#1d9073"/>
<path d="M5576 4184l-24 17 25 18 23-16z" color="#25996e"/>
<path d="M4976 3971l-24 27 24 15 24-26z" color="#77b036"/>
<path d="M7207 4492l-29 24 91 53 29-20z" color="#2b5378"/>
<path d="M6055 4268l-23 15 25 19 23-13z" color="#1a8776"/>
<path d="M5048 3933l-24 25 24 11 24-29z" color="#88ad26"/>
<path d="M6654 4421l-21 10 67 48 22-14z" color="#236376"/>
<path d="M5336 4030l-24-20 25 27 23 20z" color="#4a7f32"/>
<path d="M6279 4328l-22 14 33 29 23-15z" color="#1d7a79"/>
<path d="M5528 4185l-24 9 25 23 23-16z" color="#239269"/>
<path d="M6552 4409l-21 2 58 44 22-16z" color="#206170"/>
<path d="M4142 4363l-85 77 23 13 84-83z" color="#1f6973"/>
<path d="M6335 4342l-22 14 37 31 23-15z" color="#1e787a"/>
<path d="M5120 3884l-24 27 24 14 24-26z" color="#a8b818"/>
<path d="M6227 4315l-22 13 30 26 22-12z" color="#1b7d78"/>
<path d="M6007 4261l-23 17 26 18 22-13z" color="#1b8976"/>
<path d="M5216 3900l-24-14 24 16 24 17z" color="#868f11"/>
<path d="M4496 4235l-64 58 23 8 64-58z" color="#19806b"/>
<path d="M5840 4216l-23 15 24 25 23-15z" color="#1e9271"/>
<path d="M3113 4572l-90 64 65 46 90-65z" color="#334073"/>
<path d="M7787 4622l-56 37 92 67 56-34z" color="#393571"/>
<path d="M5456 4148l-23-20 24 25 23 19z" color="#267246"/>
<path d="M6395 4361l-22 11 43 33 22-11z" color="#1e7378"/>
<path d="M6177 4305l-23 13 28 23 23-13z" color="#1b8077"/>
<path d="M6765 4437l-21 12 77 59 22-13z" color="#266179"/>
<path d="M5960 4257l-23 14 25 22 22-15z" color="#1b8b76"/>
<path d="M4010 4407l-85 75 24 19 85-76z" color="#24667a"/>
<path d="M7501 4545l-43 30 92 58 42-22z" color="#304876"/>
<path d="M4876 4054l-29 32 24 8 29-32z" color="#4f9f49"/>
<path d="M4733 4140l-41 40 23 10 41-39z" color="#2d945f"/>
<path d="M5024 3958l-24 29 24 12 24-30z" color="#7ead2d"/>
<path d="M4952 3998l-25 31 24 11 25-27z" color="#6cab3b"/>
<path d="M5792 4214l-23 13 25 18 23-14z" color="#20926d"/>
<path d="M7641 4584l-49 27 91 77 48-29z" color="#353e74"/>
<path d="M5744 4214l-23 14 25 13 23-14z" color="#1f8d6a"/>
<path d="M4668 4170l-47 43 23 10 48-43z" color="#258f64"/>
<path d="M3872 4448l-86 81 27 13 86-82z" color="#245972"/>
<path d="M6128 4297l-23 12 27 20 22-11z" color="#1a8276"/>
<path d="M5360 4057l-23-20 24 26 23 18z" color="#437d36"/>
<path d="M5912 4249l-23 17 25 21 23-16z" color="#1b8d75"/>
<path d="M5696 4211l-23 13 25 17 23-13z" color="#20916d"/>
<path d="M5168 3871l-24 28 24 10 24-23z" color="#adb314"/>
<path d="M7037 4486l-22 14 89 60 23-11z" color="#295677"/>
<path d="M4792 4112l-36 39 24 10 35-39z" color="#389959"/>
<path d="M5096 3911l-24 29 24 12 24-27z" color="#9bb31c"/>
<path d="M6460 4380l-22 14 49 40 22-13z" color="#20707a"/>
<path d="M5648 4207l-23 15 24 18 24-16z" color="#22956e"/>
<path d="M6080 4289l-23 13 26 21 22-14z" color="#1a8476"/>
<path d="M5600 4203l-23 16 24 19 24-16z" color="#23976f"/>
<path d="M3468 4600l-89 61 45 36 88-63z" color="#363d75"/>
<path d="M5552 4201l-23 16 24 18 24-16z" color="#23956d"/>
<path d="M5240 3919l-24-17 25 29 23 20z" color="#819115"/>
<path d="M5864 4241l-23 15 25 23 23-13z" color="#1c8e73"/>
<path d="M6885 4469l-21 14 86 58 21-13z" color="#275c79"/>
<path d="M3757 4518l-85 95 30 14 84-98z" color="#2a476c"/>
<path d="M4598 4203l-56 48 24 9 55-47z" color="#1f8a67"/>
<path d="M4291 4332l-82 64 23 14 81-71z" color="#1b7070"/>
<path d="M5480 4172l-23-19 24 25 23 16z" color="#23734a"/>
<path d="M5000 3987l-24 26 24 15 24-29z" color="#75ad35"/>
<path d="M6032 4283l-22 13 25 19 22-13z" color="#1a8675"/>
<path d="M4927 4029l-27 33 24 8 27-30z" color="#5ea440"/>
<path d="M4409 4284l-73 64 23 8 73-63z" color="#18776c"/>
<path d="M6257 4342l-22 12 33 28 22-11z" color="#1c7a78"/>
<path d="M4847 4086l-32 36 24 7 32-35z" color="#459c4f"/>
<path d="M6313 4356l-23 15 38 30 22-14z" color="#1e787a"/>
<path d="M6633 4431l-22 8 68 53 21-13z" color="#236679"/>
<path d="M5072 3940l-24 29 24 9 24-26z" color="#8eaf23"/>
<path d="M5144 3899l-24 26 24 12 24-28z" color="#a2b217"/>
<path d="M5984 4278l-22 15 25 17 23-14z" color="#1a8874"/>
<path d="M5384 4081l-23-18 24 24 23 18z" color="#3e7d39"/>
<path d="M6205 4328l-23 13 30 25 23-12z" color="#1b7d77"/>
<path d="M4164 4370l-84 83 22 10 84-82z" color="#1f6973"/>
<path d="M6531 4411l-22 10 59 43 21-9z" color="#216a77"/>
<path d="M5817 4231l-23 14 24 23 23-12z" color="#1e9171"/>
<path d="M7178 4516l-27 18 91 53 27-18z" color="#2b5276"/>
<path d="M5264 3951l-23-20 24 30 23 20z" color="#728b1b"/>
<path d="M6373 4372l-23 15 43 33 23-15z" color="#1f757a"/>
<path d="M5937 4271l-23 16 25 18 23-12z" color="#1b8a74"/>
<path d="M4034 4425l-85 76 22 11 86-72z" color="#236175"/>
<path d="M6154 4318l-22 11 28 23 22-11z" color="#1a7f76"/>
<path d="M6744 4449l-22 16 78 56 21-13z" color="#256279"/>
<path d="M4519 4243l-64 58 23 9 64-59z" color="#198169"/>
<path d="M4976 4013l-25 27 23 17 26-29z" color="#6dad3c"/>
<path d="M5769 4227l-23 14 24 17 24-13z" color="#20936e"/>
<path d="M5721 4228l-23 13 24 16 24-16z" color="#20916c"/>
<path d="M3638 4591l-87 67 33 18 88-63z" color="#314172"/>
<path d="M5673 4224l-24 16 25 17 24-16z" color="#21946f"/>
<path d="M5889 4266l-23 13 25 21 23-13z" color="#1b8c74"/>
<path d="M5504 4194l-23-16 25 26 23 13z" color="#217851"/>
<path d="M4756 4151l-41 39 23 10 42-39z" color="#30955e"/>
<path d="M5625 4222l-24 16 25 20 23-18z" color="#219670"/>
<path d="M6105 4309l-22 14 26 20 23-14z" color="#1a8377"/>
<path d="M7331 4529l-33 20 92 52 32-11z" color="#2a4e72"/>
<path d="M4900 4062l-29 32 24 9 29-33z" color="#53a046"/>
<path d="M5048 3969l-24 30 24 7 24-28z" color="#7ea829"/>
<path d="M5192 3886l-24 23 24 8 24-15z" color="#b1b313"/>
<path d="M5120 3925l-24 27 24 12 24-27z" color="#9ab31d"/>
<path d="M5577 4219l-24 16 25 18 23-15z" color="#22966e"/>
<path d="M5288 3981l-23-20 24 29 23 20z" color="#678821"/>
<path d="M4692 4180l-48 43 23 9 48-42z" color="#279062"/>
<path d="M6438 4394l-22 11 49 41 22-12z" color="#207079"/>
<path d="M3899 4460l-86 82 26 18 86-78z" color="#265e79"/>
<path d="M7015 4500l-22 15 90 53 21-8z" color="#285574"/>
<path d="M6057 4302l-22 13 25 20 23-12z" color="#1a8576"/>
<path d="M4815 4122l-35 39 23 7 36-39z" color="#399654"/>
<path d="M5408 4105l-23-18 25 22 23 19z" color="#397a3b"/>
<path d="M5841 4256l-23 12 25 23 23-12z" color="#1c8e72"/>
<path d="M6864 4483l-21 12 86 58 21-12z" color="#275c77"/>
<path d="M6010 4296l-23 14 25 19 23-14z" color="#1a8775"/>
<path d="M5024 3999l-24 29 24 10 24-32z" color="#72a632"/>
<path d="M4951 4040l-27 30 24 17 26-30z" color="#64ad44"/>
<path d="M4313 4339l-81 71 23 14 81-76z" color="#1a7270"/>
<path d="M4621 4213l-55 47 23 13 55-50z" color="#208c67"/>
<path d="M3328 4618l-91 47 52 42 90-46z" color="#353d74"/>
<path d="M6290 4371l-22 11 38 31 22-12z" color="#1d7678"/>
<path d="M6611 4439l-22 16 67 54 23-17z" color="#24697b"/>
<path d="M6235 4354l-23 12 34 27 22-11z" color="#1c7b78"/>
<path d="M5962 4293l-23 12 25 19 23-14z" color="#1a8774"/>
<path d="M5312 4010l-23-20 24 27 24 20z" color="#5e8526"/>
<path d="M5096 3952l-24 26 24 13 24-27z" color="#91b324"/>
<path d="M5529 4217l-23-13 24 27 23 4z" color="#1f7c58"/>
<path d="M4432 4293l-73 63 23 10 73-65z" color="#187b6d"/>
<path d="M6182 4341l-22 11 30 26 22-12z" color="#1b7e77"/>
<path d="M4871 4094l-32 35 24 7 32-33z" color="#499e4e"/>
<path d="M5794 4245l-24 13 25 22 23-12z" color="#1f9170"/>
<path d="M5168 3909l-24 28 24 8 24-28z" color="#a3ae15"/>
<path d="M4186 4381l-84 82 23 10 84-77z" color="#1e6a73"/>
<path d="M6350 4387l-22 14 43 32 22-13z" color="#1e7479"/>
<path d="M5914 4287l-23 13 25 19 23-14z" color="#1b8a74"/>
<path d="M6509 4421l-22 13 59 41 22-11z" color="#216b78"/>
<path d="M8191 4745l-65 42 100 35 63-35z" color="#371d5a"/>
<path d="M6722 4465l-22 14 78 55 22-13z" color="#256279"/>
<path d="M6132 4329l-23 14 28 23 23-14z" color="#1a8277"/>
<path d="M5649 4240l-23 18 25 18 23-19z" color="#209370"/>
<path d="M3786 4529l-84 98 27 11 84-96z" color="#294b6e"/>
<path d="M5216 3902l-24 15 25 23 24-9z" color="#b5bc15"/>
<path d="M5746 4241l-24 16 25 17 23-16z" color="#20936f"/>
<path d="M5698 4241l-24 16 25 17 23-17z" color="#20936f"/>
<path d="M5000 4028l-26 29 24 13 26-32z" color="#69a83b"/>
<path d="M5433 4128l-23-19 24 24 23 20z" color="#34783d"/>
<path d="M4057 4440l-86 72 23 7 86-66z" color="#215f71"/>
<path d="M7151 4534l-24 15 91 52 24-14z" color="#295174"/>
<path d="M5601 4238l-23 15 25 20 23-15z" color="#219570"/>
<path d="M8033 4722l-62 38 93 70 62-43z" color="#3c2265"/>
<path d="M7458 4575l-36 15 92 61 36-18z" color="#2d4872"/>
<path d="M4542 4251l-64 59 24 15 64-65z" color="#1b856b"/>
<path d="M5866 4279l-23 12 25 23 23-14z" color="#1b8c74"/>
<path d="M6083 4323l-23 12 27 21 22-13z" color="#1a8376"/>
<path d="M3512 4634l-88 63 39 26 88-65z" color="#353b71"/>
<path d="M4924 4070l-29 33 24 15 29-31z" color="#59aa4a"/>
<path d="M5072 3978l-24 28 24 10 24-25z" color="#88b22a"/>
<path d="M5337 4037l-24-20 25 26 23 20z" color="#56822a"/>
<path d="M6416 4405l-23 15 50 39 22-13z" color="#20717a"/>
<path d="M5144 3937l-24 27 24 11 24-30z" color="#99ad19"/>
<path d="M4780 4161l-42 39 24 7 41-39z" color="#319359"/>
<path d="M3925 4482l-86 78 23 10 87-69z" color="#265c76"/>
<path d="M6035 4315l-23 14 25 19 23-13z" color="#1a8575"/>
<path d="M4715 4190l-48 42 24 9 47-41z" color="#299161"/>
<path d="M6993 4515l-22 13 91 51 21-11z" color="#275774"/>
<path d="M5553 4235l-23-4 25 27 23-5z" color="#208863"/>
<path d="M5818 4268l-23 12 25 24 23-13z" color="#1d8f72"/>
<path d="M4974 4057l-26 30 24 16 26-33z" color="#5fa843"/>
<path d="M7731 4659l-48 29 91 77 49-39z" color="#393773"/>
<path d="M7879 4692l-56 34 93 66 55-32z" color="#3a2e6d"/>
<path d="M5987 4310l-23 14 25 19 23-14z" color="#1a8775"/>
<path d="M6843 4495l-22 13 86 56 22-11z" color="#265d77"/>
<path d="M8353 4752l-64 35 106 3 65-46z" color="#2c1e4e"/>
<path d="M5241 3931l-24 9 24 17 24 4z" color="#a2ae15"/>
<path d="M7592 4611l-42 22 91 73 42-18z" color="#334274"/>
<path d="M4839 4129l-36 39 24 5 36-37z" color="#3e9751"/>
<path d="M3178 4617l-90 65 59 38 90-55z" color="#344074"/>
<path d="M5457 4153l-23-20 25 25 22 20z" color="#2f7540"/>
<path d="M4644 4223l-55 50 23 16 55-57z" color="#218b65"/>
<path d="M6589 4455l-21 9 67 56 21-11z" color="#226475"/>
<path d="M4336 4348l-81 76 23 14 81-82z" color="#1a7471"/>
<path d="M3672 4613l-88 63 30 14 88-63z" color="#2f406e"/>
<path d="M5939 4305l-23 14 25 20 23-15z" color="#1a8975"/>
<path d="M6268 4382l-22 11 38 31 22-11z" color="#1d7777"/>
<path d="M5192 3917l-24 28 25 24 24-29z" color="#aebb17"/>
<path d="M6212 4366l-22 12 34 27 22-12z" color="#1c7b77"/>
<path d="M5048 4006l-24 32 24 4 24-26z" color="#78a72e"/>
<path d="M5120 3964l-24 27 24 15 24-31z" color="#90af21"/>
<path d="M7298 4549l-29 20 93 46 28-14z" color="#295072"/>
<path d="M5770 4258l-23 16 25 18 23-12z" color="#1f9370"/>
<path d="M6160 4352l-23 14 31 23 22-11z" color="#1b7f77"/>
<path d="M5674 4257l-23 19 25 17 23-19z" color="#1f9270"/>
<path d="M5626 4258l-23 15 24 17 24-14z" color="#1f916f"/>
<path d="M6328 4401l-22 12 43 34 22-14z" color="#1e7479"/>
<path d="M5361 4063l-23-20 24 23 23 21z" color="#4e7e2d"/>
<path d="M5891 4300l-23 14 25 19 23-14z" color="#1b8a74"/>
<path d="M4209 4396l-84 77 22 12 85-75z" color="#1e6b73"/>
<path d="M4895 4103l-32 33 24 15 32-33z" color="#4fa54f"/>
<path d="M5722 4257l-23 17 25 17 23-17z" color="#209370"/>
<path d="M4455 4301l-73 65 23 13 73-69z" color="#198070"/>
<path d="M6700 4479l-21 13 77 57 22-15z" color="#25637a"/>
<path d="M6487 4434l-22 12 59 42 22-13z" color="#206b77"/>
<path d="M6109 4343l-22 13 28 23 22-13z" color="#1a8176"/>
<path d="M4948 4087l-29 31 24 16 29-31z" color="#57a94b"/>
<path d="M4566 4260l-64 65 23 20 64-72z" color="#1c896e"/>
<path d="M5578 4253l-23 5 24 25 24-10z" color="#208e6a"/>
<path d="M5843 4291l-23 13 25 23 23-13z" color="#1c8d73"/>
<path d="M5265 3961l-24-4 24 22 24 11z" color="#8fa218"/>
<path d="M6060 4335l-23 13 27 21 23-13z" color="#1a8376"/>
<path d="M4080 4453l-86 66 22 7 86-63z" color="#206070"/>
<path d="M5024 4038l-26 32 24 3 26-31z" color="#669d34"/>
<path d="M5096 3991l-24 25 24 21 24-31z" color="#88b22a"/>
<path d="M5168 3945l-24 30 25 20 24-26z" color="#a2b91c"/>
<path d="M5481 4178l-22-20 24 25 23 21z" color="#2b7342"/>
<path d="M7127 4549l-23 11 92 53 22-12z" color="#285171"/>
<path d="M3813 4542l-84 96 25 14 85-92z" color="#2a4e71"/>
<path d="M6393 4420l-22 13 50 39 22-13z" color="#1f7179"/>
<path d="M6012 4329l-23 14 26 18 22-13z" color="#1a8575"/>
<path d="M5217 3940l-24 29 24 19 24-31z" color="#a2b419"/>
<path d="M6971 4528l-21 13 91 51 21-13z" color="#275774"/>
<path d="M3949 4501l-87 69 23 7 86-65z" color="#23576f"/>
<path d="M4738 4200l-47 41 24 16 47-50z" color="#2b9260"/>
<path d="M5964 4324l-23 15 25 19 23-15z" color="#1a8876"/>
<path d="M4803 4168l-41 39 24 11 41-45z" color="#369557"/>
<path d="M5795 4280l-23 12 25 23 23-11z" color="#1d9071"/>
<path d="M5385 4087l-23-21 24 21 24 22z" color="#477a2f"/>
<path d="M3379 4661l-90 46 44 34 91-44z" color="#353a71"/>
<path d="M6821 4508l-21 13 86 56 21-13z" color="#265d77"/>
<path d="M4998 4070l-26 33 24 6 26-36z" color="#5a9c3c"/>
<path d="M5144 3975l-24 31 25 17 24-28z" color="#91b123"/>
<path d="M5916 4319l-23 14 25 21 23-15z" color="#1b8a75"/>
<path d="M4667 4232l-55 57 24 17 55-65z" color="#228d65"/>
<path d="M4863 4136l-36 37 24 17 36-39z" color="#45a255"/>
<path d="M5072 4016l-24 26 24 24 24-29z" color="#81b432"/>
<path d="M5651 4276l-24 14 25 20 24-17z" color="#1f9170"/>
<path d="M5699 4274l-23 19 25 17 23-19z" color="#1f9270"/>
<path d="M5506 4204l-23-21 24 28 23 20z" color="#267145"/>
<path d="M5747 4274l-23 17 25 16 23-15z" color="#1f916f"/>
<path d="M5289 3990l-24-11 25 21 23 17z" color="#7d951b"/>
<path d="M4359 4356l-81 82 23 11 81-83z" color="#1a7571"/>
<path d="M4919 4118l-32 33 23 17 33-34z" color="#4ea751"/>
<path d="M6246 4393l-22 12 37 30 23-11z" color="#1c7877"/>
<path d="M6190 4378l-22 11 33 25 23-9z" color="#1b7a75"/>
<path d="M6568 4464l-22 11 68 49 21-4z" color="#216675"/>
<path d="M5868 4314l-23 13 25 20 23-14z" color="#1b8a74"/>
<path d="M3551 4658l-88 65 33 20 88-67z" color="#333a6f"/>
<path d="M6679 4492l-23 17 78 56 22-16z" color="#25637a"/>
<path d="M4478 4310l-73 69 23 20 74-74z" color="#1a8474"/>
<path d="M5603 4273l-24 10 25 20 23-13z" color="#1f8f6d"/>
<path d="M6137 4366l-22 13 30 22 23-12z" color="#1a7e76"/>
<path d="M4232 4410l-85 75 23 14 85-75z" color="#1e6d74"/>
<path d="M5193 3969l-24 26 24 22 24-29z" color="#9ab821"/>
<path d="M6306 4413l-22 11 43 34 22-11z" color="#1d7477"/>
<path d="M6465 4446l-22 13 59 43 22-14z" color="#206d78"/>
<path d="M4589 4273l-64 72 24 19 63-75z" color="#1b876d"/>
<path d="M6087 4356l-23 13 28 21 23-11z" color="#1a8276"/>
<path d="M5120 4006l-24 31 24 15 25-29z" color="#82ad2b"/>
<path d="M7422 4590l-32 11 92 66 32-16z" color="#2c4c73"/>
<path d="M7269 4569l-27 18 93 46 27-18z" color="#295173"/>
<path d="M3702 4627l-88 63 27 15 88-67z" color="#2f4370"/>
<path d="M4972 4103l-29 31 23 6 30-31z" color="#549f45"/>
<path d="M5820 4304l-23 11 25 24 23-12z" color="#1c8d73"/>
<path d="M6037 4348l-22 13 26 21 23-13z" color="#1a8475"/>
<path d="M5410 4109l-24-22 25 24 23 22z" color="#437831"/>
<path d="M5048 4042l-26 31 24 19 26-26z" color="#76b239"/>
<path d="M5530 4231l-23-20 25 30 23 17z" color="#22734b"/>
<path d="M5241 3957l-24 31 24 14 24-23z" color="#a4b81a"/>
<path d="M6371 4433l-22 14 50 38 22-13z" color="#1f7279"/>
<path d="M5989 4343l-23 15 26 19 23-16z" color="#1a8776"/>
<path d="M4102 4463l-86 63 22 10 87-63z" color="#206170"/>
<path d="M7104 4560l-21 8 91 58 22-13z" color="#285372"/>
<path d="M5313 4017l-23-17 24 22 24 21z" color="#6e8a1d"/>
<path d="M5169 3995l-24 28 24 20 24-26z" color="#94ba28"/>
<path d="M5941 4339l-23 15 25 20 23-16z" color="#1a8876"/>
<path d="M3839 4560l-85 92 23 10 85-92z" color="#284d6f"/>
<path d="M5096 4037l-24 29 24 18 24-32z" color="#77ac33"/>
<path d="M6950 4541l-21 12 90 52 22-13z" color="#275874"/>
<path d="M4762 4207l-47 50 23 15 48-54z" color="#2d9460"/>
<path d="M5772 4292l-23 15 25 20 23-12z" color="#1e9171"/>
<path d="M4827 4173l-41 45 23 16 42-44z" color="#399d5c"/>
<path d="M5676 4293l-24 17 25 17 24-17z" color="#1e9071"/>
<path d="M4887 4151l-36 39 23 17 36-39z" color="#44a357"/>
<path d="M6800 4521l-22 13 86 56 22-13z" color="#265e77"/>
<path d="M5724 4291l-23 19 25 16 23-19z" color="#1e9070"/>
<path d="M5893 4333l-23 14 25 20 23-13z" color="#1a8975"/>
<path d="M4691 4241l-55 65 23 13 56-62z" color="#228e66"/>
<path d="M5627 4290l-23 13 25 18 23-11z" color="#1f906f"/>
<path d="M4502 4325l-74 74 24 20 73-74z" color="#1a8375"/>
<path d="M3971 4512l-86 65 22 5 87-63z" color="#21576c"/>
<path d="M5555 4258l-23-17 24 27 23 15z" color="#1f7550"/>
<path d="M5022 4073l-26 36 24 10 26-27z" color="#67a93d"/>
<path d="M5217 3988l-24 29 24 15 24-30z" color="#92b121"/>
<path d="M5434 4133l-23-22 24 24 24 23z" color="#3e7734"/>
<path d="M7550 4633l-36 18 91 72 36-17z" color="#314675"/>
<path d="M4943 4134l-33 34 24 8 32-36z" color="#4a9d4b"/>
<path d="M4382 4366l-81 83 23 13 81-83z" color="#1a7772"/>
<path d="M4612 4289l-63 75 23 17 64-75z" color="#1a856d"/>
<path d="M6656 4509l-21 11 77 56 22-11z" color="#246076"/>
<path d="M7683 4688l-42 18 90 89 43-30z" color="#383873"/>
<path d="M5845 4327l-23 12 25 20 23-12z" color="#1b8972"/>
<path d="M4255 4424l-85 75 23 13 85-74z" color="#1e6d74"/>
<path d="M6168 4389l-23 12 34 26 22-13z" color="#1b7d76"/>
<path d="M6115 4379l-23 11 30 25 23-14z" color="#1a8076"/>
<path d="M6224 4405l-23 9 38 29 22-8z" color="#1b7875"/>
<path d="M5145 4023l-25 29 25 15 24-24z" color="#88b52d"/>
<path d="M6546 4475l-22 13 68 48 22-12z" color="#226a78"/>
<path d="M5072 4066l-26 26 25 20 25-28z" color="#70b13d"/>
<path d="M6443 4459l-22 13 58 42 23-12z" color="#206e79"/>
<path d="M3237 4665l-90 55 50 33 92-46z" color="#333f72"/>
<path d="M6284 4424l-23 11 43 33 23-10z" color="#1d7576"/>
<path d="M6064 4369l-23 13 28 22 23-14z" color="#1a8377"/>
<path d="M5338 4043l-24-21 25 20 23 24z" color="#61801f"/>
<path d="M5265 3979l-24 23 25 19 24-21z" color="#a5bd1d"/>
<path d="M7971 4760l-55 32 92 81 56-43z" color="#3d2669"/>
<path d="M6015 4361l-23 16 26 20 23-15z" color="#1a8576"/>
<path d="M7823 4726l-49 39 94 60 48-33z" color="#3a306f"/>
<path d="M5193 4017l-24 26 24 18 24-29z" color="#8bb429"/>
<path d="M5797 4315l-23 12 25 24 23-12z" color="#1c8e72"/>
<path d="M5966 4358l-23 16 26 18 23-15z" color="#1a8575"/>
<path d="M7242 4587l-24 14 93 52 24-20z" color="#295375"/>
<path d="M4996 4109l-30 31 24 14 30-35z" color="#5aa343"/>
<path d="M8126 4787l-62 43 99 39 63-47z" color="#38205e"/>
<path d="M3424 4697l-91 44 39 26 91-44z" color="#35386f"/>
<path d="M6349 4447l-22 11 50 40 22-13z" color="#1f7278"/>
<path d="M5579 4283l-23-15 25 26 23 9z" color="#1c7655"/>
<path d="M5459 4158l-24-23 25 27 23 21z" color="#3a7738"/>
<path d="M5918 4354l-23 13 25 20 23-13z" color="#1a8775"/>
<path d="M5120 4052l-24 32 24 12 25-29z" color="#76aa32"/>
<path d="M3729 4638l-88 67 25 17 88-70z" color="#2f4572"/>
<path d="M4125 4473l-87 63 23 15 86-66z" color="#206674"/>
<path d="M3584 4676l-88 67 30 15 88-68z" color="#323b6e"/>
<path d="M5701 4310l-24 17 25 14 24-15z" color="#1d8d6f"/>
<path d="M5749 4307l-23 19 25 18 23-17z" color="#1e9272"/>
<path d="M4851 4190l-42 44 24 12 41-39z" color="#389c5c"/>
<path d="M4525 4345l-73 74 23 19 74-74z" color="#1a8175"/>
<path d="M7083 4568l-21 11 91 60 21-13z" color="#285775"/>
<path d="M4786 4218l-48 54 24 10 47-48z" color="#2d9560"/>
<path d="M5652 4310l-23 11 25 16 23-10z" color="#1c896b"/>
<path d="M6929 4553l-22 11 91 53 21-12z" color="#265975"/>
<path d="M5046 4092l-26 27 24 23 27-30z" color="#6ab243"/>
<path d="M4910 4168l-36 39 24 9 36-40z" color="#429d53"/>
<path d="M6778 4534l-22 15 86 55 22-14z" color="#265f78"/>
<path d="M5870 4347l-23 12 25 20 23-12z" color="#1a8873"/>
<path d="M4715 4257l-56 62 24 9 55-56z" color="#228e66"/>
<path d="M5241 4002l-24 30 25 13 24-24z" color="#97b622"/>
<path d="M3862 4570l-85 92 22 7 86-92z" color="#264d6c"/>
<path d="M5169 4043l-24 24 24 21 24-27z" color="#85b731"/>
<path d="M5362 4066l-23-24 24 22 23 23z" color="#5a7c21"/>
<path d="M7390 4601l-28 14 91 70 29-18z" color="#2c5177"/>
<path d="M4405 4379l-81 83 23 13 81-76z" color="#1b7975"/>
<path d="M4636 4306l-64 75 23 11 64-73z" color="#1a816a"/>
<path d="M5290 4000l-24 21 24 15 24-14z" color="#9db81e"/>
<path d="M5096 4084l-25 28 24 13 25-29z" color="#6baa3b"/>
<path d="M6145 4401l-23 14 34 25 23-13z" color="#1b7e77"/>
<path d="M3994 4519l-87 63 22 12 87-68z" color="#225c70"/>
<path d="M4278 4438l-85 74 23 13 85-76z" color="#1e6e74"/>
<path d="M5822 4339l-23 12 25 21 23-13z" color="#1b8b72"/>
<path d="M5483 4183l-23-21 24 28 23 21z" color="#36793d"/>
<path d="M6092 4390l-23 14 31 24 22-13z" color="#1b8177"/>
<path d="M4966 4140l-32 36 24 12 32-34z" color="#51a44c"/>
<path d="M6524 4488l-22 14 67 48 23-14z" color="#226b79"/>
<path d="M6421 4472l-22 13 58 42 22-13z" color="#206e79"/>
<path d="M6041 4382l-23 15 28 22 23-15z" color="#1a8477"/>
<path d="M6201 4414l-22 13 38 27 22-11z" color="#1b7b77"/>
<path d="M6635 4520l-21 4 77 57 21-5z" color="#225f72"/>
<path d="M5604 4303l-23-9 25 21 23 6z" color="#1b7759"/>
<path d="M5992 4377l-23 15 26 20 23-15z" color="#1a8577"/>
<path d="M5217 4032l-24 29 25 12 24-28z" color="#87ae28"/>
<path d="M5020 4119l-30 35 25 22 29-34z" color="#5cab49"/>
<path d="M6261 4435l-22 8 43 34 22-9z" color="#1c7575"/>
<path d="M8289 4787l-63 35 103 14 66-46z" color="#2e2355"/>
<path d="M5943 4374l-23 13 26 19 23-14z" color="#1a8575"/>
<path d="M5774 4327l-23 17 25 19 23-12z" color="#1d8f72"/>
<path d="M5145 4067l-25 29 25 18 24-26z" color="#7bb537"/>
<path d="M4549 4364l-74 74 24 13 73-70z" color="#1a7e73"/>
<path d="M7218 4601l-22 12 92 59 23-19z" color="#2a5577"/>
<path d="M5726 4326l-24 15 25 17 24-14z" color="#1d8f70"/>
<path d="M5507 4211l-23-21 25 29 23 22z" color="#2f7541"/>
<path d="M4147 4485l-86 66 23 15 86-67z" color="#216976"/>
<path d="M5895 4367l-23 12 25 20 23-12z" color="#1a8674"/>
<path d="M5071 4112l-27 30 24 14 27-31z" color="#62a942"/>
<path d="M5386 4087l-23-23 25 25 23 22z" color="#587e25"/>
<path d="M6327 4458l-23 10 50 38 23-8z" color="#1e7176"/>
<path d="M5677 4327l-23 10 25 16 23-12z" color="#1c896b"/>
<path d="M7062 4579l-21 13 91 62 21-15z" color="#285877"/>
<path d="M6756 4549l-22 16 87 54 21-15z" color="#266079"/>
<path d="M4874 4207l-41 39 24 4 41-34z" color="#379455"/>
<path d="M5266 4021l-24 24 24 17 24-26z" color="#98ba24"/>
<path d="M6907 4564l-21 13 90 55 22-15z" color="#265b76"/>
<path d="M3754 4652l-88 70 24 12 87-72z" color="#2e4570"/>
<path d="M4809 4234l-47 48 24 4 47-40z" color="#2d915c"/>
<path d="M5193 4061l-24 27 24 15 25-30z" color="#7dae30"/>
<path d="M5847 4359l-23 13 25 21 23-14z" color="#1b8a74"/>
<path d="M4428 4399l-81 76 23 16 82-72z" color="#1c7b77"/>
<path d="M5314 4022l-24 14 25 12 24-6z" color="#91aa1d"/>
<path d="M4934 4176l-36 40 24 9 36-37z" color="#459e51"/>
<path d="M7514 4651l-32 16 91 73 32-17z" color="#2f4976"/>
<path d="M4990 4154l-32 34 24 23 33-35z" color="#52ab51"/>
<path d="M4738 4272l-55 56 23 2 56-48z" color="#228860"/>
<path d="M5120 4096l-25 29 24 15 26-26z" color="#6fb03c"/>
<path d="M5532 4241l-23-22 25 28 22 21z" color="#287144"/>
<path d="M3614 4690l-88 68 27 15 88-68z" color="#313e70"/>
<path d="M5629 4321l-23-6 25 18 23 4z" color="#1a7659"/>
<path d="M6069 4404l-23 15 31 23 23-14z" color="#1a8177"/>
<path d="M6122 4415l-22 13 33 24 23-12z" color="#1a7e76"/>
<path d="M4301 4449l-85 76 23 13 85-76z" color="#1e6e74"/>
<path d="M3463 4723l-91 44 33 22 91-46z" color="#34386e"/>
<path d="M4659 4319l-64 73 24 4 64-68z" color="#1a7f66"/>
<path d="M5799 4351l-23 12 25 20 23-11z" color="#1b8b72"/>
<path d="M6018 4397l-23 15 28 20 23-13z" color="#1a8376"/>
<path d="M6502 4502l-23 12 68 50 22-14z" color="#216b78"/>
<path d="M3885 4577l-86 92 22 6 86-93z" color="#244e6a"/>
<path d="M5044 4142l-29 34 24 13 29-33z" color="#56a548"/>
<path d="M7641 4706l-36 17 89 93 37-21z" color="#373b74"/>
<path d="M4016 4526l-87 68 23 14 86-72z" color="#236275"/>
<path d="M6399 4485l-22 13 58 41 22-12z" color="#1f6e77"/>
<path d="M5411 4111l-23-22 24 24 23 22z" color="#527c28"/>
<path d="M3289 4707l-92 46 44 29 92-41z" color="#323d70"/>
<path d="M5969 4392l-23 14 26 19 23-13z" color="#1a8476"/>
<path d="M6179 4427l-23 13 38 27 23-13z" color="#1b7b76"/>
<path d="M5169 4088l-24 26 24 17 24-28z" color="#76b037"/>
<path d="M5242 4045l-24 28 24 14 24-25z" color="#8eb629"/>
<path d="M7362 4615l-27 18 92 69 26-17z" color="#2c5379"/>
<path d="M5920 4387l-23 12 26 21 23-14z" color="#1a8675"/>
<path d="M5751 4344l-24 14 25 16 24-11z" color="#1c8c70"/>
<path d="M6614 4524l-22 12 77 57 22-12z" color="#236678"/>
<path d="M6239 4443l-22 11 43 33 22-10z" color="#1c7876"/>
<path d="M4572 4381l-73 70 23 12 73-71z" color="#197b70"/>
<path d="M5702 4341l-23 12 25 18 23-13z" color="#1d8d6f"/>
<path d="M4170 4499l-86 67 23 14 86-68z" color="#206976"/>
<path d="M7196 4613l-22 13 91 64 23-18z" color="#2b5679"/>
<path d="M5556 4268l-22-21 24 24 23 23z" color="#226b43"/>
<path d="M7774 4765l-43 30 94 61 43-31z" color="#3a306f"/>
<path d="M5095 4125l-27 31 24 12 27-28z" color="#64aa41"/>
<path d="M5872 4379l-23 14 25 21 23-15z" color="#1a8975"/>
<path d="M5290 4036l-24 26 25 16 24-30z" color="#92b323"/>
<path d="M4452 4419l-82 72 24 16 81-69z" color="#1c7a77"/>
<path d="M6734 4565l-22 11 87 56 22-13z" color="#255d76"/>
<path d="M7041 4592l-22 13 91 63 22-14z" color="#285a78"/>
<path d="M5339 4042l-24 6 24 16 24 0z" color="#8ea71d"/>
<path d="M6304 4468l-22 9 50 39 22-10z" color="#1d7376"/>
<path d="M6886 4577l-22 13 91 56 21-14z" color="#265c77"/>
<path d="M5435 4135l-23-22 25 27 23 22z" color="#4d7d2d"/>
<path d="M5015 4176l-33 35 25 13 32-35z" color="#4ba350"/>
<path d="M5218 4073l-25 30 25 10 24-26z" color="#7eac2e"/>
<path d="M4958 4188l-36 37 24 16 36-30z" color="#49a857"/>
<path d="M5145 4114l-26 26 24 21 26-30z" color="#6cb03f"/>
<path d="M5824 4372l-23 11 25 23 23-13z" color="#1b8a74"/>
<path d="M4898 4216l-41 34 24 13 41-38z" color="#3d9b56"/>
<path d="M7916 4792l-48 33 92 75 48-27z" color="#3c296b"/>
<path d="M5654 4337l-23-4 25 17 23 3z" color="#1b7a5c"/>
<path d="M3777 4662l-87 72 22 9 87-74z" color="#2c456e"/>
<path d="M4833 4246l-47 40 23 9 48-45z" color="#308f57"/>
<path d="M6046 4419l-23 13 31 22 23-12z" color="#1a8075"/>
<path d="M6100 4428l-23 14 34 25 22-15z" color="#1b8077"/>
<path d="M5995 4412l-23 13 28 21 23-14z" color="#1a8275"/>
<path d="M4324 4462l-85 76 23 13 85-76z" color="#1d6f74"/>
<path d="M6479 4514l-22 13 68 49 22-12z" color="#216b78"/>
<path d="M5266 4062l-24 25 24 20 25-29z" color="#8cb72b"/>
<path d="M5068 4156l-29 33 24 9 29-30z" color="#58a546"/>
<path d="M4038 4536l-86 72 23 16 86-73z" color="#246478"/>
<path d="M5776 4363l-24 11 25 20 24-11z" color="#1c8b70"/>
<path d="M5946 4406l-23 14 26 19 23-14z" color="#1a8475"/>
<path d="M4762 4282l-56 48 24 9 56-53z" color="#25875b"/>
<path d="M5581 4294l-23-23 25 23 23 21z" color="#1f6944"/>
<path d="M6156 4440l-23 12 38 27 23-12z" color="#1b7c76"/>
<path d="M3641 4705l-88 68 24 12 89-63z" color="#314071"/>
<path d="M5193 4103l-24 28 24 12 25-30z" color="#72aa35"/>
<path d="M6377 4498l-23 8 59 44 22-11z" color="#1f6e76"/>
<path d="M8064 4830l-56 43 98 45 57-49z" color="#3a1f60"/>
<path d="M5460 4162l-23-22 24 27 23 23z" color="#467b31"/>
<path d="M3907 4582l-86 93 23 11 85-92z" color="#255671"/>
<path d="M5897 4399l-23 15 26 19 23-13z" color="#1a8775"/>
<path d="M5727 4358l-23 13 25 17 23-14z" color="#1c8d6f"/>
<path d="M4683 4328l-64 68 23 5 64-71z" color="#1a7c60"/>
<path d="M5119 4140l-27 28 24 22 27-29z" color="#66b146"/>
<path d="M5363 4064l-24 0 25 23 24 2z" color="#88a721"/>
<path d="M6592 4536l-23 14 78 55 22-12z" color="#236678"/>
<path d="M7335 4633l-24 20 92 65 24-16z" color="#2d547a"/>
<path d="M7482 4667l-29 18 91 73 29-18z" color="#2f4c78"/>
<path d="M6217 4454l-23 13 43 32 23-12z" color="#1c7a77"/>
<path d="M7174 4626l-21 13 91 66 21-15z" color="#2b567a"/>
<path d="M4193 4512l-86 68 23 13 86-68z" color="#206975"/>
<path d="M5849 4393l-23 13 25 20 23-12z" color="#1a8874"/>
<path d="M3496 4743l-91 46 31 22 90-53z" color="#34396e"/>
<path d="M4475 4438l-81 69 23 14 82-70z" color="#1b7775"/>
<path d="M5315 4048l-24 30 24 13 24-27z" color="#91b122"/>
<path d="M4595 4392l-73 71 23 7 74-74z" color="#177669"/>
<path d="M5169 4131l-26 30 25 17 25-35z" color="#66a73d"/>
<path d="M5242 4087l-24 26 24 20 24-26z" color="#85b832"/>
<path d="M6864 4590l-22 14 91 59 22-17z" color="#275d79"/>
<path d="M7019 4605l-21 12 91 63 21-12z" color="#285a78"/>
<path d="M4982 4211l-36 30 24 10 37-27z" color="#45a154"/>
<path d="M5484 4190l-23-23 25 29 23 23z" color="#3f7935"/>
<path d="M5679 4353l-23-3 25 19 23 2z" color="#1a7c5f"/>
<path d="M6282 4477l-22 10 50 39 22-10z" color="#1d7576"/>
<path d="M5039 4189l-32 35 24 7 32-33z" color="#4d9f4c"/>
<path d="M4922 4225l-41 38 24 16 41-38z" color="#40a35a"/>
<path d="M5801 4383l-24 11 25 22 24-10z" color="#1b8b73"/>
<path d="M6712 4576l-21 5 87 50 21 1z" color="#21576b"/>
<path d="M5606 4315l-23-21 25 20 23 19z" color="#1e6946"/>
<path d="M5291 4078l-25 29 25 17 24-33z" color="#83ad2a"/>
<path d="M5092 4168l-29 30 24 26 29-34z" color="#5bad4b"/>
<path d="M3333 4741l-92 41 38 24 93-39z" color="#313c6e"/>
<path d="M7605 4723l-32 17 90 92 31-16z" color="#353e75"/>
<path d="M5388 4089l-24-2 25 22 23 4z" color="#80a425"/>
<path d="M6023 4432l-23 14 31 20 23-12z" color="#1a8175"/>
<path d="M6077 4442l-23 12 34 25 23-12z" color="#1a7e76"/>
<path d="M4857 4250l-48 45 24 17 48-49z" color="#369c5d"/>
<path d="M5972 4425l-23 14 28 20 23-13z" color="#1a8275"/>
<path d="M4347 4475l-85 76 23 14 85-74z" color="#1d7175"/>
<path d="M4061 4551l-86 73 23 15 86-73z" color="#236477"/>
<path d="M5143 4161l-27 29 25 18 27-30z" color="#5fac47"/>
<path d="M5923 4420l-23 13 26 19 23-13z" color="#1a8474"/>
<path d="M6457 4527l-22 12 68 49 22-12z" color="#206b76"/>
<path d="M5218 4113l-25 30 25 16 24-26z" color="#77b036"/>
<path d="M3799 4669l-87 74 22 7 87-75z" color="#29456b"/>
<path d="M5752 4374l-23 14 25 18 23-12z" color="#1c8d70"/>
<path d="M5509 4219l-23-23 25 27 23 24z" color="#377438"/>
<path d="M6133 4452l-22 15 38 26 22-14z" color="#1b7e77"/>
<path d="M4786 4286l-56 53 24 16 55-60z" color="#2a9361"/>
<path d="M3929 4594l-85 92 22 14 86-92z" color="#265773"/>
<path d="M5874 4414l-23 12 25 19 24-12z" color="#1a8573"/>
<path d="M6354 4506l-22 10 58 46 23-12z" color="#1f7077"/>
<path d="M5339 4064l-24 27 25 20 24-24z" color="#98bb25"/>
<path d="M3666 4722l-89 63 24 10 89-61z" color="#2f3f6e"/>
<path d="M5266 4107l-24 26 25 21 24-30z" color="#7bb134"/>
<path d="M6569 4550l-22 14 79 51 21-10z" color="#226676"/>
<path d="M7311 4653l-23 19 92 61 23-15z" color="#2c5379"/>
<path d="M7731 4795l-37 21 94 67 37-27z" color="#3a306e"/>
<path d="M7153 4639l-21 15 91 65 21-14z" color="#2b5579"/>
<path d="M6194 4467l-23 12 44 32 22-12z" color="#1b7975"/>
<path d="M4706 4330l-64 71 24 17 64-79z" color="#1e8866"/>
<path d="M4216 4525l-86 68 23 11 86-66z" color="#206975"/>
<path d="M4499 4451l-82 70 23 14 82-72z" color="#1b7673"/>
<path d="M5826 4406l-24 10 26 21 23-11z" color="#1a8772"/>
<path d="M5704 4371l-23-2 25 18 23 1z" color="#197a5f"/>
<path d="M5193 4143l-25 35 24 12 26-31z" color="#67a73b"/>
<path d="M6842 4604l-21 15 90 58 22-14z" color="#275d78"/>
<path d="M8226 4822l-63 47 105 10 61-43z" color="#30285b"/>
<path d="M5412 4113l-23-4 24 20 24 11z" color="#749c27"/>
<path d="M6998 4617l-22 15 92 60 21-12z" color="#275a77"/>
<path d="M5116 4190l-29 34 25 18 29-34z" color="#54a74c"/>
<path d="M5063 4198l-32 33 24 22 32-29z" color="#52ac52"/>
<path d="M5534 4247l-23-24 24 25 23 23z" color="#31713a"/>
<path d="M5631 4333l-23-19 25 16 23 20z" color="#1d6846"/>
<path d="M5007 4224l-37 27 25 9 36-29z" color="#469b4e"/>
<path d="M7453 4685l-26 17 91 74 26-18z" color="#2f4d78"/>
<path d="M3526 4758l-90 53 27 19 90-57z" color="#333a6f"/>
<path d="M5315 4091l-24 33 25 15 24-28z" color="#85af2a"/>
<path d="M4946 4241l-41 38 24 4 41-32z" color="#3c9652"/>
<path d="M4619 4396l-74 74 24 7 73-76z" color="#187b6b"/>
<path d="M5242 4133l-24 26 24 24 25-29z" color="#74b33b"/>
<path d="M6260 4487l-23 12 51 37 22-10z" color="#1c7676"/>
<path d="M5777 4394l-23 12 25 22 23-12z" color="#1b8b72"/>
<path d="M4370 4491l-85 74 23 15 86-73z" color="#1e7277"/>
<path d="M4084 4566l-86 73 22 15 87-74z" color="#236377"/>
<path d="M6000 4446l-23 13 31 20 23-13z" color="#197f73"/>
<path d="M5949 4439l-23 13 28 20 23-13z" color="#1a8274"/>
<path d="M4881 4263l-48 49 24 5 48-38z" color="#35985b"/>
<path d="M6054 4454l-23 12 34 26 23-13z" color="#1a8076"/>
<path d="M5364 4087l-24 24 24 26 25-28z" color="#8fb92a"/>
<path d="M5168 4178l-27 30 24 14 27-32z" color="#5ba544"/>
<path d="M6691 4581l-22 12 87 51 22-13z" color="#226073"/>
<path d="M5900 4433l-24 12 27 19 23-12z" color="#1a8373"/>
<path d="M6111 4467l-23 12 38 27 23-13z" color="#1a7c75"/>
<path d="M6435 4539l-22 11 68 49 22-11z" color="#206c77"/>
<path d="M5437 4140l-24-11 25 28 23 10z" color="#69962b"/>
<path d="M5291 4124l-24 30 24 17 25-32z" color="#75aa32"/>
<path d="M7868 4825l-43 31 95 63 40-19z" color="#3b2b6b"/>
<path d="M3952 4608l-86 92 23 12 86-88z" color="#265873"/>
<path d="M4809 4295l-55 60 24 9 55-52z" color="#2b9461"/>
<path d="M5851 4426l-23 11 25 19 23-11z" color="#1a8572"/>
<path d="M5558 4271l-23-23 25 24 23 22z" color="#2d703d"/>
<path d="M3821 4675l-87 75 22 7 88-71z" color="#294a6e"/>
<path d="M5218 4159l-26 31 25 23 25-30z" color="#68af41"/>
<path d="M7288 4672l-23 18 93 57 22-14z" color="#2c5278"/>
<path d="M5729 4388l-23-1 25 18 23 1z" color="#197b61"/>
<path d="M6332 4516l-22 10 58 44 22-8z" color="#1e7075"/>
<path d="M7132 4654l-22 14 92 64 21-13z" color="#2a5477"/>
<path d="M5087 4224l-32 29 24 16 33-27z" color="#4ba754"/>
<path d="M6547 4564l-22 12 79 50 22-11z" color="#216776"/>
<path d="M4730 4339l-64 79 24 13 64-76z" color="#1e8867"/>
<path d="M6171 4479l-22 14 43 30 23-12z" color="#1b7b76"/>
<path d="M5340 4111l-24 28 24 26 24-28z" color="#83b631"/>
<path d="M4239 4538l-86 66 23 13 86-66z" color="#206a75"/>
<path d="M5656 4350l-23-20 25 18 23 21z" color="#1c6746"/>
<path d="M3690 4734l-89 61 22 9 89-61z" color="#2e406c"/>
<path d="M7573 4740l-29 18 90 92 29-18z" color="#354176"/>
<path d="M6821 4619l-22 13 91 56 21-11z" color="#265b75"/>
<path d="M5141 4208l-29 34 24 14 29-34z" color="#52a44b"/>
<path d="M3372 4767l-93 39 34 22 92-39z" color="#303c6d"/>
<path d="M4522 4463l-82 72 24 13 81-78z" color="#1a7570"/>
<path d="M5267 4154l-25 29 25 20 24-32z" color="#6aab3c"/>
<path d="M5802 4416l-23 12 25 18 24-9z" color="#1a8771"/>
<path d="M6976 4632l-21 14 91 57 22-11z" color="#275a76"/>
<path d="M5461 4167l-23-10 25 27 23 12z" color="#629732"/>
<path d="M5389 4109l-25 28 25 21 24-29z" color="#84b12d"/>
<path d="M5031 4231l-36 29 24 20 36-27z" color="#4ead57"/>
<path d="M8008 4873l-48 27 99 40 47-22z" color="#361e5a"/>
<path d="M5192 4190l-27 32 25 23 27-32z" color="#5dab48"/>
<path d="M4394 4507l-86 73 24 15 85-74z" color="#1e7277"/>
<path d="M4642 4401l-73 76 23 17 74-76z" color="#198370"/>
<path d="M6237 4499l-22 12 50 37 23-12z" color="#1c7877"/>
<path d="M7427 4702l-24 16 91 73 24-15z" color="#2f4d78"/>
<path d="M4970 4251l-41 32 24 16 42-39z" color="#45a053"/>
<path d="M4107 4580l-87 74 23 14 87-75z" color="#236275"/>
<path d="M5316 4139l-25 32 25 20 24-26z" color="#77b036"/>
<path d="M5977 4459l-23 13 31 21 23-14z" color="#1a8174"/>
<path d="M3553 4773l-90 57 25 16 89-61z" color="#323a6e"/>
<path d="M5926 4452l-23 12 28 20 23-12z" color="#1a8374"/>
<path d="M5583 4294l-23-22 25 21 23 21z" color="#2a6e3e"/>
<path d="M6031 4466l-23 13 34 26 23-13z" color="#1a8176"/>
<path d="M5242 4183l-25 30 24 22 26-32z" color="#61aa44"/>
<path d="M6669 4593l-22 12 87 51 22-12z" color="#226173"/>
<path d="M5364 4137l-24 28 25 25 24-32z" color="#77af35"/>
<path d="M5876 4445l-23 11 27 22 23-14z" color="#1a8574"/>
<path d="M6088 4479l-23 13 38 27 23-13z" color="#1a7e76"/>
<path d="M7694 4816l-31 16 93 73 32-22z" color="#39326f"/>
<path d="M4905 4279l-48 38 24 8 48-42z" color="#369153"/>
<path d="M5486 4196l-23-12 24 24 24 15z" color="#558d35"/>
<path d="M5754 4406l-23-1 25 15 23 8z" color="#18765e"/>
<path d="M3975 4624l-86 88 22 12 87-85z" color="#265974"/>
<path d="M6413 4550l-23 12 69 48 22-11z" color="#1f6c76"/>
<path d="M7265 4690l-21 15 93 56 21-14z" color="#2b5176"/>
<path d="M5681 4369l-23-21 25 19 23 20z" color="#1b6747"/>
<path d="M5413 4129l-24 29 25 21 24-22z" color="#81b431"/>
<path d="M5165 4222l-29 34 25 21 29-32z" color="#53aa4f"/>
<path d="M5112 4242l-33 27 25 7 32-20z" color="#489d4e"/>
<path d="M5291 4171l-24 32 24 17 25-29z" color="#67a83d"/>
<path d="M5828 4437l-24 9 26 18 23-8z" color="#19836f"/>
<path d="M4833 4312l-55 52 24 1 55-48z" color="#2a8958"/>
<path d="M3844 4686l-88 71 22 10 88-67z" color="#2a4e72"/>
<path d="M7110 4668l-21 12 92 62 21-10z" color="#295475"/>
<path d="M6149 4493l-23 13 43 31 23-14z" color="#1b7c77"/>
<path d="M6525 4576l-22 12 78 50 23-12z" color="#216776"/>
<path d="M5217 4213l-27 32 24 23 27-33z" color="#55a74b"/>
<path d="M6310 4526l-22 10 58 44 22-10z" color="#1d7275"/>
<path d="M4262 4551l-86 66 23 14 86-66z" color="#206b76"/>
<path d="M4754 4355l-64 76 23 4 65-71z" color="#1e8260"/>
<path d="M5055 4253l-36 27 24 9 36-20z" color="#47a252"/>
<path d="M5340 4165l-24 26 25 29 24-30z" color="#6fb03d"/>
<path d="M6955 4646l-22 17 92 51 21-11z" color="#275a76"/>
<path d="M3712 4743l-89 61 22 10 89-64z" color="#2c416c"/>
<path d="M4545 4470l-81 78 23 8 82-79z" color="#19736c"/>
<path d="M5511 4223l-24-15 25 28 23 12z" color="#4e8b38"/>
<path d="M4666 4418l-74 76 24 23 74-86z" color="#198170"/>
<path d="M6799 4632l-21-1 91 61 21-4z" color="#21556b"/>
<path d="M5608 4314l-23-21 25 21 23 16z" color="#297041"/>
<path d="M5389 4158l-24 32 25 19 24-30z" color="#6fa936"/>
<path d="M5267 4203l-26 32 25 16 25-31z" color="#5ca644"/>
<path d="M4417 4521l-85 74 23 14 85-74z" color="#1d7075"/>
<path d="M7544 4758l-26 18 90 92 26-18z" color="#344276"/>
<path d="M5438 4157l-24 22 25 30 24-25z" color="#79b539"/>
<path d="M4995 4260l-42 39 24 12 42-31z" color="#45a558"/>
<path d="M6215 4511l-23 12 50 37 23-12z" color="#1c7876"/>
<path d="M5954 4472l-23 12 31 24 23-15z" color="#1a8376"/>
<path d="M3405 4789l-92 39 30 20 93-37z" color="#313e6f"/>
<path d="M4130 4593l-87 75 23 12 87-76z" color="#226174"/>
<path d="M6008 4479l-23 14 34 28 23-16z" color="#1b8377"/>
<path d="M5903 4464l-23 14 28 20 23-14z" color="#1a8474"/>
<path d="M5779 4428l-23-8 26 15 22 11z" color="#166d57"/>
<path d="M5316 4191l-25 29 25 28 25-28z" color="#65ae44"/>
<path d="M7403 4718l-23 15 92 72 22-14z" color="#2e4e78"/>
<path d="M5190 4245l-29 32 24 21 29-30z" color="#4eaa54"/>
<path d="M6647 4605l-21 10 86 54 22-13z" color="#226375"/>
<path d="M6065 4492l-23 13 38 29 23-15z" color="#1b7f77"/>
<path d="M5706 4387l-23-20 26 21 22 17z" color="#1b694a"/>
<path d="M5365 4190l-24 30 24 23 25-34z" color="#63a840"/>
<path d="M3577 4785l-89 61 23 13 90-64z" color="#303b6c"/>
<path d="M4929 4283l-48 42 24 18 48-44z" color="#3ea25c"/>
<path d="M3998 4639l-87 85 23 11 86-81z" color="#255973"/>
<path d="M5853 4456l-23 8 27 21 23-7z" color="#198270"/>
<path d="M7825 4856l-37 27 95 60 37-24z" color="#3a2d6c"/>
<path d="M5241 4235l-27 33 25 18 27-35z" color="#50a34c"/>
<path d="M5136 4256l-32 20 24 23 33-22z" color="#4fac55"/>
<path d="M5535 4248l-23-12 25 28 23 8z" color="#4a8d3d"/>
<path d="M7244 4705l-21 14 93 55 21-13z" color="#2a5175"/>
<path d="M6390 4562l-22 8 68 51 23-11z" color="#1e6d74"/>
<path d="M8163 4869l-57 49 106 1 56-40z" color="#2d2657"/>
<path d="M5414 4179l-24 30 24 26 25-26z" color="#6eaf3d"/>
<path d="M5463 4184l-24 25 24 23 24-24z" color="#6fb03d"/>
<path d="M6126 4506l-23 13 43 32 23-14z" color="#1b7c77"/>
<path d="M4285 4565l-86 66 23 17 86-68z" color="#206d78"/>
<path d="M3866 4700l-88 67 22 11 89-66z" color="#294f71"/>
<path d="M6503 4588l-22 11 78 53 22-14z" color="#216876"/>
<path d="M7089 4680l-21 12 92 60 21-10z" color="#285474"/>
<path d="M5291 4220l-25 31 25 24 25-27z" color="#5cab49"/>
<path d="M5633 4330l-23-16 25 22 23 12z" color="#2d7a47"/>
<path d="M6288 4536l-23 12 58 44 23-12z" color="#1d7677"/>
<path d="M5341 4220l-25 28 25 26 24-31z" color="#5baa48"/>
<path d="M5079 4269l-36 20 25 15 36-28z" color="#489e4e"/>
<path d="M4857 4317l-55 48 24 17 55-57z" color="#33995e"/>
<path d="M6933 4663l-22 14 92 50 22-13z" color="#265a75"/>
<path d="M7663 4832l-29 18 93 73 29-18z" color="#393471"/>
<path d="M4690 4431l-74 86 24 10 73-92z" color="#187968"/>
<path d="M4778 4364l-65 71 24 2 65-72z" color="#21825c"/>
<path d="M4569 4477l-82 79 24 6 81-68z" color="#197970"/>
<path d="M4440 4535l-85 74 23 12 86-73z" color="#1d7074"/>
<path d="M5560 4272l-23-8 25 29 23 0z" color="#479143"/>
<path d="M3734 4750l-89 64 22 13 89-70z" color="#2c456e"/>
<path d="M5214 4268l-29 30 25 13 29-25z" color="#49a654"/>
<path d="M5390 4209l-25 34 25 19 24-27z" color="#61a741"/>
<path d="M5804 4446l-22-11 26 16 22 13z" color="#156854"/>
<path d="M5985 4493l-23 15 33 28 24-15z" color="#1b8378"/>
<path d="M5931 4484l-23 14 31 24 23-14z" color="#1a8476"/>
<path d="M5019 4280l-42 31 25 5 41-27z" color="#41974e"/>
<path d="M6192 4523l-23 14 51 36 22-13z" color="#1c7a76"/>
<path d="M5439 4209l-25 26 25 28 24-31z" color="#62ab44"/>
<path d="M5731 4405l-22-17 25 18 22 14z" color="#1a694b"/>
<path d="M5161 4277l-33 22 25 18 32-19z" color="#49aa58"/>
<path d="M5487 4208l-24 24 25 26 24-22z" color="#67ac41"/>
<path d="M6778 4631l-22 13 91 57 22-9z" color="#236074"/>
<path d="M4153 4604l-87 76 23 12 87-75z" color="#226273"/>
<path d="M5266 4251l-27 35 25 20 27-31z" color="#4fa54e"/>
<path d="M7518 4776l-24 15 90 94 24-17z" color="#344276"/>
<path d="M5880 4478l-23 7 28 22 23-9z" color="#19806f"/>
<path d="M5316 4248l-25 27 24 30 26-31z" color="#51a74e"/>
<path d="M6042 4505l-23 16 38 28 23-15z" color="#1b8078"/>
<path d="M7380 4733l-22 14 92 71 22-13z" color="#2e4e77"/>
<path d="M6626 4615l-22 11 86 57 22-14z" color="#226575"/>
<path d="M4953 4299l-48 44 25 7 47-39z" color="#3a9856"/>
<path d="M3436 4811l-93 37 27 17 93-35z" color="#313d6e"/>
<path d="M5658 4348l-23-12 25 30 23 1z" color="#2d8450"/>
<path d="M4020 4654l-86 81 22 9 87-76z" color="#245971"/>
<path d="M5365 4243l-24 31 25 20 24-32z" color="#53a248"/>
<path d="M7960 4900l-40 19 98 47 41-26z" color="#35245e"/>
<path d="M7223 4719l-21 13 93 55 21-13z" color="#2a5174"/>
<path d="M3601 4795l-90 64 23 12 89-67z" color="#303d6d"/>
<path d="M4308 4580l-86 68 23 17 87-70z" color="#206c77"/>
<path d="M5585 4293l-23 0 24 40 24-19z" color="#44994d"/>
<path d="M6103 4519l-23 15 43 32 23-15z" color="#1b7e77"/>
<path d="M6368 4570l-22 10 68 53 22-12z" color="#1e7077"/>
<path d="M5512 4236l-24 22 25 38 24-32z" color="#58a547"/>
<path d="M5414 4235l-24 27 25 29 24-28z" color="#5bab49"/>
<path d="M5104 4276l-36 28 24 20 36-25z" color="#4dad57"/>
<path d="M6481 4599l-22 11 78 57 22-15z" color="#216b78"/>
<path d="M5463 4232l-24 31 25 25 24-30z" color="#59a445"/>
<path d="M3889 4712l-89 66 23 12 88-66z" color="#295072"/>
<path d="M4881 4325l-55 57 24 10 55-49z" color="#329a5f"/>
<path d="M7068 4692l-22 11 92 59 22-10z" color="#275573"/>
<path d="M5291 4275l-27 31 24 28 27-29z" color="#49a554"/>
<path d="M6265 4548l-23 12 59 44 22-12z" color="#1d7777"/>
<path d="M6911 4677l-21 11 92 53 21-14z" color="#255a74"/>
<path d="M5341 4274l-26 31 25 21 26-32z" color="#49a251"/>
<path d="M4592 4494l-81 68 24 27 81-72z" color="#1b8078"/>
<path d="M5239 4286l-29 25 24 16 30-21z" color="#4aa856"/>
<path d="M5830 4464l-22-13 26 22 23 12z" color="#156a56"/>
<path d="M5683 4367l-23-1 25 35 24-13z" color="#2d8f5a"/>
<path d="M5537 4264l-24 32 25 31 24-34z" color="#4b9e4d"/>
<path d="M5610 4314l-24 19 25 33 24-30z" color="#3d9d58"/>
<path d="M5756 4420l-22-14 25 20 23 9z" color="#1b6f4f"/>
<path d="M5962 4508l-23 14 33 29 23-15z" color="#1b8378"/>
<path d="M7788 4883l-32 22 95 60 32-22z" color="#3a2e6d"/>
<path d="M5185 4298l-32 19 25 10 32-16z" color="#449c51"/>
<path d="M5390 4262l-24 32 24 25 25-28z" color="#51a54d"/>
<path d="M6169 4537l-23 14 51 38 23-16z" color="#1c7c78"/>
<path d="M5439 4263l-24 28 25 31 24-34z" color="#4ea24d"/>
<path d="M5488 4258l-24 30 25 35 24-27z" color="#4ea04b"/>
<path d="M4464 4548l-86 73 24 10 85-75z" color="#1c6d70"/>
<path d="M5043 4289l-41 27 24 21 42-33z" color="#4ba855"/>
<path d="M5908 4498l-23 9 30 27 24-12z" color="#1a8274"/>
<path d="M3756 4757l-89 70 23 15 88-75z" color="#2d4872"/>
<path d="M4802 4365l-65 72 24 16 65-71z" color="#269265"/>
<path d="M6019 4521l-24 15 38 30 24-17z" color="#1b8178"/>
<path d="M7634 4850l-26 18 93 72 26-17z" color="#393672"/>
<path d="M4713 4435l-73 92 24 5 73-95z" color="#17745f"/>
<path d="M4176 4617l-87 75 23 14 87-75z" color="#226475"/>
<path d="M6756 4644l-22 12 91 58 22-13z" color="#236377"/>
<path d="M7358 4747l-21 14 92 70 21-13z" color="#2d4f78"/>
<path d="M5562 4293l-24 34 24 32 24-26z" color="#409a52"/>
<path d="M6604 4626l-23 12 87 59 22-14z" color="#226878"/>
<path d="M7494 4791l-22 14 90 93 22-13z" color="#344376"/>
<path d="M5513 4296l-24 27 24 37 25-33z" color="#409b53"/>
<path d="M5315 4305l-27 29 25 22 27-30z" color="#42a359"/>
<path d="M5128 4299l-36 25 25 14 36-21z" color="#47a556"/>
<path d="M4332 4595l-87 70 24 17 86-73z" color="#1f6a75"/>
<path d="M5635 4336l-24 30 25 26 24-26z" color="#369a5b"/>
<path d="M6080 4534l-23 15 43 34 23-17z" color="#1b7f79"/>
<path d="M5415 4291l-25 28 25 35 25-32z" color="#449f52"/>
<path d="M5586 4333l-24 26 25 40 24-33z" color="#33955a"/>
<path d="M4043 4668l-87 76 23 11 87-75z" color="#245a71"/>
<path d="M3463 4830l-93 35 25 16 93-35z" color="#303c6c"/>
<path d="M7202 4732l-21 10 93 58 21-13z" color="#295274"/>
<path d="M4977 4311l-47 39 24 7 48-41z" color="#3d9550"/>
<path d="M5366 4294l-26 32 25 22 25-29z" color="#47a152"/>
<path d="M5464 4288l-24 34 24 26 25-25z" color="#459d50"/>
<path d="M5709 4388l-24 13 25 28 24-23z" color="#2a9362"/>
<path d="M4616 4517l-81 72 24 26 81-88z" color="#1b7a76"/>
<path d="M5264 4306l-30 21 25 24 29-17z" color="#46a95a"/>
<path d="M3623 4804l-89 67 22 13 89-70z" color="#304070"/>
<path d="M6346 4580l-23 12 69 52 22-11z" color="#1e7277"/>
<path d="M5538 4327l-25 33 25 29 24-30z" color="#379657"/>
<path d="M6459 4610l-23 11 78 61 23-15z" color="#216d79"/>
<path d="M5857 4485l-23-12 28 23 23 11z" color="#156b58"/>
<path d="M5782 4435l-23-9 25 30 24-5z" color="#1e7e5b"/>
<path d="M3911 4724l-88 66 23 12 88-67z" color="#285171"/>
<path d="M5489 4323l-25 25 25 41 24-29z" color="#389656"/>
<path d="M6242 4560l-22 13 58 44 23-13z" color="#1c7777"/>
<path d="M5660 4366l-24 26 25 37 24-28z" color="#2c935f"/>
<path d="M5611 4366l-24 33 25 29 24-36z" color="#2b8f5d"/>
<path d="M7046 4703l-21 11 92 60 21-12z" color="#275875"/>
<path d="M4905 4343l-55 49 24 1 56-43z" color="#308c54"/>
<path d="M5440 4322l-25 32 25 28 24-34z" color="#3a9856"/>
<path d="M6890 4688l-21 4 91 57 22-8z" color="#23576f"/>
<path d="M5068 4304l-42 33 25 13 41-26z" color="#48a857"/>
<path d="M5562 4359l-24 30 25 36 24-26z" color="#2d915d"/>
<path d="M6146 4551l-23 15 50 40 24-17z" color="#1c7d7a"/>
<path d="M5390 4319l-25 29 25 33 25-27z" color="#3d9d58"/>
<path d="M5939 4522l-24 12 34 29 23-12z" color="#1a8075"/>
<path d="M5210 4311l-32 16 24 19 32-19z" color="#49a453"/>
<path d="M5995 4536l-23 15 38 33 23-18z" color="#1b8179"/>
<path d="M5513 4360l-24 29 25 33 24-33z" color="#2e945e"/>
<path d="M8106 4918l-47 22 104 18 49-39z" color="#2c2757"/>
<path d="M4826 4382l-65 71 24 9 65-70z" color="#258d61"/>
<path d="M4199 4631l-87 75 23 15 87-73z" color="#236678"/>
<path d="M5340 4326l-27 30 25 12 27-20z" color="#3ea059"/>
<path d="M5685 4401l-24 28 25 33 24-33z" color="#248e64"/>
<path d="M3778 4767l-88 75 22 14 88-78z" color="#2c4a72"/>
<path d="M5587 4399l-24 26 25 34 24-31z" color="#258f64"/>
<path d="M6734 4656l-22 13 91 60 22-15z" color="#236578"/>
<path d="M5734 4406l-24 23 25 22 24-25z" color="#279365"/>
<path d="M5288 4334l-29 17 25 19 29-14z" color="#40a55c"/>
<path d="M4487 4556l-85 75 23 9 86-78z" color="#1a6e6e"/>
<path d="M7337 4761l-21 13 92 71 21-14z" color="#2d5078"/>
<path d="M5636 4392l-24 36 25 26 24-25z" color="#268e62"/>
<path d="M5464 4348l-24 34 25 29 24-22z" color="#33965b"/>
<path d="M6581 4638l-22 14 87 62 22-17z" color="#226979"/>
<path d="M6057 4549l-24 17 44 36 23-19z" color="#1c7f7a"/>
<path d="M7608 4868l-24 17 93 70 24-15z" color="#383671"/>
<path d="M4355 4609l-86 73 23 16 86-77z" color="#1f6a74"/>
<path d="M5808 4451l-24 5 27 31 23-14z" color="#1e8765"/>
<path d="M7472 4805l-22 13 91 92 21-12z" color="#347"/>
<path d="M5415 4354l-25 27 24 23 26-22z" color="#369f61"/>
<path d="M7920 4919l-37 24 96 60 39-37z" color="#3a2a69"/>
<path d="M5153 4317l-36 21 24 10 37-21z" color="#449b4f"/>
<path d="M4737 4437l-73 95 23-1 74-78z" color="#1a7f64"/>
<path d="M4640 4527l-81 88 24 21 81-104z" color="#1a716e"/>
<path d="M5538 4389l-24 33 25 22 24-19z" color="#299463"/>
<path d="M5002 4316l-48 41 24 18 48-38z" color="#46a95b"/>
<path d="M7756 4905l-29 18 95 63 29-21z" color="#3a2f6e"/>
<path d="M5885 4507l-23-11 31 28 22 10z" color="#166f5e"/>
<path d="M7181 4742l-21 10 92 63 22-15z" color="#295476"/>
<path d="M4066 4680l-87 75 23 12 87-75z" color="#245d73"/>
<path d="M3488 4846l-93 35 24 16 92-38z" color="#2f3c6b"/>
<path d="M5661 4429l-24 25 25 36 24-28z" color="#1f8b68"/>
<path d="M5489 4389l-24 22 24 29 25-18z" color="#2b9866"/>
<path d="M6323 4592l-22 12 68 56 23-16z" color="#1e7478"/>
<path d="M3645 4814l-89 70 22 13 89-70z" color="#314372"/>
<path d="M5710 4429l-24 33 25 25 24-36z" color="#1f8763"/>
<path d="M6436 4621l-22 12 78 63 22-14z" color="#216d79"/>
<path d="M5612 4428l-24 31 25 20 24-25z" color="#218f69"/>
<path d="M6220 4573l-23 16 58 44 23-16z" color="#1d7a79"/>
<path d="M5234 4327l-32 19 25 24 32-19z" color="#46a95a"/>
<path d="M5365 4348l-27 20 25 27 27-14z" color="#3ca35e"/>
<path d="M5759 4426l-24 25 26 30 23-25z" color="#239169"/>
<path d="M3934 4735l-88 67 22 15 88-73z" color="#275272"/>
<path d="M6123 4566l-23 17 50 40 23-17z" color="#1c7d7a"/>
<path d="M7025 4714l-22 13 93 59 21-12z" color="#275a76"/>
<path d="M5563 4425l-24 19 25 29 24-14z" color="#23936a"/>
<path d="M5092 4324l-41 26 24 8 42-20z" color="#449c51"/>
<path d="M5972 4551l-23 12 38 34 23-13z" color="#1b7e76"/>
<path d="M5686 4462l-24 28 25 28 24-31z" color="#1c8a6c"/>
<path d="M5440 4382l-26 22 25 18 26-11z" color="#329f64"/>
<path d="M4222 4648l-87 73 24 16 86-72z" color="#236678"/>
<path d="M5834 4473l-23 14 28 29 23-20z" color="#1c8567"/>
<path d="M4930 4350l-56 43 24 10 56-46z" color="#3a9957"/>
<path d="M5313 4356l-29 14 25 14 29-16z" color="#3c9c57"/>
<path d="M6869 4692l-22 9 92 58 21-10z" color="#235d72"/>
<path d="M6712 4669l-22 14 91 63 22-17z" color="#246679"/>
<path d="M4511 4562l-86 78 24 21 86-72z" color="#1d7979"/>
<path d="M3800 4778l-88 78 23 14 88-80z" color="#2c4b72"/>
<path d="M6033 4566l-23 18 43 34 24-16z" color="#1c7e79"/>
<path d="M5514 4422l-25 18 26 16 24-12z" color="#289869"/>
<path d="M6559 4652l-22 15 86 61 23-14z" color="#226979"/>
<path d="M5784 4456l-23 25 26 34 24-28z" color="#1e8c6c"/>
<path d="M7316 4774l-21 13 92 73 21-15z" color="#2e5179"/>
<path d="M5637 4454l-24 25 25 24 24-13z" color="#1f8f6d"/>
<path d="M5735 4451l-24 36 25 22 25-28z" color="#1d8766"/>
<path d="M5390 4381l-27 14 25 27 26-18z" color="#35a164"/>
<path d="M5178 4327l-37 21 25 24 36-26z" color="#4ba956"/>
<path d="M4850 4392l-65 70 24 4 65-73z" color="#268356"/>
<path d="M5915 4534l-22-10 34 32 22 7z" color="#166f61"/>
<path d="M5026 4337l-48 38 25 12 48-37z" color="#41a056"/>
<path d="M4378 4621l-86 77 24 11 86-78z" color="#1d666f"/>
<path d="M5259 4351l-32 19 25 20 32-20z" color="#41a75c"/>
<path d="M5588 4459l-24 14 25 22 24-16z" color="#20936f"/>
<path d="M7450 4818l-21 13 91 89 21-10z" color="#324677"/>
<path d="M7584 4885l-22 13 93 69 22-12z" color="#373670"/>
<path d="M4089 4692l-87 75 23 16 87-77z" color="#245f75"/>
<path d="M5465 4411l-26 11 25 29 25-11z" color="#2c9b66"/>
<path d="M7160 4752l-22 10 93 68 21-15z" color="#295677"/>
<path d="M4761 4453l-74 78 24 9 74-78z" color="#1c876a"/>
<path d="M6301 4604l-23 13 68 57 23-14z" color="#1e7679"/>
<path d="M6197 4589l-24 17 59 43 23-16z" color="#1d7a7a"/>
<path d="M4664 4532l-81 104 24 7 80-112z" color="#176963"/>
<path d="M3667 4827l-89 70 22 11 90-66z" color="#314372"/>
<path d="M5711 4487l-24 31 25 19 24-28z" color="#1b866d"/>
<path d="M3511 4859l-92 38 22 14 93-40z" color="#2f3e6d"/>
<path d="M6414 4633l-22 11 77 67 23-15z" color="#216f79"/>
<path d="M5811 4487l-24 28 28 32 24-31z" color="#1a866d"/>
<path d="M6100 4583l-23 19 50 36 23-15z" color="#1d7c7a"/>
<path d="M5662 4490l-24 13 25 28 24-13z" color="#1c8d72"/>
<path d="M5761 4481l-25 28 27 31 24-25z" color="#1b896e"/>
<path d="M4535 4589l-86 72 24 24 86-70z" color="#1e787b"/>
<path d="M5862 4496l-23 20 30 31 24-23z" color="#1b866c"/>
<path d="M7727 4923l-26 17 95 65 26-19z" color="#3a306f"/>
<path d="M3956 4744l-88 73 23 15 88-77z" color="#285574"/>
<path d="M7003 4727l-21 14 92 59 22-14z" color="#275c77"/>
<path d="M5539 4444l-24 12 25 24 24-7z" color="#25956a"/>
<path d="M5338 4368l-29 16 25 24 29-13z" color="#3ea35c"/>
<path d="M4245 4665l-86 72 23 17 87-72z" color="#236679"/>
<path d="M7883 4943l-32 22 95 68 33-30z" color="#3c2a6b"/>
<path d="M5117 4338l-42 20 25 14 41-24z" color="#469c4e"/>
<path d="M5202 4346l-36 26 25 22 36-24z" color="#47ab5b"/>
<path d="M5414 4404l-26 18 25 15 26-15z" color="#329e63"/>
<path d="M4954 4357l-56 46 24 19 56-47z" color="#3ea55e"/>
<path d="M6690 4683l-22 14 90 68 23-19z" color="#24667a"/>
<path d="M6010 4584l-23 13 43 36 23-15z" color="#1c7c78"/>
<path d="M6537 4667l-23 15 87 60 22-14z" color="#226a79"/>
<path d="M5613 4479l-24 16 25 15 24-7z" color="#1f8f6d"/>
<path d="M3823 4790l-88 80 23 13 88-81z" color="#2c4c73"/>
<path d="M6847 4701l-22 13 92 58 22-13z" color="#246176"/>
<path d="M5489 4440l-25 11 25 21 26-16z" color="#289768"/>
<path d="M5949 4563l-22-7 37 47 23-6z" color="#18776c"/>
<path d="M5787 4515l-24 25 28 32 24-25z" color="#1a8672"/>
<path d="M7295 4787l-21 13 92 74 21-14z" color="#2d5179"/>
<path d="M5284 4370l-32 20 25 12 32-18z" color="#3e9e58"/>
<path d="M5839 4516l-24 31 30 32 24-32z" color="#19816e"/>
<path d="M8059 4940l-41 26 102 26 43-34z" color="#312e61"/>
<path d="M5687 4518l-24 13 26 22 23-16z" color="#1b8b73"/>
<path d="M5736 4509l-24 28 27 17 24-14z" color="#1b8a72"/>
<path d="M5363 4395l-29 13 24 29 30-15z" color="#36a162"/>
<path d="M4559 4615l-86 70 24 23 86-72z" color="#1f757b"/>
<path d="M4112 4706l-87 77 23 20 87-82z" color="#256077"/>
<path d="M5564 4473l-24 7 25 28 24-13z" color="#21936d"/>
<path d="M4402 4631l-86 78 23 18 86-87z" color="#1e6c74"/>
<path d="M5051 4350l-48 37 24 7 48-36z" color="#41974f"/>
<path d="M6173 4606l-23 17 59 43 23-17z" color="#1d7979"/>
<path d="M7429 4831l-21 14 91 85 21-10z" color="#324777"/>
<path d="M6278 4617l-23 16 68 56 23-15z" color="#1e777b"/>
<path d="M5893 4524l-24 23 34 31 24-22z" color="#1a846f"/>
<path d="M7138 4762l-21 12 92 69 22-13z" color="#295778"/>
<path d="M6077 4602l-24 16 51 37 23-17z" color="#1c7a79"/>
<path d="M7562 4898l-21 12 94 67 20-10z" color="#363870"/>
<path d="M4874 4393l-65 73 24 1 65-64z" color="#2e8d57"/>
<path d="M6392 4644l-23 16 77 65 23-14z" color="#216f7a"/>
<path d="M3534 4871l-93 40 23 15 92-42z" color="#2f3f6d"/>
<path d="M3690 4842l-90 66 23 10 89-62z" color="#2f4370"/>
<path d="M5439 4422l-26 15 25 24 26-10z" color="#309d65"/>
<path d="M5227 4370l-36 24 25 17 36-21z" color="#42a65c"/>
<path d="M4785 4462l-74 78 24 13 74-87z" color="#1c8465"/>
<path d="M5141 4348l-41 24 25 26 41-26z" color="#4bab57"/>
<path d="M3979 4755l-88 77 24 23 87-88z" color="#285777"/>
<path d="M5638 4503l-24 7 25 31 24-10z" color="#1d8c6f"/>
<path d="M4269 4682l-87 72 23 15 87-71z" color="#236577"/>
<path d="M5815 4547l-24 25 30 31 24-24z" color="#1a8374"/>
<path d="M6982 4741l-22 8 92 64 22-13z" color="#265b76"/>
<path d="M4687 4531l-80 112 23 4 81-107z" color="#166c61"/>
<path d="M6668 4697l-22 17 90 68 22-17z" color="#25677b"/>
<path d="M4978 4375l-56 47 25 11 56-46z" color="#3a9b59"/>
<path d="M5515 4456l-26 16 26 16 25-8z" color="#279668"/>
<path d="M7701 4940l-24 15 95 67 24-17z" color="#39316f"/>
<path d="M5763 4540l-24 14 28 30 24-12z" color="#1a8874"/>
<path d="M5869 4547l-24 32 34 30 24-31z" color="#187d6e"/>
<path d="M5388 4422l-30 15 26 17 29-17z" color="#319c62"/>
<path d="M5987 4597l-23 6 43 45 23-15z" color="#1a7b75"/>
<path d="M6514 4682l-22 14 86 60 23-14z" color="#226a79"/>
<path d="M5309 4384l-32 18 25 22 32-16z" color="#40a35b"/>
<path d="M6825 4714l-22 15 92 58 22-15z" color="#246377"/>
<path d="M3846 4802l-88 81 22 15 88-81z" color="#2c4d74"/>
<path d="M7274 4800l-22 15 92 73 22-14z" color="#2d5279"/>
<path d="M5712 4537l-23 16 26 16 24-15z" color="#1a8871"/>
<path d="M5589 4495l-24 13 25 15 24-13z" color="#1f8d6b"/>
<path d="M4583 4636l-86 72 24 22 86-87z" color="#1f7077"/>
<path d="M5927 4556l-24 22 37 50 24-25z" color="#197f72"/>
<path d="M4135 4721l-87 82 24 18 87-84z" color="#245f76"/>
<path d="M4425 4640l-86 87 24 22 86-88z" color="#206f78"/>
<path d="M5464 4451l-26 10 25 26 26-15z" color="#2a9968"/>
<path d="M7851 4965l-29 21 96 65 28-18z" color="#3b2a6a"/>
<path d="M5663 4531l-24 10 26 26 24-14z" color="#1b8c73"/>
<path d="M6150 4623l-23 15 59 44 23-16z" color="#1d7879"/>
<path d="M5166 4372l-41 26 24 21 42-25z" color="#45a95b"/>
<path d="M6255 4633l-23 16 68 55 23-15z" color="#1e767a"/>
<path d="M6053 4618l-23 15 51 37 23-15z" color="#1c7978"/>
<path d="M5075 4358l-48 36 25 14 48-36z" color="#4aa452"/>
<path d="M7408 4845l-21 15 92 81 20-11z" color="#314877"/>
<path d="M4002 4767l-87 88 23 24 87-96z" color="#295677"/>
<path d="M5540 4480l-25 8 25 29 25-9z" color="#23946b"/>
<path d="M6369 4660l-23 14 78 64 22-13z" color="#206f79"/>
<path d="M7117 4774l-21 12 92 68 21-11z" color="#285877"/>
<path d="M5845 4579l-24 24 34 27 24-21z" color="#1a8177"/>
<path d="M5252 4390l-36 21 24 13 37-22z" color="#3e9f58"/>
<path d="M5791 4572l-24 12 31 30 23-11z" color="#1a8476"/>
<path d="M3556 4884l-92 42 22 14 92-43z" color="#2e3f6c"/>
<path d="M5334 4408l-32 16 24 29 32-16z" color="#38a261"/>
<path d="M4898 4403l-65 64 25 13 64-58z" color="#35a062"/>
<path d="M3712 4856l-89 62 22 12 90-60z" color="#2e4370"/>
<path d="M7541 4910l-21 10 94 67 21-10z" color="#353970"/>
<path d="M4292 4698l-87 71 24 11 87-71z" color="#216172"/>
<path d="M6646 4714l-23 14 90 69 23-15z" color="#24667a"/>
<path d="M5413 4437l-29 17 25 18 29-11z" color="#319c63"/>
<path d="M5614 4510l-24 13 25 25 24-7z" color="#1e8e6d"/>
<path d="M5903 4578l-24 31 38 32 23-13z" color="#1a7f74"/>
<path d="M4809 4466l-74 87 25 11 73-97z" color="#1d7f5f"/>
<path d="M5964 4603l-24 25 43 46 24-26z" color="#1b7975"/>
<path d="M6960 4749l-21 10 92 66 21-12z" color="#255d76"/>
<path d="M4449 4661l-86 88 24 21 86-85z" color="#216e79"/>
<path d="M5739 4554l-24 15 29 24 23-9z" color="#1a8873"/>
<path d="M3868 4817l-88 81 24 20 87-86z" color="#2d4f77"/>
<path d="M6492 4696l-23 15 87 60 22-15z" color="#226a79"/>
<path d="M6803 4729l-22 17 92 54 22-13z" color="#246378"/>
<path d="M8018 4966l-39 37 104 19 37-30z" color="#332e64"/>
<path d="M5003 4387l-56 46 24 7 56-46z" color="#3c9652"/>
<path d="M5489 4472l-26 15 25 13 27-12z" color="#279365"/>
<path d="M7677 4955l-22 12 95 71 22-16z" color="#39326e"/>
<path d="M4711 4540l-81 107 24 4 81-98z" color="#177365"/>
<path d="M5689 4553l-24 14 26 18 24-16z" color="#1a8872"/>
<path d="M7252 4815l-21 15 92 74 21-16z" color="#2d5279"/>
<path d="M4159 4737l-87 84 23 16 87-83z" color="#245f76"/>
<path d="M5191 4394l-42 25 25 16 42-24z" color="#41a45a"/>
<path d="M5565 4508l-25 9 25 21 25-15z" color="#20906c"/>
<path d="M4607 4643l-86 87 24 18 85-101z" color="#1c686e"/>
<path d="M6127 4638l-23 17 59 43 23-16z" color="#1d7878"/>
<path d="M5358 4437l-32 16 25 19 33-18z" color="#329c61"/>
<path d="M5100 4372l-48 36 25 22 48-32z" color="#4aac5a"/>
<path d="M4025 4783l-87 96 24 22 86-98z" color="#2a5375"/>
<path d="M6232 4649l-23 17 68 53 23-15z" color="#1e767a"/>
<path d="M6030 4633l-23 15 50 42 24-20z" color="#1c7977"/>
<path d="M5639 4541l-24 7 26 30 24-11z" color="#1c8b71"/>
<path d="M5821 4603l-23 11 33 32 24-16z" color="#1b8177"/>
<path d="M5277 4402l-37 22 25 18 37-18z" color="#41a45b"/>
<path d="M5438 4461l-29 11 25 29 29-14z" color="#2c9b67"/>
<path d="M6346 4674l-23 15 78 63 23-14z" color="#20707a"/>
<path d="M7387 4860l-21 14 92 78 21-11z" color="#304977"/>
<path d="M7822 4986l-26 19 96 61 26-15z" color="#3a2b6a"/>
<path d="M4922 4422l-64 58 24 17 65-64z" color="#329a60"/>
<path d="M3578 4897l-92 43 22 13 92-45z" color="#2c3e69"/>
<path d="M7096 4786l-22 14 93 63 21-9z" color="#285977"/>
<path d="M5879 4609l-24 21 38 24 24-13z" color="#1a7f76"/>
<path d="M5767 4584l-23 9 30 33 24-12z" color="#1a8575"/>
<path d="M4473 4685l-86 85 24 20 86-82z" color="#226c7a"/>
<path d="M3735 4870l-90 60 22 14 91-61z" color="#2f4572"/>
<path d="M4316 4709l-87 71 23 21 87-74z" color="#236779"/>
<path d="M5940 4628l-23 13 43 43 23-10z" color="#1c7a77"/>
<path d="M5515 4488l-27 12 25 28 27-11z" color="#26966a"/>
<path d="M6623 4728l-22 14 90 67 22-12z" color="#246478"/>
<path d="M3891 4832l-87 86 23 24 88-87z" color="#2f4e78"/>
<path d="M7520 4920l-21 10 94 68 21-11z" color="#343c71"/>
<path d="M6781 4746l-23 19 93 51 22-16z" color="#246277"/>
<path d="M6939 4759l-22 13 92 67 22-14z" color="#265f78"/>
<path d="M5590 4523l-25 15 25 19 25-9z" color="#20916d"/>
<path d="M5125 4398l-48 32 24 21 48-32z" color="#44a95c"/>
<path d="M5715 4569l-24 16 29 18 24-10z" color="#1a8771"/>
<path d="M6469 4711l-23 14 87 62 23-16z" color="#226978"/>
<path d="M5665 4567l-24 11 26 23 24-16z" color="#1a8872"/>
<path d="M4833 4467l-73 97 24 9 74-93z" color="#21835d"/>
<path d="M4182 4754l-87 83 23 15 87-83z" color="#245d74"/>
<path d="M4048 4803l-86 98 23 22 87-102z" color="#2a5174"/>
<path d="M7231 4830l-22 13 92 75 22-14z" color="#2d5279"/>
<path d="M5216 4411l-42 24 25 13 41-24z" color="#3f9e57"/>
<path d="M5302 4424l-37 18 25 27 36-16z" color="#3ba35f"/>
<path d="M6007 4648l-24 26 50 35 24-19z" color="#1d7576"/>
<path d="M6104 4655l-23 15 58 44 24-16z" color="#1d7879"/>
<path d="M5384 4454l-33 18 26 14 32-14z" color="#329a60"/>
<path d="M7655 4967l-20 10 93 74 22-13z" color="#38336f"/>
<path d="M5027 4394l-56 46 25 8 56-40z" color="#43a054"/>
<path d="M5463 4487l-29 14 25 18 29-19z" color="#289566"/>
<path d="M4735 4553l-81 98 24 2 82-89z" color="#187b69"/>
<path d="M6209 4666l-23 16 68 53 23-16z" color="#1e767a"/>
<path d="M5540 4517l-27 11 25 27 27-17z" color="#22946d"/>
<path d="M4497 4708l-86 82 24 19 86-79z" color="#226b7a"/>
<path d="M4630 4647l-85 101 24 6 85-103z" color="#1a6568"/>
<path d="M5798 4614l-24 12 34 31 23-11z" color="#1a8276"/>
<path d="M3915 4855l-88 87 24 27 87-90z" color="#304b77"/>
<path d="M4339 4727l-87 74 24 23 87-75z" color="#24677b"/>
<path d="M7979 5003l-33 30 104 15 33-26z" color="#312a5f"/>
<path d="M6323 4689l-23 15 78 61 23-13z" color="#20707a"/>
<path d="M5855 4630l-24 16 38 26 24-18z" color="#1b7e76"/>
<path d="M5615 4548l-25 9 26 32 25-11z" color="#1d8d6f"/>
<path d="M7366 4874l-22 14 93 75 21-11z" color="#304a77"/>
<path d="M4947 4433l-65 64 25 13 64-70z" color="#33965b"/>
<path d="M3758 4883l-91 61 23 18 90-64z" color="#304775"/>
<path d="M3600 4908l-92 45 22 11 93-46z" color="#2b3e67"/>
<path d="M5744 4593l-24 10 30 37 24-14z" color="#1a8775"/>
<path d="M7074 4800l-22 13 94 58 21-8z" color="#275874"/>
<path d="M5326 4453l-36 16 25 22 36-19z" color="#369f60"/>
<path d="M6601 4742l-23 14 91 65 22-12z" color="#236477"/>
<path d="M7796 5005l-24 17 97 59 23-15z" color="#3a2c6b"/>
<path d="M5149 4419l-48 32 25 16 48-32z" color="#41a45b"/>
<path d="M5917 4641l-24 13 43 37 24-7z" color="#1b7b76"/>
<path d="M6758 4765l-22 17 92 49 23-15z" color="#246075"/>
<path d="M5409 4472l-32 14 25 29 32-14z" color="#2f9d65"/>
<path d="M4072 4821l-87 102 24 18 86-104z" color="#294e71"/>
<path d="M7499 4930l-20 11 94 69 20-12z" color="#343e72"/>
<path d="M6446 4725l-22 13 86 64 23-15z" color="#226a79"/>
<path d="M5691 4585l-24 16 29 18 24-16z" color="#1a8872"/>
<path d="M5983 4674l-23 10 50 41 23-16z" color="#1d7577"/>
<path d="M6917 4772l-22 15 92 65 22-13z" color="#256078"/>
<path d="M5488 4500l-29 19 25 20 29-11z" color="#289768"/>
<path d="M6081 4670l-24 20 59 46 23-22z" color="#1e787a"/>
<path d="M5240 4424l-41 24 25 18 41-24z" color="#42a459"/>
<path d="M3938 4879l-87 90 24 27 87-95z" color="#314776"/>
<path d="M5565 4538l-27 17 25 18 27-16z" color="#20936e"/>
<path d="M5052 4408l-56 40 25 22 56-40z" color="#47ab5b"/>
<path d="M5641 4578l-25 11 26 29 25-17z" color="#1b8c74"/>
<path d="M4205 4769l-87 83 24 10 87-82z" color="#235c71"/>
<path d="M7209 4843l-21 11 92 77 21-13z" color="#2c5278"/>
<path d="M4858 4480l-74 93 24 7 74-83z" color="#258c61"/>
<path d="M6186 4682l-23 16 68 53 23-16z" color="#1e767a"/>
<path d="M4363 4749l-87 75 24 21 87-75z" color="#25657b"/>
<path d="M4521 4730l-86 79 24 18 86-79z" color="#23697a"/>
<path d="M7635 4977l-21 10 94 75 20-11z" color="#373670"/>
<path d="M5774 4626l-24 14 34 34 24-17z" color="#1b8378"/>
<path d="M5831 4646l-23 11 38 32 23-17z" color="#1b7f77"/>
<path d="M3780 4898l-90 64 24 23 90-67z" color="#324878"/>
<path d="M6300 4704l-23 15 78 61 23-15z" color="#20717a"/>
<path d="M5434 4501l-32 14 25 24 32-20z" color="#2a9a68"/>
<path d="M4760 4564l-82 89 24 6 82-86z" color="#19816c"/>
<path d="M5513 4528l-29 11 25 34 29-18z" color="#23946c"/>
<path d="M7344 4888l-21 16 93 72 21-13z" color="#304b78"/>
<path d="M5351 4472l-36 19 25 14 37-19z" color="#339b5f"/>
<path d="M5265 4442l-41 24 25 28 41-25z" color="#3da55f"/>
<path d="M3962 4901l-87 95 23 25 87-98z" color="#324374"/>
<path d="M5590 4557l-27 16 26 28 27-12z" color="#1e906f"/>
<path d="M4654 4651l-85 103 24 5 85-106z" color="#196767"/>
<path d="M4971 4440l-64 70 24 12 65-74z" color="#349457"/>
<path d="M5174 4435l-48 32 25 14 48-33z" color="#3fa058"/>
<path d="M5720 4603l-24 16 30 32 24-11z" color="#1a8774"/>
<path d="M5077 4430l-56 40 24 22 56-41z" color="#42a95e"/>
<path d="M6736 4782l-23 15 93 49 22-15z" color="#235f74"/>
<path d="M6578 4756l-22 15 90 63 23-13z" color="#236677"/>
<path d="M3623 4918l-93 46 23 11 92-45z" color="#2a4169"/>
<path d="M6057 4690l-24 19 60 36 23-9z" color="#1d7577"/>
<path d="M7052 4813l-21 12 93 55 22-9z" color="#255873"/>
<path d="M7946 5033l-28 18 103 20 29-23z" color="#30285c"/>
<path d="M5893 4654l-24 18 44 27 23-8z" color="#1b7d76"/>
<path d="M4095 4837l-86 104 23 11 86-100z" color="#294d70"/>
<path d="M7772 5022l-22 16 96 59 23-16z" color="#3a2c6b"/>
<path d="M5667 4601l-25 17 28 19 26-18z" color="#1a8872"/>
<path d="M4387 4770l-87 75 24 20 87-75z" color="#25647a"/>
<path d="M6424 4738l-23 14 87 64 22-14z" color="#216b79"/>
<path d="M6895 4787l-22 13 92 66 22-14z" color="#256178"/>
<path d="M7479 4941l-21 11 94 71 21-13z" color="#334073"/>
<path d="M5960 4684l-24 7 50 47 24-13z" color="#1d7777"/>
<path d="M4229 4780l-87 82 23 19 87-80z" color="#256279"/>
<path d="M6163 4698l-24 16 68 56 24-19z" color="#1f767a"/>
<path d="M3804 4918l-90 67 24 27 89-70z" color="#334577"/>
<path d="M5538 4555l-29 18 25 17 29-17z" color="#20916e"/>
<path d="M5616 4589l-27 12 26 33 27-16z" color="#1b8b72"/>
<path d="M4882 4497l-74 83 24 8 75-78z" color="#279264"/>
<path d="M7188 4854l-21 9 92 79 21-11z" color="#2b5376"/>
<path d="M5459 4519l-32 20 25 15 32-15z" color="#299767"/>
<path d="M4545 4748l-86 79 24 7 86-80z" color="#1f5f6e"/>
<path d="M5290 4469l-41 25 25 23 41-26z" color="#38a363"/>
<path d="M5377 4486l-37 19 25 27 37-17z" color="#339f63"/>
<path d="M5808 4657l-24 17 38 31 24-16z" color="#1b8078"/>
<path d="M6277 4719l-23 16 78 61 23-16z" color="#20717a"/>
<path d="M5750 4640l-24 11 34 37 24-14z" color="#1a8377"/>
<path d="M7614 4987l-21 11 95 73 20-9z" color="#363871"/>
<path d="M3985 4923l-87 98 23 15 88-95z" color="#314070"/>
<path d="M5101 4451l-56 41 25 22 56-47z" color="#3ea65f"/>
<path d="M4784 4573l-82 86 24 20 82-99z" color="#1a826d"/>
<path d="M7323 4904l-22 14 93 72 22-14z" color="#304c78"/>
<path d="M5199 4448l-48 33 25 16 48-31z" color="#41a359"/>
<path d="M3827 4942l-89 70 23 29 90-72z" color="#343f74"/>
<path d="M4996 4448l-65 74 25 13 65-65z" color="#399b59"/>
<path d="M6713 4797l-22 12 93 52 22-15z" color="#235f74"/>
<path d="M6556 4771l-23 16 91 63 22-16z" color="#23687a"/>
<path d="M4411 4790l-87 75 24 17 87-73z" color="#256279"/>
<path d="M6033 4709l-23 16 59 39 24-19z" color="#1d7477"/>
<path d="M6139 4714l-23 22 67 64 24-30z" color="#1f7077"/>
<path d="M5696 4619l-26 18 31 27 25-13z" color="#1a8874"/>
<path d="M4252 4801l-87 80 24 20 87-77z" color="#27617b"/>
<path d="M5869 4672l-23 17 43 26 24-16z" color="#1a7b75"/>
<path d="M5484 4539l-32 15 25 34 32-15z" color="#24946a"/>
<path d="M5563 4573l-29 17 26 26 29-15z" color="#1f916e"/>
<path d="M5402 4515l-37 17 26 29 36-22z" color="#2c9c68"/>
<path d="M7031 4825l-22 14 94 55 21-14z" color="#265c76"/>
<path d="M5642 4618l-27 16 29 19 26-16z" color="#1a8872"/>
<path d="M3645 4930l-92 45 22 11 92-42z" color="#2b446c"/>
<path d="M6873 4800l-22 16 92 64 22-14z" color="#256279"/>
<path d="M7750 5038l-22 13 97 61 21-15z" color="#392c6a"/>
<path d="M6401 4752l-23 13 87 63 23-12z" color="#216b78"/>
<path d="M4118 4852l-86 100 23 10 87-100z" color="#284d6e"/>
<path d="M7458 4952l-21 11 94 74 21-14z" color="#334274"/>
<path d="M4678 4653l-85 106 24 3 85-103z" color="#186966"/>
<path d="M5315 4491l-41 26 25 14 41-26z" color="#349b5f"/>
<path d="M7918 5051l-26 15 103 26 26-21z" color="#302a5d"/>
<path d="M5936 4691l-23 8 50 50 23-11z" color="#1c7876"/>
<path d="M4907 4510l-75 78 25 19 74-85z" color="#279466"/>
<path d="M3851 4969l-90 72 24 31 90-76z" color="#363a72"/>
<path d="M6254 4735l-23 16 78 62 23-17z" color="#20717a"/>
<path d="M5784 4674l-24 14 38 33 24-16z" color="#1b8178"/>
<path d="M5224 4466l-48 31 25 29 48-32z" color="#3da55e"/>
<path d="M5589 4601l-29 15 26 33 29-15z" color="#1c8c71"/>
<path d="M7167 4863l-21 8 92 78 21-7z" color="#295475"/>
<path d="M5509 4573l-32 15 25 24 32-22z" color="#20926e"/>
<path d="M5126 4467l-56 47 25 19 56-52z" color="#3ca25d"/>
<path d="M5726 4651l-25 13 34 38 25-14z" color="#1a8376"/>
<path d="M4009 4941l-88 95 23 9 88-93z" color="#2e3e6b"/>
<path d="M7593 4998l-20 12 94 71 21-10z" color="#363a72"/>
<path d="M4276 4824l-87 77 24 19 87-75z" color="#285f7b"/>
<path d="M7301 4918l-21 13 93 73 21-14z" color="#2f4c77"/>
<path d="M4808 4580l-82 99 25 18 81-109z" color="#197f6a"/>
<path d="M4569 4754l-86 80 23 2 87-77z" color="#1d5d68"/>
<path d="M6116 4736l-23 9 67 69 23-14z" color="#1f7179"/>
<path d="M5021 4470l-65 65 24 11 65-54z" color="#3ba25f"/>
<path d="M5427 4539l-36 22 25 16 36-23z" color="#299968"/>
<path d="M6010 4725l-24 13 59 45 24-19z" color="#1e7579"/>
<path d="M4435 4809l-87 73 24 13 87-68z" color="#245e75"/>
<path d="M6533 4787l-23 15 91 63 23-15z" color="#236779"/>
<path d="M5846 4689l-24 16 44 29 23-19z" color="#1b7b75"/>
<path d="M3875 4996l-90 76 24 28 89-79z" color="#373570"/>
<path d="M6691 4809l-22 12 92 55 23-15z" color="#236175"/>
<path d="M5670 4637l-26 16 30 24 27-13z" color="#1a8773"/>
<path d="M7009 4839l-22 13 93 59 23-17z" color="#265d78"/>
<path d="M6851 4816l-23 15 93 64 22-15z" color="#256279"/>
<path d="M5249 4494l-48 32 25 27 48-36z" color="#37a463"/>
<path d="M3667 4944l-92 42 22 11 93-35z" color="#2b476e"/>
<path d="M5340 4505l-41 26 25 22 41-21z" color="#359f61"/>
<path d="M6378 4765l-23 15 87 62 23-14z" color="#216c79"/>
<path d="M4142 4862l-87 100 23 18 87-99z" color="#295173"/>
<path d="M7728 5051l-20 11 96 63 21-13z" color="#382d69"/>
<path d="M5615 4634l-29 15 29 21 29-17z" color="#1a8771"/>
<path d="M4931 4522l-74 85 25 25 74-97z" color="#259065"/>
<path d="M7437 4963l-21 13 94 74 21-13z" color="#334375"/>
<path d="M5534 4590l-32 22 26 20 32-16z" color="#20926e"/>
<path d="M6231 4751l-24 19 79 61 23-18z" color="#20717b"/>
<path d="M5913 4699l-24 16 51 46 23-12z" color="#1c7c78"/>
<path d="M4702 4659l-85 103 24 3 85-86z" color="#19746d"/>
<path d="M5452 4554l-36 23 25 30 36-19z" color="#26966a"/>
<path d="M5151 4481l-56 52 25 17 56-53z" color="#3ba05c"/>
<path d="M5760 4688l-25 14 38 34 25-15z" color="#1b8077"/>
<path d="M7892 5066l-23 15 102 30 24-19z" color="#312c61"/>
<path d="M4300 4845l-87 75 24 20 87-75z" color="#285e7b"/>
<path d="M5045 4492l-65 54 25 25 65-57z" color="#38a463"/>
<path d="M5365 4532l-41 21 25 30 42-22z" color="#2e9d67"/>
<path d="M3898 5021l-89 79 24 17 88-81z" color="#36316b"/>
<path d="M4832 4588l-81 109 24 16 82-106z" color="#197f68"/>
<path d="M7146 4871l-22 9 93 76 21-7z" color="#285776"/>
<path d="M6093 4745l-24 19 68 62 23-12z" color="#1f7379"/>
<path d="M5822 4705l-24 16 43 30 25-17z" color="#1b7b76"/>
<path d="M5986 4738l-23 11 59 52 23-18z" color="#1e7679"/>
<path d="M5701 4664l-27 13 34 38 27-13z" color="#1a8576"/>
<path d="M7573 5010l-21 13 95 70 20-12z" color="#363b73"/>
<path d="M4032 4952l-88 93 23 15 88-98z" color="#2e426e"/>
<path d="M7280 4931l-21 11 93 74 21-12z" color="#2e4c76"/>
<path d="M5274 4517l-48 36 25 18 48-40z" color="#339d61"/>
<path d="M5560 4616l-32 16 27 32 31-15z" color="#1c8d70"/>
<path d="M6510 4802l-22 14 91 61 22-12z" color="#226676"/>
<path d="M4459 4827l-87 68 24 12 87-73z" color="#21586b"/>
<path d="M5477 4588l-36 19 25 27 36-22z" color="#21946e"/>
<path d="M6669 4821l-23 13 93 58 22-16z" color="#236377"/>
<path d="M4165 4881l-87 99 24 19 87-98z" color="#295174"/>
<path d="M6987 4852l-22 14 93 65 22-20z" color="#275e79"/>
<path d="M6207 4770l-24 30 79 58 24-27z" color="#206874"/>
<path d="M3690 4962l-93 35 23 11 94-23z" color="#2b476e"/>
<path d="M6828 4831l-22 15 93 62 22-13z" color="#256278"/>
<path d="M6355 4780l-23 16 87 60 23-14z" color="#216c79"/>
<path d="M4956 4535l-74 97 24 22 74-108z" color="#238961"/>
<path d="M4593 4759l-87 77 24 3 87-77z" color="#1a5d64"/>
<path d="M5644 4653l-29 17 31 19 28-12z" color="#1a8570"/>
<path d="M5176 4497l-56 53 25 19 56-43z" color="#3aa360"/>
<path d="M5070 4514l-65 57 25 27 65-65z" color="#33a065"/>
<path d="M7416 4976l-22 14 94 73 22-13z" color="#324475"/>
<path d="M7708 5062l-20 9 96 64 20-10z" color="#372e69"/>
<path d="M5391 4561l-42 22 26 18 41-24z" color="#299766"/>
<path d="M4324 4865l-87 75 24 19 87-77z" color="#285b78"/>
<path d="M5889 4715l-23 19 50 38 24-11z" color="#1b7c77"/>
<path d="M4726 4679l-85 86 24 15 86-83z" color="#1a7c75"/>
<path d="M5586 4649l-31 15 28 24 32-18z" color="#1a8871"/>
<path d="M4857 4607l-82 106 25 10 82-91z" color="#1a836b"/>
<path d="M5735 4702l-27 13 38 37 27-16z" color="#1b8077"/>
<path d="M7869 5081l-23 16 102 32 23-18z" color="#322e63"/>
<path d="M5502 4612l-36 22 26 15 36-17z" color="#1f8f6c"/>
<path d="M3921 5036l-88 81 22 10 89-82z" color="#333167"/>
<path d="M6069 4764l-24 19 69 54 23-11z" color="#1e7278"/>
<path d="M6183 4800l-23 14 78 61 24-17z" color="#226b79"/>
<path d="M5798 4721l-25 15 43 31 25-16z" color="#1b7b76"/>
<path d="M4055 4962l-88 98 24 21 87-101z" color="#304472"/>
<path d="M5299 4531l-48 40 25 12 48-30z" color="#349d61"/>
<path d="M4189 4901l-87 98 24 20 87-99z" color="#2a5174"/>
<path d="M5963 4749l-23 12 58 54 24-14z" color="#1e7679"/>
<path d="M5201 4526l-56 43 25 30 56-46z" color="#32a064"/>
<path d="M7552 5023l-21 14 95 69 21-13z" color="#353d73"/>
<path d="M6646 4834l-22 16 92 59 23-17z" color="#246377"/>
<path d="M6965 4866l-22 14 93 68 22-17z" color="#275e7a"/>
<path d="M7124 4880l-21 14 93 72 21-10z" color="#285b78"/>
<path d="M4980 4546l-74 108 25 19 74-102z" color="#238760"/>
<path d="M6488 4816l-23 12 91 62 23-13z" color="#226777"/>
<path d="M3714 4985l-94 23 22 12 96-8z" color="#2a446b"/>
<path d="M7259 4942l-21 7 93 78 21-11z" color="#2d4d76"/>
<path d="M5095 4533l-65 65 25 23 65-71z" color="#2f9b64"/>
<path d="M6332 4796l-23 17 87 61 23-18z" color="#216d79"/>
<path d="M5416 4577l-41 24 25 26 41-20z" color="#289868"/>
<path d="M5674 4677l-28 12 33 41 29-15z" color="#1a8675"/>
<path d="M6806 4846l-22 15 92 61 23-14z" color="#246278"/>
<path d="M4483 4834l-87 73 24 14 86-85z" color="#1f5a6b"/>
<path d="M4348 4882l-87 77 23 17 88-81z" color="#275976"/>
<path d="M7394 4990l-21 14 94 73 21-14z" color="#324576"/>
<path d="M5866 4734l-25 17 51 35 24-14z" color="#1b7b76"/>
<path d="M4751 4697l-86 83 24 16 86-83z" color="#1a7a74"/>
<path d="M5528 4632l-36 17 27 32 36-17z" color="#1e8f70"/>
<path d="M5324 4553l-48 30 25 33 48-33z" color="#2e9c65"/>
<path d="M4882 4632l-82 91 24 17 82-86z" color="#1b8872"/>
<path d="M4617 4762l-87 77 24 13 87-87z" color="#1b666a"/>
<path d="M7688 5071l-21 10 97 64 20-10z" color="#36316a"/>
<path d="M5226 4553l-56 46 25 22 56-50z" color="#2e9d67"/>
<path d="M5441 4607l-41 20 25 31 41-24z" color="#22946d"/>
<path d="M5615 4670l-32 18 31 17 32-16z" color="#19836c"/>
<path d="M4078 4980l-87 101 24 21 87-103z" color="#304372"/>
<path d="M4213 4920l-87 99 24 21 87-100z" color="#2a4f73"/>
<path d="M7846 5097l-21 15 102 34 21-17z" color="#332e64"/>
<path d="M5005 4571l-74 102 25 15 74-90z" color="#238c64"/>
<path d="M3738 5012l-96 8 24 19 95 2z" color="#2b426a"/>
<path d="M6160 4814l-23 12 78 65 23-16z" color="#226b79"/>
<path d="M6045 4783l-23 18 68 45 24-9z" color="#1e7378"/>
<path d="M3944 5045l-89 82 24 24 88-91z" color="#36356d"/>
<path d="M5708 4715l-29 15 38 37 29-15z" color="#1a8177"/>
<path d="M5773 4736l-27 16 44 32 26-17z" color="#1b7c76"/>
<path d="M5120 4550l-65 71 25 15 65-67z" color="#2d9662"/>
<path d="M5940 4761l-24 11 58 58 24-15z" color="#1d7779"/>
<path d="M6624 4850l-23 15 92 59 23-15z" color="#236477"/>
<path d="M6943 4880l-22 15 92 69 23-16z" color="#275e79"/>
<path d="M6309 4813l-23 18 87 61 23-18z" color="#226d7a"/>
<path d="M7531 5037l-21 13 95 68 21-12z" color="#353d73"/>
<path d="M7103 4894l-23 17 94 69 22-14z" color="#285d7a"/>
<path d="M6465 4828l-23 14 91 60 23-12z" color="#216776"/>
<path d="M5349 4583l-48 33 26 22 48-37z" color="#299969"/>
<path d="M5555 4664l-36 17 28 22 36-15z" color="#1b886f"/>
<path d="M6784 4861l-23 15 93 60 22-14z" color="#246378"/>
<path d="M4906 4654l-82 86 25 30 82-97z" color="#1a8471"/>
<path d="M7238 4949l-21 7 93 80 21-9z" color="#2c4f75"/>
<path d="M3761 5041l-95-2 24 27 95 6z" color="#2c3f6a"/>
<path d="M5466 4634l-41 24 26 14 41-23z" color="#1f8e6b"/>
<path d="M4506 4836l-86 85 24 13 86-95z" color="#20606f"/>
<path d="M4372 4895l-88 81 24 15 88-84z" color="#265874"/>
<path d="M5841 4751l-25 16 51 36 25-17z" color="#1b7b76"/>
<path d="M7373 5004l-21 12 94 74 21-13z" color="#314676"/>
<path d="M4102 4999l-87 103 24 21 87-104z" color="#314171"/>
<path d="M5030 4598l-74 90 25 23 74-90z" color="#218f6a"/>
<path d="M4237 4940l-87 100 23 20 88-101z" color="#2a4e73"/>
<path d="M4775 4713l-86 83 25 10 86-83z" color="#197770"/>
<path d="M5646 4689l-32 16 33 41 32-16z" color="#1a8774"/>
<path d="M5251 4571l-56 50 25 10 56-48z" color="#2c9561"/>
<path d="M3967 5060l-88 91 24 26 88-96z" color="#37336d"/>
<path d="M4641 4765l-87 87 24 11 87-83z" color="#1c7073"/>
<path d="M7667 5081l-20 12 96 63 21-11z" color="#36346d"/>
<path d="M7825 5112l-21 13 101 38 22-17z" color="#332f65"/>
<path d="M5145 4569l-65 67 25 12 65-49z" color="#2d9a65"/>
<path d="M6286 4831l-24 27 87 55 24-21z" color="#216b78"/>
<path d="M6022 4801l-24 14 69 47 23-16z" color="#1f7278"/>
<path d="M6137 4826l-23 11 77 70 24-16z" color="#226c79"/>
<path d="M3785 5072l-95-6 24 27 95 7z" color="#2d3a68"/>
<path d="M5375 4601l-48 37 25 16 48-27z" color="#289768"/>
<path d="M6601 4865l-22 12 91 62 23-15z" color="#236477"/>
<path d="M7080 4911l-22 20 94 65 22-16z" color="#285d7a"/>
<path d="M5916 4772l-24 14 58 60 24-16z" color="#1d7879"/>
<path d="M6921 4895l-22 13 92 70 22-14z" color="#265e78"/>
<path d="M4931 4673l-82 97 25 20 82-102z" color="#197e6f"/>
<path d="M5746 4752l-29 15 44 33 29-16z" color="#1b7c76"/>
<path d="M7510 5050l-22 13 96 66 21-11z" color="#343e73"/>
<path d="M6442 4842l-23 14 91 59 23-13z" color="#216877"/>
<path d="M6761 4876l-22 16 92 59 23-15z" color="#246378"/>
<path d="M5583 4688l-36 15 31 19 36-17z" color="#1a836a"/>
<path d="M5492 4649l-41 23 27 29 41-20z" color="#1f916f"/>
<path d="M5055 4621l-74 90 25 24 74-99z" color="#1e8969"/>
<path d="M5679 4730l-32 16 38 37 32-16z" color="#1a8376"/>
<path d="M4126 5019l-87 104 23 20 88-103z" color="#323f71"/>
<path d="M3991 5081l-88 96 24 24 88-99z" color="#37306b"/>
<path d="M5276 4583l-56 48 26 21 55-36z" color="#2e9c66"/>
<path d="M4261 4959l-88 101 24 17 87-101z" color="#2a4d72"/>
<path d="M4396 4907l-88 84 24 14 88-84z" color="#265874"/>
<path d="M5170 4599l-65 49 25 28 65-55z" color="#2a9c6a"/>
<path d="M7217 4956l-21 10 93 78 21-8z" color="#2b5376"/>
<path d="M5816 4767l-26 17 50 35 27-16z" color="#1b7b76"/>
<path d="M5400 4627l-48 27 25 32 48-28z" color="#23956c"/>
<path d="M3809 5100l-95-7 23 28 96-4z" color="#2e3666"/>
<path d="M7352 5016l-21 11 93 77 22-14z" color="#314776"/>
<path d="M6262 4858l-24 17 88 56 23-18z" color="#226878"/>
<path d="M4530 4839l-86 95 24 12 86-94z" color="#206372"/>
<path d="M4800 4723l-86 83 24 10 86-76z" color="#197970"/>
<path d="M4665 4780l-87 83 24 8 87-75z" color="#1c7072"/>
<path d="M7804 5125l-20 10 100 45 21-17z" color="#333067"/>
<path d="M5998 4815l-24 15 69 53 24-21z" color="#1f7279"/>
<path d="M7647 5093l-21 13 96 64 21-14z" color="#36376f"/>
<path d="M7058 4931l-22 17 93 68 23-20z" color="#295c7a"/>
<path d="M5519 4681l-41 20 28 26 41-24z" color="#1c8c70"/>
<path d="M6114 4837l-24 9 78 76 23-15z" color="#216c79"/>
<path d="M4956 4688l-82 102 25 13 82-92z" color="#197c6d"/>
<path d="M5892 4786l-25 17 58 60 25-17z" color="#1d7879"/>
<path d="M5301 4616l-55 36 25 29 56-43z" color="#289a6b"/>
<path d="M6579 4877l-23 13 92 64 22-15z" color="#236577"/>
<path d="M6899 4908l-23 14 93 69 22-13z" color="#265f77"/>
<path d="M5614 4705l-36 17 34 42 35-18z" color="#1b8973"/>
<path d="M6739 4892l-23 17 93 58 22-16z" color="#246378"/>
<path d="M6419 4856l-23 18 91 56 23-15z" color="#216a78"/>
<path d="M4150 5040l-88 103 24 19 87-102z" color="#323e70"/>
<path d="M4015 5102l-88 99 23 19 89-97z" color="#372e6a"/>
<path d="M5080 4636l-74 99 25 15 74-102z" color="#1c8263"/>
<path d="M5425 4658l-48 28 26 17 48-31z" color="#1f8d69"/>
<path d="M7488 5063l-21 14 96 62 21-10z" color="#323e71"/>
<path d="M5195 4621l-65 55 25 20 65-65z" color="#269468"/>
<path d="M3833 5117l-96 4 25 28 93-22z" color="#2e3463"/>
<path d="M4824 4740l-86 76 25 27 86-73z" color="#1b8078"/>
<path d="M4284 4976l-87 101 24 13 87-99z" color="#2a4c71"/>
<path d="M5717 4767l-32 16 44 32 32-15z" color="#1a7b73"/>
<path d="M6238 4875l-23 16 87 55 24-15z" color="#226778"/>
<path d="M4420 4921l-88 84 24 13 88-84z" color="#265973"/>
<path d="M7196 4966l-22 14 93 75 22-11z" color="#2a5578"/>
<path d="M5790 4784l-29 16 50 37 29-18z" color="#1b7b75"/>
<path d="M5974 4830l-24 16 68 57 25-20z" color="#1f737a"/>
<path d="M7331 5027l-21 9 93 80 21-12z" color="#304875"/>
<path d="M4554 4852l-86 94 23 8 87-91z" color="#1f6270"/>
<path d="M7036 4948l-23 16 94 71 22-19z" color="#295b7a"/>
<path d="M4981 4711l-82 92 24 21 83-89z" color="#1a8274"/>
<path d="M5327 4638l-56 43 25 13 56-40z" color="#259367"/>
<path d="M5647 4746l-35 18 38 36 35-17z" color="#1a8476"/>
<path d="M7784 5135l-20 10 99 52 21-17z" color="#35326a"/>
<path d="M7626 5106l-21 12 96 68 21-16z" color="#363871"/>
<path d="M5547 4703l-41 24 31 18 41-23z" color="#1b896d"/>
<path d="M4689 4796l-87 75 25 6 87-71z" color="#1a6e6e"/>
<path d="M6090 4846l-23 16 77 74 24-14z" color="#216e79"/>
<path d="M4173 5060l-87 102 24 19 87-104z" color="#323c6f"/>
<path d="M4039 5123l-89 97 24 15 88-92z" color="#372d69"/>
<path d="M5867 4803l-27 16 59 60 26-16z" color="#1d7979"/>
<path d="M6556 4890l-23 12 92 64 23-12z" color="#226476"/>
<path d="M6396 4874l-23 18 91 53 23-15z" color="#216977"/>
<path d="M5451 4672l-48 31 27 20 48-22z" color="#20916c"/>
<path d="M4849 4770l-86 73 25 21 86-74z" color="#1c7e79"/>
<path d="M6876 4922l-22 14 93 69 22-14z" color="#266078"/>
<path d="M6716 4909l-23 15 93 58 23-15z" color="#246277"/>
<path d="M3855 5127l-93 22 24 27 93-25z" color="#33396e"/>
<path d="M5105 4648l-74 102 25 10 74-84z" color="#1e8967"/>
<path d="M5220 4631l-65 65 25 12 66-56z" color="#279467"/>
<path d="M7467 5077l-21 13 97 57 20-8z" color="#313f70"/>
<path d="M6215 4891l-24 16 88 56 23-17z" color="#226878"/>
<path d="M4308 4991l-87 99 23 8 88-93z" color="#294d70"/>
<path d="M5006 4735l-83 89 25 23 83-97z" color="#197d72"/>
<path d="M5352 4654l-56 40 26 24 55-32z" color="#25976c"/>
<path d="M5950 4846l-25 17 68 62 25-22z" color="#20747b"/>
<path d="M4444 4934l-88 84 24 12 88-84z" color="#255972"/>
<path d="M7174 4980l-22 16 93 74 22-15z" color="#2b587a"/>
<path d="M7013 4964l-22 14 93 74 23-17z" color="#295b7a"/>
<path d="M3879 5151l-93 25 24 28 93-27z" color="#36366e"/>
<path d="M5578 4722l-41 23 34 39 41-20z" color="#1b8a73"/>
<path d="M5478 4701l-48 22 28 32 48-28z" color="#1d8f70"/>
<path d="M7764 5145l-21 11 99 57 21-16z" color="#36356e"/>
<path d="M7310 5036l-21 8 93 84 21-12z" color="#2f4a76"/>
<path d="M6067 4862l-24 21 78 70 23-17z" color="#216f7a"/>
<path d="M7605 5118l-21 11 96 72 21-15z" color="#353a71"/>
<path d="M6373 4892l-24 21 92 51 23-19z" color="#216876"/>
<path d="M4578 4863l-87 91 24 7 87-90z" color="#1d616c"/>
<path d="M5130 4676l-74 84 25 25 74-89z" color="#1e8c6d"/>
<path d="M4062 5143l-88 92 23 14 89-87z" color="#382e6a"/>
<path d="M4197 5077l-87 104 24 18 87-109z" color="#313b6d"/>
<path d="M5761 4800l-32 15 51 41 31-19z" color="#1a7b74"/>
<path d="M5685 4783l-35 17 43 34 36-19z" color="#1a7e74"/>
<path d="M4874 4790l-86 74 24 12 87-73z" color="#1a7672"/>
<path d="M5246 4652l-66 56 26 24 65-51z" color="#26996d"/>
<path d="M4714 4806l-87 71 24 22 87-83z" color="#1b7472"/>
<path d="M6854 4936l-23 15 93 71 23-17z" color="#26627a"/>
<path d="M6693 4924l-23 15 94 57 22-14z" color="#236276"/>
<path d="M6533 4902l-23 13 92 64 23-13z" color="#226576"/>
<path d="M5840 4819l-29 18 59 60 29-18z" color="#1d7979"/>
<path d="M5377 4686l-55 32 25 23 56-38z" color="#21926d"/>
<path d="M3903 5177l-93 27 24 28 93-31z" color="#38326d"/>
<path d="M6191 4907l-23 15 87 58 24-17z" color="#226879"/>
<path d="M7446 5090l-22 14 98 54 21-11z" color="#30406f"/>
<path d="M5612 4764l-41 20 38 39 41-23z" color="#1a8675"/>
<path d="M5031 4750l-83 97 25 11 83-98z" color="#18776b"/>
<path d="M7152 4996l-23 20 94 73 22-19z" color="#2b587b"/>
<path d="M5925 4863l-26 16 68 64 26-18z" color="#20727b"/>
<path d="M4332 5005l-88 93 24 10 88-90z" color="#284e70"/>
<path d="M6991 4978l-22 13 93 77 22-16z" color="#285b79"/>
<path d="M5506 4727l-48 28 31 21 48-31z" color="#1c8b6f"/>
<path d="M6349 4913l-23 18 91 59 24-26z" color="#267"/>
<path d="M4468 4946l-88 84 24 11 87-87z" color="#23586f"/>
<path d="M5271 4681l-65 51 25 20 65-58z" color="#22936b"/>
<path d="M6043 4883l-25 20 79 66 24-16z" color="#216f7a"/>
<path d="M5155 4696l-74 89 25 15 74-92z" color="#1b8468"/>
<path d="M4738 4816l-87 83 25 22 87-78z" color="#1d7a79"/>
<path d="M7743 5156l-21 14 98 60 22-17z" color="#373670"/>
<path d="M4899 4803l-87 73 25 25 86-77z" color="#1b7c77"/>
<path d="M4086 5162l-89 87 24 12 89-80z" color="#382e6a"/>
<path d="M6831 4951l-22 16 92 74 23-19z" color="#26627b"/>
<path d="M7289 5044l-22 11 93 87 22-14z" color="#2f4e78"/>
<path d="M3927 5201l-93 31 24 27 92-39z" color="#392f6d"/>
<path d="M7584 5129l-21 10 96 76 21-14z" color="#353b71"/>
<path d="M4221 5090l-87 109 23 10 87-111z" color="#2f3969"/>
<path d="M6670 4939l-22 15 93 57 23-15z" color="#236276"/>
<path d="M4602 4871l-87 90 25 17 87-101z" color="#1d6770"/>
<path d="M5403 4703l-56 38 27 13 56-31z" color="#208f6a"/>
<path d="M6510 4915l-23 15 93 61 22-12z" color="#216676"/>
<path d="M6168 4922l-24 14 87 64 24-20z" color="#236879"/>
<path d="M7129 5016l-22 19 93 75 23-21z" color="#2c577b"/>
<path d="M5811 4837l-31 19 58 59 32-18z" color="#1d7a79"/>
<path d="M5729 4815l-36 19 51 40 36-18z" color="#1a7e76"/>
<path d="M5056 4760l-83 98 25 17 83-90z" color="#197f71"/>
<path d="M6326 4931l-24 15 91 62 24-18z" color="#236779"/>
<path d="M7424 5104l-21 12 97 54 22-12z" color="#2f4270"/>
<path d="M4923 4824l-86 77 25 24 86-78z" color="#1d7b7a"/>
<path d="M4763 4843l-87 78 25 14 87-71z" color="#1d7678"/>
<path d="M5537 4745l-48 31 34 33 48-25z" color="#1c8c72"/>
<path d="M5650 4800l-41 23 43 38 41-27z" color="#1a8377"/>
<path d="M6018 4903l-25 22 79 61 25-17z" color="#216e7a"/>
<path d="M6969 4991l-22 14 93 78 22-15z" color="#285c7a"/>
<path d="M5296 4694l-65 58 26 10 65-44z" color="#22916a"/>
<path d="M4356 5018l-88 90 24 15 88-93z" color="#285071"/>
<path d="M5899 4879l-29 18 68 64 29-18z" color="#20727a"/>
<path d="M5180 4708l-74 92 25 6 75-74z" color="#1d896a"/>
<path d="M7722 5170l-21 16 98 61 21-17z" color="#383671"/>
<path d="M4491 4954l-87 87 24 18 87-98z" color="#235c71"/>
<path d="M6809 4967l-23 15 92 78 23-19z" color="#26627b"/>
<path d="M3950 5220l-92 39 23 9 93-33z" color="#342961"/>
<path d="M5430 4723l-56 31 29 30 55-29z" color="#1f9270"/>
<path d="M4110 5181l-89 80 23 6 90-68z" color="#352c66"/>
<path d="M7267 5055l-22 15 93 88 22-16z" color="#2f4f79"/>
<path d="M4627 4877l-87 101 24 18 87-97z" color="#1f6b75"/>
<path d="M6648 4954l-23 12 93 60 23-15z" color="#236376"/>
<path d="M7563 5139l-20 8 95 80 21-12z" color="#343e72"/>
<path d="M6487 4930l-23 15 93 60 23-14z" color="#216877"/>
<path d="M7107 5035l-23 17 94 78 22-20z" color="#2c567b"/>
<path d="M6144 4936l-23 17 87 67 23-20z" color="#23697b"/>
<path d="M4244 5098l-87 111 24 9 87-110z" color="#2e3c69"/>
<path d="M5081 4785l-83 90 26 23 82-98z" color="#197d72"/>
<path d="M5571 4784l-48 25 38 43 48-29z" color="#1a8875"/>
<path d="M4948 4847l-86 78 25 16 86-83z" color="#1c7473"/>
<path d="M5322 4718l-65 44 25 28 65-49z" color="#21956f"/>
<path d="M6302 4946l-23 17 91 62 23-17z" color="#236779"/>
<path d="M4788 4864l-87 71 24 21 87-80z" color="#1d7476"/>
<path d="M6947 5005l-23 17 93 79 23-18z" color="#295d7b"/>
<path d="M7403 5116l-21 12 97 59 21-17z" color="#304473"/>
<path d="M5993 4925l-26 18 78 58 27-15z" color="#216d79"/>
<path d="M5206 4732l-75 74 26 24 74-78z" color="#1d8f71"/>
<path d="M5458 4755l-55 29 30 29 56-37z" color="#1d8e71"/>
<path d="M4380 5030l-88 93 24 15 88-97z" color="#285273"/>
<path d="M7701 5186l-21 15 98 63 21-17z" color="#383671"/>
<path d="M6786 4982l-22 14 92 81 22-17z" color="#26627a"/>
<path d="M4515 4961l-87 98 25 16 87-97z" color="#235e73"/>
<path d="M5780 4856l-36 18 58 59 36-18z" color="#1c7a79"/>
<path d="M4651 4899l-87 97 25 14 87-89z" color="#1f6a75"/>
<path d="M7245 5070l-22 19 93 86 22-17z" color="#2f507a"/>
<path d="M5870 4897l-32 18 68 61 32-15z" color="#1f7179"/>
<path d="M5693 4834l-41 27 51 41 41-28z" color="#1b8178"/>
<path d="M3974 5235l-93 33 23 5 93-24z" color="#2e2658"/>
<path d="M6625 4966l-23 13 93 63 23-16z" color="#236476"/>
<path d="M6121 4953l-24 16 86 70 25-19z" color="#24687b"/>
<path d="M6464 4945l-23 19 92 58 24-17z" color="#216978"/>
<path d="M7084 5052l-22 16 93 80 23-18z" color="#2d557b"/>
<path d="M4134 5199l-90 68 23 6 90-64z" color="#322d62"/>
<path d="M7543 5147l-21 11 94 83 22-14z" color="#334074"/>
<path d="M4812 4876l-87 80 25 28 87-83z" color="#1e7579"/>
<path d="M5347 4741l-65 49 27 19 65-55z" color="#1f8e6b"/>
<path d="M5106 4800l-82 98 25 11 82-103z" color="#187469"/>
<path d="M5609 4823l-48 29 43 44 48-35z" color="#1a8477"/>
<path d="M6279 4963l-24 17 91 63 24-18z" color="#236779"/>
<path d="M4268 5108l-87 110 23 10 88-105z" color="#2e3f6b"/>
<path d="M4973 4858l-86 83 25 18 86-84z" color="#1b7674"/>
<path d="M6924 5022l-23 19 93 80 23-20z" color="#295d7c"/>
<path d="M5231 4752l-74 78 25 13 75-81z" color="#1b8469"/>
<path d="M7382 5128l-22 14 96 64 23-19z" color="#314676"/>
<path d="M5489 4776l-56 37 34 25 56-29z" color="#1c8d72"/>
<path d="M4404 5041l-88 97 24 16 88-95z" color="#295374"/>
<path d="M7680 5201l-21 14 97 65 22-16z" color="#383671"/>
<path d="M5967 4943l-29 18 79 59 28-19z" color="#216d79"/>
<path d="M6764 4996l-23 15 92 81 23-15z" color="#26627a"/>
<path d="M7223 5089l-23 21 94 80 22-15z" color="#2f4f7a"/>
<path d="M4540 4978l-87 97 24 13 87-92z" color="#235d73"/>
<path d="M4676 4921l-87 89 24 16 88-91z" color="#1f6a74"/>
<path d="M6441 4964l-24 26 92 57 24-25z" color="#226676"/>
<path d="M4837 4901l-87 83 25 22 87-81z" color="#1f737a"/>
<path d="M6097 4969l-25 17 86 71 25-18z" color="#24677a"/>
<path d="M7062 5068l-22 15 93 80 22-15z" color="#2c547a"/>
<path d="M6602 4979l-22 12 92 67 23-16z" color="#236577"/>
<path d="M4998 4875l-86 84 25 25 87-86z" color="#1d7879"/>
<path d="M5374 4754l-65 55 29 13 65-38z" color="#20906d"/>
<path d="M6255 4980l-24 20 92 61 23-18z" color="#246779"/>
<path d="M3997 5249l-93 24 23 4 94-16z" color="#292651"/>
<path d="M6901 5041l-23 19 93 81 23-20z" color="#2a5b7c"/>
<path d="M7522 5158l-22 12 95 86 21-15z" color="#334275"/>
<path d="M5131 4806l-82 103 25 15 83-94z" color="#197e70"/>
<path d="M4157 5209l-90 64 23 7 91-62z" color="#312f63"/>
<path d="M4292 5123l-88 105 24 9 88-99z" color="#2e416d"/>
<path d="M7360 5142l-22 16 96 68 22-20z" color="#324777"/>
<path d="M5838 4915l-36 18 69 60 35-17z" color="#1e7378"/>
<path d="M5744 4874l-41 28 59 54 40-23z" color="#1c7c78"/>
<path d="M5523 4809l-56 29 39 43 55-29z" color="#1a8874"/>
<path d="M5257 4762l-75 81 26 10 74-63z" color="#1d8c6d"/>
<path d="M6417 4990l-24 18 93 58 23-19z" color="#236678"/>
<path d="M5652 4861l-48 35 51 44 48-38z" color="#1b8179"/>
<path d="M4428 5059l-88 95 25 15 88-94z" color="#295273"/>
<path d="M4701 4935l-88 91 25 25 87-95z" color="#206c78"/>
<path d="M7200 5110l-22 20 94 74 22-14z" color="#2f4e79"/>
<path d="M4862 4925l-87 81 25 18 87-83z" color="#1f6e76"/>
<path d="M7659 5215l-21 12 97 70 21-17z" color="#383771"/>
<path d="M6741 5011l-23 15 92 80 23-14z" color="#26637a"/>
<path d="M4564 4996l-87 92 24 11 88-89z" color="#235d72"/>
<path d="M5024 4898l-87 86 26 20 86-95z" color="#1c7274"/>
<path d="M7040 5083l-23 18 94 78 22-16z" color="#2c547a"/>
<path d="M5403 4784l-65 38 30 35 65-44z" color="#1d9072"/>
<path d="M5938 4961l-32 15 79 64 32-20z" color="#216c78"/>
<path d="M6072 4986l-27 15 87 76 26-20z" color="#24677a"/>
<path d="M6580 4991l-23 14 92 70 23-17z" color="#23687a"/>
<path d="M6231 5000l-23 20 91 59 24-18z" color="#246679"/>
<path d="M6878 5060l-22 17 92 83 23-19z" color="#2a5a7b"/>
<path d="M5157 4830l-83 94 25 22 83-103z" color="#197d70"/>
<path d="M7500 5170l-21 17 94 86 22-17z" color="#347"/>
<path d="M5561 4852l-55 29 43 51 55-36z" color="#1a8377"/>
<path d="M7338 5158l-22 17 96 71 22-20z" color="#334677"/>
<path d="M5282 4790l-74 63 27 26 74-70z" color="#1d8f72"/>
<path d="M4725 4956l-87 95 25 19 87-86z" color="#226b79"/>
<path d="M6393 5008l-23 17 92 61 24-20z" color="#236679"/>
<path d="M4887 4941l-87 83 26 28 86-93z" color="#1f6f77"/>
<path d="M4316 5138l-88 99 24 8 88-91z" color="#2d436e"/>
<path d="M4021 5261l-94 16 23 4 94-14z" color="#25264d"/>
<path d="M4181 5218l-91 62 24 9 90-61z" color="#313265"/>
<path d="M7178 5130l-23 18 95 69 22-13z" color="#2f4d78"/>
<path d="M4453 5075l-88 94 24 11 88-92z" color="#285171"/>
<path d="M7638 5227l-22 14 97 73 22-17z" color="#383772"/>
<path d="M6718 5026l-23 16 93 79 22-15z" color="#26637b"/>
<path d="M4589 5010l-88 89 25 19 87-92z" color="#246176"/>
<path d="M5433 4813l-65 44 34 35 65-54z" color="#1c8e74"/>
<path d="M7017 5101l-23 20 94 75 23-17z" color="#2d547a"/>
<path d="M6208 5020l-25 19 92 59 24-19z" color="#246579"/>
<path d="M5049 4909l-86 95 25 16 86-96z" color="#1b7172"/>
<path d="M6557 5005l-24 17 93 71 23-18z" color="#24687b"/>
<path d="M6856 5077l-23 15 93 84 22-16z" color="#2a597a"/>
<path d="M4750 4984l-87 86 25 17 87-81z" color="#226979"/>
<path d="M5703 4902l-48 38 59 51 48-35z" color="#1c7d7a"/>
<path d="M6045 5001l-28 19 86 75 29-18z" color="#236779"/>
<path d="M5802 4933l-40 23 68 58 41-21z" color="#1e7578"/>
<path d="M5182 4843l-83 103 26 13 83-106z" color="#187568"/>
<path d="M7479 5187l-23 19 95 84 22-17z" color="#344477"/>
<path d="M4912 4959l-86 93 25 25 86-93z" color="#216d78"/>
<path d="M7316 5175l-22 15 96 72 22-16z" color="#324677"/>
<path d="M5309 4809l-74 70 28 22 75-79z" color="#1b886d"/>
<path d="M6370 5025l-24 18 93 63 23-20z" color="#246579"/>
<path d="M5604 4896l-55 36 50 50 56-42z" color="#1c7f79"/>
<path d="M5906 4976l-35 17 78 69 36-22z" color="#206e78"/>
<path d="M7155 5148l-22 15 95 67 22-13z" color="#2e4d77"/>
<path d="M4613 5026l-87 92 24 19 88-86z" color="#256279"/>
<path d="M4340 5154l-88 91 24 6 89-82z" color="#2c446e"/>
<path d="M6695 5042l-23 16 93 81 23-18z" color="#26647b"/>
<path d="M7616 5241l-21 15 96 75 22-17z" color="#383872"/>
<path d="M5467 4838l-65 54 39 37 65-48z" color="#1b8b75"/>
<path d="M4204 5228l-90 61 23 9 91-61z" color="#2f3566"/>
<path d="M6533 5022l-24 25 93 69 24-23z" color="#24667a"/>
<path d="M6994 5121l-23 20 94 72 23-17z" color="#2d547a"/>
<path d="M5074 4924l-86 96 25 25 86-99z" color="#1d7477"/>
<path d="M6183 5039l-25 18 92 62 25-21z" color="#246479"/>
<path d="M4477 5088l-88 92 24 11 88-92z" color="#275371"/>
<path d="M4044 5267l-94 14 23 7 94-15z" color="#262c53"/>
<path d="M4937 4984l-86 93 25 22 87-95z" color="#216a77"/>
<path d="M4775 5006l-87 81 25 20 87-83z" color="#23697a"/>
<path d="M6833 5092l-23 14 93 86 23-16z" color="#2a597a"/>
<path d="M7456 5206l-22 20 95 80 22-16z" color="#354378"/>
<path d="M6346 5043l-23 18 92 65 24-20z" color="#25657a"/>
<path d="M5208 4853l-83 106 27 16 83-96z" color="#197f70"/>
<path d="M5338 4822l-75 79 31 20 74-64z" color="#1c8b71"/>
<path d="M7294 5190l-22 14 96 72 22-14z" color="#314575"/>
<path d="M6017 5020l-32 20 87 73 31-18z" color="#236879"/>
<path d="M4638 5051l-88 86 25 16 88-83z" color="#256078"/>
<path d="M6509 5047l-23 19 92 72 24-22z" color="#25667b"/>
<path d="M5099 4946l-86 99 26 24 86-110z" color="#1d6e73"/>
<path d="M6672 5058l-23 17 92 82 24-18z" color="#26637b"/>
<path d="M5506 4881l-65 48 43 46 65-43z" color="#1a8476"/>
<path d="M7133 5163l-22 16 95 65 22-14z" color="#2e4e77"/>
<path d="M6971 5141l-23 19 95 70 22-17z" color="#2d537a"/>
<path d="M7595 5256l-22 17 97 75 21-17z" color="#383872"/>
<path d="M4800 5024l-87 83 25 25 88-80z" color="#24687a"/>
<path d="M6158 5057l-26 20 91 64 27-22z" color="#256379"/>
<path d="M4963 5004l-87 95 25 17 87-96z" color="#206674"/>
<path d="M4501 5099l-88 92 24 16 89-89z" color="#285675"/>
<path d="M4365 5169l-89 82 23 7 90-78z" color="#2b466d"/>
<path d="M5655 4940l-56 42 59 57 56-48z" color="#1d7b7b"/>
<path d="M5762 4956l-48 35 69 55 47-32z" color="#1d7779"/>
<path d="M4228 5237l-91 61 24 10 91-63z" color="#2e3765"/>
<path d="M7434 5226l-22 20 96 75 21-15z" color="#354277"/>
<path d="M5235 4879l-83 96 28 29 83-103z" color="#1a7e72"/>
<path d="M5368 4857l-74 64 34 41 74-70z" color="#1b8a75"/>
<path d="M6323 5061l-24 18 92 66 24-19z" color="#25657a"/>
<path d="M6810 5106l-22 15 92 87 23-16z" color="#2a5a7a"/>
<path d="M4067 5273l-94 15 23 11 94-19z" color="#273158"/>
<path d="M5871 4993l-41 21 78 75 41-27z" color="#207079"/>
<path d="M6486 5066l-24 20 93 72 23-20z" color="#25657b"/>
<path d="M7272 5204l-22 13 96 71 22-12z" color="#304674"/>
<path d="M4826 5052l-88 80 25 23 88-78z" color="#25667b"/>
<path d="M4663 5070l-88 83 25 14 88-80z" color="#255f76"/>
<path d="M6649 5075l-23 18 92 82 23-18z" color="#26637c"/>
<path d="M5125 4959l-86 110 27 16 86-110z" color="#1c696d"/>
<path d="M6948 5160l-22 16 94 70 23-16z" color="#2d5279"/>
<path d="M7573 5273l-22 17 97 75 22-17z" color="#383873"/>
<path d="M4988 5020l-87 96 25 22 87-93z" color="#226978"/>
<path d="M5549 4932l-65 43 51 58 64-51z" color="#1b7e78"/>
<path d="M7111 5179l-23 17 96 65 22-17z" color="#2e4e78"/>
<path d="M6132 5077l-29 18 91 70 29-24z" color="#25637a"/>
<path d="M4526 5118l-89 89 25 16 88-86z" color="#285675"/>
<path d="M5402 4892l-74 70 38 44 75-77z" color="#1a8476"/>
<path d="M5985 5040l-36 22 87 76 36-25z" color="#236a7b"/>
<path d="M5263 4901l-83 103 31 24 83-107z" color="#19796f"/>
<path d="M6299 5079l-24 19 92 63 24-16z" color="#25647a"/>
<path d="M7412 5246l-22 16 96 73 22-14z" color="#344276"/>
<path d="M6788 5121l-23 18 92 86 23-17z" color="#2a5a7b"/>
<path d="M4389 5180l-90 78 24 7 90-74z" color="#2a486d"/>
<path d="M4851 5077l-88 78 25 20 88-76z" color="#26647b"/>
<path d="M6462 5086l-23 20 92 74 24-22z" color="#26637b"/>
<path d="M4252 5245l-91 63 24 9 91-66z" color="#2c3965"/>
<path d="M5013 5045l-87 93 26 26 87-95z" color="#236678"/>
<path d="M6626 5093l-24 23 92 82 24-23z" color="#27627c"/>
<path d="M4090 5280l-94 19 24 10 94-20z" color="#27355b"/>
<path d="M4688 5087l-88 80 25 18 88-78z" color="#256179"/>
<path d="M7250 5217l-22 13 97 70 21-12z" color="#2f4874"/>
<path d="M5152 4975l-86 110 28 21 86-102z" color="#1d7074"/>
<path d="M7551 5290l-22 16 97 76 22-17z" color="#383872"/>
<path d="M7088 5196l-23 17 96 66 23-18z" color="#2e4f78"/>
<path d="M6926 5176l-23 16 95 69 22-15z" color="#2c5279"/>
<path d="M5714 4991l-56 48 69 63 56-56z" color="#1f757a"/>
<path d="M5441 4929l-75 77 43 50 75-81z" color="#1b7d76"/>
<path d="M4550 5137l-88 86 24 14 89-84z" color="#275674"/>
<path d="M6275 5098l-25 21 92 61 25-19z" color="#256379"/>
<path d="M5294 4921l-83 107 34 25 83-91z" color="#1a7a71"/>
<path d="M5599 4982l-64 51 58 57 65-51z" color="#1e797b"/>
<path d="M6765 5139l-24 18 93 85 23-17z" color="#2a5a7b"/>
<path d="M5830 5014l-47 32 78 74 47-31z" color="#20727a"/>
<path d="M6439 5106l-24 20 92 73 24-19z" color="#27627b"/>
<path d="M4876 5099l-88 76 25 19 88-78z" color="#266079"/>
<path d="M6103 5095l-31 18 90 74 32-22z" color="#25637a"/>
<path d="M7390 5262l-22 14 96 73 22-14z" color="#334174"/>
<path d="M6602 5116l-24 22 93 78 23-18z" color="#28617c"/>
<path d="M5039 5069l-87 95 27 20 87-99z" color="#236275"/>
<path d="M4713 5107l-88 78 25 22 88-75z" color="#27627c"/>
<path d="M4413 5191l-90 74 25 13 89-71z" color="#2b4d73"/>
<path d="M5949 5062l-41 27 87 81 41-32z" color="#236a7b"/>
<path d="M5180 5004l-86 102 31 27 86-105z" color="#1e6e75"/>
<path d="M7065 5213l-22 17 96 67 22-18z" color="#2e4e78"/>
<path d="M7529 5306l-21 15 96 79 22-18z" color="#383873"/>
<path d="M4276 5251l-91 66 24 6 90-65z" color="#2a3b64"/>
<path d="M7228 5230l-22 14 97 68 22-12z" color="#2f4a75"/>
<path d="M4114 5289l-94 20 24 11 93-22z" color="#27375d"/>
<path d="M6903 5192l-23 16 95 70 23-17z" color="#2c5379"/>
<path d="M5484 4975l-75 81 51 58 75-81z" color="#1d7476"/>
<path d="M4575 5153l-89 84 25 13 89-83z" color="#275673"/>
<path d="M5328 4962l-83 91 38 37 83-84z" color="#1c7a77"/>
<path d="M6250 5119l-27 22 93 59 26-20z" color="#256179"/>
<path d="M6415 5126l-24 19 93 73 23-19z" color="#27617b"/>
<path d="M6741 5157l-23 18 93 85 23-18z" color="#2a5a7b"/>
<path d="M4901 5116l-88 78 26 17 87-73z" color="#266079"/>
<path d="M4738 5132l-88 75 25 22 88-74z" color="#28607b"/>
<path d="M6578 5138l-23 20 93 77 23-19z" color="#28607c"/>
<path d="M7368 5276l-22 12 96 75 22-14z" color="#324274"/>
<path d="M5066 5085l-87 99 28 14 87-92z" color="#226073"/>
<path d="M4437 5207l-89 71 24 16 90-71z" color="#2c5076"/>
<path d="M6072 5113l-36 25 91 77 35-28z" color="#26647b"/>
<path d="M7043 5230l-23 16 96 67 23-16z" color="#2e4e78"/>
<path d="M5211 5028l-86 105 34 26 86-106z" color="#1e6a73"/>
<path d="M7508 5321l-22 14 96 82 22-17z" color="#383973"/>
<path d="M6880 5208l-23 17 95 69 23-16z" color="#2c5379"/>
<path d="M5658 5039l-65 51 69 65 65-53z" color="#20737c"/>
<path d="M7206 5244l-22 17 96 66 23-15z" color="#2f4c77"/>
<path d="M5366 5006l-83 84 44 49 82-83z" color="#1e7578"/>
<path d="M5783 5046l-56 56 78 70 56-52z" color="#206f79"/>
<path d="M4926 5138l-87 73 25 20 88-67z" color="#27607b"/>
<path d="M4763 5155l-88 74 25 21 88-75z" color="#285e7b"/>
<path d="M6718 5175l-24 23 94 77 23-15z" color="#2b597b"/>
<path d="M4137 5298l-93 22 23 10 94-22z" color="#273a5e"/>
<path d="M6391 5145l-24 16 93 72 24-15z" color="#266079"/>
<path d="M6555 5158l-24 22 93 75 24-20z" color="#295e7c"/>
<path d="M4600 5167l-89 83 25 14 89-79z" color="#275875"/>
<path d="M6223 5141l-29 24 93 58 29-23z" color="#256078"/>
<path d="M4299 5258l-90 65 24 7 90-65z" color="#293f66"/>
<path d="M5535 5033l-75 81 59 59 74-83z" color="#206f78"/>
<path d="M5908 5089l-47 31 87 81 47-31z" color="#236a7b"/>
<path d="M7346 5288l-21 12 95 79 22-16z" color="#324475"/>
<path d="M4462 5223l-90 71 25 17 89-74z" color="#2c5076"/>
<path d="M5094 5106l-87 92 31 23 87-88z" color="#246579"/>
<path d="M7020 5246l-22 15 95 67 23-15z" color="#2e4e77"/>
<path d="M6857 5225l-23 17 95 68 23-16z" color="#2c5278"/>
<path d="M4952 5164l-88 67 27 21 88-68z" color="#275e7a"/>
<path d="M7486 5335l-22 14 96 85 22-17z" color="#373a74"/>
<path d="M7184 5261l-23 18 97 65 22-17z" color="#2f4c78"/>
<path d="M4788 5175l-88 75 25 19 88-75z" color="#285c79"/>
<path d="M5245 5053l-86 106 38 29 86-98z" color="#1f6a74"/>
<path d="M5409 5056l-82 83 50 52 83-77z" color="#216f7a"/>
<path d="M6531 5180l-24 19 93 75 24-19z" color="#295d7b"/>
<path d="M6694 5198l-23 18 94 75 23-16z" color="#2b587a"/>
<path d="M4625 5185l-89 79 25 14 89-71z" color="#285b79"/>
<path d="M6036 5138l-41 32 91 71 41-26z" color="#26637a"/>
<path d="M6367 5161l-25 19 93 68 25-15z" color="#266078"/>
<path d="M6194 5165l-32 22 93 67 32-31z" color="#265f78"/>
<path d="M4161 5308l-94 22 24 11 94-24z" color="#263b5f"/>
<path d="M4323 5265l-90 65 24 7 91-59z" color="#294469"/>
<path d="M7325 5300l-22 12 95 82 22-15z" color="#324576"/>
<path d="M4486 5237l-89 74 24 18 90-79z" color="#2b4f75"/>
<path d="M5125 5133l-87 88 33 31 88-93z" color="#256379"/>
<path d="M6998 5261l-23 17 96 66 22-16z" color="#2d4e77"/>
<path d="M5727 5102l-65 53 78 78 65-61z" color="#236b7c"/>
<path d="M7161 5279l-22 18 96 64 23-17z" color="#2f4c78"/>
<path d="M6834 5242l-23 18 95 63 23-13z" color="#2b5176"/>
<path d="M4813 5194l-88 75 25 15 89-73z" color="#275a77"/>
<path d="M6507 5199l-23 19 93 75 23-19z" color="#295c7b"/>
<path d="M5593 5090l-74 83 68 62 75-80z" color="#226979"/>
<path d="M4979 5184l-88 68 28 20 88-74z" color="#265a76"/>
<path d="M7464 5349l-22 14 96 88 22-17z" color="#373b74"/>
<path d="M6671 5216l-23 19 94 71 23-15z" color="#2a5779"/>
<path d="M4650 5207l-89 71 25 19 89-68z" color="#2a5b7b"/>
<path d="M5283 5090l-86 98 43 42 87-91z" color="#216a78"/>
<path d="M6342 5180l-26 20 93 66 26-18z" color="#266079"/>
<path d="M5460 5114l-83 77 59 59 83-77z" color="#246a7b"/>
<path d="M5861 5120l-56 52 87 68 56-39z" color="#23697b"/>
<path d="M6162 5187l-35 28 92 68 36-29z" color="#275f7a"/>
<path d="M4185 5317l-94 24 24 10 94-28z" color="#243d5e"/>
<path d="M4511 5250l-90 79 25 17 90-82z" color="#2b5074"/>
<path d="M7303 5312l-23 15 96 82 22-15z" color="#324777"/>
<path d="M4348 5278l-91 59 24 10 91-53z" color="#2a496e"/>
<path d="M5159 5159l-88 93 39 33 87-97z" color="#256077"/>
<path d="M7139 5297l-23 16 97 66 22-18z" color="#2f4b77"/>
<path d="M6975 5278l-23 16 96 66 23-16z" color="#2d4f77"/>
<path d="M6484 5218l-24 15 93 79 24-19z" color="#295b7a"/>
<path d="M4675 5229l-89 68 25 20 89-67z" color="#2a5a7b"/>
<path d="M4839 5211l-89 73 26 14 88-67z" color="#265a75"/>
<path d="M7442 5363l-22 16 96 90 22-18z" color="#383b75"/>
<path d="M6811 5260l-23 15 96 59 22-11z" color="#2a5174"/>
<path d="M6648 5235l-24 20 94 68 24-17z" color="#2a5779"/>
<path d="M5995 5170l-47 31 91 67 47-27z" color="#256278"/>
<path d="M5007 5198l-88 74 31 19 88-70z" color="#265b76"/>
<path d="M5327 5139l-87 91 51 46 86-85z" color="#24677a"/>
<path d="M6316 5200l-29 23 93 67 29-24z" color="#27617a"/>
<path d="M4536 5264l-90 82 25 16 90-84z" color="#2a5074"/>
<path d="M7280 5327l-22 17 96 79 22-14z" color="#314877"/>
<path d="M4372 5294l-91 53 24 14 92-50z" color="#2b4c72"/>
<path d="M4700 5250l-89 67 25 21 89-69z" color="#2a5879"/>
<path d="M7116 5313l-23 15 97 69 23-18z" color="#2f4b77"/>
<path d="M6624 5255l-24 19 95 70 23-21z" color="#2b577a"/>
<path d="M6952 5294l-23 16 96 68 23-18z" color="#2d4f77"/>
<path d="M4209 5323l-94 28 24 11 94-32z" color="#243f5f"/>
<path d="M4864 5231l-88 67 26 15 89-61z" color="#275b78"/>
<path d="M6460 5233l-25 15 93 81 25-17z" color="#295b7a"/>
<path d="M5662 5155l-75 80 79 67 74-69z" color="#25657a"/>
<path d="M7420 5379l-22 15 95 93 23-18z" color="#383b75"/>
<path d="M6127 5215l-41 26 92 67 41-25z" color="#275d78"/>
<path d="M5519 5173l-83 77 69 60 82-75z" color="#26647c"/>
<path d="M6788 5275l-23 16 96 56 23-13z" color="#295172"/>
<path d="M5197 5188l-87 97 43 33 87-88z" color="#265f78"/>
<path d="M5038 5221l-88 70 34 25 87-64z" color="#285e7a"/>
<path d="M5805 5172l-65 61 87 66 65-59z" color="#25647a"/>
<path d="M6287 5223l-32 31 93 62 32-26z" color="#275e79"/>
<path d="M5377 5191l-86 85 59 58 86-84z" color="#26627b"/>
<path d="M4725 5269l-89 69 25 17 89-71z" color="#2a5577"/>
<path d="M4561 5278l-90 84 25 16 90-81z" color="#2a5174"/>
<path d="M6600 5274l-23 19 94 72 24-21z" color="#2b567a"/>
<path d="M4397 5311l-92 50 25 19 91-51z" color="#2c4d74"/>
<path d="M7258 5344l-23 17 97 77 22-15z" color="#314877"/>
<path d="M7093 5328l-22 16 96 71 23-18z" color="#2f4c78"/>
<path d="M6929 5310l-23 13 96 74 23-19z" color="#2d5078"/>
<path d="M7398 5394l-22 15 95 96 22-18z" color="#373b75"/>
<path d="M4891 5252l-89 61 28 19 89-60z" color="#275b78"/>
<path d="M6435 5248l-26 18 93 79 26-16z" color="#295c7a"/>
<path d="M6765 5291l-23 15 96 54 23-13z" color="#285272"/>
<path d="M5948 5201l-56 39 92 64 55-36z" color="#246378"/>
<path d="M4233 5330l-94 32 24 10 94-35z" color="#234361"/>
<path d="M5071 5252l-87 64 38 36 88-67z" color="#295b7b"/>
<path d="M5240 5230l-87 88 51 39 87-81z" color="#285e7a"/>
<path d="M6577 5293l-24 19 94 73 24-20z" color="#2c557a"/>
<path d="M6255 5254l-36 29 93 58 36-25z" color="#275b77"/>
<path d="M4586 5297l-90 81 25 16 90-77z" color="#2b5377"/>
<path d="M4421 5329l-91 51 25 19 91-53z" color="#2c4d75"/>
<path d="M7235 5361l-22 18 96 75 23-16z" color="#314978"/>
<path d="M4750 5284l-89 71 25 15 90-72z" color="#285373"/>
<path d="M7071 5344l-23 16 96 75 23-20z" color="#304d79"/>
<path d="M6906 5323l-22 11 95 81 23-18z" color="#2d5078"/>
<path d="M7376 5409l-22 14 94 100 23-18z" color="#373b74"/>
<path d="M6086 5241l-47 27 92 66 47-26z" color="#255d75"/>
<path d="M4919 5272l-89 60 31 22 89-63z" color="#275a77"/>
<path d="M6742 5306l-24 17 97 56 23-19z" color="#295475"/>
<path d="M6409 5266l-29 24 93 72 29-17z" color="#285c7a"/>
<path d="M5587 5235l-82 75 78 67 83-75z" color="#285e7b"/>
<path d="M5436 5250l-86 84 68 68 87-92z" color="#295b7a"/>
<path d="M4257 5337l-94 35 25 11 93-36z" color="#244664"/>
<path d="M5740 5233l-74 69 87 65 74-68z" color="#275f7a"/>
<path d="M6553 5312l-25 17 94 75 25-19z" color="#2c5479"/>
<path d="M4611 5317l-90 77 25 17 90-73z" color="#2b5378"/>
<path d="M5110 5285l-88 67 44 37 87-71z" color="#2a5879"/>
<path d="M4446 5346l-91 53 25 19 91-56z" color="#2c4d75"/>
<path d="M7213 5379l-23 18 97 76 22-19z" color="#314978"/>
<path d="M7048 5360l-23 18 96 77 23-20z" color="#304d7a"/>
<path d="M4776 5298l-90 72 27 15 89-72z" color="#275372"/>
<path d="M6884 5334l-23 13 95 85 23-17z" color="#2d5178"/>
<path d="M7354 5423l-22 15 94 103 22-18z" color="#373b74"/>
<path d="M6718 5323l-23 21 96 56 24-21z" color="#2a5476"/>
<path d="M5291 5276l-87 81 59 57 87-80z" color="#2a5a7b"/>
<path d="M6219 5283l-41 25 94 62 40-29z" color="#265975"/>
<path d="M4950 5291l-89 63 34 22 89-60z" color="#275a77"/>
<path d="M5892 5240l-65 59 92 57 65-52z" color="#256178"/>
<path d="M6380 5290l-32 26 94 66 31-20z" color="#285c79"/>
<path d="M4636 5338l-90 73 25 18 90-74z" color="#2c5378"/>
<path d="M4281 5347l-93 36 24 14 93-36z" color="#254d6b"/>
<path d="M7025 5378l-23 19 96 79 23-21z" color="#314c7a"/>
<path d="M7190 5397l-23 18 97 78 23-20z" color="#324979"/>
<path d="M4471 5362l-91 56 25 18 91-58z" color="#2c4d74"/>
<path d="M6528 5329l-26 16 94 77 26-18z" color="#2b5478"/>
<path d="M6695 5344l-24 21 96 60 24-25z" color="#2b5377"/>
<path d="M7332 5438l-23 16 94 106 23-19z" color="#373c74"/>
<path d="M6861 5347l-23 13 95 87 23-15z" color="#2c5379"/>
<path d="M4802 5313l-89 72 28 17 89-70z" color="#285776"/>
<path d="M6039 5268l-55 36 92 72 55-42z" color="#26627a"/>
<path d="M5153 5318l-87 71 50 42 88-74z" color="#2a5679"/>
<path d="M7002 5397l-23 18 95 82 24-21z" color="#324b7a"/>
<path d="M7167 5415l-23 20 97 79 23-21z" color="#334879"/>
<path d="M4661 5355l-90 74 26 19 89-78z" color="#2b5276"/>
<path d="M5505 5310l-87 92 79 64 86-89z" color="#2a5678"/>
<path d="M4305 5361l-93 36 25 19 93-36z" color="#285272"/>
<path d="M4984 5316l-89 60 38 23 89-47z" color="#285a77"/>
<path d="M4496 5378l-91 58 25 17 91-59z" color="#2c4d75"/>
<path d="M6671 5365l-24 20 95 65 25-25z" color="#2c5278"/>
<path d="M5350 5334l-87 80 68 78 87-90z" color="#2d5279"/>
<path d="M6348 5316l-36 25 94 70 36-29z" color="#285b78"/>
<path d="M5666 5302l-83 75 88 65 82-75z" color="#295a79"/>
<path d="M6502 5345l-29 17 94 78 29-18z" color="#2a5578"/>
<path d="M7309 5454l-22 19 94 105 22-18z" color="#373b74"/>
<path d="M6178 5308l-47 26 94 70 47-34z" color="#275d78"/>
<path d="M6838 5360l-23 19 95 82 23-14z" color="#2c547a"/>
<path d="M4830 5332l-89 70 31 23 89-71z" color="#295a79"/>
<path d="M7144 5435l-23 20 96 78 24-19z" color="#334779"/>
<path d="M6979 5415l-23 17 95 85 23-20z" color="#324a79"/>
<path d="M6647 5385l-25 19 95 70 25-24z" color="#2d5179"/>
<path d="M5827 5299l-74 68 92 65 74-76z" color="#275c77"/>
<path d="M4330 5380l-93 36 25 20 93-37z" color="#295273"/>
<path d="M4686 5370l-89 78 26 19 90-82z" color="#2a5175"/>
<path d="M4521 5394l-91 59 25 18 91-60z" color="#2d4e76"/>
<path d="M5204 5357l-88 74 59 63 88-80z" color="#2d557b"/>
<path d="M7287 5473l-23 20 94 103 23-18z" color="#373b74"/>
<path d="M5022 5352l-89 47 44 34 89-44z" color="#285877"/>
<path d="M6815 5379l-24 21 96 75 23-14z" color="#2c547a"/>
<path d="M6473 5362l-31 20 94 82 31-24z" color="#2b5779"/>
<path d="M6312 5341l-40 29 93 77 41-36z" color="#295c7b"/>
<path d="M7121 5455l-23 21 96 76 23-19z" color="#344678"/>
<path d="M4861 5354l-89 71 34 28 89-77z" color="#295879"/>
<path d="M6956 5432l-23 15 95 87 23-17z" color="#314978"/>
<path d="M4355 5399l-93 37 25 19 93-37z" color="#295173"/>
<path d="M5984 5304l-65 52 93 66 64-46z" color="#26617a"/>
<path d="M6622 5404l-26 18 95 75 26-23z" color="#2e5179"/>
<path d="M4546 5411l-91 60 25 20 91-62z" color="#2d4e77"/>
<path d="M5418 5402l-87 90 79 75 87-101z" color="#304976"/>
<path d="M4713 5385l-90 82 28 19 90-84z" color="#2a5175"/>
<path d="M7264 5493l-23 21 94 101 23-19z" color="#373a74"/>
<path d="M6791 5400l-24 25 96 66 24-16z" color="#2d5379"/>
<path d="M5263 5414l-88 80 68 90 88-92z" color="#304976"/>
<path d="M6131 5334l-55 42 93 68 56-40z" color="#275e7a"/>
<path d="M5583 5377l-86 89 87 72 87-96z" color="#2c5177"/>
<path d="M7098 5476l-24 21 97 73 23-18z" color="#344477"/>
<path d="M4380 5418l-93 37 25 20 93-39z" color="#294f72"/>
<path d="M5066 5389l-89 44 50 54 89-56z" color="#2a5679"/>
<path d="M6933 5447l-23 14 95 86 23-13z" color="#304977"/>
<path d="M4571 5429l-91 62 26 21 91-64z" color="#2e4e77"/>
<path d="M6442 5382l-36 29 94 84 36-31z" color="#2c587b"/>
<path d="M6596 5422l-29 18 95 78 29-21z" color="#2e5079"/>
<path d="M4895 5376l-89 77 38 26 89-80z" color="#285676"/>
<path d="M7241 5514l-24 19 95 100 23-18z" color="#383a74"/>
<path d="M5753 5367l-82 75 91 68 83-78z" color="#2a5779"/>
<path d="M6767 5425l-25 25 97 60 24-19z" color="#2d5077"/>
<path d="M4741 5402l-90 84 31 20 90-81z" color="#2b5377"/>
<path d="M6272 5370l-47 34 93 81 47-38z" color="#295b7a"/>
<path d="M7074 5497l-23 20 97 71 23-18z" color="#344477"/>
<path d="M4405 5436l-93 39 25 20 93-42z" color="#294f72"/>
<path d="M4597 5448l-91 64 26 21 91-66z" color="#2e4e78"/>
<path d="M7217 5533l-23 19 96 99 22-18z" color="#383974"/>
<path d="M6910 5461l-23 14 95 84 23-12z" color="#2f4b76"/>
<path d="M5331 5492l-88 92 79 90 88-107z" color="#353b72"/>
<path d="M5116 5431l-89 56 60 79 88-72z" color="#2e4f78"/>
<path d="M6742 5450l-25 24 97 59 25-23z" color="#2d4e76"/>
<path d="M5919 5356l-74 76 93 57 74-67z" color="#275b77"/>
<path d="M6567 5440l-31 24 95 77 31-23z" color="#2e517a"/>
<path d="M6406 5411l-41 36 94 83 41-35z" color="#2d567b"/>
<path d="M4772 5425l-90 81 34 25 90-78z" color="#2c5479"/>
<path d="M7051 5517l-23 17 97 73 23-19z" color="#344376"/>
<path d="M4430 5453l-93 42 25 24 93-48z" color="#2a5174"/>
<path d="M4933 5399l-89 80 43 30 90-76z" color="#285877"/>
<path d="M5497 5466l-87 101 87 62 87-91z" color="#314474"/>
<path d="M6076 5376l-64 46 93 73 64-51z" color="#285d7a"/>
<path d="M4623 5467l-91 66 28 22 91-69z" color="#2e4d76"/>
<path d="M7194 5552l-23 18 96 100 23-19z" color="#383974"/>
<path d="M6717 5474l-26 23 97 60 26-24z" color="#2e4c76"/>
<path d="M5175 5494l-88 72 68 95 88-77z" color="#333f72"/>
<path d="M6887 5475l-24 16 97 78 22-10z" color="#2e4c76"/>
<path d="M6225 5404l-56 40 94 77 55-36z" color="#295b7a"/>
<path d="M4455 5471l-93 48 26 29 92-57z" color="#2c5178"/>
<path d="M7028 5534l-23 13 97 79 23-19z" color="#334375"/>
<path d="M6536 5464l-36 31 95 69 36-23z" color="#2e5079"/>
<path d="M5671 5442l-87 96 92 53 86-81z" color="#2d4d74"/>
<path d="M4806 5453l-90 78 38 28 90-80z" color="#2c5278"/>
<path d="M6365 5447l-47 38 94 81 47-36z" color="#2d537a"/>
<path d="M7171 5570l-23 18 96 101 23-19z" color="#383973"/>
<path d="M4651 5486l-91 69 31 21 91-70z" color="#2d4c75"/>
<path d="M6691 5497l-29 21 97 62 29-23z" color="#2e4b76"/>
<path d="M4977 5433l-90 76 51 46 89-68z" color="#2b587a"/>
<path d="M4480 5491l-92 57 26 29 92-65z" color="#2e5079"/>
<path d="M5243 5584l-88 77 78 103 89-90z" color="#3a2f6e"/>
<path d="M6863 5491l-24 19 98 72 23-13z" color="#2e4e77"/>
<path d="M5410 5567l-88 107 86 73 89-118z" color="#35326a"/>
<path d="M5845 5432l-83 78 93 54 83-75z" color="#2a5375"/>
<path d="M7005 5547l-23 12 97 85 23-18z" color="#334375"/>
<path d="M7148 5588l-23 19 95 100 24-18z" color="#383973"/>
<path d="M4506 5512l-92 65 27 31 91-75z" color="#304e7a"/>
<path d="M6500 5495l-41 35 96 62 40-28z" color="#2d4f77"/>
<path d="M4682 5506l-91 70 34 21 91-66z" color="#2d4d75"/>
<path d="M6662 5518l-31 23 97 61 31-22z" color="#2e4a75"/>
<path d="M4844 5479l-90 80 43 28 90-78z" color="#2c5076"/>
<path d="M5027 5487l-89 68 59 68 90-57z" color="#2e4e78"/>
<path d="M6839 5510l-25 23 98 63 25-14z" color="#2d4e77"/>
<path d="M6012 5422l-74 67 93 64 74-58z" color="#285c7a"/>
<path d="M6982 5559l-22 10 95 91 24-16z" color="#324576"/>
<path d="M4532 5533l-91 75 28 33 91-86z" color="#314b79"/>
<path d="M6169 5444l-64 51 94 70 64-44z" color="#295a7a"/>
<path d="M7125 5607l-23 19 95 100 23-19z" color="#383873"/>
<path d="M5584 5538l-87 91 91 49 88-87z" color="#304271"/>
<path d="M6318 5485l-55 36 95 75 54-30z" color="#2c5177"/>
<path d="M5322 5674l-89 90 87 91 88-108z" color="#3c2265"/>
<path d="M5087 5566l-90 57 69 87 89-49z" color="#344074"/>
<path d="M6814 5533l-26 24 98 57 26-18z" color="#2d4d75"/>
<path d="M4716 5531l-91 66 38 31 91-69z" color="#2e4e78"/>
<path d="M4560 5555l-91 86 31 30 91-95z" color="#314776"/>
<path d="M6631 5541l-36 23 98 63 35-25z" color="#2d4a74"/>
<path d="M6960 5569l-23 13 95 94 23-16z" color="#314776"/>
<path d="M7102 5626l-23 18 95 101 23-19z" color="#383773"/>
<path d="M6459 5530l-47 36 96 57 47-31z" color="#2c4d74"/>
<path d="M4887 5509l-90 78 51 37 90-69z" color="#2d5279"/>
<path d="M5762 5510l-86 81 93 42 86-69z" color="#2a4d72"/>
<path d="M5155 5661l-89 49 78 107 89-53z" color="#3a2d6c"/>
<path d="M6788 5557l-29 23 99 56 28-22z" color="#2c4b74"/>
<path d="M5497 5629l-89 118 92 53 88-122z" color="#333166"/>
<path d="M7079 5644l-24 16 96 102 23-17z" color="#383672"/>
<path d="M4591 5576l-91 95 33 16 92-90z" color="#2e4470"/>
<path d="M6937 5582l-25 14 96 96 24-16z" color="#314877"/>
<path d="M5938 5489l-83 75 94 56 82-67z" color="#295676"/>
<path d="M4754 5559l-91 69 43 34 91-75z" color="#2e4d77"/>
<path d="M6105 5495l-74 58 94 78 74-66z" color="#2a597a"/>
<path d="M6595 5564l-40 28 97 69 41-34z" color="#2e4d76"/>
<path d="M4938 5555l-90 69 59 59 90-60z" color="#2f4e79"/>
<path d="M6263 5521l-64 44 95 68 64-37z" color="#2a5476"/>
<path d="M6759 5580l-31 22 98 59 32-25z" color="#2c4b73"/>
<path d="M7055 5660l-23 16 95 103 24-17z" color="#383771"/>
<path d="M5233 5764l-89 53 87 96 89-58z" color="#3e1b60"/>
<path d="M6912 5596l-26 18 96 96 26-18z" color="#304977"/>
<path d="M6412 5566l-54 30 96 60 54-33z" color="#2a4c71"/>
<path d="M5408 5747l-88 108 91 56 89-111z" color="#391b5b"/>
<path d="M4625 5597l-92 90 38 16 92-75z" color="#2f4773"/>
<path d="M5676 5591l-88 87 93 48 88-93z" color="#2d4670"/>
<path d="M4797 5587l-91 75 51 38 91-76z" color="#2f4d77"/>
<path d="M4997 5623l-90 60 69 81 90-54z" color="#344376"/>
<path d="M7032 5676l-24 16 95 104 24-17z" color="#383771"/>
<path d="M6728 5602l-35 25 97 67 36-33z" color="#2d4c75"/>
<path d="M6555 5592l-47 31 96 80 48-42z" color="#2f4e78"/>
<path d="M6886 5614l-28 22 95 96 29-22z" color="#314a78"/>
<path d="M5855 5564l-86 69 94 59 86-72z" color="#2a5275"/>
<path d="M6031 5553l-82 67 94 79 82-68z" color="#2c567b"/>
<path d="M7008 5692l-26 18 95 105 26-19z" color="#373872"/>
<path d="M4663 5628l-92 75 43 19 92-60z" color="#2e4773"/>
<path d="M5066 5710l-90 54 79 79 89-26z" color="#383470"/>
<path d="M6199 5565l-74 66 95 63 74-61z" color="#2b5578"/>
<path d="M6693 5627l-41 34 97 77 41-44z" color="#2f4c78"/>
<path d="M6858 5636l-32 25 96 97 31-26z" color="#314a79"/>
<path d="M5320 5855l-89 58 91 71 89-73z" color="#3a1255"/>
<path d="M5588 5678l-88 122 93 37 88-111z" color="#313769"/>
<path d="M4848 5624l-91 76 59 43 91-60z" color="#304c79"/>
<path d="M6358 5596l-64 37 96 74 64-51z" color="#2b5276"/>
<path d="M6508 5623l-54 33 96 85 54-38z" color="#2e4e77"/>
<path d="M6982 5710l-29 22 96 103 28-20z" color="#373872"/>
<path d="M6826 5661l-36 33 96 96 36-32z" color="#324979"/>
<path d="M6652 5661l-48 42 97 84 48-49z" color="#324979"/>
<path d="M4706 5662l-92 60 50 27 93-49z" color="#2d4771"/>
<path d="M5144 5817l-89 26 87 90 89-20z" color="#392563"/>
<path d="M5500 5800l-89 111 93 25 89-99z" color="#35235d"/>
<path d="M5769 5633l-88 93 94 66 88-100z" color="#2d4a73"/>
<path d="M6953 5732l-31 26 96 99 31-22z" color="#373972"/>
<path d="M4907 5683l-91 60 68 59 92-38z" color="#324476"/>
<path d="M5949 5620l-86 72 94 82 86-75z" color="#2d547a"/>
<path d="M6125 5631l-82 68 95 73 82-78z" color="#2d5178"/>
<path d="M6790 5694l-41 44 96 87 41-35z" color="#344678"/>
<path d="M6294 5633l-74 61 95 86 75-73z" color="#2d537b"/>
<path d="M6454 5656l-64 51 96 86 64-52z" color="#2e517a"/>
<path d="M6604 5703l-54 38 96 91 55-45z" color="#334678"/>
<path d="M6922 5758l-36 32 97 92 35-25z" color="#373973"/>
<path d="M4757 5700l-93 49 59 39 93-45z" color="#2c476f"/>
<path d="M5681 5726l-88 111 93 61 89-106z" color="#323c6f"/>
<path d="M5231 5913l-89 20 91 103 89-52z" color="#3c195d"/>
<path d="M5411 5911l-89 73 92 40 90-88z" color="#361a56"/>
<path d="M6749 5738l-48 49 98 74 46-36z" color="#354377"/>
<path d="M4976 5764l-92 38 79 69 92-28z" color="#343a70"/>
<path d="M6886 5790l-41 35 98 86 40-29z" color="#383973"/>
<path d="M5863 5692l-88 100 94 69 88-87z" color="#304a77"/>
<path d="M6043 5699l-86 75 94 93 87-95z" color="#304c79"/>
<path d="M6220 5694l-82 78 95 90 82-82z" color="#304e7a"/>
<path d="M6390 5707l-75 73 96 85 75-72z" color="#314b79"/>
<path d="M6550 5741l-64 52 96 89 64-50z" color="#334678"/>
<path d="M5593 5837l-89 99 93 48 89-86z" color="#372c68"/>
<path d="M6701 5787l-55 45 98 74 55-45z" color="#354076"/>
<path d="M4816 5743l-93 45 69 44 92-30z" color="#2c476f"/>
<path d="M5055 5843l-92 28 88 85 91-23z" color="#36336d"/>
<path d="M6845 5825l-46 36 98 84 46-34z" color="#373a74"/>
<path d="M5322 5984l-89 52 92 54 89-66z" color="#381554"/>
<path d="M5775 5792l-89 106 95 48 88-85z" color="#333d71"/>
<path d="M6138 5772l-87 95 95 84 87-89z" color="#344377"/>
<path d="M5957 5774l-88 87 95 83 87-77z" color="#344578"/>
<path d="M6315 5780l-82 82 96 74 82-71z" color="#344578"/>
<path d="M6486 5793l-75 72 99 63 72-46z" color="#334376"/>
<path d="M6646 5832l-64 50 98 77 64-53z" color="#363f76"/>
<path d="M5504 5936l-90 88 94 39 89-79z" color="#372562"/>
<path d="M5142 5933l-91 23 91 97 91-17z" color="#382563"/>
<path d="M4884 5802l-92 30 79 58 92-19z" color="#2b446c"/>
<path d="M6799 5861l-55 45 99 77 54-38z" color="#383b75"/>
<path d="M5686 5898l-89 86 95 48 89-86z" color="#353069"/>
<path d="M6051 5867l-87 77 95 87 87-80z" color="#383d76"/>
<path d="M5869 5861l-88 85 95 74 88-76z" color="#363f76"/>
<path d="M6233 5862l-87 89 97 69 86-84z" color="#363c74"/>
<path d="M6411 5865l-82 71 99 63 82-71z" color="#324072"/>
<path d="M5414 6024l-89 66 93 49 90-76z" color="#371c59"/>
<path d="M6744 5906l-64 53 100 70 63-46z" color="#373871"/>
<path d="M4963 5871l-92 19 87 79 93-13z" color="#2e416d"/>
<path d="M6582 5882l-72 46 99 64 71-33z" color="#313e6f"/>
<path d="M5233 6036l-91 17 92 73 91-36z" color="#341d57"/>
<path d="M5597 5984l-89 79 95 47 89-78z" color="#372d68"/>
<path d="M6146 5951l-87 80 97 74 87-85z" color="#393571"/>
<path d="M5964 5944l-88 76 96 79 87-68z" color="#393874"/>
<path d="M5781 5946l-89 86 96 57 88-69z" color="#373771"/>
<path d="M5051 5956l-93 13 92 99 92-15z" color="#31386a"/>
<path d="M6329 5936l-86 84 98 65 87-86z" color="#363b73"/>
<path d="M6680 5959l-71 33 98 90 73-53z" color="#353970"/>
<path d="M6510 5928l-82 71 100 57 81-64z" color="#304271"/>
<path d="M5325 6090l-91 36 94 56 90-43z" color="#35225c"/>
<path d="M5508 6063l-90 76 95 46 90-75z" color="#372461"/>
<path d="M5142 6053l-92 15 93 101 91-43z" color="#382d69"/>
<path d="M6059 6031l-87 68 97 60 87-54z" color="#382f6b"/>
<path d="M5692 6032l-89 78 96 50 89-71z" color="#36316b"/>
<path d="M6243 6020l-87 85 99 52 86-72z" color="#36356e"/>
<path d="M5876 6020l-88 69 97 54 87-44z" color="#36346d"/>
<path d="M6428 5999l-87 86 100 55 87-84z" color="#333a6f"/>
<path d="M6609 5992l-81 64 99 85 80-59z" color="#354176"/>
<path d="M5418 6139l-90 43 94 55 91-52z" color="#352660"/>
<path d="M5234 6126l-91 43 93 64 92-51z" color="#362964"/>
<path d="M5603 6110l-90 75 96 39 90-64z" color="#342b63"/>
<path d="M6156 6105l-87 54 99 54 87-56z" color="#332f66"/>
<path d="M5788 6089l-89 71 97 46 89-63z" color="#33346a"/>
<path d="M5972 6099l-87 44 98 54 86-38z" color="#313265"/>
<path d="M6341 6085l-86 72 100 58 86-75z" color="#35366e"/>
<path d="M6528 6056l-87 84 101 63 85-62z" color="#353e74"/>
<path d="M5328 6182l-92 51 95 57 91-53z" color="#352b64"/>
<path d="M5513 6185l-91 52 96 51 91-64z" color="#332c62"/>
<path d="M5699 6160l-90 64 97 48 90-66z" color="#323367"/>
<path d="M6255 6157l-87 56 101 50 86-48z" color="#323367"/>
<path d="M6069 6159l-86 38 99 61 86-45z" color="#303567"/>
<path d="M6441 6140l-86 75 101 50 86-62z" color="#33396e"/>
<path d="M5885 6143l-89 63 98 41 89-50z" color="#2f3969"/>
<path d="M5422 6237l-91 53 95 51 92-53z" color="#323066"/>
<path d="M5609 6224l-91 64 97 51 91-67z" color="#333469"/>
<path d="M6355 6215l-86 48 101 55 86-53z" color="#2e3766"/>
<path d="M6168 6213l-86 45 100 54 87-49z" color="#2e3866"/>
<path d="M5796 6206l-90 66 99 32 89-57z" color="#2c3864"/>
<path d="M5983 6197l-89 50 99 63 89-52z" color="#2f3e6c"/>
<path d="M5518 6288l-92 53 97 51 92-53z" color="#303466"/>
<path d="M5706 6272l-91 67 99 34 91-69z" color="#2c3864"/>
<path d="M6269 6263l-87 49 101 58 87-52z" color="#2d3f6c"/>
<path d="M6082 6258l-89 52 100 63 89-61z" color="#2f406e"/>
<path d="M5894 6247l-89 57 99 59 89-53z" color="#2d446e"/>
<path d="M5615 6339l-92 53 98 50 93-69z" color="#2c3a66"/>
<path d="M5993 6310l-89 53 100 74 89-64z" color="#2f4572"/>
<path d="M6182 6312l-89 61 102 54 88-57z" color="#2c446d"/>
<path d="M5805 6304l-91 69 99 45 91-55z" color="#2a456c"/>
<path d="M5714 6373l-93 69 100 59 92-83z" color="#2c466e"/>
<path d="M6093 6373l-89 64 101 59 90-69z" color="#2c466f"/>
<path d="M5904 6363l-91 55 100 76 91-57z" color="#2d4a73"/>
<path d="M6004 6437l-91 57 101 71 91-69z" color="#2d4972"/>
<path d="M5813 6418l-92 83 100 64 92-71z" color="#2d4d76"/>
<path d="M5913 6494l-92 71 101 69 92-69z" color="#2d4c75"/>
</g></g>
<path d="M167.1 380L160.8 383M168.1 386L166.1 373.9M253.6 441.9L247.2 445.3M254.4 448.1L252.8 435.7M351.5 512L345 515.8M352 518.3L350.9 505.5M463 591.8L456.5 596.2M463.2 598.3L462.8 585.2M591.3 683.6L584.8 688.7M591 690.3L591.6 676.9M882.6 455.3L889.5 458.8M881.5 461.6L883.8 449.1M819.7 504.6L826.7 508.4M818.7 511L820.8 498.2M750.8 558.6L757.9 562.8M750 565.1L751.7 552.1M675.1 618L682.1 622.6M674.5 624.6L675.7 611.4M591.3 683.6L598.4 688.7M591 690.3L591.6 676.9M167.1 380L160.8 383M162.9 377L171.3 383M173.3 377L167.1 380M164.4 364.4L158.1 367.4M160.2 361.4L168.7 367.4M170.7 361.4L164.4 364.4M161.8 348.5L155.4 351.5M157.5 345.6L166 351.5M168.1 345.6L161.8 348.5M159 332.4L152.6 335.3M154.8 329.5L163.3 335.3M165.4 329.5L159 332.4M156.2 316L149.7 318.9M152 313.1L160.5 318.9M162.7 313.1L156.2 316" stroke="#000" stroke-width=".8" fill="none" stroke-opacity=".7"/>
<g id="axislabels">
<text class="al" transform="translate(149.5 406.8) rotate(35.6) scale(0.680 1)" font-size="22.8" y="8.2">5107991.5</text>
<text class="al" transform="translate(236.1 468.7) rotate(35.6) scale(0.680 1)" font-size="24.2" y="8.7">5111486.5</text>
<text class="al" transform="translate(333.9 538.7) rotate(35.6) scale(0.680 1)" font-size="25.8" y="9.2">5114981.5</text>
<text class="al" transform="translate(445.4 618.6) rotate(35.6) scale(0.680 1)" font-size="27.6" y="9.9">5118476.5</text>
<text class="al" transform="translate(573.7 710.4) rotate(35.6) scale(0.680 1)" font-size="29.7" y="10.6">5121971.5</text>
<text class="al" transform="translate(314.5 569.5) rotate(35.6) scale(0.680 1)" font-size="25.8" y="9.2">Y Axis</text>
<text class="al" transform="translate(898.2 478.7) rotate(-38.1) scale(0.680 1)" font-size="24.5" y="8.8">557945.0</text>
<text class="al" transform="translate(835.3 528.0) rotate(-38.1) scale(0.680 1)" font-size="25.6" y="9.2">560390.0</text>
<text class="al" transform="translate(766.4 582.0) rotate(-38.1) scale(0.680 1)" font-size="26.8" y="9.6">562835.0</text>
<text class="al" transform="translate(690.6 641.4) rotate(-38.1) scale(0.680 1)" font-size="28.2" y="10.1">565280.0</text>
<text class="al" transform="translate(606.8 707.0) rotate(-38.1) scale(0.680 1)" font-size="29.7" y="10.6">567725.0</text>
<text class="al" transform="translate(789.6 621.0) rotate(-38.1) scale(0.680 1)" font-size="26.3" y="9.4">X Axis</text>
<text class="al" transform="translate(131.6 378.7) rotate(-99.6) scale(0.680 1)" font-size="26.4" y="9.5">682.0</text>
<text class="al" transform="translate(128.9 363.1) rotate(-99.6) scale(0.680 1)" font-size="26.4" y="9.5">1143.5</text>
<text class="al" transform="translate(126.2 347.2) rotate(-99.6) scale(0.680 1)" font-size="26.4" y="9.5">1605.0</text>
<text class="al" transform="translate(123.5 331.1) rotate(-99.6) scale(0.680 1)" font-size="26.4" y="9.5">2066.5</text>
<text class="al" transform="translate(120.7 314.8) rotate(-99.6) scale(0.680 1)" font-size="26.4" y="9.5">2528.0</text>
<text class="al" transform="translate(87.2 350.3) rotate(-99.6) scale(0.717 1)" font-size="27.3" y="9.8">Z Axis</text>
</g>
<rect x="358" y="706" width="611" height="23" fill="url(#vir)"/>
<text class="ct" x="665.5" y="686">Elevation</text>
<text class="cb" x="353.0" y="701">682.</text><text class="cb" x="510.8" y="701">1.15e+03</text><text class="cb" x="663.5" y="701">1.61e+03</text><text class="cb" x="816.2" y="701">2.08e+03</text><text class="cb" x="967.5" y="701">2.54e+03</text>
</svg>
</body></html>
